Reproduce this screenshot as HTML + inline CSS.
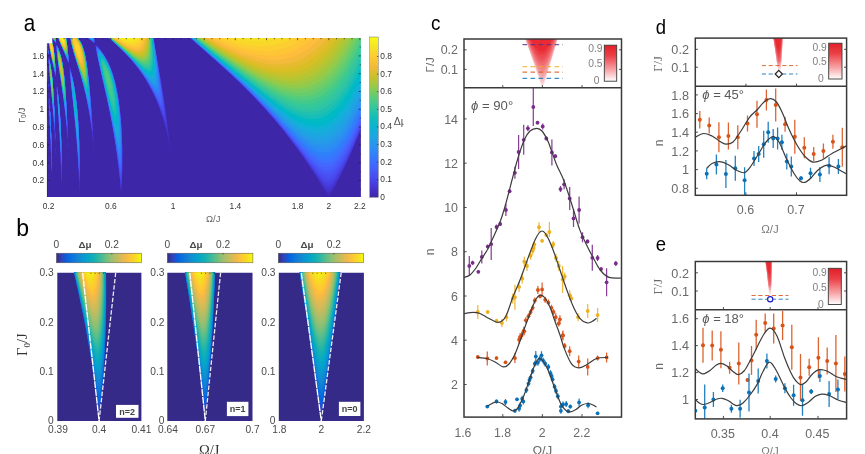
<!DOCTYPE html>
<html><head><meta charset="utf-8"><title>figure</title>
<style>html,body{margin:0;padding:0;background:#fff}svg{display:block;font-family:"Liberation Sans",sans-serif}</style>
</head><body>
<svg width="865" height="454" viewBox="0 0 865 454">
<rect width="865" height="454" fill="#fff"/>
<defs><clipPath id="ca"><path d="M52.3 38H360.9V197H47.1V43.3H52.3z"/></clipPath></defs>
<defs><filter id="ba" x="-2%" y="-2%" width="104%" height="104%"><feGaussianBlur stdDeviation="0.55"/></filter></defs>
<g clip-path="url(#ca)"><g filter="url(#ba)"><rect x="43" y="34" width="322" height="167" fill="#3e26a8"/>
<path fill="#412cb9" d="M45.1 36l1.5 0 0 0.5 0.5 0.5 0 2 0.5 0.5 0 3.5 0.5 0.5 0 6 0.5 0.5 0 4 -0.5 0.5 -0.5-0.5 0-1.5 -0.5-0.5 0-1 -0.5-0.5 0-1.5 -0.5-0.5 0-1 -0.5-0.5 0-1.5 -0.5-0.5zM48.1 36l1 0 1 1 0 0.5 0.5 0.5 0 0.5 0.5 0.5 0 0.5 0.5 0.5 0 1 0.5 0.5 0 1 0.5 0.5 0 1 0.5 0.5 0 1.5 0.5 0.5 0 2.1 0.4 0.4 0.1 0.5 0 3 0.5 0.5 0 4 0.5 0.5 0 5.5 0.5 0.5 0 6.5 0.4 0.5 0.1 5.5 -0.5 0.5 -0.5-0.5 0-2 -0.5-0.5 0-2 -0.4-0.5 -0.1-2.1 -0.4-0.4 -0.1-2 -0.5-0.5 0-2 -0.5-0.5 0-2 -0.5-0.5 0-1.5 -0.5-0.5 0-2 -0.5-0.5 0-2 -0.5-0.5 0-2 -0.5-0.5 0-2 -0.5-0.5 0-3 -0.5-0.5 0-3.5 -0.5-0.5 0-5zM51.6 36l4 0 0.4 0.5 0.1 5.5 0.4 0.5 0 1 -0.4 0.4 -0.4-0.4 -0.1-0.5 -0.5-0.5 0-0.5 -0.5-0.5 0-0.5 -1-1 0-0.5 -0.5-0.5 0-0.5 -0.5-0.5 0-0.5 -1-1zM57.6 36l8 0 0.5 0.5 0 1.5 0.5 0.5 0 2.5 0.5 0.5 0 3 0.5 0.5 0 4 0.5 0.5 0 4 0.4 0.5 0.1 4.5 0.4 0.5 0 0.5 -0.1 4 -0.3 0.3 -0.3-0.3 -0.2-1 -0.4-0.5 -0.1-1 -0.4-0.5 -0.1-1 -0.5-0.5 0-1 -0.5-0.5 0-0.6 -0.4-0.4 -0.1-1 -0.5-0.5 0-0.6 -0.4-0.4 -0.1-1 -0.5-0.5 0-0.5 -0.5-0.5 0-1 -0.5-0.5 0-0.5 -0.5-0.5 0-0.5 -0.5-0.5 0-0.6 -0.4-0.4 -0.1-1 -0.5-0.5 0-0.5 -0.5-0.5 0-1 -0.5-0.5 0-0.5 -0.5-0.5 0-1 -0.5-0.5 0-0.5 -0.5-0.5 0-1 -0.5-0.5 0-1.5zM69.7 36l6.9 0 1 1 0 0.5 1.5 1.5 0 0.5 1 1 0 0.5 0.5 0.5 0.5 1.1 0.4 0.4 0.1 1 0.5 0.5 0 0.5 0.5 0.5 0 0.6 0.4 0.4 0.1 1 0.5 0.5 0 1 0.5 0.5 0 1.5 0.5 0.5 0 1.5 0.5 0.5 0 1.5 0.5 0.5 0 2 0.5 0.5 0 2 0.4 0.5 0.1 2.5 0.4 0.5 0.1 3 0.5 0.5 0 3.2 0.3 0.3 0.2 0.5 0 3.5 0.5 0.5 0 3.8 0.5 0.7 0 4 0.4 0.5 0.1 4.5 0.4 0.5 0 0.5 0.1 4.5 0.4 0.5 0 0.5 0.1 5 0.4 0.5 0.1 5.5 0.4 0.5 0.1 6 0.4 0.5 0.1 6 0.4 1 0.1 6.5 0.3 0.5 0.1 0.5 0 7 0.4 0.5 0.1 0.5 0 7.5 0.4 1 0.1 1.5 -0.1 4 -0.2 1 -0.2 0 -0.2-0.5 0-5.5 -0.5-0.5 0-0.5 -0.1-4.5 -0.4-0.5 -0.1-4 -0.1-0.4 -0.4-0.6 0-3.5 -0.4-0.5 -0.1-0.5 -0.1-3 -0.4-1 -0.1-3 -0.4-0.5 -0.1-3 -0.4-0.5 -0.1-2.5 -0.3-0.5 -0.1-0.5 -0.1-2.5 -0.4-0.5 -0.1-2.2 -0.3-0.3 -0.1-0.5 -0.1-2 -0.4-0.5 -0.1-2 -0.4-0.5 -0.1-2 -0.4-0.5 -0.1-2.1 -0.4-0.4 -0.1-2 -0.4-0.5 -0.1-2 -0.5-0.5 0-1.5 -0.5-0.5 0-1.5 -0.4-0.5 -0.1-1.5 -0.4-0.5 -0.1-1.6 -0.4-0.4 -0.1-1.5 -0.5-0.5 0-1.5 -0.5-0.5 0-1.5 -0.5-0.5 0-1 -0.5-0.5 0-1.5 -0.5-0.5 0-1 -0.5-0.5 0-1.5 -0.5-0.5 0-1 -0.5-0.5 0-1.1 -0.4-0.4 -0.1-1.5 -0.5-0.5 0-1 -0.5-0.5 0-1 -0.5-0.5 0-1 -0.5-0.5 0-1.5 -0.5-0.5 0-1 -0.5-0.5 0-1 -0.5-0.5 0-1 -0.5-0.5 0-1.5 -0.5-0.5 0-1 -0.5-0.5 0-1.5 -0.5-0.5 0-1 -0.5-0.5 0-1.5 -0.5-0.5 0-1.5 -0.5-0.5 0-1.5 -0.5-0.5 0-2 -0.5-0.5 0-2 -0.5-0.5 0-2.1zM85.6 36l8.5 0 0 1.5 0.4 0.5 0.1 2.5 0.4 0.5 0 2 -0.2 0.5 -0.2 0.2 -4.5-4.2 -0.5-0.1 -2-1.9 -0.5 0zM107.1 36l46 0 0.4 0.5 0.1 2.5 0.4 0.5 0.1 2.2 0.3 0.3 0.1 0.5 0.1 2 0.4 0.5 0.1 0.5 0 2 0.4 0.5 0.1 2.5 0.4 0.5 0.1 2.5 0.4 0.5 0.1 2.3 0.4 0.7 0.1 2 0.4 0.5 0 0.5 0.1 2 0.4 0.5 0.1 2.5 0.4 0.5 0.1 2.5 0.4 0.5 0.1 2 0.3 0.5 0.1 0.5 0.1 2 0.4 0.5 0.1 2.5 0.4 0.5 0.1 2.5 0.4 0.5 0.1 2.5 0.4 0.5 0.1 2.5 0.4 0.5 0.1 2.5 0.4 0.5 0 2.5 0.5 0.5 0 2.5 0.5 0.5 0 2.5 0.4 0.5 0.1 2.5 0.5 1 0 2.5 0.4 0.5 0.1 2.5 0.5 1 0 2.5 0.4 0.5 0.1 0.5 0 2.5 0.4 0.5 0.1 3 0.4 0.5 0.1 3 0.3 0.5 0.1 0.5 0.1 2.5 0.4 1 0.1 3 0.4 1 0.1 3 0.3 1 0.1 3 0.4 1.5 0.1 3 0.4 1.5 0.1 3 0.3 1.5 0.1 3.5 0.4 1.5 -0.1 3 -0.1-2.5 -0.5-1 -0.2-2.5 -0.4-1 -0.1-2 -0.4-1 -0.1-2 -0.3-0.5 -0.2-2 -0.4-1 -0.1-1.5 -0.4-1 -0.1-1.5 -0.5-1 -0.1-1.5 -0.3-0.5 -0.2-1.5 -0.3-0.5 -0.2-1.5 -0.4-1 -0.1-1 -0.4-1 -0.1-1 -0.3-0.5 -0.2-1.5 -0.4-0.5 -0.2-1.4 -0.3-0.6 -0.1-1 -0.4-0.5 -0.1-1 -0.3-0.5 -0.3-1.5 -0.4-0.5 0-1 -0.5-0.5 0-1 -0.5-0.5 0-1 -0.5-0.5 0-1 -0.5-0.5 -0.1-0.8 -0.2-0.2 -0.3-1.2 -0.3-0.3 -0.1-1 -0.5-0.5 -0.1-0.8 -0.4-0.7 0-0.5 -0.5-0.5 -0.1-0.9 -0.4-0.6 0-0.5 -0.5-0.5 -0.1-0.7 -0.3-0.3 -0.1-1 -0.5-0.5 0-0.5 -0.5-0.5 0-0.5 -0.5-0.5 -0.1-0.7 -0.3-0.3 -0.2-1 -0.4-0.5 0-0.5 -0.5-0.5 0-0.5 -0.5-0.5 0-0.5 -0.5-0.5 -0.1-0.5 -0.4-0.5 -0.1-0.5 -0.4-0.5 -0.1-0.5 -0.4-0.5 -0.1-0.5 -0.8-1 -0.2-0.6 -0.4-0.4 -0.1-0.5 -0.4-0.5 -0.1-0.5 -0.4-0.5 -0.1-0.5 -0.9-1 -0.1-0.5 -0.4-0.5 -0.1-0.5 -0.9-1 -0.1-0.5 -0.4-0.5 -0.1-0.5 -0.9-1 -0.1-0.5 -0.9-1 -0.1-0.5 -0.9-1 -0.1-0.5 -0.9-1 -0.1-0.5 -1.4-1.5 -0.1-0.5 -1.4-1.5 -0.1-0.5 -1.4-1.5 -0.1-0.5 -1.9-2 -0.1-0.5 -2.4-2.5 -0.1-0.5 -4.4-4.5 -0.6-1 -6.5-6.5 -1-0.6 -5.5-5.4 -1-0.5zM188.2 36l174.4 0 0 88.8 -0.2 1.2 -0.4 0.5 0 0.5 -0.4 0.6 -0.2 0.9 -0.4 0.5 -0.1 1 -0.4 0.5 -0.1 0.5 -0.4 0.5 -0.1 1 -0.3 0.3 -0.1 0.7 -0.4 0.5 -0.2 1 -0.3 0.3 -0.1 0.7 -0.4 0.5 -0.2 1 -0.3 0.3 -0.1 0.7 -0.5 0.5 -0.1 1 -0.4 0.5 -0.1 0.5 -0.4 0.5 -0.2 1 -0.3 0.5 -0.1 0.5 -0.4 0.5 0 0.5 -0.4 0.6 -0.2 0.9 -0.4 0.5 -0.1 0.5 -0.4 0.5 0 0.5 -0.6 1.5 -0.4 0.5 -0.1 0.5 -0.4 0.5 -0.1 0.5 -0.3 0.6 -0.2 0.9 -0.4 0.5 -0.1 0.5 -0.4 0.5 -0.1 0.5 -0.4 0.5 -0.1 0.5 -0.5 1.5 -0.4 0.5 -0.1 0.5 -0.4 0.5 -0.1 0.5 -0.4 0.5 -0.1 0.5 -0.3 0.5 -0.8 2 -0.8 1.5 -0.1 0.5 -0.4 0.5 -0.1 0.5 -0.4 0.5 -0.1 0.5 -0.4 0.5 -0.1 0.5 -0.3 0.5 -2.8 6 -0.4 0.5 -0.1 0.5 -0.4 0.5 -0.1 0.5 -0.4 0.5 -0.1 0.5 -0.4 0.5 -1.7 3.5 -2.9 5.5 -0.4 0.5 -0.1 0.5 -0.4 0.5 -0.2 0.5 -3.1 5.5 -1 1.4 -0.5 0.5 -0.5 0 -0.5-0.3 -1-1.3 -2.1-3.3 -0.1-0.5 -1.4-2 -0.2-0.5 -1.9-3 -0.2-0.5 -0.7-1 -0.2-0.5 -0.4-0.5 -0.2-0.5 -2.3-3.5 -0.1-0.5 -1.5-2 -0.1-0.5 -0.8-1 -0.2-0.5 -0.8-1 -0.2-0.5 -1.4-2 -0.1-0.5 -0.9-1 -0.1-0.5 -0.9-1 -0.1-0.5 -0.9-1 -0.1-0.5 -0.9-1 -0.1-0.5 -0.9-1 -0.1-0.5 -0.9-1 -0.1-0.5 -0.9-1 -0.1-0.5 -0.9-1 -0.1-0.5 -0.9-1 -0.6-1 -0.8-1 -0.2-0.5 -0.9-1 -0.1-0.5 -0.9-1 -0.6-1 -0.9-1 -0.1-0.5 -1-1 -0.5-1 -0.9-1 -0.1-0.5 -1.4-1.5 -0.1-0.5 -1.4-1.5 -0.1-0.5 -1.4-1.5 -0.1-0.5 -1.4-1.5 -0.1-0.5 -1.5-1.5 -0.5-1 -1.4-1.5 -0.1-0.5 -1.5-1.5 -0.5-1 -1.5-1.5 -0.5-1 -1.9-2 -0.1-0.5 -2-2 -0.5-1 -2-2 -0.5-1 -2.4-2.5 -0.1-0.5 -2.9-3 -0.2-0.5 -3.4-3.5 -0.4-0.5 -0.1-0.5 -4.4-4.5 -0.6-1 -6.9-7 -0.7-1 -15-15 -1.5-1.1 -7.5-7.4 -1-0.6 -5-4.9 -1-0.6 -4.5-4.4 -0.5-0.1 -4-3.9 -0.5-0.1 -4-3.9 -0.5-0.1 -3.5-3.4 -0.5-0.1 -0.5-0.5 -3.5-3.4 -0.5-0.1 -4-3.9 -0.5-0.1 -0.5-0.5 -4.5-4.4 -1-0.6zM56.6 44.6l0.4 0.4 0.1 0.5 0.5 0.5 0 0.6 0.4 0.4 0.1 1 0.5 0.5 0 0.5 0.5 0.5 0 1 0.5 0.5 0 1 0.5 0.5 0 1 0.5 0.5 0 1.5 0.5 0.5 0 1 0.5 0.5 0 2 0.5 0.5 0 1.5 0.5 0.5 0 2.5 0.5 0.5 0 2.5 0.5 0.5 0 3 0.5 0.5 0 3.5 0.5 0.5 0 4.5 0.5 0.5 0 5 0.4 0.5 0.1 6 0.4 0.5 0.1 0.5 0 6.5 0.4 0.5 0.1 0.5 0 7.5 0.4 0.5 0 0.5 0.1 8.5 0.3 0.5 0.1 0.5 0.1 10 0.4 0.5 0.1 3 -0.1 7.5 -0.1 0.5 -0.3 0.3 -0.3-0.3 -0.1-0.5 -0.1-6.5 -0.4-0.5 -0.1-6 -0.4-0.5 -0.1-5 -0.4-0.5 -0.1-4.5 -0.4-0.5 -0.1-4.5 -0.5-0.5 0-3.7 -0.3-0.3 -0.2-0.5 0-3.5 -0.5-0.5 0-3.2 -0.3-0.3 -0.2-0.5 0-3 -0.5-0.5 0-3 -0.5-0.5 0-3 -0.5-0.5 0-3 -0.5-0.5 0-2.5 -0.5-0.5 0-3 -0.5-0.5 0-2.5 -0.5-0.5 0-3 -0.5-0.5 0-2.5 -0.4-0.5 -0.1-3 -0.5-0.5 0-3.5 -0.5-0.5 0-3.5 -0.5-0.5 0-3.6 -0.4-0.4 -0.1-0.5 0-4 -0.4-0.5 -0.1-0.5 0.1-2zM95.6 44.6l3.9 3.9 0.1 0.5 1.4 1.5 0.1 0.5 1.4 1.5 0.1 0.5 0.9 1 0.1 0.5 0.9 1 0.1 0.5 0.5 0.5 0 0.5 0.9 1 0.1 0.5 0.5 0.5 0 0.5 0.5 0.5 0 0.5 0.5 0.5 0 0.5 0.5 0.5 0 0.5 0.5 0.5 0 0.5 0.5 0.5 0 0.5 0.5 0.5 0 0.6 0.4 0.4 0.1 1 0.5 0.5 0 0.6 0.4 0.4 0.1 1 0.5 0.5 0 0.7 0.3 0.3 0.2 1.1 0.4 0.4 0.1 1.1 0.4 0.4 0.1 1.1 0.4 0.4 0.1 1.5 0.5 0.5 0 1 0.4 0.5 0.1 1.5 0.5 0.5 0 1.5 0.5 0.5 0 1.5 0.5 0.5 0 1.5 0.4 0.5 0.1 2 0.5 0.5 0 2 0.4 0.5 0.1 2 0.4 0.5 0.1 2.5 0.4 0.5 0.1 2.5 0.4 0.5 0.1 3 0.4 0.5 0.1 3.5 0.4 0.5 0.1 4 0.4 0.5 0.1 4.5 0.4 0.5 0.1 5.5 0.4 0.5 0 0.5 0.1 6.5 0.3 0.5 0.1 1 0.1 10 0.3 0.5 0.1 1 0 31.5 -0.1 2 -0.4 1 -0.1 10.5 -0.1 1 -0.3 1 -0.2 5 -0.2 0.7 -0.2-0.7 -0.2-5 -0.4-1.5 -0.1-5 -0.3-0.5 -0.1-0.5 -0.1-4.5 -0.5-1 0-4 -0.5-1 -0.1-4 -0.4-0.5 -0.1-4 -0.4-0.5 -0.1-3.5 -0.4-0.5 -0.1-3.5 -0.4-0.5 -0.1-3 -0.4-1 -0.1-3 -0.4-0.5 -0.1-2.7 -0.4-0.8 -0.1-2.5 -0.4-0.5 -0.1-2.8 -0.4-0.7 -0.1-2.5 -0.4-0.5 -0.1-2.5 -0.4-0.5 -0.1-2.3 -0.4-0.7 -0.1-2 -0.4-0.5 -0.1-2.5 -0.4-0.5 -0.1-2 -0.4-0.5 -0.1-2 -0.4-0.5 -0.1-0.5 0-2 -0.4-0.5 -0.1-2 -0.4-0.5 -0.1-2 -0.5-0.5 0-1.7 -0.3-0.3 -0.2-0.5 0-1.5 -0.4-0.5 -0.1-2 -0.4-0.5 -0.1-2 -0.5-0.5 0-1.5 -0.4-0.5 -0.1-2 -0.4-0.5 -0.1-1.6 -0.4-0.4 -0.1-2 -0.4-0.5 -0.1-1.5 -0.4-0.5 -0.1-2 -0.5-0.5 0-1.5 -0.4-0.5 -0.1-2 -0.5-0.5 0-1.5 -0.5-0.5 0-1.5 -0.4-0.5 -0.1-2 -0.5-0.5 0-1.5 -0.4-0.5 -0.1-1.6 -0.4-0.4 -0.1-2 -0.5-0.5 0-1.5 -0.4-0.5 -0.1-2 -0.5-0.5 0-1.6 -0.4-0.4 -0.1-2 -0.4-0.5 -0.1-2 -0.5-0.5 0-1.8 -0.5-0.7 0-1.5 -0.4-0.5 -0.1-2.2 -0.3-0.3 -0.1-0.5 -0.1-2 -0.4-0.5 -0.1-2 -0.4-0.5 0-1zM45.1 50.5l0.5 0.5 0 2 0.5 0.5 0 2.5 0.5 0.5 0 3.5 0.5 0.5 0 5 0.5 0.5 0 7.2 0.5 0.8 0 9 0.4 0.5 0.1 0.5 -0.1 3.5 -0.4 0.4 -0.4-0.4 0-4 -0.6-0.5 0-3.5 -0.5-0.5 0-3.5 -0.5-0.5 0-3 -0.5-0.5 0-3.5 -0.5-0.5zM48.6 56.1l0.4 0.4 0 0.5 -0.4 0.4 -0.4-0.4 0-0.5zM49.1 58.1l0.4 0.4 0.1 2 0.5 0.5 0 2 0.5 0.5 0 2 0.5 0.5 0 2.6 0.4 0.4 0.1 0.5 0 3 0.5 0.5 0 3.5 0.5 0.5 0 4.5 0.5 0.5 0 5.6 0.4 0.4 0.1 0.5 0 7 0.5 0.5 0 9 0.5 0.5 0 11 0.4 0.5 0.1 0.5 0 13 0.4 0.5 0 0.5 0 9 0 0.5 -0.4 0.4 -0.4-0.4 0-9 -0.4-0.5 -0.1-0.5 -0.1-7.5 -0.4-0.5 -0.1-6.5 -0.4-0.5 -0.1-6 -0.4-0.5 -0.1-5.5 -0.5-0.5 0-5 -0.5-0.5 0-5 -0.5-0.5 0-4.5 -0.4-0.5 -0.1-0.5 0-4.5 -0.5-0.5 0-5 -0.5-0.5 0-5 -0.4-0.5 -0.1-0.5 0-5.5 -0.5-0.5 0.1-6zM69.1 64.2l0.3 0.3 -0.1 0.5 -0.2 0.2 -0.2-0.2 -0.1-0.5zM69.6 66.6l0.4 0.4 0 1 0.5 0.5 0.1 1.5 0.4 0.5 0.1 1.5 0.5 0.5 0 1.5 0.5 0.5 0 1.5 0.5 0.5 0 1.5 0.4 0.5 0.1 2 0.5 0.5 0 2 0.5 0.5 0 2 0.4 0.5 0.1 2.5 0.5 0.5 0 2.5 0.4 0.5 0.1 3 0.4 0.5 0.1 3.5 0.5 0.5 0 3.5 0.4 0.5 0.1 4.4 0.5 0.6 0 4.5 0.4 0.5 0.1 0.5 0 5.5 0.4 0.5 0.1 7 0.4 0.5 0 0.5 0.1 9 0.4 0.5 0 0.5 0.1 13.5 0.4 0.5 0 1.5 0 35.5 -0.1 5 -0.3 1.8 -0.2-1.3 -0.1-2 -0.1-11.5 -0.4-0.5 -0.1-1 -0.1-9.5 -0.4-1 -0.1-8.5 -0.4-0.5 -0.1-7 -0.4-1 -0.1-6.5 -0.4-0.5 -0.1-5.8 -0.4-0.7 -0.1-5.4 -0.4-0.6 -0.1-5 -0.4-0.5 -0.1-5 -0.4-0.5 -0.1-4.5 -0.4-0.5 -0.1-4.5 -0.4-0.5 -0.1-4.5 -0.5-0.5 0-4 -0.4-0.5 -0.1-4.2 -0.5-0.8 0-4 -0.5-0.5 0-4 -0.4-0.5 -0.1-4.2 -0.3-0.3 -0.2-0.5 0-4 -0.4-0.5 -0.1-4.5 -0.4-0.5 -0.1-4 -0.4-1 0-0.5 0-1zM56.1 77.6l0.4 0.4 0 0.5 0 0.5 -0.4 0.4 -0.4-0.4 0-0.5 0-0.5zM45.1 79.6l0.4 0.4 0.1 0.5 0 5 0.5 0.5 0 7 0.5 0.5 0 9 0.4 0.5 0.1 0.5 0 12 0.4 0.5 0.1 4 -0.1 10 -0.4 0.4 -0.4-0.4 -0.1-9.5 -0.4-0.5 -0.1-8 -0.5-1 0-7 -0.4-0.5 -0.1-0.5zM56.6 82.6l0.4 0.4 0 1 0 1 -0.4 0.4 -0.4-0.4 0-1 0-1zM57.1 85.7l0.3 0.3 0.2 0.5 0 3 0.4 0.5 0.1 3.5 0.4 0.5 0.1 4 0.4 0.5 0.1 4.5 0.4 0.5 0.1 0.5 0 5 0.4 0.5 0.1 6.5 0.4 0.5 0.1 8 0.4 0.5 0.1 10.5 0.4 0.5 0.1 0.5 0 15 0.3 0.5 0.2 2 -0.1 27 -0.1 2 -0.3 0.3 -0.3-0.3 -0.1-1 -0.1-16 -0.3-0.5 -0.1-0.5 -0.1-12 -0.4-0.5 0-0.5 -0.1-9.5 -0.4-1 -0.1-8.5 -0.4-0.5 -0.1-0.5 0-7.5 -0.4-0.5 -0.1-0.5 0-7.5 -0.5-0.5 0-7 -0.4-0.5 -0.1-7 -0.4-0.5 -0.1-7 -0.4-1 -0.1-6 0.2-0.5zM48.6 92.6l0.4 0.4 -0.1 0.5 -0.3 0.3 -0.3-0.3 -0.1-0.5zM49.1 97.6l0.4 0.4 0.1 0.5 -0.1 5.5 0.6 0.5 0 6.5 0.4 0.5 0.1 0.5 0 8 0.5 0.5 0 11 0.4 0.5 0.1 16 0.3 0.5 0.1 0.5 0.1 5 -0.1 17 0 1 -0.4 0.4 -0.4-0.4 0-0.5 -0.1-18 -0.4-0.5 -0.1-0.5 0-13.5 -0.4-0.5 -0.1-11.5 -0.4-0.5 -0.1-0.5 0-10.5 -0.4-0.5 -0.1-0.5 0-10 -0.4-0.5 -0.1-0.5 0-5 0.1-0.5zM47.6 132.6l0.4 0.4 0.1 4.5 -0.1 4.5 0 0.5 -0.4 0.4 -0.4-0.4 0-0.5 -0.1-4.5 0.1-4.5zM45.1 138.6l0.4 0.4 0.1 0.5 0 7.5 -0.1 9.5 -0.1 0.5 -0.3 0.3zM68.1 140.8l0.4 0.7 0 3 0 3.5 -0.1 0.5 -0.3 0.3 -0.3-0.3 -0.1-0.5 0-3.5 0-3zM55.6 147.7l0.3 0.3 0.1 0.5 0 2.5 0 2.5 -0.4 0.7 -0.4-0.7 0-2.5 0-2.5 0.1-0.5zM94.1 153.4l0.2 0.6 0.1 1.5 -0.1 1.5 -0.2 1 -0.2-1 -0.1-1.5 0.1-1.5zM48.1 155.7l0.3 0.3 0.1 2 -0.1 1.5 -0.1 0.5 -0.2 0.2 -0.2-0.2 -0.1-0.5 -0.1-1.5 0.1-2zM68.6 155.9l0.3 0.6 0 1.5 0 1.5 -0.3 0.7 -0.3-0.7 0-1.5 0-1.5zM45.6 167.7l0.3 0.3 0.1 0.5 0.1 7 -0.1 11 -0.1 1 -0.3 0.7 -0.3-0.7 -0.1-1 -0.1-11 0.1-7 0.1-0.5z"/>
<path fill="#4332c9" d="M45.1 36l1.5 0 0 0.5 0.5 0.5 0 2 0.5 0.5 0 3.5 0.4 0.5 0.1 0.5 0 5.5 0.4 0.5 0 0.5 0 3.5 -0.4 0.4 -0.4-0.4 0-1.5 -0.5-0.5 -0.1-1 -0.4-0.5 -0.1-1.5 -0.5-0.5 0-1 -0.4-0.5 -0.1-1.5 -0.5-0.5zM48.2 36l0.9 0.1 0.4 0.4 0.5 0.5 0.1 0.6 0.4 0.4 0.1 0.5 0.4 0.5 0.1 0.6 0.4 0.4 0.1 1 0.5 0.5 0 1 0.5 0.5 0 1 0.4 0.5 0.1 1.5 0.4 0.5 0.1 2.4 0.5 0.6 0 3 0.4 0.5 0.1 4 0.4 0.5 0.1 5.5 0.4 0.5 0 0.5 0.1 6 0.3 0.5 0.1 0.5 0 5 -0.4 0.4 -0.4-0.4 0-2 -0.5-0.5 0-2 -0.4-0.5 -0.1-0.5 -0.1-1.7 -0.3-0.3 -0.2-2 -0.4-0.5 -0.1-2 -0.4-0.5 -0.1-2 -0.5-0.5 0-1.5 -0.4-0.5 -0.1-2 -0.5-0.5 0-2 -0.5-0.5 0-2 -0.5-0.5 0-2 -0.4-0.5 -0.1-3 -0.5-0.5 0-3.5 -0.4-0.5 0-5zM51.6 36l4 0 0.4 1 0 5 0.4 0.5 0 1 -0.3 0.3 -0.3-0.3 -0.1-0.5 -0.5-0.5 0-0.5 -0.5-0.5 -0.1-0.5 -0.9-1 -0.1-0.5 -0.4-0.5 -0.1-0.5 -0.5-0.5 0-0.5 -0.9-1zM57.6 36l8 0 0.4 0.5 0.1 1.5 0.4 0.5 0.1 2.5 0.4 0.5 0.1 3 0.4 0.5 0 0.5 0.1 3.5 0.4 0.5 0.1 4 0.4 1 0 4 0.1 0.4 0.3 0.6 0.1 1 -0.1 2.5 -0.3 0.5 -0.3-0.5 -0.1-0.5 -0.5-1 0-0.5 -0.4-0.5 -0.1-1 -0.5-0.5 0-1 -0.5-0.5 -0.1-0.7 -0.3-0.3 -0.2-1 -0.4-0.5 -0.1-0.7 -0.3-0.3 -0.2-1 -0.4-0.5 -0.1-0.6 -0.4-0.4 -0.1-1 -0.5-0.5 0-0.5 -0.4-0.5 -0.1-0.5 -0.4-0.5 -0.1-0.8 -0.5-0.7 0-0.5 -0.5-0.5 0-0.5 -0.4-0.5 -0.1-1 -0.5-0.5 0-0.5 -0.5-0.5 0-1 -0.5-0.5 0-0.6 -0.4-0.4 -0.1-1.1 -0.4-0.4 -0.1-1.5zM69.8 36l6.7 0 1 1 0.1 0.5 1.4 1.5 0.1 0.5 0.9 1 0.1 0.5 0.4 0.5 0.1 0.5 0.8 1 0.2 1 0.4 0.5 0.1 0.5 0.4 0.5 0.1 0.7 0.3 0.3 0.2 1 0.4 0.5 0.1 1.1 0.4 0.4 0.1 1.5 0.4 0.5 0.1 1.5 0.4 0.5 0.1 1.5 0.4 0.5 0.1 2 0.4 0.5 0.1 2 0.3 0.5 0.1 0.5 0.1 2 0.3 0.5 0.1 0.5 0.1 2.5 0.4 0.5 0.1 3.5 0.4 0.5 0.1 3.5 0.4 0.5 0.1 4 0.4 0.5 0 0.5 0 3.5 0.4 0.5 0.1 0.5 0 4 0.4 1 0.1 4.5 0.4 1 0.1 5 0.4 0.5 0 0.5 0.1 5 0.4 1 0.1 5.5 0.4 1 0.1 5.5 0.4 2 0.1 5.5 0.3 1 0.1 1 0 6 0.3 1 0.1 2 -0.1 6 -0.1 0.1 0-0.1 -0.2-1 0-3.5 -0.4-1 -0.2-3.5 -0.4-1.5 -0.1-3 -0.5-1.5 -0.1-2.5 -0.4-1.5 -0.1-2.5 -0.4-1 -0.1-2.5 -0.3-0.5 -0.1-0.5 -0.1-2 -0.4-1 -0.1-2.5 -0.4-0.5 -0.2-2.5 -0.3-0.5 -0.1-2 -0.4-0.5 -0.1-2 -0.5-1 -0.1-1.9 -0.4-0.6 0-1.5 -0.5-1 0-1.5 -0.4-0.5 -0.1-2 -0.5-0.5 0-1.5 -0.5-0.5 0-1.5 -0.4-0.5 -0.1-1.5 -0.4-0.5 -0.2-1.7 -0.3-0.3 -0.1-1.5 -0.5-0.5 -0.1-1.5 -0.4-0.5 -0.1-1.5 -0.4-0.5 -0.1-1 -0.4-0.5 -0.1-1.5 -0.4-0.5 -0.1-1 -0.4-0.5 -0.1-1.5 -0.4-0.5 -0.1-1 -0.4-0.5 -0.1-1 -0.3-0.5 -0.1-0.5 -0.1-1 -0.4-0.5 -0.1-1 -0.4-0.5 -0.1-1 -0.4-0.5 -0.1-1.1 -0.4-0.4 -0.1-1.5 -0.4-0.5 -0.1-1 -0.4-0.5 -0.1-1 -0.4-0.5 -0.1-1.1 -0.4-0.4 -0.1-1.5 -0.4-0.5 -0.1-1 -0.4-0.5 -0.1-1.5 -0.4-0.5 -0.1-1 -0.4-0.5 -0.1-1.5 -0.4-0.5 -0.1-1.5 -0.4-0.5 -0.1-1.5 -0.4-0.5 -0.1-2 -0.4-0.5 -0.1-2 -0.4-0.5 -0.1-2zM85.7 36l8.3 0 0 1.5 0.4 0.5 0.1 0.5 0 2 0.3 0.5 0.1 0.5 0 1.5 -0.3 0.4 -1-0.7 -3.5-3.3 -0.5-0.1 -2-1.8 -0.5-0.1zM107.1 36l45.9 0 0.4 0.5 0.1 2.5 0.4 0.5 0.2 2.5 0.3 0.5 0.1 2 0.5 1 0 2 0.5 1 0 2 0.4 0.5 0.1 0.5 0 2 0.4 0.5 0.2 2.5 0.3 0.5 0.1 2 0.4 1 0.1 2 0.4 1 0.1 2 0.3 0.5 0.2 2.5 0.4 0.5 0.1 2 0.4 1 0.1 2 0.4 1 0.1 2 0.4 1 0.1 2 0.4 1 0.1 2 0.4 1 0.1 2 0.4 1 0.1 2 0.3 1 0.1 2 0.4 1 0.1 2 0.4 1 0.1 2 0.4 1 0.1 2 0.4 1.5 0.1 2 0.3 1 0.2 2 0.4 1.5 0.1 2 0.3 1.5 0.2 2 0.3 1.5 0.2 2 0.3 1.5 0.1 2 0.3 1.5 0.6 6 0.4 2.1 0.5 4.9 0 4 -0.2-1 -0.3-0.6 -1.1-4.9 -2.6-10 -1.9-6 -0.2-1 -0.3-0.5 -0.2-1 -0.3-0.5 -0.7-2.5 -0.3-0.5 -0.2-1 -0.3-0.5 -1.2-3.5 -0.3-0.5 -1.3-3.5 -0.8-1.5 -0.6-1.5 0-0.5 -0.4-0.5 -0.1-0.5 -0.4-0.5 -1.1-2.5 -0.1-0.5 -0.4-0.5 0-0.5 -0.5-0.5 0-0.5 -0.5-0.5 0-0.5 -0.5-0.5 -0.1-0.5 -0.4-0.5 -0.1-0.5 -0.4-0.5 -0.1-0.5 -0.4-0.5 -0.1-0.5 -0.4-0.5 -1.1-2 -0.4-0.5 -0.1-0.5 -0.4-0.5 -0.1-0.5 -0.8-1 -0.2-0.5 -0.4-0.5 -0.1-0.5 -1.4-2 -0.1-0.5 -0.9-1 -0.1-0.5 -0.9-1 -0.1-0.5 -0.9-1 -0.1-0.5 -0.9-1 -0.1-0.5 -1.4-1.5 -0.1-0.5 -0.9-1 -0.6-1 -1.4-1.5 -0.1-0.5 -1.9-2 -0.1-0.5 -2.4-2.5 -0.1-0.5 -3.9-4 -1.1-1.5 -6.5-6.5 -1.6-1.1 -5.5-5.4 -0.5-0.1 -0.5-0.5zM188.3 36l174.3 0 0 88.5 -4.4 11.5 -5 12 -5.6 12.5 -5.5 11.5 -6 11.4 -4 6.6 -1.5 1.8 -1 0.8 -1 0.2 -0.5-0.1 -1-0.6 -1.5-1.6 -2-2.7 -15.1-23.3 -4.1-6 -8.6-12 -5.4-7 -0.6-1 -9.5-12 -6.8-8 -0.7-1 -5.9-6.5 -1.1-1.5 -3.4-3.5 -1.6-2 -5.4-5.5 -2.2-2.5 -15.1-15.1 -2.5-2.2 -6.5-6.3 -2-1.6 -4-3.9 -2-1.6 -3.5-3.4 -1-0.6 -3.5-3.4 -1-0.6 -3.5-3.4 -0.5-0.2 -3.5-3.3 -1-0.6 -3.5-3.4 -1-0.6 -3.5-3.4 -1.5-1.1 -4-3.9zM56.6 44.7l0.3 0.3 0.1 0.5 0.5 0.5 0.1 0.8 0.4 0.7 0.1 0.5 0.4 0.5 0.1 0.6 0.4 0.4 0.1 1 0.4 0.5 0.1 1 0.4 0.5 0.1 1 0.4 0.5 0.1 1.5 0.4 0.5 0.1 1.1 0.4 0.4 0.1 2 0.4 0.5 0.1 1.5 0.4 0.5 0.1 2.5 0.4 0.5 0.1 2.5 0.4 0.5 0.1 3 0.4 0.5 0.1 3.5 0.4 0.5 0 0.5 0.1 4 0.4 0.5 0 0.5 0.1 4.5 0.3 0.5 0.1 0.5 0.1 5.5 0.3 0.5 0.1 1 0.1 6 0.4 1 0 0.5 0 7 0.4 1 0.1 0.5 0 8 0.4 1 0.1 1.5 0 8.5 0.4 1 0 1.5 0 7 -0.1 1.5 -0.2 0.4 -0.2-0.4 -0.1-1 -0.1-5.5 -0.3-0.5 -0.1-1 -0.1-5 -0.4-0.5 0-0.5 -0.1-4.5 -0.4-0.5 -0.1-0.5 0-4 -0.5-1 0-4 -0.5-0.5 -0.1-4 -0.4-0.5 -0.1-3.5 -0.4-0.5 -0.1-3.5 -0.4-0.5 -0.1-3 -0.4-0.5 -0.1-3 -0.4-0.5 -0.1-3 -0.4-0.5 -0.1-3 -0.4-0.5 -0.1-2.5 -0.4-0.5 0-0.5 -0.1-2.5 -0.4-0.5 -0.1-2.5 -0.4-0.5 -0.1-3 -0.4-0.5 -0.1-2.5 -0.3-0.5 -0.1-0.5 -0.1-2.5 -0.4-0.5 0-0.5 -0.1-3 -0.4-0.5 -0.1-3.5 -0.4-0.5 -0.1-3.9 -0.4-0.6 -0.1-4 -0.4-1 0.1-2zM95.6 44.8l3.3 3.2 0.6 1 1.4 1.5 0.1 0.5 1.4 1.5 0.1 0.5 0.9 1 0.1 0.5 0.9 1 0.1 0.5 0.5 0.5 0 0.5 0.9 1 0.1 0.5 0.5 0.5 0 0.5 0.5 0.5 0 0.5 0.5 0.5 0 0.5 0.5 0.5 0 0.5 0.5 0.5 0 0.5 0.5 0.5 0 0.5 0.5 0.5 0.1 0.7 0.3 0.3 0.1 0.5 0 0.5 0.5 0.5 0.1 0.7 0.3 0.3 0.1 1 0.5 0.5 0.1 1 0.4 0.5 0.1 0.7 0.3 0.3 0.1 1 0.4 0.5 0.2 1.3 0.4 0.7 0 1 0.5 0.5 0 1 0.4 0.5 0.1 1.5 0.5 0.5 0 1.5 0.5 0.5 0 1.5 0.5 0.5 0 1.5 0.4 0.5 0.1 2 0.5 0.5 0 2 0.4 0.5 0.1 2 0.4 0.5 0.1 2.5 0.4 0.5 0.1 2.5 0.5 1 0 2.5 0.4 1 0.1 3 0.4 0.5 0 0.5 0.1 3.5 0.4 0.5 0 0.5 0.1 4 0.3 0.5 0.1 0.5 0.1 5 0.3 0.5 0.1 1 0.1 6 0.4 2 0.1 9.5 0.4 3 -0.1 27.5 -0.4 5.5 -0.2 9 -0.5 5 -0.1 0.8 -0.2-2.8 -0.4-2 -0.2-4 -0.4-2 -0.1-3.5 -0.4-1.5 -0.1-3.5 -0.4-1.5 -0.2-3.5 -0.4-1.5 -0.1-3 -0.4-1 -0.1-3 -0.4-1 -0.1-3 -0.4-1 -0.1-2.5 -0.1-0.6 -0.3-0.4 -0.1-3 -0.4-0.5 -0.2-3 -0.3-0.5 0-0.5 -0.1-2 -0.4-1 -0.2-2.5 -0.3-0.5 -0.1-2.5 -0.4-0.5 -0.1-2.5 -0.4-0.5 -0.2-2.5 -0.3-0.5 -0.1-2 -0.5-1 0-2 -0.4-0.5 -0.1-2 -0.4-0.5 -0.1-2 -0.5-1 0-2 -0.4-0.5 -0.1-2 -0.4-0.5 -0.1-2 -0.5-0.5 -0.1-2 -0.4-0.5 0-1.5 -0.5-1 0-1.5 -0.4-0.5 -0.1-2 -0.5-0.5 0-1.5 -0.5-1 0-1.5 -0.4-0.5 -0.2-1.8 -0.4-0.7 0-1.5 -0.4-0.5 -0.1-1.5 -0.5-1 0-1.5 -0.5-0.5 0-1.5 -0.4-0.5 -0.1-0.5 -0.1-1.5 -0.4-0.5 0-1.5 -0.5-0.5 0-1.5 -0.5-1 0-1.5 -0.5-0.5 0-1.5 -0.4-0.5 -0.2-1.8 -0.4-0.7 0-1.5 -0.5-0.5 0-1.5 -0.5-1 0-1.5 -0.5-0.5 0-1.5 -0.5-1 0-1.5 -0.4-0.5 -0.1-2 -0.5-0.5 -0.1-2 -0.4-0.5 0-1.5 -0.5-1 -0.1-2 -0.3-0.5 -0.1-2 -0.4-0.5 -0.1-2 -0.3-1 0-0.5zM45.1 50.5l0.5 0.5 0 2 0.5 0.5 0 2.5 0.4 0.5 0.1 3.5 0.4 0.5 0.1 5 0.4 0.5 0 0.5 0.1 7 0.4 0.5 0 0.5 0 8.5 0.4 0.5 0.1 1 0 2.5 -0.1 0.5 -0.3 0.3 -0.3-0.3 -0.1-0.5 0.1-3.5 -0.6-0.5 -0.1-3.5 -0.4-0.5 -0.1-3.5 -0.4-0.5 -0.1-3 -0.4-0.5 -0.1-3.5 -0.4-0.5zM48.6 56.3l0.2 0.2 0.1 0.5 -0.3 0.3 -0.3-0.3 0.1-0.5zM49.1 58.2l0.3 0.3 0.1 0.5 0.1 1.5 0.4 0.5 0.1 2 0.4 0.5 0.1 2 0.4 0.5 0.1 2.8 0.4 0.7 0.1 3 0.4 0.5 0.1 3.5 0.4 0.5 0.1 4.5 0.4 0.5 0 0.5 0.1 5.4 0.4 0.6 0.1 7 0.4 0.5 0 0.5 0.1 8.5 0.4 0.5 0 0.5 0.1 10.5 0.3 0.5 0.1 1 0 12.5 0.3 0.5 0.2 1.5 -0.1 7.5 -0.1 1 -0.2 0.2 -0.2-0.2 -0.2-1.5 0.1-7.5 -0.5-1 -0.1-0.5 0-7 -0.4-0.5 -0.2-6.5 -0.3-0.5 -0.1-0.5 -0.1-5.5 -0.3-0.5 -0.1-0.5 -0.1-5 -0.4-0.5 0-0.5 -0.1-4.5 -0.4-0.5 0-0.5 -0.1-4.5 -0.4-0.5 -0.1-4.8 -0.4-0.7 -0.1-4.5 -0.4-0.5 -0.1-5 -0.4-0.5 -0.1-5 -0.4-1 -0.1-5.5 -0.4-0.5 0-0.5 0-5 0.1-0.5zM69.6 66.9l0.3 0.6 0 0.5 0.5 1 0.1 1 0.4 0.5 0.1 1.5 0.5 0.5 0 1.5 0.5 0.5 0 1.5 0.5 0.5 0 1.5 0.4 0.5 0.1 0.5 0 1.5 0.5 0.5 0 2 0.5 0.5 0 2 0.4 0.5 0.1 2.5 0.5 0.5 0 2.5 0.4 0.5 0.1 0.5 0 2.5 0.4 0.5 0.1 0.5 0.1 3 0.4 0.5 0.1 3.5 0.3 0.5 0.1 0.5 0.1 4 0.4 0.5 0 0.5 0 4 0.5 1 0 5.5 0.4 0.5 0.1 1 0 6 0.5 1.5 0 8.5 0.3 0.5 0.2 2 0 12 0.3 1 0.1 2.5 0 26.5 -0.3 11.2 -0.3-11.7 -0.4-1.5 -0.1-1.5 -0.1-8 -0.4-2 -0.1-7.5 -0.3-0.5 -0.1-1 -0.1-6 -0.4-1.5 -0.2-6 -0.3-0.5 -0.1-0.5 0-5 -0.1-0.6 -0.3-0.4 -0.1-0.5 -0.1-5 -0.3-0.5 -0.1-5 -0.4-0.5 -0.1-0.5 0-4.5 -0.4-0.5 -0.2-4.5 -0.3-0.5 -0.1-0.5 -0.1-4 -0.3-0.5 -0.1-0.5 -0.1-4 -0.4-0.5 -0.1-4 -0.3-0.5 -0.1-0.5 -0.1-4 -0.4-0.5 0-0.5 -0.1-3.5 -0.4-0.5 -0.1-4 -0.3-0.5 -0.1-0.5 -0.1-4 -0.4-0.5 0-4 -0.4-0.5 -0.1-0.5 0-4 -0.4-0.5 -0.1-0.5 0-4 -0.3-0.5 -0.1-0.5 0-0.5zM56.1 77.9l0.2 0.6 0 0.5 -0.2 0.2 -0.2-0.2 0-0.5zM45.1 79.7l0.3 0.3 0.1 0.5 0.1 5 0.4 0.5 0.1 7 0.4 0.5 0 0.5 0.1 8.5 0.3 0.5 0.1 0.5 0.1 12 0.3 0.5 0.1 0.5 0 3.5 0 9 -0.1 1 -0.3 0.3 -0.3-0.3 -0.1-0.5 0-9 -0.4-0.5 -0.1-0.5 -0.1-7.5 0-0.5 -0.4-0.5 -0.1-7 -0.4-1zM56.6 82.8l0.2 0.2 0.1 1 -0.1 1 -0.2 0.2 -0.2-0.2 -0.1-1 0.1-1zM57.1 86l0.4 0.5 0 3 0.4 0.5 0.1 3.5 0.4 0.5 0.1 4 0.4 0.5 0.1 0.5 0.1 4 0.3 0.5 0.1 0.5 0.1 5 0.3 0.5 0.1 0.5 0.1 6 0.3 0.5 0.1 0.5 0.1 7.5 0.3 0.5 0.1 0.5 0.1 10 0.3 0.5 0.1 1.5 0 14 0.4 1 0.1 3 -0.1 22.5 -0.1 3.5 -0.2 1.4 -0.2-0.9 -0.1-2.5 -0.1-13.5 -0.4-1 0-1 -0.1-11 -0.3-0.5 -0.2-1 0-9 -0.5-1.5 -0.1-8 -0.4-1 -0.1-7.5 0-0.4 -0.4-0.6 0-0.5 -0.1-7 -0.4-0.5 -0.1-7 -0.3-0.5 -0.1-0.5 -0.1-6.5 -0.4-1 0-6.5 -0.1-0.5 -0.3-0.5 -0.1-0.5 0-5 0-0.5zM49.1 97.8l0.2 0.2 0.2 1 -0.1 5 0.6 0.5 0 6.5 0.4 0.5 0.1 0.5 0.1 8 0.4 0.5 0 1 0.1 10 0.3 0.5 0.1 1 0 15 0.4 1.5 0.1 5.5 0 15 -0.1 1.5 -0.3 0.7 -0.3-0.7 -0.1-2 0-16 -0.4-0.5 -0.1-1.5 0-12.5 -0.4-0.5 -0.1-0.5 -0.1-11 -0.4-1 0-0.5 0-10 -0.4-0.5 -0.1-1 0-9.5 -0.4-0.5 -0.1-1 0-4.5zM47.6 132.7l0.3 0.3 0 0.5 0.1 4 -0.1 4 0 0.5 -0.3 0.7 -0.3-0.7 0-0.5 -0.1-4 0.1-4 0-0.5zM45.1 138.9l0.4 0.6 0 0.5 0 7 0 8.5 -0.1 1 -0.3 0.4zM68.1 141.3l0.2 0.7 0.1 2.5 -0.1 3 -0.2 1 -0.2-1 -0.1-3 0.1-2.5zM93.6 144.5l0.1 2.5 -0.1 2.2 -0.1-2.2zM55.6 148.3l0.2 0.7 0 2 0 2 -0.2 0.6 -0.2-0.6 0-2 0-2zM48.1 156.2l0.2 1.8 -0.2 1.6 -0.2-1.6zM45.6 168.1l0.2 0.4 0.1 1 0.1 6 -0.1 9 -0.3 3 -0.3-3 -0.1-9 0.1-6 0.1-1z"/>
<path fill="#4538d8" d="M45.1 36l1.5 0 0 0.6 0.4 0.4 0.1 2 0.4 0.5 0.1 3.5 0.4 0.5 0 0.5 0.1 5.5 0.3 0.5 0.1 0.5 -0.1 3.5 -0.3 0.3 -0.3-0.3 -0.1-1.5 -0.5-0.5 0-1 -0.5-0.5 -0.1-1.5 -0.4-0.5 -0.1-1 -0.4-0.5 -0.1-1.5 -0.4-0.5zM48.3 36l0.8 0.1 0.4 0.4 0.4 0.5 0.2 0.6 0.4 0.4 0 0.5 0.5 0.5 0.1 0.6 0.4 0.4 0.1 1 0.4 0.5 0.1 1 0.4 0.5 0.1 1 0.4 0.5 0.1 1.5 0.4 0.5 0.1 2.5 0.4 0.5 0.1 3 0.4 0.5 0.1 4 0.4 0.5 0 0.5 0.1 5 0.3 0.5 0.1 0.5 0 6 0.3 0.5 0.2 1 -0.1 4.5 -0.3 0.3 -0.3-0.3 -0.1-2 -0.4-0.5 -0.1-2 -0.5-1 0-1.5 -0.5-1 0-1.5 -0.4-0.5 -0.1-2 -0.5-0.5 -0.1-2 -0.4-0.5 -0.1-1.5 -0.4-0.5 -0.1-2 -0.4-0.5 -0.1-2 -0.4-0.5 -0.1-2 -0.4-0.5 -0.1-2 -0.4-0.5 0-0.5 -0.1-2.5 -0.4-0.5 -0.1-3.5 -0.4-0.5 0-5zM51.6 36l4 0 0 0.4 0.4 0.6 0 5 0.3 0.5 0 1 -0.2 0.2 -0.3-0.7 -0.5-0.5 -0.1-0.5 -0.5-0.5 0-0.5 -1.5-2 -0.1-0.5 -0.4-0.5 -0.1-0.5 -0.9-1zM57.7 36l7.9 0 0.4 0.5 0.1 1.5 0.3 0.5 0.1 0.5 0.1 2 0.4 0.5 0.1 3 0.3 0.5 0.1 0.5 0 3.5 0.4 0.5 0.1 4 0.4 1 0.1 4 0.4 1.5 -0.1 3 -0.2 0.3 -0.2-0.3 -0.3-1 -0.3-0.5 -0.1-0.5 -0.5-1 0-0.5 -0.4-0.5 -0.1-1 -0.5-0.5 -0.1-0.8 -0.4-0.7 0-0.5 -0.5-0.5 -0.1-0.8 -0.4-0.7 0-0.5 -0.5-0.5 0-0.5 -0.5-0.5 0-1 -0.5-0.5 0-0.5 -0.5-0.5 0-0.5 -0.5-0.5 -0.1-0.9 -0.4-0.6 -0.1-0.5 -0.4-0.5 0-0.5 -0.5-0.5 -0.1-1 -0.4-0.5 -0.1-0.5 -0.4-0.5 -0.1-1 -0.4-0.5 -0.1-0.6 -0.4-0.4 -0.1-1.1 -0.4-0.4 -0.1-1.5zM70 36l6.5 0 1 1 0 0.5 1.5 1.5 0 0.5 1 1 0 0.5 0.5 0.5 0.1 0.5 0.4 0.5 0.5 1 0 0.5 0.5 0.5 0 0.5 0.5 0.5 0.1 0.8 0.4 0.7 0 0.5 0.4 0.5 0.2 1.2 0.3 0.3 0.1 1.5 0.5 0.5 0 1.5 0.5 0.5 0 1.5 0.4 0.5 0.1 2 0.4 0.5 0.1 2 0.5 1 0 2 0.5 1 0 2.5 0.4 0.5 0.1 0.5 0.1 3 0.3 0.5 0.1 3.5 0.4 0.5 0 0.5 0.1 3.5 0.4 0.5 0 0.5 0.1 3.5 0.4 1.5 0.1 3.5 0.4 1.5 0.1 4 0.4 1.5 0.1 4.5 0.4 1.5 0.1 4.5 0.3 1.5 0.1 5 0.4 1.5 0.1 5 0.4 2.5 0.1 5 0.4 3 0 5 0.3 3 0 4 -0.1-2.5 -0.1-1 -0.3-0.5 -0.2-3.5 -0.4-1.5 -0.1-2.5 -0.4-1.5 -0.3-3 -0.3-1 -0.1-2.5 -0.4-1 -0.1-2.5 -0.4-1 -0.1-2 -0.5-1.5 -0.1-2 -0.3-0.5 -0.1-0.5 -0.1-2 -0.3-0.5 -0.1-0.5 -0.1-1.5 -0.4-1 -0.1-1.5 -0.4-1 -0.2-2 -0.3-0.5 -0.1-1.5 -0.4-1 -0.1-1.5 -0.4-1 -0.1-1.5 -0.4-0.5 -0.1-1.5 -0.4-0.5 -0.1-1.5 -0.5-1 0-1 -0.5-1 0-1 -0.5-1 0-1 -0.4-0.5 -0.1-1.5 -0.4-0.5 -0.1-1.5 -0.5-0.5 0-1 -0.5-1 0-1 -0.5-0.5 0-1 -0.4-0.5 -0.1-1.5 -0.5-0.5 0-1 -0.4-0.5 -0.2-1.3 -0.4-0.7 0-1 -0.5-0.5 0-1 -0.5-0.5 0-1 -0.4-0.5 -0.1-1 -0.5-1 0-1 -0.5-0.5 0-1 -0.5-0.5 0-1 -0.5-0.5 0-1 -0.4-0.5 -0.1-1.5 -0.5-0.5 0-1 -0.5-0.5 0-1.5 -0.5-0.5 0-1 -0.4-0.5 -0.1-1.5 -0.5-0.5 0-1.5 -0.5-0.5 0-1.5 -0.4-0.5 -0.1-2 -0.5-0.5 0-2 -0.5-0.5 0-2zM85.7 36l8.3 0 0 1.5 0.3 0.5 0.1 2.5 0.4 1 -0.1 1.5 -0.1 0.2 -1.5-1.1 -3-2.7 -1-0.6 -1.5-1.4 -0.5-0.1zM107.2 36l45.8 0 0.3 0.5 0.2 2.5 0.3 0.5 0.2 2.5 0.3 0.5 0.2 2 0.4 1 0.1 2 0.4 1 0.1 2 0.4 1 0.1 2 0.4 1 0.1 2 0.3 0.5 0.1 2 0.5 1.5 0 1.5 0.4 1 0.1 2 0.4 1 0.2 2 0.3 1 0.1 1.5 0.4 1.5 0.1 1.5 0.3 1 0.2 2 0.3 1 0.2 2 0.3 1 0.2 2 0.3 1 0.2 2 0.3 1 0.2 2 0.3 1 0.1 2 0.3 1 0.2 2 0.8 4.5 3 21.8 0.5 5.1 0 3.6 0 0.1 -0.5-0.6 -0.5-1.4 -3.1-10.1 -2.5-7.5 -4.6-11.5 -0.4-0.5 -1.7-4 -0.3-0.5 -0.1-0.5 -0.4-0.5 -0.1-0.5 -1.4-2.5 -0.2-0.5 -0.4-0.5 -0.1-0.5 -0.4-0.5 -0.1-0.5 -0.4-0.5 -1.6-3 -0.4-0.5 -0.1-0.5 -1.4-2 -0.1-0.5 -1.4-2 -0.1-0.5 -0.9-1 -0.1-0.5 -0.9-1 -0.1-0.5 -0.9-1 -0.1-0.5 -0.9-1 -0.1-0.5 -1-1 -0.5-1 -2.5-3 -0.6-1 -1.4-1.5 -0.6-1 -1.9-2 -0.6-1 -3.4-3.5 -1.6-2 -6.5-6.5 -2.1-1.7 -5-4.8 -0.5-0.2 -0.5-0.5zM188.4 36l174.2 0 0 87.9 -4.5 11.5 -5.5 13.1 -5 11 -4.6 9.5 -3.4 6.5 -3 5.2 -2.5 3.9 -2 2.5 -1 0.9 -1 0.7 -1.5 0.4 -1.5-0.3 -1.5-1 -2-2.1 -2.5-3.2 -18.2-26.5 -6.9-9.5 -6-8 -11.6-14.5 -12.5-14.5 -12.6-13.5 -15.2-15.2 -9-8.5 -2.5-2.1 -4-3.8 -1.5-1.2 -3.5-3.4 -1.5-1.1 -3-2.9 -1.5-1.1 -3-2.9 -1-0.6 -3-2.9 -1.5-1.1 -3-2.8 -1.5-1.2 -3-2.8 -1.5-1.2 -4-3.8zM56.6 44.8l0.2 0.2 0.1 0.5 0.5 0.5 0.2 1 0.4 0.5 0 0.5 0.5 0.5 0.1 0.7 0.3 0.3 0.1 1 0.5 0.5 0 1 0.5 0.5 0 1 0.5 0.5 0 1.5 0.5 0.5 0 1 0.4 0.5 0.2 2 0.4 0.5 0 1.5 0.4 0.5 0.1 0.5 0.1 2 0.4 0.5 0.1 2.5 0.4 0.5 0 3 0.5 0.5 0 3.5 0.4 0.5 0.1 0.5 0 4 0.4 0.5 0.1 0.5 0 4.5 0.3 0.5 0.2 1 0 5 0.5 1.5 0 6 0.4 1 0.1 1 0 6.5 0.3 1 0.1 1 0.1 7.5 0.3 1.5 0.1 1.5 0 8 0.3 1 0.2 2 -0.1 5.5 -0.2 2.5 -0.2-2 -0.1-4.5 -0.4-1.5 -0.2-5 -0.3-1 -0.2-4.5 -0.4-1 -0.1-4 -0.4-1.5 -0.1-3.5 -0.4-0.5 0-0.5 -0.2-3.5 -0.3-0.5 -0.1-0.5 0-3 -0.4-0.5 -0.2-3.5 -0.3-0.5 -0.1-3 -0.4-0.5 -0.1-3 -0.4-0.5 -0.1-0.5 0-2.5 -0.4-0.5 -0.1-3 -0.5-0.5 0-2.5 -0.4-0.5 -0.1-0.5 0-2.5 -0.5-0.5 0-2.5 -0.4-0.5 -0.1-0.5 -0.1-2.5 -0.4-0.5 -0.1-2.5 -0.4-1 -0.1-2.5 -0.4-1 -0.1-3 -0.4-0.5 -0.1-3.5 -0.4-0.5 -0.1-4 -0.4-0.5 0-4 -0.1-0.5 -0.3-0.5 0-1.5 0.1-0.5zM96.1 45.4l2.7 2.6 0.6 1 1.4 1.5 0.2 0.5 0.9 1 0.6 1 0.8 1 0.2 0.5 1.4 2 0.1 0.5 0.8 1 0.2 0.5 0.4 0.5 0.1 0.5 0.4 0.5 0.1 0.5 0.4 0.5 0.1 0.5 0.4 0.5 0.1 0.5 0.4 0.5 0.1 0.5 0.4 0.5 0.1 0.5 0.4 0.5 0.2 0.9 0.3 0.6 0.1 0.5 0.4 0.5 0.1 0.5 0.3 0.5 0.2 1 0.4 0.5 0.1 1 0.4 0.5 0.2 0.9 0.8 2.1 0.2 1 0.3 0.5 0.1 1 0.4 0.5 0.1 1 0.4 1 0.1 1 0.4 0.5 0.1 1.5 0.4 0.5 0.1 1.5 0.4 0.5 0.1 1.5 0.4 1 0.1 1.5 0.4 0.5 0.1 2 0.3 0.5 0.2 2 0.4 1 0.1 2 0.4 1 0.1 2 0.4 1.5 0.1 2 0.3 1 0.2 3 0.3 1 0.2 3.5 0.3 1 0.2 4 0.3 1.5 0.2 4.5 0.3 1.5 0.2 6 0.4 3.5 0 8 0.3 3 0.1 4 0 18 -0.7 18 -0.5 4 -0.5-2.4 -0.7-8.1 -0.4-2 -0.2-3.5 -0.4-2 -0.1-2.5 -0.3-1.5 -0.2-3 -0.4-1.5 -0.1-2.5 -0.4-1.5 -0.1-2.5 -0.4-1.5 -0.1-2 -0.4-1.5 -0.1-2.5 -0.4-1 -0.2-2.5 -0.3-1 -0.1-2 -0.4-1 -0.2-2.5 -0.4-1 -0.1-2 -0.4-1 -0.1-2 -0.4-1 -0.1-2 -0.3-0.5 -0.2-2 -0.4-1 -0.1-2 -0.3-0.5 -0.2-2 -0.4-1 -0.2-2 -0.3-0.5 -0.1-2 -0.3-0.5 -0.2-2 -0.3-0.5 -0.2-2 -0.4-0.5 -0.1-2 -0.4-0.5 -0.1-1.5 -0.4-1 -0.1-1.5 -0.4-1 -0.1-1.5 -0.4-0.5 -0.1-1.5 -0.4-1 -0.1-1.5 -0.3-0.5 -0.3-2 -0.3-0.5 -0.1-1.5 -0.3-0.5 -0.2-1.5 -0.4-1 -0.1-1.5 -0.4-0.5 -0.1-1.5 -0.4-1 -0.1-1.5 -0.4-0.5 -0.1-1.5 -0.4-0.5 -0.1-1.5 -0.4-1 -0.1-1.5 -0.4-0.5 -0.1-1.5 -0.3-0.5 -0.3-2 -0.3-0.5 -0.1-1.5 -0.4-0.5 -0.1-1.5 -0.4-1 -0.1-1.5 -0.4-0.5 -0.2-2 -0.3-0.5 -0.1-1.5 -0.4-1 -0.1-1.5 -0.4-0.5 -0.1-2 -0.4-0.5 -0.2-2 -0.3-0.5 -0.1-2 -0.3-0.5 -0.1-2 -0.4-1 -0.1-1.5 -0.2-1zM45.1 50.6l0.4 0.4 0.1 2 0.4 0.5 0.1 2.5 0.4 0.5 0.1 3.5 0.4 0.5 0 0.5 0.1 4.5 0.3 0.5 0.1 0.5 0.1 7 0.4 0.5 0 1 -0.1 8 0.4 0.5 0.1 1 0 2.5 -0.3 0.6 -0.3-1.1 0.1-3 -0.6-0.5 -0.1-3.5 -0.4-0.5 -0.1-0.5 0-3 -0.5-0.5 -0.1-3 -0.3-0.5 -0.1-0.5 -0.1-3 -0.4-0.5zM49.1 58.3l0.4 0.7 0 1.5 0.5 0.5 0 2 0.5 0.5 0 2 0.4 0.5 0.1 0.5 0.1 2.5 0.4 0.5 0.1 3 0.4 0.5 0.1 3.5 0.3 0.5 0.1 0.5 0.1 4 0.3 0.5 0.1 0.5 0.1 5.5 0.4 0.5 0 7 0.4 0.5 0.1 1 0 8 0.4 0.5 0.1 1 0 10 0.4 1 0 1 0 12 0.4 1 0.1 3 0 5 -0.3 1.5 -0.2-1 -0.1-1.5 0.1-6.5 -0.1-0.5 -0.4-0.5 -0.1-0.5 -0.1-7 -0.3-0.5 -0.1-0.5 -0.1-6 -0.4-1 -0.1-0.5 0-5 -0.5-1 0-5 -0.4-0.5 -0.1-0.5 0-4.5 -0.5-1 -0.1-4.5 -0.3-0.5 -0.1-0.5 -0.1-4.4 -0.4-0.6 -0.1-4.5 -0.4-0.5 0-0.5 -0.1-4.5 -0.4-0.5 -0.1-5 -0.4-1 0-0.5 0-5 -0.5-1 0-5zM69.6 67.2l0.1 0.8 -0.1 0.5 -0.1-0.5zM70.1 68.6l0.2 0.4 0.1 1 0.4 0.5 0.2 1.5 0.4 0.5 0.1 1.5 0.4 0.5 0.1 1.5 0.4 0.5 0.1 1.5 0.4 1 0.1 1.5 0.4 0.5 0.1 2 0.4 0.5 0.1 2 0.4 1 0.1 2 0.4 0.5 0.1 2.5 0.4 1 0.1 2.5 0.4 1 0.1 3 0.4 0.5 0 0.5 0.1 3 0.3 0.5 0.2 1 0 3.5 0.4 0.5 0 0.5 0.1 4 0.4 1.5 0.1 5 0.4 1 0 1 0.1 5.5 0.4 2 0.1 8 0.3 1 0.1 2 0.1 11.5 0.3 4 0.1 20.5 -0.3 13.1 -0.2-8.1 -0.5-3 -0.1-8 -0.4-2.5 -0.2-7 -0.3-1 -0.1-1 -0.1-5.5 -0.4-2 -0.1-5.5 -0.4-1 -0.1-5 -0.4-1.5 -0.1-5 -0.3-0.5 -0.1-0.5 -0.1-4.5 -0.4-1 -0.1-4.5 -0.3-0.5 -0.1-0.5 -0.1-4 -0.4-1 -0.1-4 -0.4-1 -0.1-4 -0.4-0.5 0-0.5 -0.1-3.5 -0.4-1 -0.2-4 -0.3-0.5 0-0.5 -0.1-3.5 -0.4-0.5 0-0.5 -0.1-3.5 -0.4-1 -0.2-4 -0.3-0.5 0-0.5 -0.1-3.5 -0.4-1 -0.1-4 -0.3-0.5 -0.1-0.5 0-4zM45.1 79.8l0.4 0.7 0.1 5 0.3 0.5 0.1 0.5 0.1 6.5 0.4 0.5 0 1 0.1 8 0.2 0.5 0.2 1 0 11.5 0.4 1 0.1 4 -0.1 8.5 -0.1 1 -0.2 0.2 -0.2-0.2 -0.1-1 -0.1-8.5 -0.3-0.5 -0.2-1 -0.1-7.5 -0.4-0.5 0-0.5 0-6.5 -0.1-0.5 -0.4-0.5 0-0.5zM56.6 82.9l0.2 1.1 -0.2 1.1 -0.2-1.1zM57.1 86.1l0.3 0.4 0 0.5 0.1 2.5 0.3 0.5 0.1 0.5 0.1 3 0.3 0.5 0.1 0.5 0.1 3.5 0.4 1 0.1 4 0.4 1 0.1 5 0.3 0.5 0.2 1 0 5.5 0.3 0.5 0.2 1 0 7 0.3 0.5 0.1 1 0.1 9.5 0.4 1 0.1 2 0 13 0.3 2 0.1 3 0 19 -0.3 6.5 -0.3-4.5 0-11.5 -0.5-2.5 -0.1-10.5 -0.3-1 -0.1-1 -0.1-8.5 -0.1-0.7 -0.2-0.3 -0.1-1 -0.1-7.5 -0.4-1.5 -0.1-7 -0.4-1.5 -0.1-7 -0.4-0.5 0-0.5 -0.1-6.5 -0.5-1.5 0-6 -0.4-1.5 -0.1-6 -0.1-0.7 -0.2-0.3 -0.1-1 0-4.5 0-0.5zM49.1 98l0.3 0.5 0 1 -0.1 4.5 0.6 0.5 0.1 6.5 0.4 1 0.1 8 0.4 0.5 0.1 1.5 0 9.5 0.3 0.5 0.2 1.5 0 14.5 0.4 2 0.1 5.5 -0.1 13 -0.1 2.5 -0.2 0.9 -0.2-0.9 -0.1-3 -0.1-14.5 -0.4-1 0-1.5 -0.1-12 -0.3-0.5 -0.1-1 -0.1-10.5 -0.4-1 -0.1-1 0-9.5 -0.4-1 -0.1-1 0.1-9 -0.4-0.5 -0.1-1 0-4 0-0.5zM47.6 132.9l0.3 1.1 0 3.5 -0.1 4 -0.2 0.9 -0.2-0.9 -0.1-4 0-3.5zM45.1 139.1l0.3 0.4 0 1 0.1 6.5 -0.1 8 -0.1 1.5 -0.2 0.3zM68.1 142.3l0.1 2.2 -0.1 2.9 -0.1-2.9zM45.6 168.6l0.2 1.9 0.1 5 -0.1 7 -0.2 3.7 -0.2-3.7 -0.1-7 0.1-5z"/>
<path fill="#4740e3" d="M45.1 36l1.4 0 0.1 0.5 0.4 0.5 0.1 2 0.4 0.5 0.1 3.5 0.3 0.5 0.1 0.5 0 5.5 0.4 1 0 3.5 -0.3 0.3 -0.3-0.3 -0.1-1.5 -0.5-0.5 0-1 -0.4-0.5 -0.1-1.5 -0.5-0.5 0-1 -0.5-0.5 0-1.5 -0.5-0.5zM48.4 36l0.7 0.1 0.4 0.4 0.4 0.5 0.2 0.6 0.4 0.4 0 0.5 0.5 0.5 0.1 0.7 0.3 0.3 0.1 1 0.5 0.5 0 1 0.5 0.5 0 1 0.5 0.5 0 1.5 0.4 0.5 0.2 2.5 0.4 0.5 0 3 0.5 0.5 0 4 0.4 0.5 0.1 0.5 0 5 0.4 0.5 0.1 1 0 5.5 0.2 0.5 0.2 1 -0.1 4.5 -0.2 0.2 -0.2-0.2 -0.1-2 -0.5-1 -0.1-1.5 -0.4-1 -0.1-1.5 -0.5-1 0-1.5 -0.4-0.5 -0.1-0.5 0-1.5 -0.4-0.5 -0.1-2 -0.5-0.5 0-1.5 -0.4-0.5 -0.1-2 -0.5-0.5 0-2 -0.5-0.5 0-2 -0.5-0.5 0-2 -0.4-0.5 -0.1-0.5 0-2.5 -0.5-0.5 0-3.5 -0.5-0.5 0-5zM51.7 36l3.8 0 0.1 0.5 0.4 0.5 0 5 0.3 1 -0.2 0.5 -0.2-0.5 -0.6-0.5 -0.1-0.5 -0.5-0.5 0-0.5 -1.5-2 0-0.5 -0.5-0.5 0-0.5 -0.9-1zM57.7 36l7.8 0 0.5 0.5 0 1.5 0.5 1 0 2 0.4 0.5 0.1 3 0.5 1 0 3.5 0.4 0.5 0 0.5 0.1 3.5 0.4 1 0.1 4 0.3 2 -0.1 2.5 -0.1 0.2 -0.1-0.2 -0.3-1 -0.3-0.5 -0.6-2 -0.4-0.5 -0.2-1 -0.4-0.5 -0.2-0.9 -0.4-0.6 0-0.5 -0.4-0.5 -0.2-0.9 -0.4-0.6 0-0.5 -0.5-0.5 0-0.5 -0.4-0.5 -0.1-1 -0.5-0.5 0-0.5 -0.5-0.5 0-0.5 -0.4-0.5 -0.2-1 -0.4-0.5 0-0.5 -0.5-0.5 -0.1-0.6 -0.4-0.4 0-1 -0.5-0.5 0-0.5 -0.5-0.5 0-1 -0.5-0.5 -0.1-0.7 -0.3-0.3 -0.2-1.2 -0.3-0.3 -0.1-1.5zM70.1 36l6.4 0 0.9 1 0.1 0.5 1.5 1.5 0 0.5 1 1 0 0.5 0.5 0.5 0 0.5 0.5 0.5 0.5 1 0 0.5 0.5 0.5 0 0.5 0.4 0.5 0.2 0.9 0.4 0.6 0.1 0.7 0.3 0.3 0.2 1.3 0.4 0.7 0 1 0.4 0.5 0.1 1.5 0.4 0.5 0.1 1.5 0.4 0.5 0.1 0.5 0 1.5 0.4 0.5 0.1 2 0.4 1 0.1 2 0.4 1 0.1 2.5 0.4 1 0.1 3 0.3 0.5 0.1 0.5 0.1 3 0.4 1 0.1 3.5 0.4 1 0.1 3.5 0.4 1.5 0.1 3.5 0.3 1.5 0.2 4 0.3 2 0.1 4 0.4 1.5 0.1 4.5 0.4 2 0.1 4.5 0.4 2.5 0 4 0.4 3.5 0.1 4 0.3 3.5 0 5.5 -0.2-2.5 -0.3-0.8 -0.2-2.7 -0.4-1.5 -0.1-2.5 -0.4-1.5 -0.1-2 -0.4-1.5 -0.2-2 -0.3-1 -0.2-2.5 -0.4-1 -0.1-2 -0.4-1 -0.2-2 -0.3-1 -0.1-1.5 -0.4-1 -0.1-1.5 -0.4-1 -0.2-2 -0.3-0.5 -0.1-1.5 -0.4-1 -0.1-1.5 -0.5-1 -0.1-1.5 -0.3-0.5 -0.2-1.5 -0.3-0.5 -0.2-1.5 -0.4-1 -0.2-1.5 -0.3-0.5 -0.1-1 -0.4-1 -0.1-1 -0.4-1 -0.1-1 -0.3-0.5 -0.2-1.5 -0.4-0.5 -0.1-1 -0.4-1 -0.1-1 -0.4-0.5 -0.1-1 -0.4-1 -0.1-1 -0.4-0.5 -0.1-1 -0.4-0.5 -0.2-1.4 -0.4-0.6 0-1 -0.4-0.5 -0.1-1 -0.4-0.5 -0.1-1 -0.4-0.5 -0.2-1.3 -0.4-0.7 0-1 -0.5-0.5 0-1 -0.4-0.5 -0.1-1 -0.4-0.5 -0.1-1 -0.5-1 0-1 -0.5-0.5 0-1 -0.4-0.5 -0.1-1.5 -0.5-0.5 0-1 -0.4-0.5 -0.1-0.5 0-1 -0.4-0.5 -0.1-1.5 -0.4-0.5 -0.1-1.5 -0.5-1 0-1.5 -0.4-0.5 -0.1-2 -0.4-0.5zM85.7 36l8.2 0 0.1 1.5 0.3 1 0.1 2 0.3 1 0 1 -0.1 0.4 -0.5-0.2 -2-1.5 -2-1.9 -1-0.5 -1.5-1.4 -0.5-0.2zM107.2 36l45.8 0 0.4 1 0.1 2 0.3 1 0.2 2 0.3 1 0.1 1.5 0.4 1.5 0.1 1.5 0.4 1.5 0.1 1.5 0.4 1 0.1 2 0.4 1 0.1 2 0.4 1 0.6 4.5 0.4 1.5 0.1 1.5 0.3 1 0.2 2 0.3 1 0.1 1.5 0.9 4.5 0.1 1.5 0.4 1.5 0.1 1.5 0.4 1.5 0.1 1.5 0.4 1.5 0.1 1.5 0.3 1.5 0.2 1.5 1.3 8 1.5 10.7 1 8.7 0.2 4.1 -0.1 2 -0.1 0.3 -0.5-0.5 -0.5-1.1 -5.7-15.2 -2.9-7 -2.5-5.5 -3-5.5 -0.1-0.5 -2.4-4 -0.1-0.5 -2.9-4.5 -0.2-0.5 -3-4.5 -0.8-1 -0.2-0.5 -6.5-8.5 -1.9-2 -0.6-1 -2.9-3 -2.1-2.5 -6.7-6.6 -2.5-2.1 -4.5-4.4 -1.5-1.1zM188.6 36l174 0 0 87 -4.5 11.4 -4.5 10.6 -5 11 -4.9 10 -3.6 6.6 -3 4.9 -2.5 3.5 -2.5 2.8 -2 1.3 -1 0.3 -1 0.1 -1-0.2 -1-0.4 -2-1.4 -2.5-2.6 -3.5-4.3 -19.2-26.6 -13-17 -12.4-15 -12-13.5 -8-8.5 -7-7 -8.4-8.3 -9-8.5 -11.5-10.4 -6.5-5.6 -2.5-2.4 -1.5-1.2 -2.5-2.3 -2-1.6 -2.5-2.4 -1.5-1.2zM56.6 44.9l0.2 0.6 0.5 0.5 0.2 1 0.5 0.5 0 0.5 0.4 0.5 0.2 0.8 0.4 0.7 0 0.5 0.4 0.5 0.1 1 0.4 0.5 0.1 1 0.4 0.5 0.1 1.5 0.5 0.5 0 1 0.5 1 0 1.5 0.5 0.5 0 1.5 0.5 1 0 2 0.4 0.5 0.1 2.5 0.4 0.5 0.1 0.5 0 2.5 0.4 0.5 0.1 0.5 0 3 0.4 1 0.1 4 0.3 0.5 0.2 1 0 4 0.4 1.5 0.1 5 0.4 1.5 0.1 6 0.3 1 0.1 1.5 0.1 6 0.4 2.5 0.1 7 0.2 1.5 0.2 2 0 7.5 0.2 1.5 0.2 2 0 4.5 -0.2 2.3 -0.2-5.8 -0.5-2 -0.1-4.5 -0.4-1.5 -0.1-4 -0.4-1 -0.2-4 -0.4-1.5 -0.1-3.5 -0.4-1 -0.1-3.5 -0.3-0.5 -0.1-0.5 -0.1-3 -0.3-0.5 -0.1-0.5 -0.1-3 -0.4-0.5 -0.1-3 -0.3-0.5 -0.2-3 -0.4-1 -0.1-2.5 -0.4-0.5 -0.1-0.5 0-2.5 -0.4-0.5 -0.1-2.5 -0.5-1 0-2.5 -0.4-0.5 -0.1-2.5 -0.4-0.5 -0.1-0.5 0-2.5 -0.4-0.5 -0.1-2.5 -0.5-1 0-2.5 -0.5-1 0-3 -0.4-0.5 -0.1-3.5 -0.4-0.5 -0.2-4 -0.3-0.5 -0.1-4 -0.4-1.5 0.1-1zM96.1 45.5l2.5 2.5 2.1 2.5 0.2 0.5 0.9 1 0.6 1 0.8 1 0.2 0.5 1.4 2 0.1 0.5 1.4 2 0.1 0.5 0.4 0.5 0.1 0.5 0.5 0.5 0 0.5 0.5 0.5 0 0.5 0.4 0.5 0.1 0.5 0.9 1.5 0.6 1.5 0 0.5 0.4 0.5 0.6 2 0.4 0.5 0.2 1 0.4 0.5 0.2 1 0.8 2 0.2 1 0.3 0.5 0 1 0.4 0.5 0.1 1 0.5 1 0 1 0.4 0.5 0.1 1.5 0.4 0.5 0.1 1.5 0.4 0.5 0.1 1.5 0.4 1 0.1 1.5 0.5 1 0 1.5 0.4 1 0.1 1.5 0.4 1 0.1 2 0.4 1 0.1 2 0.4 1.5 0.1 2 0.4 1.5 0.1 2.5 0.4 1.5 0.1 3 0.4 1.5 0.1 3.5 0.4 2 0.1 4 0.4 2.5 0.1 5 0.4 4 0.1 7.5 0.3 7.5 0 14.5 -0.6 17.6 -0.4 2.9 -0.1 0.9 -0.5-1.4 -1-8.3 -0.2-2.7 -0.3-2 -0.2-2.5 -0.4-2 -0.1-2.5 -0.3-1.5 -0.2-2.5 -0.4-1.5 -0.1-2.5 -0.4-1.5 -0.2-2.5 -0.4-1.5 -0.1-2 -0.3-1 -0.2-2.5 -0.3-1 -0.2-2 -0.4-1.5 -0.1-2 -0.4-1 -0.1-2 -0.4-1 -0.1-2 -0.4-1 -0.1-2 -0.4-1 -0.1-1.5 -0.4-1 -0.1-2 -0.4-1 -0.1-1.5 -0.4-1 -0.2-2 -0.3-1 -0.1-1.5 -0.4-1 -0.1-1.5 -0.4-1 -0.1-1.5 -0.4-0.5 -0.2-2 -0.3-0.5 -0.1-1.5 -0.4-1 -0.1-1.5 -0.4-1 -0.1-1.5 -0.4-0.5 -0.1-1.5 -0.4-1 -0.1-1.5 -0.5-1 -0.1-1.5 -0.3-0.5 -0.2-1.5 -0.2-0.5 -0.4-2 -0.2-0.5 -0.2-1.5 -0.3-0.5 -0.2-1.5 -0.4-1 -0.1-1.5 -0.3-0.5 -0.2-1.5 -0.3-0.5 -0.2-1.5 -0.4-1 -0.1-1.5 -0.3-0.5 -0.2-1.5 -0.4-1 -0.1-1.5 -0.3-0.5 -0.2-1.5 -0.3-0.5 -0.2-1.5 -0.3-1 -0.2-1.5 -0.3-0.5 -0.2-2 -0.3-0.5 -0.2-1.5 -0.4-1 -0.1-1.5 -0.4-1 -0.1-1.5 -0.3-0.5 -0.2-2 -0.4-1 -0.1-1.5 -0.3-1 -0.1-1.5 -0.3-1 -0.1-2zM45.1 50.6l0.4 0.4 0 2 0.5 0.5 0 2.5 0.5 0.5 0 3.5 0.5 0.5 0 0.5 0 4.5 0.4 0.5 0.1 0.5 0.1 7 0.3 0.5 0.1 2.5 0 5.5 -0.2 1 -0.2 0.2 -0.2-0.2 -0.1-0.5 -0.1-3 -0.4-0.5 -0.1-0.5 0-3 -0.4-0.5 -0.1-3 -0.5-1 0-3 -0.5-0.5zM49.1 58.4l0.3 0.6 0.1 1.5 0.4 0.5 0.1 2 0.4 0.5 0.1 2 0.5 1 0.1 2.5 0.4 0.5 0 3 0.5 0.5 0 0.5 0 3 0.4 0.5 0.1 0.5 0 4 0.5 1 0.1 5.5 0.3 0.5 0.1 0.5 0 6.5 0.3 0.5 0.2 1.5 0 7.5 0.4 1 0 1 0.1 9.5 0.3 1 0.1 1.5 0 12 -0.3 0.1 -0.3-1.6 0-6 -0.3-0.5 -0.2-1 -0.1-5.5 -0.4-1.5 -0.1-5 -0.4-1.5 -0.1-4.5 -0.4-1 -0.1-4.5 -0.4-1 -0.1-0.5 0-4 -0.4-0.5 -0.1-0.5 0-4 -0.1-0.5 -0.3-0.5 -0.1-0.5 0-4 -0.4-0.5 -0.1-0.5 0-4.5 -0.4-0.5 -0.1-0.5 0-4.5 -0.1-0.5 -0.3-0.5 -0.1-0.5 0-5 -0.4-1 -0.1-1.5 0.1-3.5zM70.1 68.8l0.2 1.2 0.5 1 0.1 1 0.4 0.5 0.1 1.5 0.4 0.5 0.2 1.5 0.3 0.5 0.2 1.5 0.4 1 0.1 1.5 0.3 0.5 0.1 0.5 0.1 1.5 0.3 0.5 0.1 0.5 0.1 1.5 0.4 1 0.1 2 0.4 1 0.1 2 0.4 1.5 0.1 2 0.4 1 0.1 3 0.4 1 0.1 3 0.4 1.5 0.1 3.5 0.4 1 0.1 4 0.4 1.5 0.1 5 0.4 2 0.1 5.5 0.4 2.5 0.1 7.5 0.2 1.5 0.2 2 0 11 0.4 5 0 15.5 -0.2 13.3 -0.1-4.3 -0.5-4.5 -0.2-6.5 -0.4-3.5 -0.1-6 -0.4-2 -0.1-5.5 -0.4-2.5 -0.2-5 -0.3-1.5 -0.2-4.5 -0.4-2 -0.1-4.5 -0.4-1.5 -0.1-4 -0.4-1.5 -0.1-4 -0.4-1 -0.1-4 -0.3-1 -0.2-4 -0.4-1.5 -0.1-3.5 -0.4-1 -0.1-3.5 -0.3-1 -0.2-4 -0.4-1 -0.1-3.5 -0.4-1 -0.1-3.5 -0.3-1 -0.2-4 -0.3-0.5 -0.1-1 -0.1-3 -0.4-1.5 0-3.5 -0.4-1 0-1 0-2.5zM45.1 80l0.4 0.5 0 5 0.4 0.5 0.1 0.5 0 6.5 0.4 0.5 0.1 1 0 8 0.4 1 0.1 1 0 11 0.4 1 0.1 4 -0.1 8 -0.1 1 -0.2 0.6 -0.2-0.6 -0.1-1 -0.1-8 -0.2-0.5 -0.2-1 -0.1-7.5 -0.4-0.5 -0.1-0.5 0-6.5 -0.1-0.6 -0.3-0.4 -0.1-1zM48.1 83.4l0.2 0.6 0.1 1.5 -0.1 1.5 -0.2 0.4 -0.2-0.4 -0.1-1.5 0.1-1.5zM57.1 86.3l0.2 0.7 0.1 2.5 0.5 1 0.1 3 0.4 1 0.1 3.5 0.4 1.5 0.1 3.5 0.4 1.5 0.1 4.5 0.4 1 0 1 0.1 5 0.4 1.5 0.1 7 0.3 1 0.1 1 0.1 9 0.3 1 0.1 2.5 0.1 12.5 0.3 2.5 0.1 3.5 -0.1 15.5 -0.2 7.7 -0.2-4.7 -0.1-10 -0.4-3 -0.2-10 -0.4-2.5 -0.1-8 -0.4-2 -0.1-7.5 -0.4-2 -0.1-6.5 -0.4-2 -0.1-6.5 -0.3-0.5 -0.1-1 -0.1-6 -0.4-1.5 -0.1-6 -0.3-1 -0.1-1 -0.1-5.5 -0.4-2 0-4 0.1-1zM49.1 98.2l0.3 0.8 0 2 -0.1 2.5 -0.2 0.6 -0.2-0.6 -0.1-2.5 0-2zM49.6 104.3l0.2 0.2 0.1 1 0.1 5.5 0.4 1.5 0.1 7.5 0.3 0.5 0.1 1.5 0.1 9.5 0.3 1 0.1 1.5 0.1 14 0.3 2.5 0.1 5 0 12 -0.3 3.9 -0.3-4.4 0-13.5 -0.4-1 -0.1-2 -0.1-11.5 -0.2-0.5 -0.2-1 -0.1-10.5 -0.3-1 -0.1-2 -0.1-8.5 -0.3-1 -0.1-1.5 0-7.5 0.1-1zM55.1 131.3l0.2 1.2 0 3 0 3.5 -0.2 1.6 -0.2-1.6 0-3.5 0-3zM47.6 133.1l0.2 1.4 0.1 3 -0.1 3.5 -0.2 1.1 -0.2-1.1 -0.1-3.5 0.1-3zM45.1 139.2l0.3 1.3 0.1 6.5 -0.1 7.5 -0.1 1.5 -0.2 0.6zM45.6 169.4l0.2 6.1 -0.2 8.8 -0.2-8.8z"/>
<path fill="#4848ec" d="M45.1 36l1.4 0 0 0.5 0.5 0.5 0 2 0.5 0.5 0 3.5 0.4 0.5 0.1 0.5 0 5.5 0.4 1.5 -0.1 3 -0.2 0.2 -0.2-0.2 -0.1-1.5 -0.5-0.5 -0.1-1 -0.4-0.5 -0.1-0.5 0-1 -0.5-0.5 0-1 -0.4-0.5 -0.1-1.5 -0.5-0.5zM48.5 36l0.6 0.2 0.7 0.8 0.2 0.5 0.4 0.5 0.1 0.5 0.4 0.5 0.2 0.7 0.3 0.3 0.1 1 0.5 0.5 0 1 0.5 0.5 0 1 0.4 0.5 0.1 1.5 0.4 0.5 0.1 0.5 0.1 2 0.4 0.5 0 3 0.4 0.5 0.1 0.5 0 3.5 0.4 0.5 0 0.5 0.1 5 0.3 0.5 0.1 1 0.1 5.5 0.3 1 0.1 1.5 -0.2 3.5 -0.2 0 -0.1-0.5 -0.1-1.5 -0.5-1 0-1.5 -0.5-1 -0.1-1.5 -0.4-1 -0.1-1.5 -0.4-1 -0.1-1.5 -0.4-0.5 -0.1-2 -0.5-0.5 0-1.5 -0.4-0.5 -0.1-2 -0.5-0.5 0-2 -0.5-0.5 0-2 -0.5-0.5 0-2 -0.4-0.5 -0.1-0.5 0-2.5 -0.5-0.5 0-3.5 -0.4-0.5 -0.1-0.5 0.1-4.5zM51.7 36l3.8 0 0.1 0.6 0.3 0.4 0 5 0.3 1 -0.1 0.2 -0.1-0.2 -0.6-0.5 -0.1-0.5 -0.5-0.5 -0.1-0.5 -1.4-2 -0.1-0.5 -0.5-0.5 0-0.5 -0.8-1zM57.7 36l7.8 0 0.4 0.5 0.1 1.5 0.5 1 0 2 0.4 0.5 0.1 0.5 0 2.5 0.4 1 0.1 3.5 0.4 1 0.1 3.5 0.4 1.5 0 3.5 0.4 2 -0.2 2.5 -0.2-1 -0.4-0.5 -0.7-2 -0.3-0.5 -0.2-1 -0.4-0.5 -0.3-1 -0.3-0.5 -0.1-0.5 -0.4-0.5 -0.2-1 -0.3-0.5 -0.1-0.5 -0.4-0.5 -0.1-0.5 -0.3-0.5 -0.2-1 -0.5-0.5 0-0.5 -0.4-0.5 -0.1-0.5 -0.4-0.5 -0.2-1 -0.4-0.5 0-0.5 -0.5-0.5 -0.1-0.7 -0.3-0.3 -0.1-1 -0.5-0.5 0-0.5 -0.5-0.5 0-1 -0.5-0.5 -0.1-0.7 -0.3-0.3 -0.2-1.2 -0.3-0.3 -0.1-1.5zM70.1 36l6.3 0 0.9 1 0.2 0.5 1.4 1.5 0.1 0.5 0.9 1 0.1 0.5 0.4 0.5 0.1 0.5 0.5 0.5 0.1 0.5 0.4 0.5 0 0.5 0.4 0.5 0.1 0.5 0.4 0.5 0.2 1 0.3 0.5 0.7 2.4 0.3 0.6 0.1 1 0.4 0.5 0.1 1.5 0.4 0.5 0.1 1.5 0.4 1 0.1 1.5 0.3 0.5 0.1 0.5 0.1 1.5 0.4 1 0.1 2 0.4 1.5 0.1 2 0.3 1 0.2 3 0.4 1 0.1 3 0.3 1 0.2 3.5 0.4 1.5 0 3 0.4 1.5 0.1 3.5 0.3 1.5 0.2 4 0.4 2 0.1 4 0.3 2 0.2 4 0.3 2 0.1 4.5 0.4 2.5 0.1 4 0.4 4.5 0.1 5.5 -0.2 1.5 -0.2-2 -0.3-1.1 -0.1-1.9 -0.4-1.6 -0.1-1.9 -0.4-1.5 -0.2-2 -0.4-1.5 -0.2-2 -0.3-1 -0.1-2 -0.4-1 -0.2-2 -0.3-1 -0.2-1.5 -0.3-1 -0.8-4.5 -0.2-0.5 -0.2-1.5 -0.3-1 -0.2-1.5 -0.4-1 -0.1-1.5 -0.4-0.5 -0.1-1.5 -0.4-1 -0.1-1 -0.4-1 -0.1-1 -0.4-1 -0.1-1 -0.5-1 0-1 -0.5-1 -0.1-1 -0.4-1 -0.1-1 -0.3-0.5 -0.2-1 -0.4-1 -0.1-1 -0.3-0.5 -0.2-1 -0.4-1 -0.1-1 -0.4-0.5 -0.1-1 -0.3-0.5 -0.3-1.5 -0.3-0.5 -0.1-1 -0.4-0.5 -0.1-1 -0.4-0.5 -0.1-1 -0.3-0.5 -0.3-1.4 -0.3-0.6 -0.1-1 -0.4-0.5 -0.1-1 -0.4-0.5 -0.1-1 -0.4-0.5 -0.1-1 -0.4-1 -0.1-1 -0.4-0.5 -0.1-1 -0.4-0.5 -0.1-1.5 -0.4-0.5 -0.1-1 -0.5-1 0-1 -0.4-0.5 -0.1-1.5 -0.4-0.5 -0.1-1.5 -0.4-1 -0.1-1.5 -0.4-0.5 -0.1-2 -0.4-0.5zM85.8 36l8.1 0 0 1.5 0.3 1 0.1 2 0.3 1.5 -0.2 0.5 -0.3 0.1 -1-0.8 -3-2.5 -1-0.6 -1.5-1.3 -1-0.6zM107.2 36l45.7 0 0.4 1 0.1 2 0.4 1 0.1 2 0.4 1 0.6 4.5 0.4 1.5 0.1 1.5 0.4 1.5 0.1 1.5 0.3 1 0.2 2 0.3 1 0.6 4.5 0.4 1.5 0.1 1.5 1.3 7.1 3 18.9 2 15 0.5 6 0 4 -0.5 0.4 -1-1.6 -6.7-15.8 -2.3-5 -3.6-7 -5.6-9.5 -4-6 -6.6-8.5 -1.3-1.5 -1.2-1.5 -5-5.5 -6.7-6.7 -2.5-2.1 -4.5-4.3 -1.5-1.1zM188.7 36l173.9 0 0 85.7 -4.5 11.3 -4.5 10.5 -5 10.8 -4.4 8.7 -3.6 6.3 -3 4.7 -3 3.9 -2.5 2.4 -1.5 0.9 -1 0.4 -2 0.2 -2-0.6 -2.5-1.6 -3.5-3.3 -4-4.8 -20.7-27.5 -11.5-14.5 -11.4-13.5 -13.2-14.5 -5.2-5.5 -9.5-9.5 -6-5.9 -9-8.5 -11.5-10.4 -19.5-17.1zM56.6 45l0.6 1 0.3 1 0.4 0.5 0.1 0.5 0.4 0.5 0.2 0.9 0.4 0.6 0 0.5 0.4 0.5 0.1 1 0.4 0.5 0.1 1 0.4 0.5 0.1 1.5 0.4 0.5 0.1 1 0.5 1 0 1.5 0.4 0.5 0.1 1.5 0.4 1 0.1 2 0.4 0.5 0.1 2.5 0.4 0.5 0 0.5 0.1 2.5 0.3 0.5 0.1 0.5 0.1 3 0.4 1.5 0.1 3.5 0.3 0.5 0.1 1 0.1 4 0.4 1.5 0.1 5 0.4 2 0.1 5.5 0.3 2 0.1 6.5 0.4 3 0.1 6.5 0.4 3.5 0 7.5 0.4 3.5 -0.1 5.7 -0.1-4.7 -0.5-2 -0.1-4.5 -0.4-1.5 -0.2-4 -0.4-1.5 -0.1-3.5 -0.4-1.5 -0.1-3.5 -0.4-1 -0.2-3.5 -0.4-1 -0.1-3 -0.4-1 -0.1-3 -0.3-0.5 -0.2-3 -0.4-1 -0.1-2.5 -0.4-1 -0.1-2.5 -0.4-1 -0.1-2.5 -0.4-0.5 -0.1-2.5 -0.4-1 -0.1-2.5 -0.4-0.5 -0.1-2.5 -0.4-1 -0.1-2.5 -0.4-0.5 -0.1-2.5 -0.4-1 -0.1-2.5 -0.4-1 -0.1-3 -0.4-0.5 -0.1-3.5 -0.4-0.5 -0.1-4 -0.4-0.5 0-0.5 -0.1-3.5 -0.3-1.5 0-1zM96.1 45.9l0.5 0.2 1.5 1.4 3.7 4.5 3 4.5 0.1 0.5 1.3 2 2.5 5 1.1 2.5 0.1 0.5 0.4 0.5 0.6 2 0.3 0.5 0.2 1 0.4 0.5 1 3 0.2 1 0.3 0.5 0.1 1 0.3 0.5 0.2 1 0.4 1 0.1 1 0.4 1 0.1 1 0.3 0.5 0.2 1.5 0.3 0.5 0.2 1.5 0.4 1 0.1 1.5 0.4 1 0.1 1.5 0.4 1 0.1 1.5 0.3 1 0.2 2 0.3 1 0.2 2 0.4 1.5 0.1 2 0.4 2 0.1 2 0.3 1.5 0.2 3 0.3 1.5 0.2 3.5 0.3 2.5 0.2 3.5 0.3 2.5 0.1 5 0.4 4 0.4 15.5 0 12 -0.5 15.5 -0.4 3.5 -0.1 0.6 -0.5-0.6 -0.5-2.9 -1.6-14.1 -1.6-12 -0.4-1.5 -0.1-2 -0.4-1.5 -0.2-2 -0.8-4.5 -0.2-2 -0.3-1 -0.1-2 -0.4-1.5 -0.2-1.5 -0.3-1 -0.2-2 -0.3-1 -0.2-1.5 -0.4-1.5 -0.1-1.5 -0.3-1 -0.2-1.5 -0.9-4 -0.1-1.5 -0.4-1 -0.1-1.5 -0.4-1 -0.1-1.5 -0.4-1 -0.1-1.5 -0.3-0.5 -0.2-1.5 -0.3-1 -0.2-1.5 -0.4-1 -0.1-1.5 -0.4-1 -0.1-1 -0.4-1.5 -0.1-1 -0.4-1 -0.2-1.5 -0.2-0.5 -0.2-1.5 -0.4-1 -0.2-1.5 -0.3-0.5 -0.1-1.5 -0.3-0.5 -0.2-1.5 -0.4-1 -0.1-1.5 -0.3-0.5 -0.2-1.5 -0.4-1 -0.1-1 -0.4-1 -0.1-1.5 -0.3-0.5 -0.2-1.5 -0.4-1 -0.2-1.5 -0.3-0.5 -0.1-1.5 -0.4-1 -0.1-1 -0.4-1 -0.1-1.5 -0.4-1 -0.2-1.5 -0.3-0.5 -0.1-1.5 -0.4-1 -0.1-1.5 -0.4-1 -0.1-1.5 -0.4-1 -0.6-4 -0.3-1 -0.1-1.5 -0.4-1.5zM45.1 50.6l0.4 0.4 0 2 0.5 0.5 0 2.5 0.4 0.5 0.1 3.5 0.4 0.5 0.1 0.5 0 4.5 0.4 1 0.1 7 0.3 0.5 0.2 2.5 -0.1 5.5 -0.2 1 -0.1 0.1 -0.3-0.6 -0.1-3 -0.4-1 -0.1-3 -0.4-0.5 -0.1-0.5 0-2.5 -0.5-1 0-3 -0.4-0.5 -0.1-0.5zM49.1 58.5l0.3 0.5 0.1 1.5 0.4 0.5 0.1 2 0.4 0.5 0.1 2 0.4 1 0.2 2.5 0.3 0.5 0.1 3 0.4 0.5 0.1 0.5 0 3 0.4 1 0.1 4 0.4 1 0.1 5.5 0.4 0.5 0 0.5 0.1 6.5 0.4 1 0 1 0.1 7.5 0.3 1 0.1 1 0.1 9.5 0.3 1.5 0.1 1.5 0 8.5 -0.3 2.9 -0.2-1.9 -0.1-5.5 -0.4-1 -0.1-1 -0.1-5 -0.4-1.5 -0.1-5 -0.4-1.5 -0.1-4.5 -0.4-1 -0.1-4.5 -0.4-1.5 -0.1-4 -0.4-1 -0.1-4 -0.5-1.5 0-4 -0.4-1 -0.1-4.5 -0.4-0.5 0-0.5 -0.1-4.5 -0.4-1.5 -0.1-5 -0.4-1 -0.1-1.5 0.1-3 0-0.5zM70.1 69l0.2 1 0.5 1 0 1 0.4 0.5 0.2 1.5 0.3 0.5 0.2 1.5 0.3 0.5 0.2 1.5 0.4 1 0.1 1.5 0.4 1 0.1 1.5 0.4 1 0.1 1.5 0.4 1 0.1 2 0.4 1 0.1 2 0.5 1.5 0 2 0.5 1.5 0.1 2.5 0.3 1 0.2 3 0.3 1.5 0.2 3.5 0.3 1.5 0.1 3.5 0.4 2 0.1 4.5 0.4 2.5 0.1 5 0.4 2.5 0.1 7.5 0.3 2 0.1 2.5 0.1 10 0.3 4.5 0.1 5 -0.2 20.2 -0.2-2.7 -0.3-1.8 -0.2-6.7 -0.4-4 -0.2-5.5 -0.3-2.5 -0.2-5 -0.4-2.5 -0.1-5 -0.4-2 -0.2-4.5 -0.3-2 -0.1-4 -0.4-1.5 -0.1-4 -0.4-1.5 -0.1-4 -0.4-1.5 -0.2-3.5 -0.3-1.5 -0.2-3.5 -0.3-1.5 -0.2-3.5 -0.3-1 -0.2-3.5 -0.3-1.5 -0.2-3.5 -0.3-1 -0.2-3.5 -0.3-1 -0.2-3.5 -0.3-1.5 -0.2-3.5 -0.4-1.5 0-3 -0.4-1.5 -0.1-3.5 -0.3-1 -0.1-1 0-2zM45.1 80.1l0.3 0.4 0.1 0.5 0 4.5 0.4 1 0.1 6.5 0.3 0.5 0.2 1 0 8 0.4 1 0 1 0.1 11 0.3 1.5 0.1 3.5 0 7.5 -0.3 1.9 -0.3-1.9 0-7.5 -0.4-1 -0.1-1 -0.1-7 -0.3-0.5 -0.1-1 -0.1-6 -0.1-0.6 -0.3-0.4 -0.1-1zM48.1 83.5l0.2 2 -0.2 1.7 -0.2-1.7zM57.1 86.4l0.2 1.1 0.1 2 0.4 1 0.1 3 0.5 1.5 0 3 0.5 1.5 0.1 3.5 0.4 1.5 0.1 4.5 0.3 1 0.1 1 0.1 5 0.3 1 0.1 1 0.1 6.5 0.3 2 0.2 9 0.2 1.5 0.2 2.5 0 12 0.3 3 0.1 3.5 0 13 -0.2 8 -0.2-13 -0.5-3.5 -0.1-9.5 -0.4-3 -0.1-7.5 -0.4-2.5 -0.2-7 -0.3-2 -0.2-6.5 -0.4-2.5 -0.1-6 -0.4-1.5 -0.1-6 -0.4-2 -0.1-5.5 -0.4-2 -0.1-6 -0.3-1 0-1 0-3.5zM49.1 98.3l0.2 0.7 0.1 2 -0.1 2 -0.2 0.9 -0.2-0.9 -0.1-2 0.1-2zM49.6 104.4l0.3 1.1 0 5.5 0.4 1 0.1 1 0.1 7 0.3 1 0.1 1.5 0.1 9 0.3 1 0.1 2 0 13.5 0.4 2.5 0.1 5 -0.1 10.5 -0.2 4.7 -0.2-5.2 -0.1-12 -0.3-1 -0.1-1.5 -0.1-12 -0.4-1 -0.1-1 -0.1-10 -0.3-1.5 -0.1-1.5 0-8.5 -0.4-1 -0.1-1.5 0-7 0.1-1zM55.1 131.8l0.2 3.7 -0.2 4.5 -0.2-4.5zM47.6 133.4l0.2 4.1 -0.2 4.2 -0.2-4.2zM45.1 139.4l0.3 1.6 0 6 0 7 -0.3 2.4z"/>
<path fill="#4850f3" d="M45.1 36l1.4 0 0 0.5 0.4 0.5 0.1 2 0.4 0.5 0.1 3.5 0.3 0.5 0.2 1 0 5 0.4 1.5 0 2 -0.2 1 -0.1 0.1 -0.1-0.1 -0.2-1.5 -0.5-0.5 -0.1-1 -0.3-0.5 -0.2-0.5 0-1 -0.5-0.5 0-1 -0.4-0.5 -0.1-1.5 -0.5-0.5 -0.1-1.6zM49.1 36.2l1.3 1.8 0.1 0.5 0.4 0.5 0.2 0.8 0.2 0.2 0.2 1 0.5 0.5 0 1 0.5 0.5 0 1 0.4 0.5 0.1 1.5 0.4 0.5 0.1 0.5 0 2 0.4 0.5 0.1 3 0.4 0.5 0.1 0.5 0 3.5 0.4 1 0.1 5 0.4 1.5 0 5.5 0.3 1 0.1 1.5 0 2.5 -0.2 1 -0.2-2 -0.5-1 -0.1-1.5 -0.4-1 -0.2-1.5 -0.4-1 -0.1-1.5 -0.4-1 -0.1-1.5 -0.4-0.5 -0.1-2 -0.4-0.5 -0.1-1.5 -0.4-0.5 -0.1-0.5 0-1.5 -0.4-0.5 -0.1-2 -0.4-0.5 -0.1-2 -0.4-0.5 -0.1-2 -0.5-1 0-2.5 -0.4-0.5 -0.1-0.5 0-3 -0.4-0.5 0-0.5 -0.1-4 0.1-0.5zM51.7 36l3.8 0 0.4 1.5 0.1 5 -0.4 0.2 -0.2-0.2 -0.1-0.5 -0.5-0.5 0-0.5 -1.5-2 -0.1-0.5 -0.5-0.5 0-0.5 -0.5-0.5zM57.8 36l7.7 0 0.4 0.5 0.1 1.5 0.4 1 0.1 2 0.4 1 0.1 2.5 0.4 1.5 0.1 3 0.3 1 0.2 3.5 0.3 1.5 0.1 3.5 0.3 2 -0.1 2 -0.1-0.5 -0.5-0.5 -1.1-3 -0.1-0.5 -0.4-0.5 -0.6-2 -0.4-0.5 -0.3-1 -0.3-0.5 -0.1-0.5 -0.4-0.5 -0.1-0.5 -0.4-1 -0.1-0.5 -0.4-0.5 -0.1-0.5 -0.4-0.5 -0.1-0.5 -0.3-0.5 -0.2-1 -0.5-0.5 0-0.5 -0.4-0.5 -0.1-0.5 -0.4-0.5 -0.1-1 -0.5-0.5 0-0.5 -0.4-0.5 -0.1-1 -0.5-0.5 0-0.5 -0.3-0.5 -0.3-1.3 -0.4-0.7 0-1zM70.2 36l6.2 0 0.9 1 0.2 0.5 1.4 1.5 0.1 0.5 0.9 1 0.1 0.5 0.4 0.5 0.1 0.5 0.4 0.5 0.5 1 0.1 0.5 0.4 0.5 0.1 0.5 0.4 0.5 0.2 1 0.3 0.5 0.1 0.5 0.4 1 0.2 1 0.3 0.5 0.1 1 0.3 0.5 0.2 1.5 0.3 0.5 0.2 1.5 0.4 1 0.1 1.5 0.4 1 0 1.5 0.4 1 0.1 2 0.5 1.5 0 2 0.4 1.5 0.2 2.5 0.3 1 0.1 3 0.4 1.5 0.1 3 0.4 1.5 0.1 3 0.3 1.5 0.2 3.5 0.3 2 0.2 3.5 0.3 2 0.1 4 0.4 2 0.1 4 0.3 2.5 0.2 4 0.3 3.5 0.4 9.5 -0.4 0.5 -1.7-11 -0.4-1.5 -0.1-1.5 -0.3-1 -0.2-2 -0.4-1 -0.1-1.5 -0.9-4 -0.2-1.5 -0.3-1 -0.7-3.5 -0.3-1 -0.2-1.5 -0.3-0.5 -0.2-1.5 -0.4-1 -0.1-1 -0.4-1 -0.1-1 -0.4-1 -0.2-1.5 -0.3-0.5 -0.1-1 -0.4-1 -0.1-1 -0.5-1 0-1 -0.4-0.5 -0.1-1 -0.4-1 -0.1-1 -0.4-0.5 -0.1-1 -0.5-1 0-1 -0.4-0.5 -0.1-1 -0.3-0.5 -0.4-1.5 -0.3-0.5 -0.1-1 -0.4-0.5 -0.1-1 -0.3-0.5 -0.2-1 -0.2-0.5 -0.4-1.5 -0.3-0.5 -0.1-1 -0.4-0.5 -0.1-1 -0.4-0.5 -0.1-1 -0.3-0.5 -0.3-1.5 -0.3-0.5 -0.1-1 -0.4-0.5 -0.1-1 -0.4-1 -0.1-1 -0.4-0.5 -0.1-1 -0.4-1 -0.1-1 -0.3-0.5 -0.2-1.5 -0.3-0.5 -0.2-1.5 -0.4-1 -0.1-1.5 -0.3-0.5 -0.2-2 -0.3-0.5 -0.1-0.5zM85.8 36l8 0 0.1 1.5 0.3 1.5 0.1 3 -0.2 0.3 -0.5-0.2zM107.3 36l45.6 0 0.3 1 0.2 2 0.3 1 0.2 2 0.3 1 1.1 7.5 0.4 1.5 0.1 1.5 0.4 1.5 0.1 1.5 1.8 10.1 3.5 22.4 1 7.4 0.9 9.1 0.2 3.5 -0.2 2 -0.4 0.5 -0.5-0.3 -1-1.6 -7.6-16.1 -2.6-5 -3.4-6 -4-6.5 -3.1-4.5 -2.6-3.5 -6.4-8 -5.1-5.5 -6.7-6.7 -3-2.6 -4-3.8 -2-1.7zM188.7 36l173.9 0 0 84.1 -4.5 11.2 -4.5 10.4 -4.5 9.5 -4.5 8.6 -3.5 6 -3.5 5.2 -3 3.5 -2.5 2.1 -1.5 0.9 -1 0.4 -1 0.2 -1.5 0 -1-0.2 -1.5-0.5 -1.5-0.8 -1.5-1.1 -4-3.8 -4.5-5.2 -21.2-27 -11.5-14 -9.5-11 -11.9-13 -12.2-12.5 -13.2-12.7 -16-14.7 -19.5-17.1zM56.6 45.2l0.8 1.3 0.1 0.5 0.4 0.5 0 0.5 0.5 0.5 0.2 1 0.3 0.5 0.1 0.5 0.3 0.5 0.2 1 0.4 0.5 0.1 1 0.3 0.5 0.2 1.5 0.4 0.5 0.1 1 0.4 1 0.1 1.5 0.4 0.5 0.1 1.5 0.4 1 0.1 2 0.4 0.5 0 0.5 0.1 2 0.3 0.5 0.1 0.5 0.1 2.5 0.4 1 0.1 3 0.4 1.5 0.1 3.5 0.4 1.5 0.1 4 0.3 1.5 0.2 5 0.4 2.5 0 5 0.4 2.5 0.1 6 0.4 2.5 0.1 7 0.3 4 0.1 8.5 -0.2 0.9 -0.2-4.4 -0.4-2 -0.1-3.5 -0.5-2 -0.1-3 -0.4-2 -0.1-3 -0.4-1.5 -0.2-3 -0.3-1 -0.1-3 -0.4-1 -0.2-3 -0.4-1 -0.1-2.5 -0.3-1 -0.2-2.5 -0.4-1 -0.1-2.5 -0.4-1 -0.1-2.5 -0.3-0.5 -0.2-2.5 -0.4-1 -0.1-2.5 -0.3-0.5 -0.2-2.5 -0.4-1 -0.1-2.5 -0.4-0.5 -0.1-2.5 -0.4-1 -0.1-2.5 -0.4-1 -0.1-3 -0.3-0.5 -0.1-0.5 -0.1-3 -0.3-0.5 -0.1-0.5 -0.1-3.5 -0.3-0.5 -0.1-0.5 0-3.5 -0.3-1.5zM96.6 46.3l1 0.8 2.5 2.9 2.6 3.5 3.4 5.5 2.6 5 2.5 6 2 6 0.2 1 0.2 0.5 0.6 2 0.2 1 0.4 1 0.1 1 0.4 1 0.1 1 0.3 1 0.1 1 0.4 1 0.2 1.5 0.3 1 0.1 1.5 0.4 1 0.1 1.5 0.4 1.5 0.1 1.5 0.3 1 0.2 2 0.4 1.5 0.1 2 0.4 2 0.1 2 0.4 2 0.1 2.5 0.4 2 0.9 12 0.5 9 0.4 14.5 0 9.5 -0.4 13.9 -0.5 4.7 -0.5 0.2 -0.5-2.2 -3.6-27.1 -0.4-1.6 -1.2-8.4 -0.4-1.5 -0.1-1.5 -1.9-10 -0.1-1.5 -0.3-1 -0.2-1.5 -0.9-4 -0.1-1.5 -0.4-1 -0.1-1.5 -0.4-1 -0.1-1.5 -0.4-1 -0.2-1.5 -0.3-1 -0.6-3.5 -0.4-1 -0.2-1.5 -0.3-1 -0.7-3.5 -0.3-1 -0.2-1.5 -0.4-1 -0.1-1 -0.3-1 -0.7-3.5 -0.4-1 -0.1-1 -0.3-1 -0.2-1.5 -0.3-0.5 -0.2-1.5 -0.8-3 -0.2-1.5 -0.2-0.5 -0.3-1.5 -0.4-1 -0.6-3.5 -0.4-1 -0.6-3.5 -0.4-1 -0.6-3.5 -0.3-1 -0.2-1.5 -0.3-1 -0.2-1.5 -0.3-1 -0.2-1.5 -0.3-1 -0.9-5.5 0.1-1zM45.1 50.7l0.3 0.3 0.1 2 0.4 0.5 0.1 2.5 0.4 0.5 0.1 3.5 0.4 0.5 0 0.5 0.1 4.5 0.4 1.5 0.1 6.5 0.4 1 0 2.5 0 5 -0.3 1.1 -0.3-1.1 0-2.5 -0.5-1 -0.1-3 -0.3-0.5 -0.1-0.5 -0.1-2.5 -0.4-1 -0.1-3 -0.4-0.5 -0.1-0.5 -0.1-3zM49.1 58.6l0.2 0.4 0.1 1.5 0.4 0.5 0.2 2 0.4 0.5 0.1 2 0.4 1 0.1 2.5 0.4 0.5 0.1 3 0.4 0.5 0 0.5 0.1 3 0.4 1 0.1 4 0.4 1.5 0.1 5 0.4 1 0.1 6.5 0.3 1 0.1 1 0.1 7.5 0.3 1 0.1 1.5 0 9 0.3 1.5 0.1 2 0 7.5 -0.2 3.1 -0.2-2.1 -0.1-5 -0.3-1 -0.1-1 -0.1-5 -0.5-2 -0.1-4.5 -0.4-1.5 -0.1-4.5 -0.4-1.5 -0.1-4 -0.4-1.5 -0.1-4 -0.4-1 -0.1-4.5 -0.4-0.5 0-0.5 -0.1-4 -0.3-0.5 -0.1-1 -0.1-4 -0.4-1 -0.1-4.5 -0.4-1.5 -0.1-5 -0.3-1 -0.1-1.5 0-3zM70.1 69.4l0.1 0.6 0.5 1 0.1 1 0.5 1 0 1 0.4 0.5 0.2 1.5 0.4 1 0.1 1 0.4 1 0.1 1.5 0.4 1 0.1 1.5 0.4 1 0.1 1.5 0.4 1 0.1 2 0.4 1 0.1 2 0.4 1.5 0.1 2 0.4 1.5 0.1 2.5 0.4 1 0.1 3 0.4 1.5 0.1 3.5 0.4 1.5 0.1 3.5 0.4 2.5 0.1 4 0.4 2.5 0.1 5 0.4 3.5 0.1 6.5 0.3 4 0.1 10.5 0.4 9 -0.1 15.8 -0.1-0.8 -0.4-0.7 -0.2-5.3 -0.4-4 -0.1-5 -0.4-3 -0.1-4.5 -0.4-3 -0.2-4.5 -0.3-2 -0.2-4.5 -0.4-2 -0.1-4 -0.4-2 -0.1-3.5 -0.4-2 -0.1-3.5 -0.4-1.5 -0.1-3.5 -0.4-1.5 -0.1-3.5 -0.4-1.5 -0.1-3.5 -0.4-1.5 -0.1-3 -0.4-1.5 -0.2-3.5 -0.3-1 -0.1-3.5 -0.4-1.5 -0.1-3 -0.4-1.5 -0.1-3.5 -0.3-1 -0.2-3.5 -0.3-1.5 -0.1-3.5 -0.4-2zM45.1 80.1l0.3 0.4 0 0.5 0.1 4.5 0.4 1.5 0.1 6 0.3 0.5 0.1 1.5 0.1 7.5 0.3 1 0.1 1 0 11 0.4 1.5 0.1 3.5 0 7 -0.3 2.2 -0.3-2.2 0-7 -0.4-1 -0.1-1 -0.1-7 -0.4-1 -0.1-6.5 -0.1-0.7 -0.2-0.3 -0.1-1 -0.2-6.3zM48.1 83.7l0.2 1.8 -0.2 1.5 -0.2-1.5zM57.1 86.6l0.2 2.9 0.5 1.5 0.1 2.5 0.4 1.5 0.1 3 0.4 1.5 0.1 3.5 0.4 1.5 0.1 4.5 0.4 2 0.1 5 0.4 2 0.1 6.5 0.4 2.5 0.1 8.5 0.3 2 0.1 2.5 0.1 11.5 0.3 6.5 -0.1 18.8 -0.2-10.8 -0.4-4 -0.2-9 -0.4-3 -0.1-7.5 -0.4-3 -0.1-6.5 -0.4-2.5 -0.1-6 -0.4-2.5 -0.1-6 -0.4-1.5 -0.1-6 -0.4-2 -0.1-5.5 -0.4-2.5 -0.1-5.5 -0.4-2 0-3zM49.1 98.5l0.2 2.5 -0.2 2.7 -0.2-2.7zM49.6 104.5l0.2 1.5 0.1 5 0.3 1 0.1 1 0.1 7 0.3 1 0.2 2 0 8.5 0.4 1.5 0 1.5 0.1 13.5 0.3 3 0.1 4.5 0 9.5 -0.2 4.8 -0.2-5.8 0-10.5 -0.4-1.5 -0.1-1.5 -0.1-11.5 -0.3-1 -0.1-1.5 -0.1-9.5 -0.4-1.5 -0.1-2 0-8 -0.4-1.5 -0.1-1.5 0-6zM55.1 132.6l0.1 2.9 -0.1 3.6 -0.1-3.6zM47.6 133.9l0.1 3.6 -0.1 3.6 -0.1-3.6zM45.1 139.6l0.2 1.9 0.1 5.5 -0.1 6.5 -0.2 2.5z"/>
<path fill="#4758f8" d="M45.1 36l1.4 0 0 0.5 0.4 0.5 0.1 2 0.4 0.5 0.1 3.5 0.3 0.5 0.1 1 0.1 5 0.3 1.5 0 2 -0.2 1 -0.2-0.5 -0.1-1 -0.5-0.5 0-1 -0.5-1 -0.1-1 -0.4-0.5 -0.1-1 -0.4-0.5 -0.1-1.5 -0.4-0.5 -0.2-1.6zM49.1 36.2l1.3 1.8 0.1 0.5 0.4 0.5 0.1 0.5 0.3 0.5 0.2 1 0.4 0.5 0.1 1 0.4 0.5 0.1 1 0.4 0.5 0.1 1.5 0.4 1 0.1 2 0.4 0.5 0.1 3 0.4 0.5 0 0.5 0.1 3.5 0.2 0.5 0.2 1 0.1 4.5 0.4 1.5 0 5.5 0.4 2.5 -0.2 3.3 -0.2-1.8 -0.4-1 -0.2-1.5 -0.4-1 -0.1-1.5 -0.4-1 -0.1-1.5 -0.5-1 -0.1-1.5 -0.3-0.5 -0.2-2 -0.4-0.5 -0.1-1.5 -0.4-1 -0.1-1.5 -0.4-0.5 -0.1-2 -0.4-0.5 -0.1-2 -0.4-0.5 -0.1-2 -0.4-1 -0.1-2.5 -0.4-0.5 -0.1-0.5 0-3 -0.3-0.5 -0.1-1 0-3.5 0-0.5zM51.7 36l3.8 0 0.4 1.5 -0.1 5 -0.2 0.1 -0.1-0.1 -0.1-0.5 -0.5-0.5 -0.1-0.5 -1.5-2 -0.1-0.5 -0.4-0.5 -0.1-0.5 -0.5-0.5zM57.8 36l7.7 0 0.4 0.5 0.1 1.5 0.4 1 0.1 2 0.4 1 0.1 2.5 0.4 1.5 0.1 3 0.3 1 0.1 3.5 0.4 2 0.3 6.5 -0.5-0.5 -0.3-1 -0.9-2 -0.1-0.5 -0.3-0.5 -0.7-2 -0.4-0.5 -0.2-1 -0.4-0.5 0-0.5 -0.4-0.5 -0.6-1.5 -0.1-0.5 -0.4-0.5 -0.1-0.5 -0.4-0.5 -0.6-2 -0.4-0.5 -0.1-0.5 -0.4-0.5 -0.1-0.5 -0.4-0.5 -0.1-1 -0.4-0.5 -0.1-0.5 -0.4-0.5 -0.1-1 -0.4-0.5 -0.7-2.3 -0.4-0.7 0-1zM70.2 36l6.1 0 0.5 0.5 0.6 1 1.4 1.5 0.1 0.5 0.9 1 0.1 0.5 0.5 0.5 0.1 0.5 0.9 1.5 0 0.5 0.5 0.5 0 0.5 0.4 0.5 0.2 1 0.4 0.5 0 0.5 0.5 1 0.2 1 0.3 0.5 0 1 0.4 0.5 0.1 1.5 0.4 0.5 0.1 1.5 0.4 1 0.1 1.5 0.4 1 0.1 1.5 0.4 1 0.1 2 0.4 1.5 0.1 2 0.3 1 0.2 3 0.4 1.5 0.1 2.5 0.4 1.5 0.1 3 0.3 1.5 0.2 3 0.3 2 0.1 3 0.4 2.5 0.1 3 0.4 2.5 0.1 3.5 0.3 2.5 0.2 3.5 0.3 3.1 0.5 8.4 0 6 -0.2-1 -0.3-0.7 -2.2-12.8 -1.4-6.5 -0.1-1.5 -0.4-1 -0.6-3.5 -0.4-1 -0.1-1.5 -0.4-1 -0.1-1 -0.4-1 -0.1-1 -0.4-1 -0.8-3.5 -0.2-0.5 -0.2-1 -0.4-1 -0.1-1 -0.4-1 -0.1-1 -0.3-0.5 -0.2-1 -0.4-1 -0.1-1 -0.3-0.5 -0.2-1 -0.4-1 -0.1-1 -0.4-0.5 -0.1-1 -0.5-1 -0.1-1 -0.3-0.5 -0.1-1 -0.4-0.5 -0.1-1 -0.4-0.5 -0.1-1 -0.5-1 -0.2-1 -0.3-0.5 0-1 -0.4-0.5 -0.1-1 -0.4-0.5 -0.1-1 -0.4-0.5 -0.3-1.5 -0.3-0.5 -0.1-1 -0.3-0.5 -0.2-1 -0.4-1 -0.1-1 -0.4-0.5 -0.1-1 -0.4-1 -0.1-1 -0.4-1 -0.1-1 -0.4-1 -0.1-1 -0.4-1 -0.1-1.5 -0.3-0.5 -0.1-0.5 -0.1-1.5 -0.4-1zM85.8 36l8 0 0 1.5 0.4 1.5 0 2.5 -0.1 0.5 -0.5-0.1 -0.5-0.3zM107.3 36l45.5 0 0.3 1 0.2 2 0.3 1 0.2 2 0.3 1 3.5 21.1 3.5 23 1.5 13.4 0.1 3.5 -0.1 2.5 -0.5 0.8 -0.5-0.3 -1-1.3 -8.2-15.7 -4.5-8 -5.5-8.5 -5.9-8 -4.6-5.5 -5.3-5.8 -6.5-6.4 -7-6.5 -2-1.6zM188.8 36l173.8 0 0 82.3 -4.5 11 -4.5 10.2 -4.5 9.3 -4 7.5 -4 6.6 -3.5 4.8 -3 3.3 -1.5 1.3 -1.5 1 -2.5 1 -1.5 0.2 -1.5-0.1 -1.5-0.4 -1.5-0.7 -3-1.9 -3.5-3.1 -4.5-4.9 -5.5-6.5 -17.7-21.9 -8.4-10 -11-12.5 -13.6-14.5 -11.9-12 -12.4-11.8 -10.5-9.5 -23.5-20.7zM56.6 45.4l0.3 0.6 0.2 0.1 0.3 0.9 0.4 0.5 0.1 0.5 0.4 0.5 0.3 1 0.3 0.5 0 0.5 0.4 0.5 0.1 1 0.4 0.5 0.2 1 0.4 1 0.1 1 0.4 0.5 0.1 1 0.4 1 0.1 1.5 0.4 0.5 0.1 1.5 0.4 1 0.1 2 0.3 0.5 0.1 0.5 0.1 2 0.4 1 0.1 2.5 0.3 1 0.2 3 0.4 1.5 0.1 3.5 0.3 1.5 0.1 4 0.4 2 0.1 4.5 0.4 2.5 0.1 5 0.4 2.5 0.1 6 0.3 3 0.1 6.5 0.4 4.5 -0.1 7.9 -0.1-3.4 -0.4-2 -0.2-3.5 -0.4-2 -0.1-3 -0.4-2 -0.2-3 -0.4-1.5 -0.1-3 -0.4-1.5 -0.1-2.5 -0.4-1 -0.2-3 -0.3-1 -0.1-2.5 -0.4-1 -0.1-2.5 -0.4-1 -0.2-2.5 -0.3-1 -0.2-2.5 -0.3-0.5 -0.2-2.5 -0.3-1 -0.2-2.5 -0.3-0.5 -0.2-2.5 -0.4-1 -0.1-2.5 -0.3-0.5 -0.2-2.5 -0.4-1 -0.1-2.5 -0.4-1.5 -0.1-2.5 -0.3-0.5 -0.1-0.5 -0.1-3 -0.4-1 -0.1-3.5 -0.3-1 -0.1-3.5 -0.3-1.5zM96.6 46.7l0.5 0.2 1 0.9 3.5 4.2 3 4.5 3.5 6.5 2.6 6 2 5.5 2 7 0.1 1 0.4 1 0.1 1 0.8 3 0.2 1.5 0.3 1 0.2 1.5 0.3 1 0.7 4.5 0.4 1.5 0.9 7 1 9 1 12.5 0.5 10 0.3 17 -0.3 13.6 -0.5 5.9 -0.5 0.9 -0.5-1.4 -0.5-2.7 -3.1-21.8 -1.5-10 -2.6-14.5 -1.3-6.5 -0.2-1.5 -0.3-1 -0.2-1.5 -0.3-1 -0.2-1.5 -0.3-1 -0.2-1.5 -1.4-6 -0.1-1 -0.4-1 -0.6-3.5 -0.4-1 -0.6-3.5 -0.9-3.5 -0.1-1 -0.9-3 -0.2-1.5 -0.8-3 -0.6-3.5 -0.9-3 -0.6-3.5 -0.4-1 -0.6-3.5 -0.4-1 -0.6-3.5 -0.4-1 -0.1-1.5 -0.4-1 -0.1-1.5 -0.4-1 -0.9-5.5 -0.3-2.5zM45.1 50.7l0.3 0.3 0.1 2 0.4 0.5 0.1 2.5 0.4 0.5 0 0.5 0.1 3 0.3 0.5 0.1 0.5 0.1 4.5 0.4 1.5 0.1 6.5 0.3 1 0.1 2.5 0 4.5 -0.3 1.5 -0.2-1 -0.1-2.5 -0.4-1 -0.2-3 -0.3-0.5 -0.1-0.5 -0.1-2.5 -0.4-1 -0.1-3 -0.4-0.5 0-0.5 -0.2-3zM49.1 58.7l0.2 0.3 0.1 1.5 0.4 0.5 0.1 0.5 0 1.5 0.4 0.5 0.2 2 0.4 1 0.1 2.5 0.4 0.5 0.1 3 0.3 0.5 0.1 0.5 0.1 3 0.4 1 0.1 4 0.4 1.5 0.1 5 0.2 0.5 0.2 1.5 0.1 5.5 0.4 2 0 7.5 0.4 1.5 0 1.5 0.1 8.5 0.3 2 0.1 3 0 6 -0.2 2.7 -0.2-6.7 -0.5-2 -0.1-5 -0.4-2 -0.1-4.5 -0.4-1.5 -0.2-4.5 -0.4-1.5 -0.1-4 -0.3-1 -0.1-1 -0.1-3.5 -0.3-1 -0.2-4.5 -0.3-0.5 -0.1-0.5 -0.1-4 -0.4-1.5 -0.1-4 -0.3-0.5 -0.1-1 -0.1-4 -0.4-1.5 -0.1-5 -0.3-1 -0.1-1.5 0.1-3zM70.1 69.9l0.1 0.6 0.4 0.5 0.1 1 0.5 1 0.1 1 0.4 1 0.1 1 0.4 1 0.1 1 0.4 1 0.2 1.5 0.3 1 0.2 1.5 0.3 1 0.2 1.5 0.4 1.5 0.1 1.5 0.3 1 0.2 2 0.4 1.5 0.1 2 0.4 1.5 0.1 2.5 0.3 1 0.2 3 0.4 2 0.1 3 0.3 1.5 0.2 3.5 0.4 2.5 0.1 4 0.3 2.5 0.2 5 0.3 4 0.1 6 0.4 5 0.4 24 -0.1 4.5 -0.4 2 -0.5-7.1 -0.2-4.9 -0.4-3.5 -0.1-4 -0.4-3 -0.1-4.5 -0.4-2.5 -0.2-4 -0.3-2 -0.2-4 -0.3-2 -0.2-3.5 -0.3-2 -0.2-3.5 -0.3-1.5 -0.2-3.5 -0.4-2 -0.1-3 -0.4-2 -0.1-3 -0.4-1.5 -0.1-3 -0.4-2 -0.1-3 -0.4-1.5 -0.1-3 -0.4-1.5 -0.1-3 -0.4-2 -0.1-3 -0.3-1.5 -0.2-3 -0.3-2 -0.1-3 -0.3-2zM45.1 80.2l0.2 0.3 0.1 0.5 0.1 4.5 0.4 1.5 0.1 6 0.3 1 0.1 1 0.1 7.5 0.2 1 0.2 1.5 0 10.5 0.4 2 0.1 3 -0.1 6.5 -0.2 2.5 -0.2-2.5 -0.1-6.5 -0.3-1 -0.1-1 -0.2-7 -0.3-1 -0.2-6.5 0-0.5 -0.3-0.5 -0.1-1.5 -0.1-5.5 -0.1-0.3zM57.1 86.9l0.2 2.6 0.4 1 0.1 3 0.5 1.5 0.1 3 0.4 2 0.1 3 0.4 2 0.1 4 0.4 2.5 0.1 4.5 0.4 2.5 0.1 6 0.4 2.5 0.1 8.5 0.4 4.5 0 11.5 0.4 6.5 -0.1 16.2 -0.1-8.2 -0.5-4.5 -0.1-8.5 -0.4-3.5 -0.2-7 -0.4-3 -0.1-6.5 -0.4-2.5 -0.1-6 -0.4-2.5 -0.1-6 -0.4-2 -0.1-5.5 -0.4-2.5 -0.1-5 -0.4-2.5 -0.1-5.5 -0.3-2.5zM49.1 98.8l0.1 2.2 -0.1 2.4 -0.1-2.4zM49.6 104.6l0.2 1.9 0.1 4.5 0.3 1 0.1 1.5 0.1 6.5 0.3 1 0.1 1.5 0.1 9 0.3 1.5 0.1 2 0 13 0.4 3.5 0.1 4 -0.2 13.2 -0.2-6.2 0.1-9 -0.5-3 -0.2-11.5 -0.4-2.5 -0.1-9.5 -0.4-2 0-1.5 -0.1-8 -0.3-1.5 -0.1-1.5 0-5.5zM45.1 139.9l0.2 2.1 0 5 0 6 -0.2 2.6z"/>
<path fill="#4660fc" d="M45.1 36l1.4 0 0 0.5 0.4 0.5 0.1 0.5 0 1.5 0.4 0.5 0.1 3.5 0.4 1.5 0.1 5 0.3 2 -0.1 2 -0.1 0.4 -0.2-1.4 -0.5-0.5 -0.1-1 -0.5-1 -0.1-1 -0.4-0.5 -0.1-1 -0.3-0.5 -0.2-1.5 -0.4-0.5 -0.2-1.7zM49.1 36.3l1.2 1.7 1 2 0.2 1 0.4 0.5 0.1 1 0.4 0.5 0.1 1 0.3 0.5 0.2 1.5 0.4 1 0.1 2 0.4 0.5 0.1 3 0.3 0.5 0.1 0.5 0.1 3.5 0.4 1.5 0.1 4.5 0.3 1.5 0.1 5.5 0.3 2.5 -0.1 3 -0.1-1.5 -0.5-1 -0.1-1.5 -0.4-1 -0.2-1.5 -0.4-1 -0.1-1.5 -0.4-1 -0.1-1.5 -0.5-1 -0.1-1.5 -0.4-0.5 -0.1-1.5 -0.4-1 -0.1-1.5 -0.4-0.5 -0.1-2 -0.4-0.5 -0.1-2 -0.4-0.5 -0.1-2 -0.4-1 -0.1-2.5 -0.4-0.5 0-0.5 -0.1-3 -0.3-0.5 -0.1-1 0-3.5 0.1-0.5zM51.7 36l3.8 0 0.4 2 0 3 -0.2 1.5 -0.1 0 -0.2-0.5 -0.5-0.5 -0.1-0.5 -1.4-2 -0.2-0.5 -0.4-0.5 -0.1-0.5 -0.4-0.5zM57.8 36l7.7 0 0.3 0.5 0.2 1.5 0.4 1 0.1 2 0.4 1 0.1 2.5 0.4 1.5 0 3 0.4 1 0.1 3.5 0.3 2 0.2 5.5 -0.3 0.2 -0.2-0.7 -0.4-0.5 -0.5-1.5 -0.1-0.5 -0.4-0.5 -0.7-2 -0.9-2 -0.1-0.5 -0.4-0.5 -0.6-1.5 0-0.5 -0.5-0.5 0-0.5 -0.4-0.5 -0.1-0.5 -0.4-0.5 -0.2-1 -0.4-0.5 -0.1-0.5 -0.4-0.5 0-0.5 -0.4-0.5 -0.2-1 -0.4-0.5 -0.1-0.5 -0.4-0.5 -0.1-1 -0.4-0.5 -0.1-0.5 -0.4-1 -0.2-0.9 -0.3-0.6 -0.1-1zM70.2 36l6.1 0 0.5 0.5 0.6 1 1.4 1.5 0.1 0.5 0.9 1 0.1 0.5 0.4 0.5 0.1 0.5 1 1.5 0 0.5 0.4 0.5 0.1 0.5 0.4 0.5 0.2 1 0.3 0.5 0.5 1.5 0.2 1 0.3 0.5 0.1 1 0.4 1 0.1 1 0.3 0.5 0.2 1.5 0.4 1 0.1 1.5 0.4 1 0.1 1.5 0.3 1 0.2 2 0.4 1.5 0.1 2 0.4 1.5 0.1 2.5 0.4 1.5 0.1 2.5 0.3 1.5 0.2 3 0.3 2 0.1 2.5 0.4 2 0.1 3 0.8 8.5 0.2 3 0.3 3 0.5 7.6 0.2 7.4 -0.2 2 -1-4.6 -2.2-11.9 -1.9-8.5 -0.1-1 -0.4-1 -0.1-1 -0.4-1 -1.6-7 -0.4-1 -0.2-1 -0.4-1 -0.1-1 -0.3-0.5 -0.2-1 -0.4-1 -0.1-1 -0.9-2.5 -0.1-1 -0.3-0.5 -0.2-1 -0.4-1 -0.2-1 -0.3-0.5 -0.1-1 -0.4-0.5 -0.1-1 -0.3-0.5 -0.8-3 -0.3-0.5 -0.1-1 -0.4-0.5 -0.1-1 -0.4-0.5 -0.1-1 -0.9-2.5 -0.1-1 -0.4-0.5 -0.1-1 -0.5-1 0-1 -0.4-0.5 -0.1-1 -0.5-1 0-1 -0.5-1 0-1 -0.5-1 0-1 -0.4-1 -0.1-1.5 -0.5-1 0-1.5 -0.4-1zM85.9 36l7.8 0 0.1 1.5 0.3 2 0 2 -0.5 0.2 -0.5-0.2zM107.3 36l45.5 0 0.4 1.5 0.1 1.5 0.4 1.5 3.9 24.4 3 20.5 1.2 11.6 0.1 3.5 -0.3 2.3 -0.5 0.7 -0.5-0.2 -1.5-1.8 -7.8-14 -4.5-7.5 -5.4-8 -6.5-8.5 -2.9-3.5 -4.6-5 -3-3 -4.3-4.3 -7-6.4 -2-1.7zM188.9 36l173.7 0 0 80.1 -4 9.8 -4.5 10.1 -4.5 9.2 -4.3 7.8 -3.7 6 -3.5 4.7 -3.5 3.6 -3 2.2 -1.5 0.7 -1.5 0.4 -1.5 0.2 -1.5-0.1 -1.5-0.3 -2-0.8 -3.5-2.2 -4-3.5 -5-5.2 -6-6.9 -18.3-21.8 -9.5-11 -11.4-12.5 -11.1-11.5 -10.6-10.5 -13.1-12.3 -14-12.5 -19-16.7zM56.6 45.8l0.1 0.2 0.4 0.2 0.3 0.8 0.4 0.5 0.1 0.5 0.4 0.5 0.6 2 0.3 0.5 0.2 1 0.4 0.5 0.1 1 0.5 1 0 1 0.4 0.5 0.1 1 0.5 1 0.1 1.5 0.3 0.5 0.1 1.5 0.4 1 0.2 2 0.3 0.5 0.1 0.5 0.1 2 0.3 1 0.1 2.5 0.4 1 0.1 3 0.4 1.5 0.1 3.5 0.4 1.5 0.1 4 0.4 2 0.1 4.5 0.4 3 0.1 4.5 0.4 3 0 5.5 0.4 3 0.1 6.5 0.3 4.5 0 6.6 -0.1-3.1 -0.4-1.4 -0.1-3.1 -0.4-2 -0.2-3 -0.4-2 -0.1-3 -0.4-1.5 -0.2-3 -0.4-1.5 -0.1-2.5 -0.4-1.5 -0.1-2.5 -0.4-1 -0.1-2.5 -0.4-1 -0.1-2.5 -0.4-1 -0.1-2.5 -0.4-1 -0.1-2.5 -0.4-1 -0.1-2 -0.5-1.5 0-2 -0.5-1 0-2 -0.5-1.5 -0.1-2 -0.3-0.5 -0.2-2.5 -0.3-1 -0.2-2.5 -0.4-1.5 -0.1-2.5 -0.4-1 -0.1-3 -0.3-1 -0.2-3.5 -0.3-1 -0.1-3.5zM97.1 47.2l1 0.8 1.5 1.6 4 5.4 3.5 6.1 2.5 5.4 2.5 6.5 2 6.5 1.5 6 1.5 7.2 1.5 9.3 1 8 1 10.7 0.5 7.6 0.5 12.1 0.1 15.1 -0.3 10 -0.3 3.4 -0.4 1.6 -0.1 0.3 -0.5-0.8 -0.5-2.1 -5.1-32.4 -4-22 -2.5-11 -0.1-1 -2.9-12.5 -0.1-1 -0.3-1 -0.7-3.5 -0.4-1 -0.1-1 -0.9-3.5 -0.1-1 -0.4-1 -1.1-5.5 -0.3-1 -3-14 -1-5.8 -0.1-1.2 0.1-1.2zM45.1 50.7l0.3 0.3 0.1 2 0.4 0.5 0.1 2.5 0.3 0.5 0.1 0.5 0.1 3 0.3 0.5 0.1 1 0.1 4 0.4 1.5 0.1 6.5 0.3 1 0.1 2 -0.1 5 -0.2 1.4 -0.2-0.9 -0.1-2.5 -0.5-1.5 0-2.5 -0.5-1 -0.1-2.5 -0.4-1 -0.1-3 -0.3-0.5 -0.1-0.5 -0.2-3.1zM49.1 58.8l0.3 1.7 0.3 0.5 0.1 0.5 0.1 1.5 0.4 0.5 0.1 0.5 0 1.5 0.4 1 0.2 2.5 0.3 0.5 0.2 3 0.3 0.5 0.1 0.5 0.1 3 0.4 1.5 0.1 3.5 0.4 1.5 0.1 5 0.3 1 0.1 1 0 5.5 0.3 1 0.2 1.5 0 7 0.4 3 0.1 8.5 0.3 2.5 0.1 2.5 -0.2 8.2 -0.2-6.2 -0.4-2 -0.2-5 -0.4-2 -0.1-4.5 -0.4-2 -0.1-4 -0.4-1.5 -0.1-4 -0.5-2 -0.1-3.5 -0.4-1.5 -0.1-4 -0.3-0.5 -0.1-1 -0.1-3.5 -0.4-1.5 -0.1-4 -0.4-1.5 -0.1-4 -0.3-1.5 -0.1-5 -0.3-1 -0.2-1.5 0.1-2.5zM70.6 71.3l2 7.7 0.2 1.5 0.4 1 0.1 1.5 0.4 1 0.1 1.5 0.4 1.5 0.1 1.5 0.4 1.5 0.1 1.5 0.4 1.5 0.1 2 0.4 1.5 0.2 2.5 0.3 1.5 0.2 2.5 0.3 2 0.2 3 0.3 1.5 0.1 3.5 0.4 2.5 0.1 4 0.4 2.5 0.1 5 0.4 3.5 0.1 6.5 0.4 6 0.3 19.5 -0.1 4.5 -0.3 3 -0.2-3.5 -0.3-2.5 -0.1-3.5 -0.4-3.7 -0.2-4.3 -0.3-3 -0.2-4 -0.3-2.5 -0.2-4 -0.4-2.5 -0.1-3.5 -0.4-2 -0.1-3.5 -0.4-2 -0.1-3.5 -0.4-2 -0.2-3 -0.3-2 -0.2-3 -0.3-2 -0.2-3 -0.3-1.5 -0.2-3 -0.3-2 -0.2-3 -0.3-1.5 -0.2-3 -0.3-1.5 -0.2-3 -0.3-2 -0.2-3 -0.3-1.5 -0.1-3 -0.4-2 -0.3-5 0.1-0.5zM45.1 80.2l0.3 0.8 0.1 4.5 0.4 1.5 0.1 6 0.3 1 0.1 1 0.1 7.5 0.4 2.5 0 10.5 0.3 2 0.1 3 0 6 -0.2 2.7 -0.2-2.7 0-6 -0.5-2 -0.1-7 -0.4-1.5 -0.1-6 -0.4-1.5 -0.1-1 -0.1-5.5 -0.1-0.4zM57.1 87.3l0.1 2.2 0.5 1.5 0.1 2.5 0.5 2 0 2.5 0.4 1.5 0.2 3.5 0.4 2.5 0.1 3.5 0.4 2 0.1 5 0.4 2.5 0.1 6 0.4 3.5 0.1 7.5 0.3 5 0.1 11 0.3 8.5 0 10.7 -0.1-6.2 -0.2-2 -0.2-1 -0.2-8.5 -0.4-4 -0.1-6.5 -0.4-3.5 -0.2-6 -0.4-3 -0.1-5.5 -0.4-3 -0.1-5.5 -0.4-2.5 -0.1-5 -0.4-2.5 -0.1-5 -0.3-2.5 -0.1-5.5 -0.4-2.5zM49.6 104.9l0.2 1.6 0 4.5 0.4 1.5 0.1 1 0.1 6.5 0.4 2.5 0.1 9 0.4 3.5 0 13 0.1 3 0.2 0.5 0.1 4 -0.1 11.8 -0.1-13.8 -0.1-1.5 -0.1-0.5 -0.2-0.1 -0.1-1.4 -0.1-11 -0.5-3 -0.1-9 -0.3-2 -0.1-2 0-7.5 -0.4-1.5 -0.1-2 0-5zM45.1 140.3l0.2 6.7 -0.2 8.1z"/>
<path fill="#4368fe" d="M45.1 36l1.4 0 0 0.5 0.3 0.5 0.1 0.5 0.1 1.5 0.3 0.5 0.1 0.5 0.1 3 0.4 1.5 0 5 0.4 2 -0.1 2 -0.1 0.3 -0.2-1.3 -0.5-0.5 -0.1-1 -0.5-1 0-1 -0.5-0.5 -0.1-1 -0.4-1 -0.1-1 -0.4-0.5 -0.2-1.7zM49.1 36.3l1.2 1.7 1.1 2.5 0.1 0.5 0.4 0.5 0.1 1 0.4 0.5 0.1 1 0.3 0.5 0.1 0.5 0.1 1 0.4 1 0.1 2 0.3 0.5 0.2 3 0.3 0.5 0.1 0.5 0.1 3.5 0.3 1.5 0.1 4.5 0.4 2 0.1 5 0.3 2.5 -0.1 2.6 -0.2-1.6 -0.3-0.5 -0.2-1.5 -0.4-1 -0.3-2 -0.3-0.5 -0.1-1.5 -0.4-1 -0.1-1.5 -0.5-1 0-1.5 -0.4-0.5 -0.1-1.5 -0.5-1 -0.1-1.5 -0.3-0.5 -0.2-2 -0.4-0.5 -0.1-2 -0.4-0.5 -0.1-2 -0.4-1 -0.1-2.5 -0.3-0.5 -0.1-0.5 -0.1-3 -0.2-0.5 -0.2-1 0-3.5 0.1-0.5zM51.8 36l3.7 0 0.4 2 -0.1 4 -0.2 0.5 -0.2-0.5 -0.5-0.5 -0.1-0.5 -0.4-0.5 -0.2-0.5 -0.8-1 -0.1-0.5 -0.5-0.5 -0.1-0.5 -0.4-0.5zM57.8 36l7.6 0 0.4 0.5 0.1 1.5 0.4 1 0.1 2 0.4 1 0.1 2.5 0.4 1.5 0.1 3 0.4 1.5 0.1 3 0.4 3 0.1 3.5 -0.3 1 -2.2-5 0-0.5 -0.4-0.5 -0.3-1 -0.3-0.5 -0.1-0.5 -0.4-0.5 -0.6-1.5 0-0.5 -0.4-0.5 -0.1-0.5 -0.4-0.5 -0.7-2 -0.4-0.5 0-0.5 -0.5-0.5 0-0.5 -0.4-0.5 -0.2-1 -0.4-0.5 0-0.5 -0.4-0.5 -0.2-1 -0.4-0.5 -0.7-2.4 -0.3-0.6 -0.1-1zM70.2 36l6.1 0 0.4 0.5 0.7 1 1.3 1.5 0.2 0.5 0.8 1 0.2 0.5 0.4 0.5 0.1 0.5 0.9 1.5 0.1 0.5 0.4 0.5 0.1 0.5 0.3 0.5 0.3 1 0.3 0.5 0.7 2.5 0.3 0.5 0.1 1 0.4 1 0.1 1 0.3 0.5 0.2 1.5 0.3 1 0.2 1.5 0.3 1 0.2 1.5 0.4 1.5 0.1 1.5 0.3 1.5 0.2 2 0.3 1.5 0.2 2.5 0.3 1.5 0.1 2.5 0.4 2 0.1 2.5 0.4 2 0.1 2.5 0.4 2.5 0.9 11.2 0.5 7 0.5 9.7 0 2.5 -0.5 0.1 -4.7-22.5 -0.3-1 -0.2-1 -2.4-9 -0.1-1 -0.4-1 -0.1-1 -0.3-0.5 -0.6-2 -0.1-1 -0.9-2.5 -0.2-1 -0.3-0.5 -0.8-3 -0.3-0.5 -0.1-1 -0.3-0.5 -0.2-1 -0.9-2.5 -0.2-1 -0.3-0.5 -0.1-1 -0.4-0.5 -0.1-1 -0.3-0.5 -0.2-1 -0.9-2.5 -0.1-1 -0.4-0.5 -0.1-1 -0.4-1 -0.1-1 -0.4-0.5 -0.1-1 -0.4-1 -0.1-1 -0.4-1 -0.1-1 -0.4-1 -0.1-1 -0.4-1 -0.1-1.5 -0.4-1 -0.1-1.5 -0.4-1zM85.9 36l7.8 0 0.4 4 -0.1 1 -0.4 0.4 -1-0.4zM107.3 36l45.5 0 0.3 1.5 0.1 1.5 3.9 23.5 3 21.3 0.5 4.7 0.4 6.5 0 3 -0.4 1.7 -0.5 0.4 -0.5-0.2 -1.5-1.6 -2-3.1 -6.3-10.7 -4.4-7 -4.9-7 -5.5-7 -6.2-7 -4.8-5 -4.4-4.3 -9-8.1zM189 36l173.6 0 0 77.8 -4 9.6 -4.5 10 -4.5 8.9 -4 7.2 -4 6.1 -3.5 4.5 -3.5 3.5 -2 1.5 -1.5 0.9 -1.5 0.6 -1.5 0.4 -1.5 0.1 -2-0.1 -1.5-0.4 -2-0.8 -2-1.1 -2-1.3 -4.5-3.8 -6-6.1 -32.1-36.5 -11.6-12.5 -11.8-12 -10.5-10.2 -12.5-11.6 -32-28.2zM57.1 46.3l1.7 3.7 1.6 4.5 0 1 0.4 0.5 0.1 1 0.4 1 0.1 1.5 0.4 0.5 0.1 1.5 0.4 1 0.1 2 0.4 1 0.1 2 0.4 1 0.1 2.5 0.4 1 0.1 3 0.4 2 0.1 3 0.4 1.5 0.1 4 0.4 2 0.1 4.5 0.4 3 0.1 4.5 0.3 3 0.1 5.5 0.4 4 0.2 10 0 1 -0.3 0.3 -0.1-2.3 -0.4-2.2 -0.2-3.3 -0.3-1.5 -0.2-3 -0.4-1.5 -0.2-3 -0.3-1.5 -0.2-2.5 -0.3-1.5 -0.2-2.5 -0.3-1 -0.2-2.5 -0.4-1.5 -0.1-2 -0.4-1.5 -0.1-2 -0.4-1 -0.1-2.5 -0.4-1 -0.1-2 -0.4-1 -0.1-2.5 -0.4-1 -0.1-2 -0.4-1 -0.1-2.5 -0.4-1 -0.1-2 -0.5-1.5 0-2 -0.5-1.5 0-2.5 -0.4-1 -0.1-3 -0.4-1 -0.2-3.5 -0.3-1.5 -0.2-4.5zM97.1 47.6l1 0.6 1 1 3.5 4.4 3 4.8 3 5.9 2 4.7 2.5 7.3 2 7.3 1.5 6.8 1.5 8.6 1.5 11.7 1 11.3 0.5 8.4 0.4 12.6 0 9 -0.3 10.5 -0.5 4 -0.1 0.4 -0.5 0 -0.5-1.6 -0.5-2.3 -4.7-28.5 -3.4-18.5 -3-14.5 -4-17 -0.1-1 -1.4-5.5 -0.1-1 -1.3-5.5 -3-13.8 -1-5.4 -0.4-2.8 0.1-1.5zM45.1 50.7l0.3 0.3 0.1 2 0.4 0.5 0.1 2.5 0.3 0.5 0.1 0.5 0.1 3 0.2 0.5 0.2 1 0.1 4 0.4 1.5 0.1 6.5 0.2 1 0.2 2 -0.1 4.5 -0.2 1.7 -0.2-1.2 -0.1-2 -0.4-1.5 -0.1-2.5 -0.4-1 -0.1-2.5 -0.4-1 -0.2-3 -0.3-0.5 -0.1-0.5 -0.2-3.1zM49.1 58.9l0.2 1.6 0.5 1 0.1 1.5 0.4 1 0.1 1.5 0.5 1.5 0.1 2 0.3 0.5 0.1 0.5 0 2.5 0.4 1 0.1 3 0.5 1.5 0 3.5 0.4 1.5 0.2 5 0.3 1 0 1 0.1 5.5 0.4 2.5 0.1 7 0.4 3 0 8.5 0.4 5 -0.1 7.5 -0.1-5.5 -0.5-2.5 -0.1-4.5 -0.4-2 -0.2-4.5 -0.4-2 -0.1-4 -0.4-1.5 -0.1-4 -0.4-1.5 -0.1-4 -0.4-1.5 -0.2-4 -0.2-0.5 -0.2-1 0-3.5 -0.5-1.5 -0.1-4 -0.4-1.5 0-4 -0.5-2 0-4.5 -0.4-2.5 0-2.5zM70.6 71.8l1.5 5.2 2.1 10 0.1 1.5 0.4 1.5 0.6 5 0.4 1.5 0.1 2.5 0.4 1.5 0.1 2.5 0.4 2 0.1 3 0.4 2 0.1 3 0.4 3 0.1 3.5 0.4 3 0.9 20 0.2 16.5 -0.2 8 -0.5-4.7 -1.7-23.3 -0.3-2.5 -0.2-3.5 -0.4-2.5 -0.1-3 -0.4-2.5 -0.1-3 -0.4-2 -0.6-8 -0.4-2 -0.1-3 -0.4-2 -0.1-2.5 -0.4-2 -0.2-3 -0.3-1.5 -0.1-3 -0.4-2 -0.1-2.5 -0.4-2 -0.1-3 -0.3-1.5 -0.2-3 -0.3-2 -0.2-4.5zM45.1 80.3l0.2 0.2 0.1 1 0.1 4 0.3 1.5 0.1 6 0.4 1 0.1 1.5 0 7 0.3 1.5 0.1 1.5 0.1 10 0.3 2 0.1 3 0 5.5 -0.2 2.8 -0.2-2.8 0-5.5 -0.5-2 -0.1-7 -0.4-1.5 -0.1-6 -0.5-2.5 0-5.5 -0.2-0.4zM57.1 87.9l0.1 2.6 -0.1 0.4zM57.6 90.8l0.2 2.7 0.4 2 0.1 2.5 0.4 2 0.1 3 0.4 2 0.1 4 0.4 2.5 0.2 4.5 0.3 2.5 0.1 6 0.4 3 0.1 8 0.3 3.5 0.1 4 0.2 15.5 -0.1 1.5 -0.2 0.5 -0.2-7.5 -0.4-4 -0.1-6.5 -0.4-3.5 -0.1-6 -0.4-3 -0.2-6 -0.3-2.5 -0.2-5.5 -0.3-2.5 -0.2-5 -0.3-2.5 -0.1-5 -0.4-3 -0.1-5 -0.2-2zM49.6 105.1l0.2 5.9 0.4 1.5 0.1 1.5 0 6 0.3 1.5 0.2 1.5 0 8.5 0.4 4 0.1 14 -0.2 1.3 -0.2-11.8 -0.4-3 -0.1-9 -0.5-4 0-7.5 -0.4-2 -0.1-1.5 0-4.5zM45.1 140.7l0.2 6.3 -0.2 7.4z"/>
<path fill="#3c71ff" d="M45.1 36l1.4 0 0 0.5 0.3 0.5 0.1 0.5 0.1 1.5 0.4 1 0.1 3 0.4 1.5 0 5 0.3 2 -0.1 2 -0.1-1 -0.5-0.5 -0.2-1 -0.5-1 0-1 -0.4-0.5 -0.1-1 -0.5-1 -0.1-1 -0.4-0.5 -0.1-1.5 -0.1-0.2zM49.1 36.3l1.1 1.7 1.2 2.5 0 0.5 0.5 0.5 0 1 0.5 0.5 0 1 0.5 1 0 1 0.5 1 0.1 2 0.3 0.5 0.2 3 0.3 1 0.1 3.5 0.4 1.5 0.1 4.5 0.4 2.5 0 4.5 0.3 2 0 2.6 -0.1-1.1 -0.4-0.5 -0.3-2 -0.3-0.5 -0.2-2 -0.3-0.5 -0.2-1.5 -0.4-1 -0.1-1.5 -0.4-1 -0.1-1.5 -0.4-0.5 -0.1-1.5 -0.5-1 0-1.5 -0.4-0.5 -0.2-2 -0.3-0.5 -0.2-2 -0.3-0.5 -0.2-2 -0.4-1 -0.1-2.5 -0.3-0.5 -0.1-0.5 -0.1-3 -0.2-0.5 -0.2-1 0-3.5zM51.8 36l3.6 0 0.4 2 -0.1 4 -0.1 0.4 -0.1-0.4 -0.5-0.5 -0.1-0.5 -1.4-2 -0.2-0.5 -0.5-0.5 0-0.5 -0.5-0.5zM57.9 36l7.5 0 0.3 0.5 0.2 1.5 0.4 1 0.1 2 0.4 1.5 0.1 2 0.4 1.5 0.1 3 0.3 1.5 0.1 3 0.4 2.5 0 4.5 -0.1 0.2 -0.5-0.9 -2.3-5.8 -0.4-0.5 -0.1-0.5 -0.3-0.5 -0.6-1.5 -0.1-0.5 -0.4-0.5 -0.1-0.5 -0.4-0.5 -0.7-2 -0.4-0.5 0-0.5 -0.4-0.5 -0.1-0.5 -0.3-0.5 -0.2-1 -0.5-0.5 0-0.5 -0.4-0.5 -0.1-1 -0.5-0.5 -0.7-2.5 -0.3-0.5 -0.1-1zM70.3 36l5.9 0 0.5 0.5 2 2.5 0.2 0.5 0.8 1 1.6 3 0.1 0.5 0.4 0.5 0.1 0.5 0.9 2 0.9 3 0.2 1 0.4 1 0.1 1 0.4 1 0.1 1 0.3 1 0.2 1.5 0.3 1 0.1 1.5 0.4 1.5 0.6 5 0.4 1.5 0.1 2.5 0.4 1.5 0.1 2.5 0.4 2 1.9 21.7 0.5 7.8 0.2 5.5 -0.1 2.5 -0.1 0.4 -0.5-1.2 -4.1-19.2 -3.1-12 -0.4-1 -0.1-1 -1.9-6 -0.1-1 -0.3-0.5 -0.8-3 -0.3-0.5 -0.2-1 -0.3-0.5 -0.2-1 -1.4-4 -0.1-1 -0.3-0.5 -0.2-1 -0.3-0.5 -0.2-1 -0.9-2.5 -0.1-1 -0.3-0.5 -0.2-1 -0.4-1 -0.1-1 -0.3-0.5 -0.2-1 -0.4-1 -0.1-1 -0.4-1 -0.1-1 -0.4-1 -0.1-1 -0.4-1 -0.1-1.5 -0.4-1 -0.1-1.5 -0.4-1zM85.9 36l7.7 0 0.3 3.5 0 1 -0.2 0.5 -0.6 0.1 -1-0.5zM107.4 36l45.3 0 3.9 24.1 2.5 17.8 1.1 12.1 0 4 -0.3 2 -0.3 0.7 -0.5 0.3 -1-0.5 -1-1.1 -2-2.9 -6.2-10 -5-7.5 -5.6-7.5 -5.3-6.5 -5.5-6 -6.5-6.5zM189.1 36l173.5 0 0 75.1 -4 9.6 -4.5 9.8 -4.5 8.7 -3.9 6.8 -4.1 6.1 -4 4.9 -3.5 3.2 -2 1.4 -1.5 0.8 -1.6 0.6 -1.9 0.4 -1.5 0.1 -2-0.2 -1.5-0.4 -2-0.8 -2-1 -2-1.3 -5-4 -6.5-6.3 -6.5-7 -16.1-18 -11-12 -11-11.5 -11.6-11.5 -11.3-10.8 -11-10 -27-23.7zM57.1 46.4l1.7 3.6 1.5 4.5 0.1 1 0.4 0.5 0.2 1.5 0.3 0.5 0.1 1.5 0.3 0.5 0.2 1.5 0.4 1 0.1 2 0.4 1 0.1 2 0.4 1.5 0.1 2 0.4 1.5 0.1 2.5 0.4 2 0.1 3 0.4 2 0.1 3.5 0.4 2.5 0.1 4 0.3 2.5 0.1 5 0.4 3.5 0.1 5 0.4 5.5 0.1 7 -0.2 1.8 -0.7-6.8 -0.3-2 -0.2-2.5 -0.4-2 -0.1-2.5 -0.4-1.5 -0.1-2.5 -0.4-1.5 -0.2-2.5 -0.3-1 -0.2-2.5 -0.4-1.5 -0.1-2 -0.4-1.5 -0.1-2 -0.4-1.5 -0.1-2 -0.4-1 -0.1-2 -0.4-1.5 -0.1-2 -0.4-1 -0.1-2 -0.4-1 -0.1-2.5 -0.4-1 -0.1-2 -0.4-1.5 -0.1-2 -0.4-1.5 -0.1-2.5 -0.4-1 -0.1-3 -0.4-1 -0.1-3.5 -0.4-1.5 -0.1-4 0.1-0.5zM97.6 48.2l1 0.7 1.5 1.6 3 4 3 4.9 3 6.1 2 5 2 6 2 7.4 1.5 6.9 1.5 8.8 1 7.5 1 9.9 0.5 6.7 0.5 9.8 0.2 15 -0.2 9.4 -0.5 4.6 -0.2 0.5 -0.3 0.4 -0.5-0.9 -0.5-1.9 -5.2-29.6 -3.4-17.5 -3-14.5 -6.4-27.6 -3-14 -1-5.7 -0.2-2.2 0.2-1.3zM45.1 50.8l0.2 0.2 0.2 2 0.3 0.5 0.2 2.5 0.4 1 0.1 3 0.4 1.5 0.1 4 0.3 1.5 0.1 6.5 0.3 1 0.1 2 0 4.5 -0.2 1.6 -0.2-3.1 -0.5-1.5 -0.1-2.5 -0.4-1 -0.1-2.5 -0.5-1.5 0-2.5 -0.5-1 -0.2-3.1zM49.1 59l0.2 1.5 0.5 1 0.1 1.5 0.4 1 0.1 1.5 0.4 1.5 0.2 2 0.3 1 0.1 2.5 0.4 1 0.1 3 0.4 1.5 0.1 3.5 0.4 2 0.1 4.5 0.4 2 0.1 5.5 0.4 2.5 0.1 7 0.4 3.5 0 8 0.4 5 -0.1 6.7 -0.1-4.7 -0.5-2.5 -0.1-4.5 -0.4-2.5 -0.2-4 -0.3-2 -0.2-4 -0.4-2 -0.1-3.5 -0.4-1.5 -0.1-4 -0.4-1.5 -0.2-4 -0.3-1.5 -0.1-3.5 -0.4-1.5 -0.1-4 -0.4-1.5 -0.1-4 -0.4-2 -0.1-4.5 -0.4-2.5 0-2.5zM70.6 72.3l0.2 0.7 0.3 0.5 1 3.7 2 9.8 1.6 10 0.1 2 0.3 1.5 0.2 2.5 0.4 2.5 0.1 2.5 0.3 2 1 13 1 21.5 0.1 12 -0.1 6.7 -0.2-1.7 -0.3-1.1 -1.6-21.4 -0.4-2.7 -0.2-3.3 -0.3-2.5 -0.2-3 -0.3-2.5 -0.2-3 -0.3-2 -0.7-8 -0.4-2.5 -0.1-2.5 -0.4-2 -0.6-7.5 -0.4-2 -0.1-2.5 -0.4-2 -0.6-7.5 -0.3-2 -0.1-2.5 -0.4-3zM45.1 80.3l0.3 1.2 0 4 0.3 1 0.2 1 0 5.5 0.3 1 0.2 1.5 0 7 0.4 3 0 10 0.3 2 0.2 3 -0.2 7.9 -0.2-7.9 -0.5-2.5 -0.1-6.5 -0.4-2 -0.1-5.5 -0.4-2 -0.1-6 -0.2-0.5zM57.6 91.2l0.1 2.3 0.5 2 0.1 2.5 0.4 2 0.1 3 0.4 2.5 0.1 3.5 0.4 3 0.1 4 0.4 3 0.1 5.5 0.4 3.5 0.1 7.5 0.3 3.7 0.1 3.8 0.1 13 -0.2 3.1 -0.1-6.1 -0.4-4 -0.2-6.5 -0.4-4 -0.1-5.5 -0.4-3.5 -0.1-5.5 -0.4-3 -0.1-5 -0.4-2.5 -0.1-5 -0.4-3 -0.1-4.5 -0.4-3 -0.1-6zM49.6 105.4l0.1 5.6 0.4 1.5 0.1 1.5 0.1 6 0.4 3 0.1 8.5 0.4 4 0.1 8.5 -0.2 6.1 -0.2-11.1 -0.4-3 -0.1-9 -0.5-4.5 0-7 -0.4-3.5zM45.1 141.3l0.1 5.7 -0.1 6.7z"/>
<path fill="#347afd" d="M45.1 36l1.3 0 0.1 0.5 0.4 1 0.1 1.5 0.4 1 0.1 3 0.4 1.5 0 5 0.3 1.5 0 2 -0.1 0.5 -0.1-1 -0.5-0.5 -0.2-1 -0.4-1 -0.1-1 -0.4-0.5 -0.1-1 -0.5-1 0-1 -0.5-0.5 -0.1-1.5 -0.1-0.2zM49.1 36.4l1.6 2.6 0.7 1.5 0 0.5 0.4 0.5 0.1 1 0.4 0.5 0.1 1 0.5 1 0 1 0.4 1 0.2 2 0.3 0.5 0.1 3 0.4 1 0.1 3.5 0.4 1.5 0.1 4.5 0.3 2 0.1 5 0.2 2.5 -0.4 0.2 -0.2-1.7 -0.3-0.5 -0.3-2 -0.4-1 -0.1-1 -0.3-1 -0.2-1.5 -0.4-1 -0.1-1.5 -0.4-0.5 -0.1-1.5 -0.4-1 -0.1-1.5 -0.4-0.5 -0.1-2 -0.4-0.5 -0.1-2 -0.4-0.5 -0.1-0.5 0-1.5 -0.4-1 -0.1-2.5 -0.5-1 0-3 -0.4-1.5 -0.1-3zM51.8 36l3.6 0 0.4 2 -0.1 4 -0.1 0.3 -0.6-0.8 -0.1-0.5 -0.5-0.5 -1.1-2 -0.4-0.5 -0.1-0.5 -0.5-0.5zM57.9 36l7.5 0 0.3 0.5 0.2 1.5 0.4 1 0.1 2 0.4 1.5 0.1 2 0.4 1.5 0.1 3 0.3 1.5 0.1 3 0.3 2.5 0.1 4 -0.1 0.2 -0.5-0.6 -0.5-1.1 -1.8-4.5 -1.4-3 -0.1-0.5 -0.4-0.5 -1.1-3 -0.9-1.5 -0.6-1.5 0-0.5 -0.4-0.5 -0.1-0.5 -0.4-0.5 -0.1-1 -0.4-0.5 -0.8-2.5 -0.3-0.5 0-1zM70.3 36l5.9 0 0.4 0.5 2.1 2.5 0.1 0.5 1.4 2 0.2 0.5 0.9 1.5 0 0.5 0.4 0.5 1 2.5 1.5 5 0.1 1 0.4 1 0.6 3.5 0.4 1 0.9 6 2 16.6 1.5 18.4 0.4 9.5 0 1.5 -0.3 1 -0.1 0.1 -0.5-1.6 -3.6-16 -2.1-8.5 -1.3-4.5 -0.2-1 -1.8-6 -0.2-1 -1.4-4 -0.1-1 -0.3-0.5 -0.2-1 -1.4-4 -0.2-1 -0.3-0.5 -0.1-1 -0.3-0.5 -0.9-3 -0.2-0.5 -0.2-1 -0.3-0.5 -0.2-1 -0.4-1 -0.1-1 -0.3-0.5 -0.2-1 -0.4-1 -0.1-1 -0.4-1 -0.1-1 -0.4-1 -0.1-1 -0.3-1 -0.2-1.5 -0.4-1 -0.1-1.5 -0.3-1zM86 36l7.6 0 0.2 3 -0.1 1.5 -0.6 0.4 -1-0.4zM107.4 36l45.3 0 3.9 25.1 2 15.1 0.6 6.3 0.3 5.5 -0.1 3.5 -0.4 2 -0.4 0.5 -0.5 0.1 -0.5-0.1 -1-0.9 -1-1.1 -2.5-3.5 -7.3-11 -3.9-5.5 -5.4-7 -5.7-6.5 -3.7-4 -7-6.9zM189.2 36l173.4 0 0 72.3 -4 9.4 -4.5 9.6 -4 7.7 -4.4 7.5 -4.1 6 -4 4.7 -2 1.9 -2 1.6 -2 1.3 -1.5 0.8 -1.5 0.5 -2 0.4 -2 0.1 -2-0.2 -2-0.6 -2-0.8 -4-2.2 -2.5-1.9 -3-2.4 -7-6.6 -6.5-6.8 -27.8-29.8 -10.3-10.5 -10.7-10.5 -8.7-8.2 -10.5-9.5 -29.5-25.8zM57.1 46.4l0.1 0.6 0.5 0.5 0.1 0.5 0.3 0.5 1.2 3 0.1 0.5 0.9 2.5 0.1 1 0.3 0.5 0.3 1.5 0.3 0.5 0.1 1.5 0.3 0.5 0.2 1.5 0.3 1 0.2 2 0.4 1 0.1 2 0.4 1.5 0.1 2 0.4 1.5 0.1 2.5 0.4 2 0.1 3 0.3 2 0.2 3.5 0.3 2 0.1 4.5 0.4 3 0.1 4.5 0.3 3.5 0.1 5 0.4 4.8 0 8.2 -0.1-2 -0.4-1.5 -0.1-2 -0.4-2.1 -0.1-2.4 -0.4-2 -0.2-2.5 -0.3-1.5 -0.2-2.5 -0.4-1.5 -0.1-2.5 -0.4-1.5 -0.1-2 -0.4-1.5 -0.1-2 -0.4-1.5 -0.2-2 -0.4-1.5 -0.1-2 -0.3-1 -0.2-2 -0.4-1.5 -0.1-2 -0.4-1 -0.1-2 -0.4-1.5 -0.1-2 -0.4-1 -0.1-2 -0.4-1.5 -0.1-2 -0.4-1.5 -0.1-2.5 -0.4-1 -0.1-3 -0.3-1 -0.2-3.5 -0.3-1.5 -0.1-4zM97.6 48.6l1 0.6 1 0.9 3 3.8 3 4.8 2.5 4.8 2.5 5.9 2 5.7 2 7.1 1.5 6.6 1.5 8.2 1.5 11 1 10.5 0.5 7.5 0.5 13 0 9.5 -0.4 8 -0.1 1.2 -0.5 1.8 0 0.2 -0.5-0.3 -1-3.4 -5.2-28.5 -3-15 -3.4-16 -5.4-23.1 -3-13.9 -1-5.3 -0.5-3.7 0-1 0.1-0.5zM45.1 50.8l0.2 0.2 0.1 0.5 0 1.5 0.4 0.5 0.1 0.5 0 2 0.5 1 0 3 0.5 1.5 0 4 0.4 1.5 0.1 6.5 0.3 1.5 0.1 1.5 0 4 -0.2 1.9 -0.2-2.9 -0.5-1.5 -0.1-2.5 -0.4-1 -0.1-2.5 -0.4-1.5 -0.1-2.5 -0.3-0.5 -0.2-1 0-2 -0.2-0.7zM49.1 59.1l0.2 1.4 0.4 1 0.2 1.5 0.4 1 0.1 1.5 0.4 1.5 0.1 2 0.4 1 0.1 2.5 0.4 1 0.1 3 0.4 1.5 0.1 3.5 0.4 2 0.1 4.5 0.3 1 0.1 1.5 0.1 5 0.4 3 0.1 6.5 0.3 3.5 0.1 8 0.3 5 0 5.5 -0.1-4.5 -0.1-1 -0.3-0.5 -0.2-4.5 -0.4-2.5 -0.1-4 -0.4-2 -0.2-4 -0.4-2 -0.1-3.5 -0.4-2 -0.1-3.5 -0.4-1.5 -0.1-4 -0.4-1.5 -0.1-3.5 -0.4-1.5 -0.1-4 -0.4-1.5 -0.1-4 -0.4-2 -0.1-4.5 -0.4-2.5zM70.6 73.4l0.5 0.5 1 3.6 2 9.6 1.5 9.9 1.5 13.2 1 13 0.5 9.3 0.5 16 0 9.1 -0.2 0.4 -0.3 0.2 -1.6-19.2 -0.4-3.4 -0.1-2.6 -0.9-8.2 -0.1-2.8 -0.4-2.3 -0.7-7.7 -0.3-2.5 -0.2-2.5 -0.3-2 -0.7-7.5 -0.3-2 -0.2-2.5 -0.3-2 -0.2-2.5 -0.3-2.5 -0.2-2.5 -0.3-2.2 -0.5-6zM45.1 80.4l0.2 1.1 0.1 4 0.4 2 0.1 5.5 0.3 1 0.1 1.5 0.1 7 0.4 3 0 10 0.3 2.5 0.1 2.5 -0.1 7.4 -0.1-7.4 -0.5-2.5 -0.2-6.5 -0.4-2 -0.1-5.5 -0.4-2 -0.1-6 -0.2-0.6zM57.6 91.6l0.1 1.9 0.4 2 0.1 2.5 0.4 2 0.2 3 0.4 2.5 0.1 3.5 0.4 3 0.1 4 0.4 3 0.1 5.5 0.3 3.5 0.2 7.5 0.3 6 0 15.8 -0.1-4.8 -0.4-4.3 -0.2-6.2 -0.3-3.5 -0.2-5.5 -0.4-3.5 -0.1-5.5 -0.4-3 -0.1-5 -0.4-3 -0.1-4.5 -0.4-3 -0.1-5 -0.4-3zM49.6 105.9l0.1 5.1 0.5 3 0.1 6 0.4 3 0.1 8.5 0.4 4 0 7 -0.1 6.7 -0.1-10.2 -0.5-3.5 -0.1-8.5 -0.4-4.5 0-7 -0.5-3.5z"/>
<path fill="#2f82f9" d="M45.1 36l1.3 0 0 0.5 0.5 1 0 1.5 0.5 1 0 3 0.4 1.5 0.1 5 0.2 1.5 0 2 -0.1-0.5 -0.5-0.5 -0.1-1 -0.5-1 -0.1-1 -0.4-0.5 -0.1-1 -0.5-1 0-1 -0.4-0.5 -0.1-1.5 -0.2-0.2zM49.1 36.4l1.6 2.6 0.7 1.5 0 0.5 0.4 0.5 0.1 1 0.4 0.5 0.1 1 0.5 1 0 1 0.4 1 0.1 2 0.4 1 0.1 2.5 0.3 0.5 0.1 1 0.1 3 0.4 1.5 0.1 4.5 0.3 2.5 0.2 6 0 0.5 -0.3 0.5 -0.2-1.5 -0.3-0.6 -0.3-1.9 -0.3-1 -0.1-1 -0.4-1 -0.2-1.5 -0.4-1 -0.1-1.5 -0.3-0.5 -0.2-1.5 -0.4-1 -0.1-1.5 -0.4-1 -0.1-1.5 -0.4-0.5 -0.1-2 -0.4-0.5 -0.1-0.5 0-1.5 -0.4-1 -0.1-2.5 -0.4-1 -0.1-3 -0.4-1.5 0-3zM51.8 36l3.6 0 0.4 2.5 -0.1 3.5 -0.1 0.2 -0.5-0.7 -0.2-0.5 -0.4-0.5zM57.9 36l7.5 0 0.3 0.5 0.2 1.5 0.3 1 0.2 2 0.4 1.5 0.1 2 0.3 1.5 0.1 3 0.4 1.5 0.1 3 0.3 2.5 0 3.5 0 0.2 -0.5-0.3 -0.5-1 -1.8-4.4 -1.4-3 0-0.5 -0.4-0.5 -1.2-3 -0.9-1.5 -0.6-1.5 0-0.5 -0.4-0.5 -0.1-0.5 -0.3-0.5 -0.2-1 -0.4-0.5 -0.8-2.5 -0.2-0.5 -0.1-1zM70.3 36l5.8 0 0.5 0.5 2 2.5 1.6 2.5 0.1 0.5 0.9 1.5 0.1 0.5 0.4 0.5 1 2.5 1.5 5 0.1 1 0.4 1 0.1 1 0.3 1 1 5.5 1 7 1 8.2 1 10.5 1 14.3 0.1 5 -0.1 2.5 0 0.2 -0.5-0.5 -0.5-1.6 -3.6-15.6 -3-11.5 -1.9-6 -0.2-1 -1.3-4 -0.2-1 -0.3-0.6 -1.3-4.4 -0.3-0.5 -0.1-1 -0.3-0.5 -0.2-1 -1.4-4 -0.1-1 -0.3-0.5 -0.2-1 -0.4-1 -0.2-1 -0.3-0.5 -0.1-1 -0.4-1 -0.2-1 -0.4-1 -0.1-1 -0.3-1 -0.2-1 -0.3-1 -0.2-1.5 -0.3-1 -0.2-1.5 -0.3-1zM86 36l7.5 0 0.2 2.5 -0.1 1.5 -0.5 0.6 -1-0.3zM107.4 36l45.2 0 3.5 22.8 2 15.7 0.5 5.5 0.2 5 -0.1 3.5 -0.4 2 -0.2 0.5 -0.5 0.5 -0.5 0 -1-0.6 -1-0.9 -2.5-3.2 -7.2-10.3 -4-5.5 -4-5 -5.1-6 -5.7-6 -6.5-6.4zM189.3 36l173.3 0 0 69.2 -4 9.3 -4.5 9.5 -4.5 8.5 -4 6.5 -4 5.7 -4 4.6 -2 1.9 -2 1.6 -2 1.3 -2 1 -2 0.6 -2 0.4 -2 0 -2-0.2 -2-0.5 -2-0.8 -2-1 -2.5-1.5 -3-2.1 -3-2.4 -7.5-6.9 -7-7 -28.1-29.2 -10.5-10.5 -10.5-10 -17.9-16.3 -28.5-24.7zM57.1 46.6l0.1 0.4 0.4 0.5 0.1 0.5 0.4 0.5 1.2 3 1 3 0.1 1 0.3 0.5 0.3 1.5 0.2 0.5 0.2 1.5 0.3 0.5 0.2 1.5 0.4 1.5 0.1 1.5 0.3 1 0.2 2 0.4 1.5 0.1 2 0.3 1.5 0.2 2.5 0.3 2 0.2 3 0.3 2 0.1 3.5 0.4 2.5 0.1 4 0.4 3 0.9 20 0 3.6 -0.2-1.6 -0.3-0.3 -0.6-5.7 -0.4-2.2 -0.2-2.3 -0.4-2 -0.1-2 -0.3-1.5 -0.2-2.5 -0.4-1.5 -0.1-2 -0.4-1.5 -0.1-2 -0.4-1.5 -0.1-2 -0.4-1.5 -0.2-2 -0.3-1 -0.2-2 -0.4-1.5 -0.1-2 -0.3-1 -0.2-2 -0.4-1.5 -0.1-2 -0.3-1 -0.2-2 -0.4-1.5 -0.1-2 -0.4-1.5 -0.1-2.5 -0.3-1 -0.2-3 -0.3-1 -0.2-3.5 -0.3-1.5 -0.1-4zM98.1 49.2l1 0.7 1.5 1.6 3 4.1 2.5 4.2 2.5 5 2 4.8 2 5.8 2 7.2 1.5 6.6 1.5 8.4 1.5 11.4 1 11.4 0.4 7.6 0.3 11 0 9 -0.2 3.7 -0.3 2.3 -0.2 1.4 -0.5 0.6 -0.5-0.8 -1-3.6 -4.8-25.1 -2.9-14.5 -11.3-50.4 -1-5.1 -0.7-5 0.1-2 0.1-0.2zM45.1 50.8l0.3 0.7 0 1.5 0.4 0.5 0.1 0.5 0 2 0.4 1 0.1 3 0.4 1.5 0.1 4 0.4 2.5 0.1 5.5 0.4 2.5 0 4 -0.2 2.2 -0.2-2.7 -0.4-1.5 -0.2-2.5 -0.4-1 -0.1-2.5 -0.4-1.5 -0.1-2.5 -0.4-1 -0.1-2.5 -0.2-0.7zM49.1 59.3l0.1 1.2 0.5 1 0.1 1.5 0.4 1 0.2 1.5 0.4 1.5 0.1 2 0.4 1 0.1 2.5 0.4 1 0.1 3 0.4 1.5 0.1 3.5 0.4 2 0.1 4.5 0.4 2.5 0.1 5 0.3 3 0.1 6.5 0.4 4 0.1 10.5 -0.2 1.1 -0.1-4.1 -0.4-2.5 -0.2-4 -0.4-2.5 -0.1-3.5 -0.4-2 -0.2-3.5 -0.4-2 -0.1-3.5 -0.3-1.5 -0.2-4 -0.4-1.5 -0.1-3.5 -0.4-2 -0.1-3.5 -0.4-1.5 -0.1-4 -0.4-2 -0.1-4.5 -0.3-2.5zM71.1 74.5l1.5 5.4 2 10.4 1.5 10.8 1 9.6 1 13.5 0.5 9.9 0.3 15.4 -0.1 4 -0.2 2 -0.5-4.1 -2.6-29.4 -4.4-41.3 -0.3-5.2zM45.1 80.4l0.2 1.1 0.1 4 0.4 2 0.1 5.5 0.3 1.5 0.1 1.5 0.1 6.5 0.3 3 0.1 10 0.4 5 -0.1 6.8 -0.1-6.8 -0.1-1 -0.3-0.7 -0.1-0.8 -0.1-6.5 -0.4-2 -0.2-5.5 -0.3-2 -0.2-6 -0.2-0.7zM57.6 92.2l0.1 1.8 0.4 1.7 0.1 2.3 0.4 2 0.1 3 0.4 2.5 0.2 3.5 0.4 3 0.1 4 0.4 3.5 0.1 5 0.3 4 0.1 7 0.4 6.4 0 13.1 -0.1-5 -0.4-2.9 -0.1-5.1 -0.4-3.8 -0.1-5.2 -0.4-3.5 -0.2-5.5 -0.3-3 -0.2-5 -0.3-2.5 -0.2-5 -0.3-3 -0.2-5 -0.3-3zM50.1 113.3l0.1 6.7 0.5 4 0 7.5 0.5 5 -0.1 11.7 -0.1-9.2 -0.2-2.5 -0.2-1 -0.1-8.5 -0.5-5 -0.1-8z"/>
<path fill="#2d8af4" d="M45.1 36l1.3 0 0 0.5 0.5 1 0 1.5 0.4 1 0.1 3 0.4 1.5 0.1 5 0.2 3 0 0.4 0-0.4 -0.5-0.5 -0.2-1 -0.5-1 -0.1-1 -0.4-0.5 -0.1-1 -0.5-1 0-1 -0.4-0.5 -0.1-1.5 -0.2-0.3zM49.1 36.4l1.6 2.6 0.6 1.5 0.1 0.5 0.4 0.5 0.1 1 0.4 0.5 0.1 1 0.4 1 0.1 1 0.4 1 0.1 2 0.4 1 0.1 2.5 0.4 1.5 0.1 3 0.3 1.5 0.2 4.5 0.3 2.5 0.1 6 -0.2 0.8 -0.1-1.3 -0.4-0.8 -0.2-1.7 -0.3-0.5 -0.2-1.5 -0.4-1 -0.1-1.5 -0.5-1 -0.1-1.5 -0.3-0.5 -0.2-1.5 -0.4-1 -0.1-1.5 -0.4-1 -0.1-1.5 -0.4-0.5 -0.1-2 -0.3-0.5 -0.2-2 -0.4-1 -0.1-2.5 -0.4-1 -0.1-3 -0.4-1.5 0-3zM51.8 36l3.6 0 0.4 2.5 -0.2 3.5 -1.1-1.5zM57.9 36l7.5 0 0.2 0.5 0.7 3 0.1 1.5 0.3 1 0.2 2.5 0.3 1.5 0.1 3 0.4 2 0.4 5.9 0 1.8 -0.2 0.3 -0.3 0.1 -1-2 -1.2-3.1 -1.4-3 -0.1-0.5 -0.4-0.5 -1.2-3 -0.8-1.5 -0.6-1.5 -0.1-0.5 -0.4-0.5 -0.1-0.5 -0.3-0.5 -0.2-1 -0.4-0.5 -0.7-2.5 -0.3-0.5 -0.1-1zM70.3 36l5.8 0 0.5 0.6 2 2.4 1.6 2.5 0.1 0.5 0.9 1.5 0.1 0.5 0.4 0.5 1 2.5 1.5 5 0.1 1 0.4 1 0.4 2.1 1 5.4 1 7 1 8.6 1.5 17.8 0.4 9.1 -0.1 2 -0.3 1 -0.5-1.1 -0.5-1.7 -3.2-13.2 -2.9-11 -2.1-7 -1.3-4 -0.2-1 -0.3-0.7 -1.5-4.8 -0.2-1 -0.3-0.5 -0.2-1 -1.4-4 -0.1-1 -0.9-2.5 -0.1-1 -0.3-0.5 -0.6-2 -0.1-1 -0.4-1 -0.1-1 -0.9-3 -0.1-1.5 -0.4-1 -0.1-1.5 -0.4-1.5zM86 36l7.4 0 0.2 2 -0.1 1.5 -0.4 0.7 -0.5 0.1 -0.5-0.2 -2-1.2zM107.5 36l45.1 0 3.5 24.1 1.5 12.7 0.5 6.2 0.1 4 -0.1 3 -0.5 2 -0.5 0.8 -0.5 0.2 -0.5 0 -1-0.6 -1-0.9 -2.5-3 -11.2-15 -4.1-5 -3.9-4.5 -4.7-5 -4.5-4.5zM189.5 36l173.1 0 0 65.9 -4 9.3 -4.5 9.3 -4 7.5 -4.3 7 -4.2 5.9 -2.5 2.9 -2 2.1 -2 1.8 -2 1.5 -2 1.2 -2 1 -2 0.6 -2 0.4 -2 0.1 -2.5-0.3 -2-0.5 -2.5-0.9 -4.5-2.4 -3-2.1 -3.5-2.7 -4-3.4 -4.5-4.2 -7.5-7.4 -27.4-27.6 -10.3-10 -9.6-9 -14.7-13.2 -27.5-23.8zM57.1 46.7l1 1.9 1.1 2.9 2 6.5 0.2 1.5 0.2 0.5 0.2 1.5 0.5 1.5 0.1 1.5 0.3 1 0.2 2 0.3 1.5 0.1 2 0.4 1.5 0.1 2.5 0.4 2 0.1 3 0.4 2 0.1 3.5 0.3 2.5 0.2 4 0.3 3.5 0.1 4 0.4 4.5 0.2 8 0 2.5 -0.2 1.2 -1-7.3 -0.1-1.9 -0.4-1.9 -0.1-2.1 -0.4-2 -0.2-2 -0.3-1.5 -0.2-2 -0.3-1.5 -0.2-2 -0.4-1.5 -0.1-2 -0.4-1.5 -0.1-2 -0.4-1 -0.1-2 -0.4-1.5 -0.1-2 -0.4-1 -0.1-2 -0.4-1.5 -0.2-2 -0.3-1 -0.2-2.5 -0.3-1 -0.2-2 -0.4-2 -0.1-2 -0.4-1.5 -0.1-2.5 -0.3-1.5 -0.2-3 -0.3-2zM98.1 49.8l1 0.4 1 1 3 3.8 2.5 4.1 2.5 4.8 2 4.7 2 5.6 2 6.8 1.5 6.3 1.5 7.9 1.5 10.6 1 10 0.5 7.2 0.4 11 0.1 8 -0.4 7.5 -0.1 1 -0.5 1.7 -0.5-0.1 -0.5-1.1 -1-3.8 -7.7-38.2 -10.3-45.4 -1.5-7.7 -0.5-3.4 0-2 0.2-0.5zM45.1 50.9l0.2 0.6 0.1 1.5 0.3 0.5 0.1 0.5 0.1 2 0.4 1 0.1 3 0.4 1.5 0.1 4 0.4 2.5 0.1 5.5 0.3 2.5 -0.1 6 -0.2-2.5 -0.4-1.5 -0.1-2.5 -0.4-1 -0.2-2.5 -0.4-1.5 -0.1-2.5 -0.4-1 -0.1-2.5 -0.2-0.8zM49.1 59.5l0.1 1 0.5 1 0.1 1.5 0.4 1 0.1 1.5 0.5 1.5 0.1 2 0.3 1 0.2 2.5 0.3 1 0.2 3 0.3 1.5 0.2 3.5 0.4 2 0.1 4.5 0.4 2.5 0 5 0.4 3 0.1 6.5 0.4 4 0 9.5 -0.1 1.5 -0.1-3.5 -0.4-2.5 -0.2-4 -0.4-2.5 -0.1-3.5 -0.4-2 -0.1-3.5 -0.4-2 -0.2-3.5 -0.4-2 -0.1-3.5 -0.4-1.5 -0.1-3.5 -0.3-1.5 -0.2-4 -0.4-2 -0.1-3.5 -0.4-2.5 0-4 -0.4-2.5zM71.1 75.3l0.5 1.1 1 3.8 1.5 7.5 1.5 9.8 1 8.6 1 11.5 1 18.8 0.1 10.1 -0.1 5.6 -0.5-2.6 -2.6-27.5 -3.9-36.7 -0.5-5.4 -0.1-3.4zM45.1 80.5l0.2 1.5 0.1 3.5 0.4 2 0.1 5.5 0.3 1.5 0.1 1.5 0.1 6.5 0.3 3.5 0.2 11.5 0 0.5 -0.3 0.5 -0.2-7 -0.4-2 -0.1-5.5 -0.4-2 -0.2-6 -0.2-0.8zM57.6 93.1l0.2 2.4 0.3 0.6 0.1 2.4 0.4 2 0.2 3 0.3 2.1 0.1 3.4 0.4 3 0.1 4 0.4 3.5 0.1 5 0.4 4.5 0.1 6.5 0.4 9.2 0 6.8 -0.1-4.5 -0.2-1 -0.2-0.2 -0.1-3.8 -0.4-4.6 -0.1-4.9 -0.4-3.5 -0.1-5 -0.4-3.5 -0.1-4.5 -0.4-2.9 -0.1-4.6 -0.4-3.5 -0.1-4.5 -0.4-3.7zM50.1 113.8l0.1 6.2 0.2 2.5 0.2 0.5 0.1 2 0.1 9 -0.2 1.1 -0.1-8.6 -0.2-2.5 -0.2-0.5 -0.1-2z"/>
<path fill="#2b92ee" d="M45.1 36l1.3 0 0 0.5 0.5 1 0 1.5 0.4 1 0.1 3 0.4 1.5 0 5 0.3 2.5 0 0.2 -0.1-0.2 -0.4 0 -0.2-1 -0.5-1 -0.1-1 -0.3-0.5 -0.2-1 -0.4-1 -0.1-1 -0.4-0.5 -0.1-1.5 -0.2-0.3zM49.1 36.5l1.5 2.5 0.7 1.5 0.1 0.5 0.4 0.5 0.1 1 0.4 0.5 0.1 1 0.4 1 0.1 1 0.4 1 0.1 2 0.4 1 0.1 2.5 0.3 1 0.2 3.5 0.3 2 0.1 4 0.4 2.5 0 5.5 -0.1 1 -0.1-1 -0.4-0.9 -0.2-1.6 -0.3-0.6 -0.2-1.4 -0.3-1 -0.2-1.5 -0.4-1 -0.2-1.5 -0.3-0.5 -0.2-1.5 -0.4-1 -0.1-1.5 -0.4-1 -0.1-1.5 -0.3-0.5 -0.2-2 -0.3-0.5 -0.2-2 -0.4-1 -0.1-2.5 -0.4-1 -0.1-3 -0.4-1.5 0-3zM51.8 36l3.6 0 0.3 2.5 0 3 -0.1 0.4 -0.5-0.5zM58 36l7.4 0 0.2 0.5 0.7 3 0.1 1.5 0.3 1.5 0.1 2 0.4 2 0.8 10 -0.2 2 -0.2 0.3 -0.5-0.8 -3.1-7 -0.1-0.5 -0.4-0.5 -1.2-3 -0.8-1.5 -0.6-1.5 -0.1-0.5 -0.4-0.5 -0.1-0.5 -0.3-0.5 -0.2-1 -0.4-0.5 -0.7-2.5 -0.3-0.5 -0.1-1zM70.4 36l5.7 0.1 2.1 2.4 1.9 3 1.5 3 2 5.6 1 3.9 1 5 1 6 1 7.9 1.5 16.2 0.5 8.1 0.1 4.8 -0.1 2.4 -0.5 0.1 -0.5-1.3 -6.1-23.2 -3.6-12 -1.3-4 -0.7-2.5 -0.3-0.6 -0.2-0.9 -1.3-4 -0.2-1 -0.9-2.5 -0.1-1 -0.3-0.5 -0.6-2 -1.4-6 -0.2-1.5 -0.4-1 -0.1-1.5 -0.3-1zM86.1 36l7.3 0 0.1 2.5 -0.4 1.3 -0.5 0.2 -1.5-0.5zM107.5 36l45 0 3.1 21.8 1.5 13.3 0.4 5.9 0.1 4 -0.3 3 -0.2 1 -0.4 1 -0.6 0.6 -0.5 0.1 -0.5-0.1 -1-0.6 -1-0.8 -3-3.5 -10.7-13.7 -4.6-5.5 -4.1-4.5 -8.1-8.2zM189.6 36l173 0 0 62.4 -4 9.2 -4.5 9.3 -4.5 8.2 -4 6.3 -4.5 6.1 -2.5 2.9 -2 2 -2.5 2.1 -2 1.4 -2 1.1 -2 0.8 -2 0.6 -2 0.3 -2 0.1 -2.5-0.3 -2-0.4 -2.5-0.9 -2.5-1.2 -2.5-1.4 -3-1.9 -3.5-2.6 -7.5-6.4 -9-8.5 -27.8-27.2 -15.9-15 -17.8-15.9 -27.5-23.6zM57.1 46.9l0.5 0.7 1.1 2.4 1.5 4.5 0.1 1 0.3 0.5 1.6 7 0.1 1.5 0.4 1 0.1 2 0.4 1.5 0.1 2 0.4 1.5 0.1 2.5 0.4 2 0.1 3 0.3 2 0.2 3.5 0.3 2.5 0.2 4 0.3 3.5 0.5 9.5 0.1 7 -0.1 2.4 -1-6.5 -0.6-5.4 -0.4-1.9 -0.2-2.1 -0.3-1.5 -0.2-2 -0.8-5 -0.2-2 -0.4-1.5 -0.1-2 -0.3-1 -0.2-2 -0.4-1.5 -0.1-2 -0.4-1 -0.1-2 -0.4-1.5 -0.1-2 -0.4-1 -0.2-2.5 -0.3-1 -0.1-2 -0.4-1.5 -0.1-2.5 -0.4-1.5 -0.1-2.5 -0.4-1.5 -0.1-3 -0.3-1.5zM98.6 50.4l1 0.6 1 1 3 4 2.5 4.2 2.5 5.1 2 4.9 2 5.9 1.5 5.3 1.5 6.5 1.5 8.1 1 6.9 1 9.1 0.5 6.1 0.5 9.4 0.1 11.5 -0.3 6.5 -0.3 2.3 -0.4 0.7 -0.1 0.1 -0.5-0.5 -0.5-1.3 -1-3.8 -7.2-34.5 -9.8-43 -1.5-7.5 -0.7-4.5 0-2.5 0.2-0.5zM45.1 50.9l0.2 0.6 0.1 1.5 0.4 1 0.1 2 0.4 1.5 0.1 2.5 0.4 1.5 0.1 4 0.4 2.5 0.1 5.5 0.3 2.5 -0.1 5.7 -0.1-2.2 -0.5-1.5 -0.1-2.5 -0.4-1 -0.2-2.5 -0.4-1.5 -0.1-2.5 -0.4-1 -0.1-2.5 -0.2-0.8zM49.1 59.7l0.2 1.3 0.3 0.5 0.2 1.5 0.4 1 0.1 1.5 0.4 1.5 0.2 2 0.3 1 0.2 2.5 0.3 1 0.2 3 0.3 1.5 0.2 3.5 0.3 2 0.2 4.5 0.3 2.5 0.1 5 0.4 3 0.1 6.5 0.3 4 0 10.2 -0.1-3.2 -0.4-2.3 -0.1-3.7 -0.5-2.5 -0.1-3.5 -0.4-2 -0.1-3.5 -0.4-2 -0.1-3.5 -0.4-2 -0.2-3.5 -0.3-1.5 -0.2-3.5 -0.4-2 -0.1-3.5 -0.4-2 -0.1-3.5 -0.3-2.5 -0.1-4 -0.4-2.5zM71.1 76.8l0.5 0.2 0.5 1.6 2 9.4 1.5 9.9 1 8.8 1 11.8 0.5 8.3 0.5 14.5 0 4.6 -0.3 1.1 -0.2 0.1 -0.5-4 -2.6-27.1 -2.9-26.3 -0.5-5.1zM45.1 80.6l0.2 1.4 0.1 3.5 0.4 2 0.1 5.5 0.4 3 0 6.5 0.4 3.5 0.1 11 -0.2 1.1 -0.2-6.6 -0.4-2 -0.2-6 -0.3-2 -0.2-5.5 -0.2-0.9zM58.1 96.7l0.1 2.3 0.4 2 0.1 2.5 0.4 2.6 0.1 2.9 0.4 3.3 0.1 3.7 0.4 4 0.1 4.5 0.4 6.5 0.2 10.5 -0.2 2.7 -0.2-4.7 -0.3-3.1 -0.1-3.9 -0.4-4.2 -0.1-4.3 -0.4-3.7 -0.1-4.3 -0.4-3.5 -0.1-4 -0.4-3.9 -0.2-6.6zM50.1 114.4l0.1 7.1 -0.1 1.2zM50.6 123.7l0 10.5 -0.1-9.2z"/>
<path fill="#2699e9" d="M45.1 36l1.3 0 0 0.5 0.4 1 0.1 1.5 0.4 1 0.1 3 0.4 1.5 0.2 7 -0.4 0.4 -0.2-0.9 -0.4-1 -0.1-1 -0.4-0.5 -0.2-1 -0.4-1 -0.1-1 -0.4-0.5 -0.1-1.5 -0.2-0.3zM51.9 36l3.5 0 0.3 2.5 -0.1 3 0 0.2 -0.5-0.4 -0.6-0.8zM58 36l7.3 0 0.4 1 0.1 1 0.4 1.5 0.1 1.5 0.4 1.5 0.1 2 0.4 2 0.1 2.5 0.3 2.5 0.3 5 -0.1 1.5 -0.2 0.4 -1-1.6 -2.6-5.8 -0.1-0.5 -0.4-0.5 -1.1-2.5 -0.1-0.5 -0.8-1.5 -0.6-1.5 0-0.5 -0.5-0.5 0-0.5 -0.3-0.5 -0.3-1 -0.4-0.5 -0.7-2.5 -0.3-0.5 -0.1-1zM70.4 36l5.6 0 0.1 0.1 2.1 2.4 2.4 4 1.5 3.2 1.5 4.5 1 3.9 1 4.9 1 6.3 1 8.1 1.5 17.2 0.3 8.4 0 2 -0.2 1.5 -0.1 0.2 -0.5-0.7 -0.5-1.4 -6.1-22.6 -3-10 -5-15.5 -0.1-1 -0.8-2.5 -1.6-6.5 -0.1-1 -0.3-1 -0.2-1.5 -0.4-1.5zM86.1 36l7.2 0 0 2 -0.2 1.3 -0.5 0.4 -1-0.1 -2-1.2zM107.5 36l44.9 0 2.7 19.5 1.5 13.9 0.3 5.1 0 4 -0.3 3.5 -0.5 1.6 -0.5 0.6 -0.5 0.3 -0.5 0 -1.5-0.7 -1.5-1.3 -3-3.4 -10.2-12.6 -8-9 -8.3-8.2zM189.8 36l172.8 0 0 58.8 -4 9 -4.5 9.2 -4.5 8.1 -4 6.4 -4.5 5.9 -2.5 2.9 -2 2 -2.5 2.1 -2 1.4 -2 1.2 -2.5 1.1 -2 0.6 -2.5 0.4 -2 0 -2.5-0.2 -2.5-0.6 -2.5-0.9 -2.5-1.1 -2.5-1.3 -3.5-2.3 -3.5-2.5 -4-3.2 -4.5-3.8 -9.5-8.8 -27.2-25.9 -13.6-12.5 -16.2-14.3 -26-22.2zM49.1 36.5l1.5 2.5 0.7 1.5 0.1 0.5 0.3 0.5 0.2 1 0.3 0.5 0.2 1 0.4 1 0.1 1 0.3 1 0.2 2 0.4 1 0.1 2.5 0.3 1 0.2 3.5 0.3 2 0.1 4 0.3 2.5 0 6.1 -0.2-1.1 -0.3-0.6 -0.2-1.4 -0.4-1 -0.2-1.5 -0.2-0.5 -0.2-1.5 -0.4-1 -0.1-1.5 -0.3-0.5 -0.2-1.5 -0.4-1 -0.2-1.5 -0.4-1 -0.1-1.5 -0.3-0.5 -0.2-2 -0.3-0.5 -0.2-2 -0.3-1 -0.2-2.5 -0.4-1.5 -0.1-2.5 -0.4-1.5 0-2.5zM57.1 47.2l0.5 0.6 1 2.2 1.6 4.5 0.1 1 0.3 0.5 1.6 7 0.1 1.5 0.4 1 0.1 2 0.4 1.5 0.1 2 0.3 1.5 0.2 2.5 0.3 2 0.2 3 0.3 2 0.2 3.5 0.3 3 1 18.1 0 5.9 -0.1-1 -0.4-0.8 -1.5-10.4 -0.1-1.8 -0.4-1.8 -0.1-1.7 -0.9-5 -0.2-2 -0.3-1.5 -0.2-2 -0.4-1.5 -0.1-1.5 -0.4-2 -0.1-1.5 -0.3-1 -0.2-2 -0.4-1.5 -0.1-2 -0.3-1 -0.8-6 -0.3-1 -0.1-2.5 -0.4-1.5 -0.1-2.5 -0.4-1.5 -0.1-3 -0.3-1.5zM45.1 50.9l0.2 0.6 0.1 1.5 0.4 1 0.1 2 0.4 1.5 0.1 2.5 0.4 1.5 0.1 4 0.4 2.5 0 5.5 0.4 2.5 -0.1 5.4 -0.1-1.9 -0.4-1.5 -0.2-2.5 -0.4-1.5 -0.1-2 -0.5-1.5 -0.1-2.5 -0.3-1 -0.2-2.5 -0.2-0.9zM98.6 51l0.5 0.1 1 0.7 1.5 1.7 1.5 2 2.5 4 2.5 5 2 4.7 2 5.7 1.5 5.1 1.5 6.2 1.5 7.7 1 6.4 1 8.4 0.7 8.8 0.5 9 0.1 8.5 -0.3 7 -0.5 2.5 -0.5 0.3 -0.5-0.8 -1.5-5.1 -7.2-33.4 -8.8-38.1 -1.5-7.3 -0.9-5.6 -0.1-2.5 0.1-0.5zM49.1 60.1l0.1 0.9 0.4 0.5 0.2 1.5 0.4 1 0.2 2 0.3 1 0.2 2 0.3 1 0.1 2.5 0.4 1 0.1 3 0.4 2 0.1 3 0.4 2 0.1 4.5 0.4 2.5 0.1 5 0.4 3 0.1 6.5 0.3 4.1 0 9.2 -0.1-3.3 -0.4-1.8 -0.1-3.2 -0.4-2.5 -0.2-3.5 -0.4-2.5 -0.1-3 -0.4-2 -0.1-3.5 -0.4-2 -0.2-3.5 -0.3-1.5 -0.1-3.5 -0.4-2 -0.1-3.5 -0.4-2 -0.1-3.5 -0.4-2.5 -0.1-4 -0.3-2.5zM71.6 77.8l1 3.3 1.5 7.4 1.5 10 1 8.9 1 12.3 0.5 9.2 0.2 10.6 -0.2 4.7 -1-7.4 -5-47.8 -0.7-8.5 0-2zM45.1 80.7l0.2 1.3 0 3.5 0.5 2.5 0 5 0.4 3 0.1 6.5 0.4 3.5 0 10.5 -0.1 1.2 -0.2-6.2 -0.3-2 -0.2-6 -0.4-2 -0.1-5.5 -0.3-1zM58.1 97.5l0.2 2.5 0.3 1.6 0.2 2.9 0.3 2.2 1 14.2 0.5 10.9 0 10.4 -0.2-4.7 -0.3-2.3 -0.6-11.2 -0.4-4.4 -0.1-3.6 -0.4-4.2 -0.1-3.8 -0.4-4.3z"/>
<path fill="#23a0e5" d="M45.1 36l1.3 0 0 0.5 0.4 1 0.1 1.5 0.4 1 0.1 3 0.4 2 0.1 6.5 -0.3 0.3 -0.1-0.8 -0.5-1 -0.1-1 -0.4-0.5 -0.1-1 -0.5-1 -0.1-1 -0.3-0.5 -0.2-1.5 -0.2-0.3zM51.9 36l3.4 0 0.4 2.5 -0.1 3 -0.5-0.3 -0.5-0.7zM58 36l7.3 0 0.4 1 0.2 1.5 0.3 1 0.1 1.5 0.4 1.5 0.1 2 0.4 2 0.1 2.5 0.3 3 0.1 5.5 -0.1 0.5 -0.5-0.5 -1.5-3 -1.6-3.5 -0.1-0.5 -0.3-0.5 -1.1-2.5 -0.1-0.5 -0.8-1.5 -0.7-1.5 0-0.5 -0.4-0.5 -0.6-2 -0.4-0.5 -0.8-2.5 -0.3-0.5 -0.1-1zM70.4 36l5.5 0 0.2 0.2 2 2.3 2.5 4 1.5 3.3 1.5 4.5 1 3.9 1 5 1 6.5 1 8.3 1 10.9 0.5 8 0 7.2 -0.5 0.5 -1-2.5 -6.2-22.1 -7.3-23.5 -0.2-1 -0.8-2.5 -1.6-6.5 -0.1-1 -0.3-1 -0.2-1.5 -0.4-1.5zM86.2 36l7 0 -0.1 2.7 -0.5 0.7 -0.5 0.1 -0.5-0.1 -2.5-1.4zM107.5 36l44.8 0 2.3 17.1 1.5 14.6 0.2 8.3 -0.2 3.1 -0.5 2 -0.5 0.8 -0.5 0.4 -1 0.1 -1.5-0.8 -1.5-1.2 -3.5-3.9 -10.1-12 -6.9-7.5 -8.5-8.3zM190 36l172.6 0 0 54.9 -4 9 -4.5 9.1 -4.5 8.1 -4.1 6.4 -2.4 3.3 -2.5 3.1 -2.5 2.7 -2 2 -2.3 1.9 -2.2 1.5 -2 1.2 -2.5 1.1 -2 0.6 -2.5 0.4 -2.5 0.1 -2.5-0.2 -2.5-0.5 -2.5-0.8 -2.5-1.1 -3-1.5 -4-2.4 -4-2.9 -4.5-3.5 -5-4.2 -9.5-8.5 -26.7-24.8 -13.9-12.5 -12.4-10.8 -28-23.7zM49.1 36.6l1 1.5 1.2 2.4 0 0.5 0.4 0.5 0.2 1 0.3 0.5 0.2 1 0.4 1 0.1 1 0.3 1 0.2 2 0.3 1 0.2 2.5 0.3 1.5 0.1 3 0.4 2 0.1 4 0.4 3.5 -0.1 4.7 -0.1-0.7 -0.4-0.8 -0.1-1.2 -0.4-1 -0.7-3.5 -0.4-1 -0.1-1.5 -0.3-0.5 -0.2-1.5 -0.4-1 -0.1-1.5 -0.5-1 -0.1-1.5 -0.3-0.5 -0.2-2 -0.3-0.5 -0.2-2 -0.3-1 -0.2-2.5 -0.4-1.5 -0.1-2.5 -0.3-1.5 -0.1-2.5zM57.1 47.4l0.5 0.5 1 2.1 1.6 4.5 0.1 1 0.3 0.6 0.5 1.9 0.2 1.5 0.4 1 0.2 1.5 0.3 1 0.1 1.5 0.3 1 0.2 2 0.4 1.5 1.4 13.5 1 14.3 0.4 10.7 -0.1 1.5 -0.3 0.7 -1.5-9.8 -0.1-1.4 -0.4-2 -0.1-1.5 -0.4-1.9 -0.1-1.6 -0.4-1.7 -0.1-1.8 -0.4-1.5 -0.2-2 -0.4-1.5 -0.6-5 -0.4-1.5 -0.1-1.5 -0.4-1.5 -0.1-2 -0.3-1 -0.8-6 -0.2-1 -0.2-2.5 -0.4-1.5 -0.1-2.5 -0.3-1.5 -0.2-3 -0.3-1.8zM45.1 50.9l0.2 0.6 0.1 1.5 0.4 1 0.1 2 0.4 1.5 0.1 2.5 0.4 1.5 0.1 4 0.3 2.5 0.1 5.5 0.3 2.5 0 5 -0.1-2 -0.4-1 -0.2-2.5 -0.4-1.5 -0.1-2 -0.4-1.5 -0.2-2.5 -0.3-1 -0.2-2.5 -0.2-0.9zM99.1 51.7l0.5 0.2 1 0.8 2.5 3.1 2.5 4 2.5 5 2 4.7 2 5.8 1.5 5.2 1.5 6.3 1.5 8 1 6.8 1 9.1 0.5 6.5 0.4 8.8 0 7 -0.3 6 -0.6 2 -0.5-0.1 -0.5-0.9 -1.5-5 -7.3-32.5 -7.7-33.3 -1.5-7.2 -1-5.8 -0.2-2.2 0.1-1.5 0.1-0.5zM49.1 60.6l0.2 0.9 0.3 0.2 0.1 1.3 0.4 1 0.3 2 0.3 1 0.1 2 0.4 1 0.1 2.5 0.4 1.5 0.1 2.5 0.4 2 0.1 3 0.4 2 0.1 4.5 0.4 3 0.1 4.5 0.3 3.5 0.1 6 0.4 5.3 0 6.8 -0.1-3.1 -0.4-1.3 -0.1-2.7 -0.4-2.6 -0.1-3.4 -0.5-2.5 -0.1-3 -0.4-2.5 -0.1-3 -0.4-2 -0.1-3.5 -0.4-1.5 -0.1-3.5 -0.4-2 -0.1-3.5 -0.4-2 -0.2-4 -0.3-2 -0.1-4 -0.3-2.7zM71.6 79.1l0.5 0.8 0.5 1.7 1 4.6 1.5 9.1 1 8 1 10.7 0.5 7.3 0.5 11.5 0 6.5 -0.5-0.4 -1-8.2 -4.5-42.5 -0.5-5.9zM45.1 80.8l0.2 4.7 0.4 2.5 0.1 5 0.4 3 0.1 6.5 0.4 3.5 0 6 -0.1 5.2 -0.1-5.7 -0.5-2.5 -0.1-5.5 -0.4-2 -0.1-5.5 -0.3-1.2zM58.1 98.9l0.1 3.1 -0.1 0.3zM58.6 102.3l1 11.5 0.5 8.2 0.2 10 0 1 -0.2 0.7 -0.2-4.7 -0.3-2.6 -0.2-4.4 -0.8-11.1 -0.3-8.4z"/>
<path fill="#1fa6e1" d="M45.1 36l1.2 0 0.1 0.5 0.4 1 0.1 1.5 0.4 1 0.1 3 0.4 2.5 0.1 5.5 -0.1 0.5 -0.2 0.2 -0.3-1.2 -0.3-0.5 -0.1-1 -0.4-0.5 -0.1-1 -0.5-1 -0.1-1 -0.3-0.5 -0.2-1.5 -0.2-0.3zM51.9 36l3.4 0 0.4 2.5 -0.1 2.5 0 0.3 -0.5-0.2 -0.5-0.6zM58.1 36l7.2 0 0.4 1 0.2 1.5 0.3 1 0.9 7 0.1 2.5 0.4 3 0.1 5 -0.1 0.4 -0.5-0.1 -1.5-2.9 -1.6-3.9 -1.5-3 -0.1-0.5 -0.8-1.5 -0.6-1.5 -0.1-0.5 -0.4-0.5 -0.6-2 -0.4-0.5 -0.3-1 -0.2-0.5 -0.2-1 -0.3-0.5 -0.1-1zM70.5 36l5.4 0 0.7 0.8 2.5 3.2 1.5 2.5 1.5 3.4 1.5 4.5 1 4 1 5.1 1 6.5 1 8.6 1 11.8 0.2 4.6 0.1 5 -0.2 2.5 -0.1 0.2 -0.5-0.4 -1-2.7 -5.6-19.6 -7.4-23.5 -2.6-10 -0.9-5zM86.3 36l6.8 0 0 1.8 -0.2 0.7 -0.3 0.5 -0.5 0.2 -1-0.2 -2-1.1zM107.6 36l44.6 0 2.4 19 1 11 0.2 5 -0.1 3.5 -0.2 2.5 -0.6 2 -0.3 0.7 -0.5 0.5 -1 0.3 -1.5-0.6 -2-1.6 -3.5-3.6 -10.7-12.2 -6.6-7 -8.2-7.8zM190.2 36l172.4 0 0 50.9 -4 8.9 -4.5 9.1 -4.5 8 -4.5 6.9 -2.5 3.4 -2.5 3 -4.5 4.6 -2.1 1.7 -2.4 1.7 -2.5 1.4 -2.5 1 -2 0.6 -2.5 0.4 -2.5 0.2 -2.5-0.2 -2.5-0.5 -3-0.9 -2.5-1 -3-1.5 -4-2.3 -4.5-3.1 -5-3.8 -5.5-4.5 -9-7.8 -25.6-23.2 -13.4-11.8 -14-12 -24-20.2zM49.1 36.7l1 1.5 1.2 2.3 0 0.5 0.4 0.5 0.1 1 0.4 0.5 0.1 1 0.5 1 0 1 0.4 1 0.2 2 0.3 1 0.1 2.5 0.4 1.5 0.1 3 0.4 2 0.1 4 0.3 3.5 0 4.2 -0.1-0.7 -0.4-0.5 -0.1-1 -0.4-1 -0.7-3.5 -0.3-1 -0.2-1.5 -0.3-0.6 -0.2-1.4 -0.4-1 -0.1-1.5 -0.4-1 -0.1-1.5 -0.5-1 -0.1-1.5 -0.4-1 -0.1-1.5 -0.4-1.5 -0.1-2 -0.3-1 -0.2-3 -0.3-1.5 -0.1-2.5zM57.1 47.8l0.5 0.2 0.5 1 2 5.5 0.2 1 0.3 0.7 0.5 1.9 0.2 1.4 0.4 1 1.4 8.5 0.2 2 0.3 1.6 0.2 2.4 0.3 2.5 1 11.8 0.5 8.5 0.2 5.7 0 3.5 -0.2 1.5 -1-5.6 -2.1-14.9 -0.4-1.7 -0.1-1.8 -0.4-1.5 -0.7-5 -0.4-1.5 -0.1-1.5 -0.4-2 -0.1-1.5 -0.4-1.5 -0.6-5.5 -0.3-1 -0.2-2.5 -0.4-1.5 -0.1-2.5 -0.4-2 -0.1-2.5 -0.3-2.2zM45.1 51l0.3 2 0.4 1 0.1 2 0.4 1.5 0.1 2.5 0.3 1.5 0.1 4 0.4 2.5 0.1 5.5 0.3 2.5 0 4.5 -0.1-1.5 -0.4-1.1 -0.2-2.4 -0.4-1.5 -0.1-2 -0.5-2 0-2 -0.4-1 -0.1-2.5 -0.3-0.9zM99.6 52.5l1.5 1.2 2.5 3.2 2.5 4.2 2 4 2 4.8 1.5 4.3 1.5 5 1.5 6.1 1.5 7.6 1 6.4 1 8.5 0.5 5.8 0.5 9.4 0 6.5 -0.2 5 -0.3 1.7 -0.4 0.8 -0.1 0.2 -0.5-0.3 -0.5-0.9 -1-3.1 -1-3.8 -13.5-58.2 -2-9.7 -0.8-5.2 -0.1-2.5 0.4-0.9zM49.6 61.8l0.1 1.2 0.4 1 0.2 2 0.4 1 0.1 2 0.3 1 0.2 2.5 0.4 1.5 0.1 2.5 0.4 2 0.1 3 0.4 2.5 0.1 4 0.3 2.5 0.2 5 0.4 4.5 0.3 11.5 -0.1 0.5 -0.3 0.1 -0.1-2.6 -0.4-2.5 -0.1-3 -0.4-2.5 -0.2-3.5 -0.4-2 -0.1-3 -0.4-2 -0.1-3.5 -0.4-2 -0.1-3 -0.4-2 -0.1-3.5 -0.4-2 -0.1-4 -0.4-2 -0.3-6.5 0.1-0.5zM45.1 81l0.2 4.5 0.4 2.5 0.1 5 0.4 2.5 0.1 7 0.3 4 0 10.2 -0.1-5.2 -0.4-2.5 -0.2-5.5 -0.4-2 -0.1-5.5 -0.3-1.4zM72.1 80.9l1 3.5 1 5.1 1 6.5 1 8.1 1 11.3 0.5 8.2 0.2 8.4 -0.2 3.9 -1-6.7 -4-36.9 -0.7-8.8 0-2zM58.6 103.4l0.2 3.6 0.3 1.4 0.2 4.6 0.3 1.9 0.3 6.6 0.2 2.2 0 8 -0.2-5.2 -0.3-1.5 -0.7-13 -0.3-2.4z"/>
<path fill="#19acdc" d="M45.1 36l1.2 0 0.1 0.5 0.4 1 0.1 1.5 0.3 1 0.2 3 0.4 2.5 0 5 -0.1 1 -0.3-1 -0.4-0.5 -0.1-1 -0.3-0.5 -0.2-1 -0.5-1 0-1 -0.4-0.5 -0.2-1.5 -0.2-0.4zM51.9 36l3.4 0 0.3 2.5 0 2.5 -0.5 0.1 -0.5-0.7zM58.1 36l7.2 0 0.4 1 0.5 2.5 0.9 7 0.5 6 0 4 0 0.2 -0.5 0.2 -1-1.6 -1-2.1 -2.6-5.7 -0.1-0.5 -0.8-1.5 -0.7-2 -0.4-0.5 -0.6-2 -0.4-0.5 -0.2-1 -0.3-0.5 -0.2-1 -0.3-0.5 -0.1-1zM70.5 36l5.3 0 0.3 0.3 2 2.3 2 3.1 1.5 3.1 1.5 4.1 1 3.6 1 4.5 1 5.9 1 7.7 1 10.4 0.5 7.5 0.1 4.5 -0.1 3 -0.5 0.9 -0.5-0.9 -0.5-1.2 -6.2-20.8 -6.3-19.9 -2.5-9.3 -1-4.6zM86.4 36l6.6 0 0 1.5 -0.4 1 -0.5 0.4 -1-0.1 -1.5-0.7zM107.6 36l44.5 0 2 16.6 1 11.9 0.2 5 -0.2 3.5 -0.4 3 -0.6 1.5 -0.5 0.6 -0.5 0.4 -1 0.1 -1.5-0.6 -2-1.6 -3.5-3.5 -11.3-12.4 -5.9-6 -8.3-7.8zM190.4 36l172.2 0 0 46.6 -4.5 10.1 -4.5 8.9 -4.5 7.8 -4.4 6.6 -4.6 5.9 -2.5 2.7 -2.5 2.3 -2.5 2 -2.5 1.7 -2.5 1.4 -2.5 1 -2.5 0.6 -2.5 0.4 -2.5 0.1 -2.5-0.3 -2.5-0.4 -3-0.9 -3-1.2 -3-1.4 -4.5-2.6 -5-3.4 -5.5-4.1 -6-4.9 -9.5-8.1 -35.2-30.8 -35.8-30zM49.1 36.8l1 1.4 1.1 2.3 0.1 0.5 0.4 0.5 0.1 1 0.4 0.5 0.1 1 0.4 1 0.1 1 0.4 1 0.1 2 0.4 1 0.1 2.5 0.4 1.5 0.1 3 0.3 2 0.2 4 0.3 3.5 0 3.4 -0.1-0.4 -0.4-0.3 -0.2-1.2 -0.3-0.7 -0.6-3.3 -0.4-1 -0.2-1.5 -0.3-0.6 -0.2-1.4 -0.4-1 -0.1-1.5 -0.4-1 -0.1-1.5 -0.4-1 -0.1-1.5 -0.4-1 -0.1-1.5 -0.5-1.5 0-2 -0.4-1 -0.1-3 -0.4-1.5 0-2zM57.6 48.2l1.5 3.3 1 3 0.1 1 0.4 0.8 1.5 6.7 0.2 1.5 0.3 1.2 0.2 1.8 0.3 1.5 1 8.5 1 12.4 0.5 9.4 0.1 5.2 -0.1 2 -0.5-1.3 -0.5-2.9 -2.1-14.3 -0.4-1.9 -0.1-1.6 -0.4-1.5 -0.6-5 -0.4-1.5 -0.7-5 -0.3-1.5 -0.2-2 -0.3-1 -0.2-2.5 -0.4-1.5 -0.1-2 -0.3-1.5 -0.2-2.5 -0.3-2 -0.1-2.5 -0.4-3 0-1zM45.1 51l0.2 2 0.4 1 0.1 2 0.5 1.5 0 2.5 0.4 1.5 0.1 4 0.4 3 0.1 5 0.3 3.1 0 3.2 -0.1-1.3 -0.1-0.5 -0.3-0.3 -0.1-2.2 -0.5-1.5 -0.1-2 -0.4-2 -0.1-2 -0.4-1 -0.1-2.5 -0.3-1zM99.6 53.3l0.5 0.1 1 0.7 2 2.4 2.5 4 2 3.9 2 4.7 1.5 4.1 1.5 4.9 1.5 5.8 1.5 7.3 1 6.1 1 8 0.5 5.4 0.5 8.4 0.1 6.4 -0.2 5 -0.4 2.1 -0.2 0.4 -0.3 0.3 -0.5-0.4 -0.5-0.9 -1-3 -1-3.7 -12-50.6 -2.5-11.7 -0.9-5.5 -0.2-3 0.1-0.5zM49.6 62l0.1 1 0.4 1.2 0.2 1.8 0.3 1 0.2 2 0.4 1.5 0.1 2 0.4 1.5 0.1 2.5 0.4 2 0.1 3 0.4 2.5 0.1 4 0.3 2.5 0.1 5 0.4 4.5 0.2 9.5 -0.2 1.9 -0.2-2.9 -0.3-1.9 -0.1-2.6 -0.4-2.6 -0.2-3.4 -0.3-2 -0.2-3 -0.3-2 -0.2-3.5 -0.4-2 -0.1-3 -0.4-2 -0.1-3.5 -0.4-2 -0.1-4 -0.4-3 -0.2-5 0.1-0.5zM45.1 81.1l0.2 4.4 0.4 2.5 0.1 5 0.4 3.5 0.1 6 0.4 5.5 -0.1 8.1 -0.1-4.6 -0.4-2.5 -0.2-5.5 -0.4-2.5 -0.1-5 -0.3-1.6zM72.1 82.7l0.1 0.3 0.4 0.3 0.5 1.9 1 5 1 6.5 1 8.5 1 12.1 0.3 7.2 0.1 5 -0.2 1 -0.2 0.2 -1-7.3 -3-27.2 -1-11zM59.1 109.8l0.1 5.2 -0.1 0.9zM59.6 116.6l0 6.5 -0.1-5.6z"/>
<path fill="#10b2d5" d="M45.1 36l1.2 0 0 0.5 0.5 1 0.1 1.5 0.3 1 0.1 3 0.4 2.5 0.1 5.5 -0.2 0.4 -0.2-0.9 -0.3-0.5 -0.2-1 -0.3-0.5 -0.2-1 -0.4-1 -0.1-1 -0.4-0.5 -0.1-1.5 -0.3-0.4zM51.9 36l3.4 0 0.3 2.5 0 2 -0.5 0.5 -2-3 -0.2-0.5zM58.1 36l7.2 0 0.3 1 0.6 2.5 0.9 7.3 0.5 6.7 -0.1 2.5 -0.4 0.6 -0.5-0.6 -2-4 -2.2-5 -0.8-1.6 -0.7-1.9 -0.4-0.5 -0.6-2 -0.4-0.5 -0.2-1 -0.3-0.5 -0.2-1 -0.3-0.5 -0.1-1zM70.5 36l5.3 0 0.3 0.3 2 2.4 2 3.1 1.5 3.1 1.5 4.1 1 3.7 1 4.6 1 6 1 7.9 1 11.3 0.2 4 0.1 5 -0.2 3 -0.1 0.5 -0.5-0.2 -1-2.3 -6.2-20.5 -5.8-18.1 -1.5-5.2 -1.5-6.2 -1-5.3zM86.5 36l6.4 0 -0.3 2 -0.5 0.6 -0.5 0.1 -1-0.3zM107.7 36l44.2 0 1.7 14.1 1 12.4 0.1 4.5 -0.1 3.6 -0.4 2.9 -0.6 1.8 -0.5 0.8 -0.5 0.4 -1 0.3 -1.5-0.5 -2.5-1.7 -3-2.9 -10.6-11.2 -7.5-7.5 -7.4-6.9zM190.7 36l171.9 0 0 42.2 -4.5 10 -4.5 8.9 -4.5 7.9 -4.5 6.7 -2.5 3.3 -2.5 3 -2.5 2.7 -2.5 2.3 -2.5 2 -2.5 1.7 -2.5 1.3 -2.5 1.1 -2.5 0.7 -2.5 0.4 -2.5 0.2 -3-0.2 -2.5-0.4 -3-0.8 -3-1.1 -3-1.3 -5-2.8 -5.5-3.5 -6-4.4 -7-5.5 -9.5-7.9 -32.5-27.7 -36.5-30.3zM49.1 36.9l1 1.3 1.5 3.3 0.2 1 0.3 0.5 0.2 1 0.4 1 0.1 1 0.4 1.5 0.1 1.5 0.4 1 0.1 2.5 0.4 1.5 0.1 3 0.3 2 0.5 8 0 1.5 -0.5 0.5 -0.7-3 -0.3-0.9 -0.1-1.1 -0.4-1 -0.2-1.5 -0.3-0.7 -0.2-1.3 -0.3-1 -0.2-1.5 -0.4-1 -0.1-1.5 -0.4-1 -0.1-1.5 -0.4-1 -0.1-1.5 -0.4-1.5 -0.1-2 -0.4-1 -0.1-3 -0.4-2zM57.6 48.4l1.5 3.2 1.5 4.8 1.5 6.6 0.1 1.5 0.4 1.4 0.1 1.6 0.4 1.7 1 8.6 1 12.8 0.5 11.9 -0.2 1.5 -0.3 0.3 -1-5.7 -2-12.7 -0.1-1.4 -0.9-4.9 -0.1-1.6 -0.9-4.6 -0.1-1.9 -0.4-1.5 -0.7-5.5 -0.3-1.5 -0.2-2 -0.3-1.5 -0.1-2.5 -0.4-2 -0.4-5 0-1zM45.1 51.1l0.2 1.9 0.4 1 0.1 2 0.4 1 0.1 3 0.4 2 0.1 3.5 0.4 2.5 0.1 5.5 0.2 3 0 0.5 -0.4 0.5 -0.1-2 -0.4-1.5 -0.2-2.5 -0.4-1.5 -0.1-2 -0.4-1 -0.2-3 -0.2-0.6zM100.1 54.2l1 0.5 2 2.3 2.5 3.9 2 4 2 4.7 1.5 4.2 1.5 4.9 1.5 6.1 2 10.7 1 7.6 0.5 5.1 0.5 7.8 0.1 6 -0.2 4.5 -0.3 2 -0.2 0.5 -0.4 0.4 -0.5-0.4 -0.5-1 -1-2.8 -1-3.5 -11-45.5 -2.5-11.5 -1-5.8 -0.2-3.4 0.2-0.9zM49.6 62.2l0.2 1.3 0.3 0.8 0.2 1.7 0.3 1 0.2 2 0.4 1.5 0.1 2 0.3 1.5 0.2 2.5 0.3 2 0.2 3 0.3 2.5 0.2 4 0.3 2.6 0.1 4.9 0.4 4.5 0.1 8 -0.1 2.6 -0.1-2.6 -0.4-1.9 -0.1-2.6 -0.4-2.4 -0.2-3.1 -0.3-2 -0.1-3 -0.4-2.5 -0.2-3 -0.4-2 -0.1-3 -0.3-2 -0.2-3.5 -0.3-2 -0.2-4 -0.4-3 -0.1-5zM45.1 81.3l0.2 4.2 0.4 3 0.1 4.5 0.4 3.5 0 6 0.4 5 0 7.8 -0.1-3.8 -0.1-2 -0.3-0.9 -0.1-5.1 -0.5-3 -0.1-4.5 -0.3-1.8zM72.6 84.7l0.5 1.5 1 4.9 1.5 10.6 1 10.6 0.5 8.4 0 5.9 -0.2-1.1 -0.3-0.4 -0.5-3.4 -2.5-21.8 -1-10.3 -0.1-3.6z"/>
<path fill="#03b7cc" d="M45.1 36l1.2 0 0 0.5 0.4 1 0.1 1.5 0.4 1 0.1 3 0.4 2.5 0 5.5 -0.1 0.3 -0.2-0.8 -0.3-0.5 -0.1-1 -0.4-0.6 -0.2-0.9 -0.4-1 -0.1-1 -0.3-0.5 -0.2-1.5 -0.3-0.4zM52 36l3.3 0 0.3 4 -0.1 0.5 -0.4 0.3 -1-1.3zM58.1 36l7.2 0 0.3 1 0.5 2.5 1 7.6 0.4 6.9 0 1 -0.3 1 -0.1 0.2 -0.5-0.5 -0.5-0.8 -3.5-7.4 -0.1-0.5 -0.4-0.5 -1.1-2.5 -0.1-0.5 -0.3-0.5 -0.7-2 -0.3-0.5 -0.8-2.5 -0.3-0.5 -0.1-1zM70.5 36l5.2 0 0.4 0.4 2.5 3 1.5 2.5 1.5 3.1 1.5 4.2 1 3.7 1 4.7 1.5 9.9 1 9.9 0.5 7.5 0.1 5.1 -0.2 2.5 -0.4 0.8 -0.5-0.6 -1-2.5 -11-34.7 -3-10.9 -1-4.7zM86.5 36l6.3 0 -0.2 1.5 -0.5 0.7 -0.5 0.2 -0.5 0 -2-0.9zM107.8 36l44 0 1.8 16.5 0.5 9 0.1 4 -0.2 3.5 -0.4 2.7 -0.6 1.8 -0.9 1.1 -0.5 0.3 -1 0.1 -1.5-0.5 -2.5-1.7 -3.5-3.3 -10.2-10.5 -6.2-6 -5.6-5.2zM191 36l171.6 0 0 37.7 -4.5 10 -4.5 8.9 -4.5 7.8 -5 7.5 -5 6.2 -2.5 2.6 -2.5 2.3 -2.5 2 -2.5 1.7 -2.5 1.4 -3 1.2 -2.5 0.8 -3 0.5 -2.5 0.1 -3-0.2 -3-0.5 -3-0.8 -3-1.1 -3-1.3 -5-2.6 -6-3.8 -6.5-4.6 -7.5-5.8 -10.5-8.5 -32-26.7 -31.5-25.8zM49.1 37l0.5 0.5 0.5 0.8 1.5 3.2 0.2 1 0.3 0.5 0.2 1 0.4 1 0.1 1 0.4 1.5 0.1 1.5 0.4 1.5 0.1 2 0.3 1.5 0.2 3 0.3 2.5 0.4 7.5 -0.1 1 -0.3 0.6 -1.5-5.8 -0.1-1.3 -0.4-1 -0.2-1 -0.4-1.5 -0.1-1 -0.4-1 -0.1-1.5 -0.4-1 -0.1-1.5 -0.4-1 -0.1-1.5 -0.4-1.5 -0.1-2 -0.4-1 -0.1-3 -0.3-1.5zM57.6 48.6l0.5 0.8 1 2.4 1.5 4.7 1.5 6.7 1 6.2 1 8.8 1 13.4 0.3 8.9 -0.3 2.6 -0.5-2.2 -1-5.9 -5-32 -0.1-2 -0.4-1.7 -0.1-2.3 -0.4-2.5 -0.3-4.5 0.1-1zM45.1 51.1l0.2 1.9 0.4 1 0.1 2 0.3 1 0.2 3 0.4 2 0.1 3.5 0.4 3 0.2 7 0 1 -0.3 0.8 -0.1-1.8 -0.4-1.5 -0.2-2.5 -0.4-1.5 -0.1-2 -0.3-1 -0.3-3 -0.2-0.7zM100.6 55.2l0.5 0.2 1 0.9 1.5 1.9 2 3.2 2 4 2 4.7 1.5 4.3 2.5 9.1 2 10.4 1 7.3 0.5 5 0.5 7.8 0.1 5 -0.3 4 -0.3 1.8 -0.2 0.2 -0.3 0.3 -0.5-0.3 -0.5-0.9 -1-2.7 -1-3.4 -3.5-13.6 -6.5-26.8 -2-8.9 -1.5-8.1 -0.3-4.1 0.3-1.1zM49.6 62.5l0.1 1 0.4 1 0.1 1.5 0.4 1.1 0.1 1.9 0.4 1.5 0.1 2 0.4 1.5 0.1 2.5 0.5 2.5 0 2.5 0.4 2.5 1 16.8 0 8.7 -0.2-2.5 -0.3-1.4 -0.1-2.6 -0.4-2.3 -0.1-2.7 -0.4-2.3 -0.1-2.7 -0.4-2.2 -0.2-3.3 -0.3-2 -0.2-3 -0.4-2.5 -0.1-3 -0.3-2 -0.2-4 -0.4-3 0-4.5zM45.1 81.5l0.2 4 0.4 3 0.1 4.5 0.3 3.5 0.1 6 0.4 5.2 0 6.6 -0.1-4.8 -0.2-1 -0.2-0.3 -0.1-4.7 -0.4-3 -0.1-4.5 -0.4-2zM73.1 87.7l1 4.5 1.5 11 1 12.2 0 6 -0.2-1.4 -0.3-0.7 -0.5-3.5 -2-17.4 -0.6-7.9 -0.1-2z"/>
<path fill="#02bbc3" d="M45.1 36l1.2 0 0 0.5 0.4 1 0.1 1.5 0.4 1 0.1 3 0.4 2.5 -0.1 5.5 -0.5-1.1 -0.1-0.9 -0.4-0.6 -0.2-0.9 -0.4-1 -0.1-1 -0.5-1 0-1 -0.3-0.4zM52 36l3.3 0 0.2 3 -0.2 1.5 -0.2 0.2 -1-1.2zM58.2 36l7 0 0.4 1 0.5 2.5 1 8 0.3 6 -0.2 2 -0.1 0.2 -0.5-0.2 -0.5-0.8 -3.5-7.2 -1.6-3.5 0-0.5 -0.4-0.5 -0.7-2 -0.3-0.5zM70.6 36l5.1 0 0.9 1 2 2.5 1.5 2.4 1.5 3.2 1.5 4.3 1 3.7 1 4.8 1.5 10.3 1 10.7 0.2 4.1 0.1 5 -0.2 3 -0.1 0.3 -0.5 0.1 -0.5-0.8 -1-2.6 -10-31.1 -2-6.7 -1.5-5.8 -1-4.7zM86.7 36l6 0 -0.4 1.5 -0.7 0.6 -1-0.1 -1.5-0.6zM107.9 36l43.7 0 1.5 14.3 0.6 9.7 0 4 -0.2 3 -0.4 2.6 -0.6 1.9 -0.9 1.3 -0.5 0.3 -1 0.2 -1-0.1 -1-0.5 -2.5-1.7 -4-3.6 -10-9.9 -6.3-6zM191.3 36l171.3 0 0 32.9 -4.5 10 -4.5 8.9 -5 8.7 -4.7 7 -2.8 3.6 -2.5 2.9 -2.5 2.6 -2.5 2.3 -2.5 2 -2.5 1.7 -2.5 1.5 -3 1.3 -2.5 0.8 -3 0.5 -2.5 0.3 -3-0.1 -3-0.4 -3-0.7 -3-0.9 -3.5-1.4 -5.5-2.7 -6-3.6 -7-4.8 -8-5.9 -12-9.5 -53-43zM49.1 37.2l0.5 0.3 0.5 0.8 1.5 3.3 0.2 0.9 0.3 0.5 0.2 1 0.4 1 0.1 1 0.4 1.5 0.1 1.5 0.4 1.5 0.1 2 0.3 1.5 0.2 3 0.3 2.5 0.3 7 -0.1 1 -0.2 0.8 -1.5-5.6 -0.1-1.2 -0.4-1 -0.1-1 -0.5-1.5 -0.1-1 -0.3-1 -0.2-1.5 -0.4-1 -0.1-1.5 -0.4-1 -0.1-1.5 -0.4-1.5 -0.1-2 -0.4-1.5 -0.1-2.5 -0.4-2zM57.6 48.9l0.5 0.7 1 2.3 1.5 4.7 1.5 6.7 1 6.4 1 8.9 0.5 6.1 0.5 8.3 0.1 5.5 -0.1 3 -0.5-1.4 -0.5-2.6 -4-24.5 -0.6-5 -0.4-1.6 -1.5-11.8 -0.2-4.6zM45.1 51.2l0.2 1.8 0.4 1 0.1 2 0.4 1.5 0.1 2.5 0.4 2 0.1 3.5 0.4 4 0.1 6 -0.2 1.5 -0.1-1.5 -0.4-1.6 -0.2-2.4 -0.4-1.5 -0.1-2 -0.4-1.5 -0.1-2.5 -0.3-0.8zM101.1 56.3l0.5 0.3 1 0.9 1.5 2 1.5 2.4 2 4 1.5 3.6 1.5 4.1 2.5 8.9 2 10 1 7.2 0.5 5 0.4 6.3 0.1 5 -0.4 4 -0.1 0.5 -0.5 0.7 -0.5-0.3 -1-2 -2-6.3 -4-15.4 -5-20.5 -2-9 -1.1-6.2 -0.2-2.5 0-1.5 0.3-1zM49.6 62.8l0.2 1.2 0.3 0.7 0.1 1.3 0.4 1.3 0.1 1.7 0.4 1.5 0.1 2 0.4 1.7 0.1 2.3 0.4 2.1 0.1 2.9 0.4 2.7 1 17.9 0 6 -0.1-2.1 -0.4-1.1 -0.1-2.4 -0.4-2.2 -0.6-7.3 -0.4-2.5 -0.1-3 -0.4-2 -0.1-3 -0.4-2.5 -0.1-3 -0.4-2.1 -0.2-3.9 -0.3-3zM45.1 81.7l0.1 3.8 0.4 3 0.1 4.5 0.4 3.5 0.2 10 -0.2 1.2 -0.1-4.2 -0.4-3 -0.1-4.5 -0.4-2.3zM73.6 91.7l0.2 1.3 0.3 0.9 1 6.8 0.5 4.7 0.5 7 0 2.3 -0.2-1.2 -0.3-0.3 -1.5-12 -0.5-5.2 -0.1-3z"/>
<path fill="#12beb9" d="M45.1 36l1.2 0 0 0.5 0.4 1 0.1 1.5 0.4 1.5 0.1 2.5 0.3 2 0.1 5.5 -0.1 0.4 -0.1-0.4 -0.4-0.7 -0.1-0.8 -0.4-0.7 -0.3-1.3 -0.3-0.5 -0.1-1 -0.4-1 -0.1-1 -0.3-0.5zM52 36l3.3 0 0.2 3 -0.1 1 -0.2 0.5 -0.6-0.4 -0.5-0.7zM58.2 36l7 0 0.4 1.1 0.5 2.5 1 8.4 0.2 5 -0.2 2 0 0.1 -0.5 0 -0.5-0.6 -3-6 -2-4.5 -0.1-0.5 -0.4-0.6 -0.6-1.9 -0.4-0.5zM70.6 36l5 0 2 2.2 2 3 1.5 2.9 1.5 3.8 1.5 5.5 1 4.9 1.5 10.7 1 12.4 0.1 5.1 -0.2 2.5 -0.4 0.8 -0.5-0.4 -1-2.1 -9.5-29 -3.5-12 -1.5-6.8zM86.8 36l5.7 0 -0.4 1.3 -0.5 0.5 -1 0 -1-0.3zM107.9 36l43.5 0 1.2 12 0.6 11 -0.1 4 -0.2 3 -0.4 2 -0.7 2 -0.7 0.9 -0.5 0.4 -0.5 0.3 -1 0.1 -1-0.2 -1-0.5 -2.5-1.6 -4-3.5 -16.2-15.4zM191.6 36l171 0 0 28 -4.5 10 -5 9.9 -5 8.5 -4.8 7.1 -2.7 3.5 -2.5 2.9 -2.5 2.6 -3 2.7 -2.5 2 -2.5 1.6 -2.5 1.4 -3 1.3 -2.5 0.8 -3 0.7 -3 0.2 -3 0 -3-0.4 -3-0.6 -3-0.9 -3.5-1.3 -6-2.8 -6.5-3.8 -7.5-5 -9-6.5 -14-10.9 -44-35 -10.5-8.5zM49.1 37.4l0.5 0.2 1.6 2.9 0 0.5 0.4 0.6 0.2 0.9 0.3 0.6 1.1 4.4 0.1 1.5 0.4 1.5 0.1 2 0.3 1.5 0.1 3 0.4 2.8 0.2 6.2 -0.2 1.8 -0.5-1.3 -1-3.9 -0.1-1.1 -0.4-1 -0.2-1.5 -0.3-0.7 -0.1-1.3 -0.4-1 -0.2-1.5 -0.4-1 -0.1-1.5 -0.4-1 -0.1-1.5 -0.4-1.5 -0.1-2 -0.4-1.5 -0.1-2.5 -0.3-2zM57.6 49.2l0.5 0.6 0.5 1 1.5 4.2 1.5 6 1 5.5 1 7.5 1 11.4 0.5 10.1 0 3.2 -0.2 0.3 -0.3 0.1 -1-5.1 -4.5-27.8 -1.5-12 -0.1-3.7zM45.1 51.3l0.2 1.7 0.4 1 0.1 2 0.4 1.5 0.1 2.5 0.4 2 0.1 3.5 0.4 4 0.1 6 -0.2 1.2 -0.1-1.7 -0.4-1.3 -0.2-2.2 -0.4-1.5 -0.1-2 -0.4-1.5 -0.1-2.5 -0.3-0.9zM101.6 57.6l1 0.7 1.5 1.8 2 3.4 1.5 3.1 2.5 6.4 2.5 8.6 2 9.8 1 7.2 0.5 5.2 0.3 5.2 0 4 -0.3 2.7 -0.5 1.1 -0.5-0.1 -1-1.7 -2-6 -3.5-13 -4.5-18.1 -2-9 -1.1-6.4 -0.2-3.5 0.3-1.3zM49.6 63.2l0.1 0.8 0.4 0.9 0.1 1.1 0.4 1.5 0.1 1.5 0.4 1.6 0.1 1.9 0.4 1.9 0.1 2.1 0.4 2.4 0.1 2.6 0.4 3.1 0.1 3.4 0.4 4.1 0.3 9.9 0 1.5 -0.1 0.5 -0.2 0.2 -0.2-2.7 -0.3-1.7 -0.1-2.3 -0.4-2.4 -0.1-2.6 -0.4-2.3 -0.1-2.7 -0.4-2.3 -0.1-2.7 -0.4-2.4 -0.1-3.1 -0.4-2.5 -0.1-3.5 -0.4-3zM45.1 81.9l0.1 3.6 0.4 3 0.1 4.5 0.4 4 0.1 8.5 -0.1 1.7 -0.1-3.7 -0.4-3 -0.1-4.5 -0.4-2.6z"/>
<path fill="#23c1af" d="M45.1 36l1.1 0 0.1 0.5 0.4 1 0.1 1.5 0.3 1 0.2 3 0.4 2.5 -0.1 5 0 0.2 -0.2-0.7 -0.3-0.3 -0.1-0.7 -0.4-0.8 -0.3-1.2 -0.3-0.5 -0.1-1 -0.4-1 -0.1-1 -0.3-0.5zM52 36l3.2 0 0.2 2.5 -0.1 1.5 -0.2 0.4 -0.5-0.4zM58.2 36l7 0 0.4 1.2 0.5 2.6 0.5 3.6 0.5 5.2 0.1 3.9 -0.1 1.9 -0.5 0.4 -0.5-0.6 -2-3.7 -4-8.9 -0.1-0.6 -0.9-2zM70.6 36l5 0 2.5 3 1.5 2.3 1.5 2.9 1.5 3.9 1 3.5 1 4.4 1.5 9.5 1 10.2 0.2 4.3 0.1 5 -0.3 2.8 -0.5 0.3 -0.5-0.7 -1.5-3.6 -9-27.2 -2-6.7 -1.5-5.8 -1-4.9zM87 36l5.3 0 -0.4 1 -0.3 0.4 -0.5 0.2 -1-0.1zM108 36l43.2 0 1.2 13 0.3 9 -0.1 3.5 -0.3 3 -0.6 2.5 -0.6 1.4 -0.5 0.8 -1 0.7 -1.5 0.2 -2-0.8 -2.5-1.6 -4.5-3.8 -16.1-14.9zM192 36l170.6 0 0 22.8 -5 11.2 -5 9.8 -5 8.5 -5 7.2 -2.7 3.5 -2.8 3.2 -2.8 2.8 -2.7 2.4 -2.7 2.1 -2.8 1.8 -2.5 1.3 -3 1.3 -2.5 0.7 -3 0.6 -3 0.3 -3 0 -3-0.4 -3.5-0.7 -3-0.8 -3.5-1.3 -6-2.7 -7-3.9 -8-5.2 -8.5-6 -16.5-12.5 -32-25 -14.5-11.5zM49.1 37.6l0.5 0.1 1.5 2.8 0.6 2 0.4 0.7 1.1 4.3 0.1 1.5 0.3 1.5 0.1 2 0.4 1.7 0.1 2.8 0.4 3.2 0.1 5.3 -0.1 1.8 -0.5-1.1 -1-3.7 -0.1-1 -0.9-3.3 -0.1-1.2 -0.4-1 -0.2-1.5 -0.3-1 -0.2-1.5 -0.3-1 -0.2-1.5 -0.4-1.5 -0.1-2 -0.4-1.5 -0.1-2.5 -0.3-2zM57.6 49.7l0.5 0.3 0.5 1 1.5 4.2 1.5 6 1 5.5 1 7.7 1 12 0.3 8.6 -0.1 2 -0.2 0.9 -0.5-1.9 -1-5.4 -4-24.6 -1.5-12.3zM45.1 51.4l0.2 1.6 0.3 1 0.2 2 0.4 1.5 0.1 2.5 0.3 2 0.2 3.5 0.3 3.5 0.1 6 -0.1 1.3 -0.2-1.8 -0.3-1 -0.1-2 -0.4-1.2 -0.1-2.3 -0.4-1.5 -0.2-2.5 -0.3-0.9zM102.1 59.1l1 0.7 1 1.2 1.5 2.3 1.5 3 2.5 6.2 2.5 8.4 1 4.4 1 5.3 1 7.5 0.4 5.4 0.1 3.5 -0.1 3 -0.4 2.1 -0.5 0.3 -0.5-0.5 -1-2.1 -1-2.8 -3-10.4 -3.5-13.6 -2.5-10.7 -1.5-7.9 -0.3-3.9 0.3-1.2zM49.6 63.7l0.1 0.8 0.4 0.7 0.2 1.3 0.3 1.2 0.1 1.3 0.4 1.8 0.1 1.7 0.4 2.1 0.1 1.9 0.4 2.7 1 13.6 0.2 8.2 -0.2 2.4 -0.2-2.4 -0.3-1.7 -0.1-2.3 -0.4-2.3 -0.2-2.7 -0.3-2.1 -0.1-2.4 -0.4-2.5 -0.1-2.5 -0.4-2.7 -0.1-2.8 -0.4-2.7 -0.1-3.3 -0.4-3.4zM45.1 82.2l0.1 3.3 0.4 3 0.1 4.5 0.4 4.1 0 9.4 -0.1-4 -0.4-2.4 -0.1-4.1 -0.4-2.9z"/>
<path fill="#2ec4a4" d="M45.1 36l1.1 0 0.1 0.5 0.4 1 0.1 1.5 0.4 1.5 0.1 2.5 0.3 2 0 5 0 0.5 -0.1-0.5 -0.4-0.4 -0.1-0.6 -0.9-2.5 -0.2-1 -0.4-1 -0.1-1 -0.3-0.5zM52 36l3.2 0 0.2 2.5 -0.2 1.5 -0.1 0.2 -0.5-0.3zM58.3 36l6.9 0 0.9 4 0.5 3.7 0.5 5.9 0 3.9 -0.5 0.8 -0.5-0.4 -1.5-2.5 -4.5-9.8 -0.1-0.6 -0.9-2zM70.7 36l4.8 0 0.6 0.6 2 2.5 1.5 2.3 1.5 3 1.5 4 1 3.5 1 4.5 1.5 10 1 12 0.1 4.6 -0.3 2.5 -0.3 0.9 -0.5-0.2 -0.5-0.8 -1-2.3 -8-23.6 -2.5-8 -1.5-5.5 -1.5-7.1zM87.2 36l4.9 0 -0.2 0.5 -0.3 0.5 -1 0.3 -1.5-0.3zM108.1 36l42.9 0 1 12 0.2 8.5 -0.1 3.5 -0.4 3 -0.5 2 -0.6 1.6 -0.6 0.9 -0.9 0.7 -1.5 0.3 -2-0.5 -3-1.9 -4.5-3.7 -13.8-12.4zM192.4 36l170.2 0 0 17.5 -5 11.3 -5 9.8 -5 8.6 -5.3 7.8 -2.7 3.4 -3 3.4 -2.5 2.6 -2.9 2.6 -2.6 2.1 -3 2 -2.6 1.4 -2.9 1.3 -3 0.9 -3 0.7 -3 0.3 -3 0.1 -3-0.3 -3.5-0.6 -3-0.7 -3.5-1.2 -6.5-2.7 -7.5-4 -8.5-5.3 -9.5-6.6 -15.5-11.4 -25.5-19.5 -18-14zM49.6 37.8l1 1.6 1 2.3 1 3.3 0.5 2.5 0.1 1.5 0.4 1.5 0.1 2 0.4 1.9 0.5 6.4 0.1 4.7 -0.2 1 -0.4-0.6 -1.5-5.7 -0.6-3.2 -0.4-1.1 -0.1-1.4 -0.4-1 -0.1-1.5 -0.4-1 -0.1-1.5 -0.4-1.5 -0.2-2 -0.3-1.5 -0.1-2.5 -0.4-2.5 0-1.6zM58.1 50.3l1 2.1 1.5 4.7 1 4.3 1 5.6 1 7.9 0.5 5.4 0.6 10.2 0 4 -0.2 1.5 -0.4-0.9 -1-5 -4-24.3 -1-7.6 -0.5-5.2 0-2.7zM45.1 51.4l0.1 1.6 0.4 1 0.2 2 0.3 1.5 0.2 2.5 0.3 2 0.1 3.5 0.4 3.5 0 6.9 -0.1-1.4 -0.4-1.2 -0.1-1.8 -0.4-1.4 -0.1-2.1 -0.4-1.5 -0.2-2.5 -0.3-1.1zM102.6 60.8l0.5 0.2 0.5 0.4 1 1.3 1 1.6 1.5 2.9 2.5 6.4 2 6.8 1 4.4 1 5.5 0.9 7.7 0.3 6.5 -0.2 1.9 -0.5 1.2 -0.5-0.2 -0.5-0.7 -1-2.2 -1-2.9 -2.5-8.5 -3-11.5 -2.5-10.9 -1-5.7 -0.1-3 0.1-0.7zM49.6 64.4l0.1 0.6 0.4 0.5 0.2 1.5 0.3 1 1 6.9 0.1 2.1 0.4 2.5 1 14.2 0.1 6.3 -0.1 2.3 -0.2-2.3 -0.3-1.3 -0.2-2.7 -0.3-1.8 -0.6-6.7 -0.4-2.9 -0.1-2.6 -0.4-2.5 -0.1-2.5 -0.4-3.1 -0.1-2.9 -0.4-4.2zM45.1 82.5l0.1 3 0.4 3.3 0.1 4.2 0.4 4.8 0 7.9 -0.1-4.2 -0.4-1.9 -0.1-3.6 -0.4-3.3z"/>
<path fill="#36c899" d="M45.1 36l1.1 0 0.5 1.5 0.1 1.5 0.4 1.5 0.1 2.5 0.3 2.2 0 4.8 0 0.2 -0.5-0.7 -0.7-2.5 -0.3-0.5 -0.1-1 -0.4-0.7 -0.2-1.3 -0.3-0.5zM52 36l3.2 0 0.1 2.5 -0.2 1.5 -0.5-0.2 -0.5-0.6zM58.3 36l6.9 0 0.4 1.5 0.5 2.7 0.5 3.8 0.5 7 -0.1 1.5 -0.2 1 -0.2 0.4 -0.5-0.3 -0.5-0.6 -2-3.8 -3.5-7.7 -1-2.6zM70.8 36l4.6 0 0.7 0.7 1.5 1.8 2 3 1.5 3 1.5 4.1 1 3.6 1 4.6 1.5 10.6 0.5 5.5 0.3 5.6 0 3.5 -0.3 2.3 -0.5 0.5 -0.5-0.5 -1.5-3.2 -7.5-21.8 -2-6.3 -2-7.2 -1-4.5zM87.4 36l4.5 0 -0.3 0.5 -0.5 0.4 -1 0.1 -1-0.2zM108.2 36l42.6 0 0.8 10.9 0.1 8.1 -0.1 3 -0.4 3 -0.6 2.5 -0.6 1.5 -0.7 1 -0.7 0.6 -1.5 0.4 -1-0.1 -1.5-0.5 -3-1.8 -4.5-3.6 -13.7-12zM192.9 36l169.7 0 0 12 -5 11.3 -5 10 -5.5 9.4 -5.5 8 -2.6 3.3 -2.9 3.4 -2.6 2.6 -2.9 2.7 -2.9 2.3 -2.6 1.7 -3 1.7 -3 1.4 -3 1 -3 0.7 -3 0.4 -3 0.1 -3-0.1 -3.5-0.5 -3.5-0.8 -3.5-1.1 -7-2.8 -7.5-3.8 -8.5-5.1 -9.5-6.3 -14-10 -21.5-16 -19-14.5zM49.6 37.9l0.5 0.6 1 2 1 2.8 1 4.1 0.1 1.6 0.4 1.4 0.1 2.1 0.4 2.2 0.5 6.8 0 4.4 -0.5-0.3 -2-7.6 -0.1-1 -0.4-1.2 -0.1-1.3 -0.4-1 -0.1-1.5 -0.4-1 -0.2-2 -0.3-1 -0.1-2 -0.4-1.5 -0.1-2.5 -0.4-2.9 0.2-1.1zM58.1 50.6l1 1.9 1.5 4.8 1 4.3 1 5.7 1 8.1 0.5 5.8 0.5 9.8 0 2.2 -0.4 0.8 -0.1 0.1 -0.5-2 -1-5.3 -3.5-21.3 -1-7.7 -0.4-5.3 0-1.5zM45.1 51.5l0.1 1.5 0.4 1 0.1 2 0.4 1.5 0.1 2.5 0.4 2 0.1 3.5 0.4 3.5 0 6.4 -0.1-1.4 -0.4-0.9 -0.1-1.6 -0.4-1.6 -0.1-1.9 -0.4-1.5 -0.2-2.5 -0.3-1.2zM103.6 63.1l1 0.9 1 1.5 2 4 2 5.4 1.5 5.3 1.5 7.2 1 7.6 0.1 5.5 -0.1 1 -0.5 0.9 -0.5-0.3 -0.5-0.7 -1-2.3 -1-2.9 -2.5-8.5 -2.5-9.8 -1.5-6.8 -0.7-4.6 -0.1-2.5 0.3-0.9zM50.1 65.8l1 5.6 1 8.5 1 15.1 0 5.8 -0.2-1.8 -0.3-1 -0.2-2.5 -0.3-1.7 -2-20.3 -0.3-7 0.1-0.5zM45.1 82.9l0.1 3.1 0.4 3.3 0.3 8.2 0.2 1.2 0 5.9 -0.2-4.6 0-0.5 -0.3-0.4 -0.1-3.1 -0.4-3.7z"/>
<path fill="#42ca8c" d="M45.1 36l1.1 0 0.4 1.5 0.2 1.5 0.4 1.5 0 2.5 0.4 2.5 0 4 0 0.3 -0.5-0.5 -0.2-0.8 -0.3-0.5 -0.2-1 -0.3-0.5 -0.1-1 -0.4-0.8 -0.2-1.2 -0.3-0.6zM52.1 36l3.1 0 0 3.5 -0.1 0.3 -0.5-0.1 -0.5-0.6zM58.3 36l6.8 0 1 4.4 0.5 4.1 0.3 6 -0.2 2.5 -0.1 0.3 -0.5 0 -0.5-0.6 -2-3.6 -3.5-7.6 -1-2.7zM70.9 36l4.4 0 0.3 0.3 2 2.3 1.5 2.2 1.5 2.8 1.5 3.7 1 3.3 1 4.2 1.5 9.3 0.5 4.6 0.5 7.4 0 4.4 -0.3 2 -0.2 0.5 -0.5 0 -0.5-0.6 -1-2 -2.5-6.7 -5-14.6 -2.5-8 -1.5-5.5 -1-4.5zM87.6 36l4 0 -0.5 0.5 -0.5 0.2 -1 0zM108.4 36l42.2 0 0.6 10 0 8 -0.2 3 -0.4 2.9 -0.5 1.9 -0.7 1.7 -0.8 1 -0.5 0.5 -1 0.4 -1 0.1 -1-0.1 -1.5-0.6 -3-1.7 -6-4.7zM193.4 36l169.2 0 0 6.3 -5 11.4 -4 8.1 -4 7.3 -4 6.6 -4.5 6.4 -2.6 3.4 -2.9 3.3 -3 3.1 -2.9 2.6 -2.6 2.1 -3 2.1 -3 1.7 -3 1.4 -3 1 -3 0.8 -3 0.4 -3.5 0.2 -3-0.1 -3.5-0.4 -3.5-0.7 -3.5-1 -7-2.6 -8-3.9 -9-5.1 -10-6.5 -15-10.4 -18.5-13.5 -18-13.6zM49.6 38l1 1.5 1 2.4 1 3.3 0.2 1.3 0.3 1 1 7.5 0.5 8 0 1.5 -0.2 0.5 -0.3 0.2 -1-3.3 -1.5-6.2 -0.1-1.2 -0.4-1.1 -0.1-1.4 -0.4-1.2 -0.2-1.8 -0.3-1 -0.1-2 -0.4-1.5 -0.4-5 0-1zM58.1 50.9l1 1.9 1.5 4.7 1 4.4 1 5.8 1 8.4 0.5 6.2 0.3 7.7 -0.3 2.7 -0.5-1.5 -1-4.9 -3.5-21.1 -1-7.8 -0.3-4.9 0.1-1zM45.1 51.6l0.1 1.4 0.4 1.2 0.1 1.8 0.4 1.5 0.1 2.5 0.4 2.1 0.1 3.4 0.4 4.1 0 5.1 -0.2-1.2 -0.3-0.7 -0.2-1.8 -0.3-1.3 -0.1-1.7 -0.4-1.6 -0.2-2.4 -0.3-1.3zM104.1 66l0.5 0 0.5 0.5 1 1.5 1 1.9 1.5 3.8 1.5 4.9 1 4.2 1 6.2 0.4 5 -0.1 1.5 -0.3 0.9 -0.5-0.1 -0.5-0.7 -1-2.2 -1.5-4.5 -2-7.1 -1.5-6.1 -1-5.1 -0.3-3.1 0.1-1zM50.1 66.2l1 5.5 1 8.7 0.5 6.3 0.3 8.3 0 1.5 -0.3 0.7 -1.5-13.3 -1-10.9 -0.2-5.5zM45.1 83.3l0.2 4.2 0.3 2.3 0.2 7.2 -0.2 1.4 -0.2-4.4 -0.3-2.3z"/>
<path fill="#53cc7e" d="M45.1 36l1.1 0 0.4 1.5 0.1 1.5 0.4 1.5 0.1 2.5 0.4 2.9 0 3.1 0 0.4 -0.5-0.2 -0.2-0.7 -0.3-0.6 -0.2-0.9 -0.3-0.6 -0.1-0.9 -0.4-0.8 -0.1-1.2 -0.4-0.7zM52.1 36l3.1 0 0 2 -0.1 1.5 -0.5 0 -0.5-0.5zM58.3 36l6.8 0 1 4.7 0.5 4.3 0.2 5 -0.2 2.5 -0.5 0.4 -0.5-0.5 -2-3.4 -3.5-7.6 -1-2.7zM71 36l4.2 0 0.9 0.9 2 2.5 1.5 2.4 1.5 3.1 1 2.7 1 3.3 1 4.4 1 5.9 0.5 4 0.7 9.3 0 3.5 -0.2 2.6 -0.5 0.9 -0.5-0.3 -1-1.7 -2.5-6.3 -4-11.4 -2.5-7.6 -2-6.9 -1.5-6.6zM88 36l3.2 0 -0.6 0.4 -0.5 0.1 -1-0.1zM108.5 36l41.8 0 0.5 9.5 -0.1 7.5 -0.6 5.1 -0.5 1.9 -0.9 2 -0.6 0.9 -0.7 0.6 -0.8 0.4 -1 0.1 -1 0 -1.5-0.5 -3-1.6 -3-2.1 -3.5-2.7zM193.9 36l168.7 0 0 0.3 -1 2.4 -3.5 8.1 -3 6.3 -3 5.9 -5.5 9.5 -3 4.7 -3.1 4.3 -2.9 3.7 -2.9 3.3 -2.6 2.7 -3 2.8 -3 2.4 -3 2.1 -3 1.7 -3 1.5 -3 1.1 -3 0.8 -3 0.5 -3.5 0.3 -3.5 0 -3.5-0.4 -3.5-0.6 -3.5-0.9 -7-2.4 -8-3.7 -9-4.9 -10.5-6.5 -13.5-9.1 -17.5-12.4 -17-12.5zM49.6 38.1l1 1.5 1 2.3 1 3.4 0.5 2.4 1 7.6 0.4 7.7 -0.1 1 -0.3 0.8 -0.5-1.3 -1.5-5.8 -2-9.9 -0.1-1.8 -0.4-1.7 -0.3-4.8 0-1zM58.1 51.4l0.5 0.6 0.5 1 1.5 4.8 1 4.4 1 5.9 1 8.8 0.5 7 0 6.9 -0.5-0.6 -1-4.5 -3-17.5 -1.5-11.4 -0.2-3.8zM45.1 51.7l0.1 1.3 0.4 1.3 0.1 1.7 0.4 1.6 0.1 2.4 0.4 2.4 0.1 3.1 0.4 5 0 3.2 -0.1-0.7 -0.4-0.5 -0.1-1.5 -0.4-1.5 -0.1-1.5 -0.4-1.8 -0.1-2.2 -0.4-1.5zM50.1 66.8l1 5.2 1 8.9 0.5 6.7 0.2 6.4 -0.2 2.1 -1-7.9 -1-9.9 -0.5-5.9 -0.1-4.4zM105.6 70.6l0.5 0.2 1 1.7 1 2.4 1 3.2 1 4.4 0.4 2.5 0.2 2.5 -0.2 1 -0.4 0.2 -1-1.8 -2-6.3 -1.5-6.7 -0.2-2.4zM45.1 83.9l0.2 5.1 0.3 1.5 0 7.1 -0.2-5.1 -0.1-1 -0.2-0.4z"/>
<path fill="#65cd6e" d="M45.1 36l1.1 0 0.4 1.5 0.1 1.5 0.4 1.5 0.1 2.5 0.4 3.5 0 2.2 -0.5 0.3 -1.5-4.4 -0.1-1.1 -0.4-0.8zM52.1 36l3.1 0 -0.1 3 0 0.2 -0.5 0.2 -0.5-0.5zM58.4 36l6.7 0 1 5 0.5 4.7 0.1 3.8 -0.1 2.3 -0.5 0.6 -0.5-0.3 -2-3.3 -3.5-7.5 -1-2.7zM71.1 36l3.9 0 1.1 1.1 2 2.4 1.5 2.5 1.5 3.1 1 2.8 1 3.4 1 4.5 1 6.4 0.5 4.3 0.5 8.5 -0.1 2.5 -0.4 2 -0.5 0.3 -0.5-0.5 -1.5-2.8 -2.5-6.5 -4-11.4 -2.5-8 -1.5-5.6 -1-4.7zM88.5 36l2.1 0 -1 0.2zM108.6 36l41.4 0 0.4 9 -0.2 7 -0.8 5 -0.6 2 -0.7 1.5 -0.8 1 -0.7 0.6 -1 0.4 -1 0.1 -1-0.1 -1.5-0.5 -3-1.5 -3-2.1 -4.5-3.4zM194.5 36l165.7 0 -5.1 11.1 -5.5 10.6 -5.5 9 -5.5 7.8 -2.9 3.5 -2.7 3 -2.9 2.9 -3 2.7 -3 2.3 -3 2 -3 1.6 -3 1.4 -3 1.1 -3 0.8 -3 0.5 -3.5 0.3 -3.5 0 -3.5-0.4 -3.5-0.5 -3.5-0.9 -3.5-1 -4-1.4 -8-3.6 -9-4.7 -10-6 -14-9.1 -16-11.1 -16.5-11.9zM49.6 38.3l1 1.4 1 2.3 1 3.4 0.5 2.4 1 7.9 0.3 6.3 -0.1 1.5 -0.2 0.8 -1-2.8 -1-3.9 -2-9.9 -0.1-1.7 -0.4-1.9 -0.3-4.1 0-1zM45.1 51.9l0.1 1.1 0.4 1.4 0.1 1.6 0.4 1.8 0.1 2.2 0.4 2.7 0.4 8.3 -0.1 1 -0.3 0.1 -0.2-1.6 -0.3-1.2 -0.1-1.8 -0.4-1.5 -0.1-2 -0.4-1.7zM58.1 52.1l0.5 0.2 0.5 1 1.5 4.7 1 4.5 1 6.1 1 9.3 0.3 5.6 0.1 4 -0.4 1.4 -0.5-1.6 -1-4.9 -2.5-14.6 -1.5-11.7zM50.1 67.5l0.3 1.5 0.2 0.4 0.5 3.1 1 9 0.5 7.4 0 5.7 -1-7.1 -1-9.7 -0.5-6.2zM45.1 84.6l0.1 4.4 -0.1 1.3z"/>
<path fill="#79cc5e" d="M45.1 36l1.1 0 0.4 1.6 0.1 1.4 0.4 2 0.5 6 -0.1 1.5 -0.4 0.3 -0.5-1.1 -0.6-2.2 -0.4-1 -0.1-1 -0.4-0.8zM52.1 36l3 0 0 2.8 -0.5 0.4 -0.5-0.4zM58.4 36l6.7 0 1 5.4 0.5 5.5 -0.1 4.1 -0.4 0.9 -0.5-0.2 -1-1.3 -1-1.8 -3.5-7.4 -1-2.7zM71.2 36l3.6 0 0.8 0.7 2 2.3 1.5 2.3 1.5 2.9 1 2.5 1 3.2 1 4 1 5.7 0.5 3.8 0.5 5.6 0.1 3.5 0 3.5 -0.3 1.5 -0.3 0.5 -0.5 0 -0.5-0.5 -1-1.8 -2.5-6.2 -3.5-9.8 -2.5-7.7 -2-7.3 -1-4.8zM108.8 36l40.9 0 0.2 8.5 -0.3 6.5 -0.7 4.5 -0.7 2 -0.6 1.3 -0.5 0.8 -1 0.9 -1 0.5 -1 0.1 -1 0 -1.5-0.4 -1.5-0.6 -2-1.1 -4-2.7 -5-3.8zM195.2 36l162.2 0 -5.3 10.9 -5 9.1 -5.4 8.5 -5.3 7 -2.8 3.3 -3 3.2 -2.6 2.5 -2.9 2.5 -3 2.2 -3 1.9 -3 1.6 -3 1.4 -3 1 -3 0.8 -3 0.5 -3.5 0.3 -3.5 0 -3.5-0.3 -3.5-0.5 -3.5-0.7 -3.5-1 -4-1.4 -8-3.3 -9-4.5 -10.5-6 -12.5-7.9 -15-10.1 -15.5-11zM49.6 38.4l0.5 0.5 0.5 0.9 1 2.3 1 3.4 0.5 2.5 1 8.3 0.2 5.2 -0.2 2.2 -0.5-0.9 -1-3.4 -2-9 -1-6.5 -0.2-4.4zM45.1 52l1 6 0.1 2 0.4 3 0.3 7 -0.1 1 -0.2 0.7 -0.2-1.7 -0.3-0.9 -0.2-2.1 -0.3-1.2 -0.1-1.8 -0.4-1.8zM58.6 52.8l1 2.2 1 3.4 1 4.5 1 6.3 1 10.2 0.2 5.6 -0.2 2 -0.5-0.8 -1-4.4 -1.5-8.3 -1.5-9.5 -1-9.3 0-1.3 0.1-0.4zM50.6 70l1 7 0.5 5.4 0.3 7.1 -0.1 1 -0.2 0.2 -1.5-13.6 -0.4-6.6 0.2-0.5z"/>
<path fill="#8fcb4e" d="M45.1 36l1 0 0.5 1.7 0.1 1.3 0.4 1.7 0.3 5.3 0.1 1.5 -0.3 1 -0.1 0.1 -0.5-1 -1-3.1 -0.1-1 -0.4-0.9zM52.2 36l2.9 0 -0.1 2.5 -0.4 0.5 -0.5-0.3zM58.4 36l6.6 0 0.6 2.5 0.5 3.3 0.3 3.2 0.1 4 -0.3 2 -0.1 0.3 -0.5 0 -0.5-0.5 -2-3.3 -3-6.4 -1-2.7zM71.4 36l3.3 0 1.4 1.4 1.5 1.8 1.5 2.3 1.5 3 1 2.5 1.5 5.3 1.5 8.4 0.5 4.5 0.3 4.8 0 3.5 -0.3 2.2 -0.5 0.7 -0.5-0.2 -0.5-0.6 -1-1.9 -2.5-6 -3-8.3 -2.5-7.7 -2-7.4 -1-5zM109 36l40.4 0 0 7.5 -0.3 5.9 -0.8 4.6 -0.7 2 -0.5 1.1 -0.6 0.9 -0.9 0.9 -1 0.6 -1 0.2 -1 0 -1.5-0.3 -1.5-0.5 -2-1 -3.5-2.2 -5-3.6 -13.5-10.6zM196 36l158.4 0 -4.8 9.3 -5 8.6 -5 7.6 -5.5 7 -2.6 3 -3 3 -2.9 2.7 -3 2.4 -3 2.1 -3 1.8 -3 1.6 -3 1.2 -3 1 -3 0.7 -3 0.5 -3.5 0.3 -3.5 0 -3.5-0.2 -3.5-0.5 -3.5-0.8 -7.5-2.2 -8-3.1 -9-4.4 -10-5.5 -12.5-7.6 -14.5-9.5 -14.5-10.1zM49.6 38.7l0.5 0.4 0.5 0.8 1 2.3 1 3.5 0.5 2.5 0.5 3.4 0.5 5.3 0 6 -0.5-0.5 -0.5-1.4 -1.5-5.9 -1-4.8 -1-6.7 -0.2-3.6zM45.1 52.2l1 6.1 0.1 2.2 0.4 2.9 0.2 6.1 -0.2 1.7 -1.5-9.2zM58.6 53.3l0.5 0.8 0.5 1.2 1 3.4 1.5 7.6 1 8.2 0.4 6 0 3.5 -0.1 0.5 -0.3 0.4 -0.5-1.6 -1-4.8 -2.5-15.1 -0.5-3.9 -0.3-4 0.1-1.5zM50.6 70.8l1 7 0.5 5.8 0 5.7 -0.2-2.3 -0.3-1.1 -1-9.7 -0.1-4.2z"/>
<path fill="#a3c83f" d="M45.1 36l1 0 0.2 1 0.3 0.8 0.1 1.2 0.4 2 0.3 5.5 -0.1 1.5 -0.2 0.4 -0.5-1 -1-3 -0.1-0.9 -0.4-1zM52.3 36l2.8 0 -0.1 2 -0.4 0.8 -0.5-0.2zM58.5 36l6.5 0 0.6 2.8 0.5 3.6 0.3 5.1 -0.3 3 -0.5 0.4 -0.5-0.4 -2-3.2 -3-6.3 -1-2.7zM71.6 36l2.8 0 1.7 1.5 1.5 1.9 1.5 2.3 1.5 3.1 1 2.6 1 3.4 1 4.6 1 6.8 0.5 7.8 -0.1 2.5 -0.4 1.8 -0.5 0.4 -0.5-0.4 -1.5-2.5 -2.5-6 -3-8.3 -2.5-7.8 -1.5-5.8 -1-5.4zM109.2 36l39.8 0 0 6.5 -0.4 5.5 -0.9 4.5 -1.1 3 -1 1.3 -0.8 0.7 -1.2 0.6 -1 0.2 -1 0 -1.5-0.3 -1.5-0.5 -2-1 -4-2.4 -5-3.6 -11-8.5zM196.8 36l154.2 0 -4.4 8.2 -5 8.1 -5 7.1 -5 6.1 -5.5 5.6 -3 2.7 -2.9 2.2 -2.6 1.8 -3 1.8 -3 1.5 -3 1.2 -3 1 -3 0.7 -3 0.5 -3.5 0.4 -3.5 0 -3.5-0.2 -3.5-0.4 -3.5-0.7 -7.5-2 -8-3 -9-4.1 -9.5-5 -12-7 -13.5-8.6 -14-9.4zM49.6 38.9l0.5 0.3 0.5 0.8 1 2.4 1 3.5 0.5 2.5 0.5 3.5 0.5 6.1 0 3.7 -0.5 0.3 -0.5-1.4 -1.5-5.7 -1-4.8 -1-6.8 -0.1-3.3zM45.1 52.3l1 6.2 0.5 5.4 0.1 5.1 -0.1 1.7 -0.1-1.2 -0.4-1.1 -0.2-1.9 -0.3-1.2 -0.1-1.8 -0.4-1.8zM58.6 54.2l0.5 0.4 1 2.7 1 4 1 5.6 1 9.1 0.2 4.5 -0.2 2.6 -0.5-1 -1-4.3 -2-11.5 -1-7.8 -0.1-3zM50.6 72.2l0.1 1.8 0.2 0.5 0.2 0.1 0.2 2.9 0.3 1.4 0.2 4.6 -0.2 1.1 -0.2-3.1 -0.3-1.1 -0.3-4.9 -0.2-0.8z"/>
<path fill="#b6c532" d="M45.1 36l1 0 0.2 1 0.3 0.9 0.5 3.6 0.2 5 -0.1 1.5 -0.1 0.1 -0.5-0.9 -1.5-4.8zM52.3 36l2.8 0 -0.1 1.5 -0.3 1 -0.6-0.1 -0.5-0.5zM58.5 36l6.4 0 0.7 3.2 0.5 4 0.2 3.8 -0.2 2.6 -0.5 0.7 -0.5-0.2 -1.5-2.1 -3-6 -1.5-3.8zM71.9 36l2.3 0 1.9 1.8 1.5 1.8 1.5 2.4 2 4.4 1.5 5 1 4.9 0.5 3.4 0.6 7.3 -0.1 3.5 -0.2 1.5 -0.3 0.7 -0.5 0.2 -0.5-0.4 -1-1.6 -2.5-5.7 -3-8.1 -2.5-7.8 -1.5-5.8 -0.8-5 -0.1-1.5zM109.4 36l39.2 0 -0.2 6 -0.4 5 -0.9 4.1 -1.2 2.9 -0.8 1.2 -0.9 0.8 -1.1 0.6 -1 0.2 -1 0.1 -1.5-0.2 -1.5-0.5 -2-0.8 -4-2.3 -6-4.2 -10.5-7.9zM197.8 36l149.6 0 -4.3 7.4 -4.5 6.9 -4.6 6.2 -4.9 5.7 -5.5 5.4 -5.5 4.4 -3 2 -3 1.7 -3 1.5 -3 1.2 -3 0.9 -3 0.7 -3 0.6 -3.5 0.3 -3.5 0.1 -3.5-0.2 -3.5-0.4 -3.5-0.6 -7.5-1.9 -8-2.9 -8.5-3.7 -9.5-4.7 -11.5-6.5 -12.5-7.6 -13-8.6zM49.6 39.2l0.5 0.2 0.5 0.8 1 2.3 1 3.5 0.5 2.7 0.5 3.7 0.4 6.1 0 2 -0.4 0.9 -0.5-1.1 -1-3.6 -1.5-6.8 -1-6.9zM45.1 52.5l1 6.3 0.5 5.8 0 5.3 -0.2-1.4 -0.3-0.5 -1-6.6zM59.1 55.3l0.5 1 1 3.4 1 4.8 0.5 3.3 0.5 4.2 0.4 5.5 0 2 -0.4 1.1 -0.5-1.5 -1-4.7 -2-12.4 -0.5-5.5 0.2-1z"/>
<path fill="#c8c129" d="M45.1 36l1 0 0.5 2 0.5 3.3 0.2 4.7 -0.1 1.5 -0.1 0.3 -0.5-0.7 -1.5-4.8zM52.4 36l2.6 0 -0.3 2 -0.1 0.3 -0.5-0.1 -1-1.1zM58.5 36l6.3 0 0.8 3.6 0.5 4.4 0 3.5 -0.2 1.5 -0.3 0.7 -0.5-0.1 -1-1.1 -1-1.6 -1.5-2.9 -1.5-3.3 -1-2.7zM72.2 36l1.5 0 0.4 0.2 1.5 1.3 1.5 1.7 1.5 2.2 1 1.9 1 2.2 1 2.9 1.5 6.2 1 7.4 0.2 6 -0.2 1.9 -0.5 1.1 -0.5 0 -0.5-0.5 -1-1.5 -1-2.1 -2.5-6.1 -2.5-7.1 -2-6.7 -1-4.1 -0.5-2.8 -0.2-2.1 0.1-1.5zM109.6 36l38.5 0 -0.2 5.5 -0.6 4.5 -0.8 3.5 -1.2 3 -0.7 1 -1.1 1 -0.9 0.5 -1.5 0.4 -1 0.1 -1.5-0.2 -1.5-0.5 -2-0.8 -4-2.2 -5-3.3 -9.5-7zM198.9 36l144.5 0 -4.3 6.9 -4 5.7 -4.5 5.7 -4.5 4.9 -5.5 5.1 -5.5 4.2 -3 1.9 -3 1.6 -3 1.4 -3 1.1 -3 0.9 -3 0.7 -3 0.5 -3.5 0.3 -6.5-0.1 -7-0.9 -7.5-1.8 -8-2.6 -8.5-3.6 -9-4.3 -10.5-5.6 -12-7.1 -12.4-7.9zM50.1 39.6l0.5 0.7 1 2.4 1 3.6 0.5 2.7 0.5 3.9 0.3 4.6 -0.1 2.5 -0.2 0.8 -0.1-0.3 -0.4-0.7 -1-3.3 -1-4.3 -1-5.5 -0.5-4.3 0-1.9 0-0.8zM45.1 52.8l1 6.4 0.5 6.5 0 3 -0.1-0.7 -0.4-0.4 -1-6.5zM59.1 56.3l0.5 0.7 0.5 1.5 1 4.1 0.5 2.8 0.5 3.5 0.5 5.3 0 3.8 -0.5-0.4 -0.5-1.8 -1.5-7.8 -1-7.2 -0.2-3.3z"/>
<path fill="#d9be28" d="M45.1 36l0.9 0 0.6 2.1 0.5 3.5 0.1 5.4 -0.1 0.4 -0.5-0.6 -1.5-4.6zM52.4 36l2.5 0 -0.3 2 -0.5 0 -0.5-0.4zM58.6 36l6.2 0 0.8 4.2 0.3 3.8 0.1 3 -0.4 1.9 -0.5 0.2 -0.5-0.3 -1-1.3 -1-1.7 -2.5-5.3zM73.1 36.2l1 0.3 1.5 1.3 1.5 1.7 1 1.4 2 3.9 1.5 4.3 1 4.1 0.5 2.7 0.6 5.1 0.1 5.5 -0.2 1.8 -0.5 0.8 -0.5-0.1 -0.5-0.4 -1-1.6 -1-2.1 -3-7.4 -2.5-7.5 -1.5-5.5 -0.9-5.5 0-2 0.4-0.7zM109.9 36l37.7 0 -0.4 5.5 -0.6 3.8 -0.9 3.2 -1.1 2.5 -1 1.3 -0.8 0.7 -1.2 0.7 -1 0.3 -1 0 -1.5-0.1 -1.5-0.3 -2-0.8 -4.5-2.3 -5.5-3.6 -7.5-5.4zM200.2 36l138.8 0 -3.9 5.8 -4 5.3 -4.2 4.9 -4.3 4.4 -5.5 4.8 -5.5 3.9 -5.5 3 -3 1.3 -3 1.1 -6 1.5 -6 0.7 -6.5 0.1 -7-0.8 -7-1.5 -8-2.5 -8-3 -9-4.1 -10.5-5.4 -10.5-5.9 -11.5-7.1zM50.1 39.8l0.5 0.7 1 2.3 1 3.7 0.5 2.8 0.5 4.3 0.1 3.4 -0.1 2.9 -0.3-0.4 -0.2-0.1 -0.5-1.5 -1-3.8 -1.5-7.8 -0.5-5.3 0.2-1zM45.1 53.1l1 6.6 0.3 5.8 0 1 -0.3 0.5 -1-6.3zM59.6 58.1l1 3.1 1 5.4 0.5 4.4 0.1 3 -0.1 1.4 -0.5-1.1 -0.5-2 -1.5-8.8 -0.3-4.5 0-0.5z"/>
<path fill="#e7bb2e" d="M45.1 36l0.9 0 0.6 2.3 0.5 3.7 0 4.5 0 0.4 -0.5-0.3 -1.5-4.5zM52.5 36l2.3 0 -0.2 1.5 -0.5 0.3 -0.5-0.3zM58.6 36l6.1 0 0.4 1.6 0.6 4.4 0.1 3.5 -0.2 2.5 -0.5 0.5 -0.5-0.2 -1-1.2 -1-1.6 -2.5-5.2zM110.2 36l36.8 0 -0.4 4.2 -0.7 3.8 -0.8 3 -1.2 2.5 -0.8 1.1 -1 0.9 -1 0.6 -1.5 0.4 -2.5 0 -1.5-0.4 -2-0.7 -4-1.9 -5.5-3.4 -8-5.6zM201.7 36l132.4 0 -3.7 5 -3.8 4.6 -3.6 3.9 -3.9 3.7 -5.2 4.3 -5.3 3.6 -5.5 2.9 -3 1.3 -3 1 -6 1.5 -6 0.8 -6.5 0 -6.5-0.6 -7-1.4 -7.5-2.1 -8-2.8 -8.5-3.6 -9.5-4.6 -10-5.4 -10.4-6.1zM73.1 36.7l1 0.2 1 0.7 1 1 1.5 1.9 2 3.7 1.5 3.9 1.5 6.4 0.7 5.5 0.1 3 -0.1 2 -0.2 1.5 -0.5 0.6 -0.5-0.1 -0.5-0.5 -1-1.5 -1-2 -2.5-6.2 -2-5.7 -1.5-5.3 -1-4.7 -0.2-3.1 0.2-0.9zM50.1 40.1l0.5 0.6 1 2.3 1 3.8 0.5 3 0.5 4.9 0 3.9 -0.5 0.2 -0.5-1.3 -1-3.7 -1-4.7 -0.5-3.1 -0.3-4 0-1zM45.1 53.5l0.5 2.7 0.5 4.1 0.2 4.2 -0.2 1.8 -1-6zM60.1 60.8l1 4.3 0.5 3.9 0 2.6 -0.1-0.6 -0.4-0.5 -1-5.2 -0.3-3.8 0-0.5z"/>
<path fill="#f4ba3a" d="M45.1 36l0.8 0 0.7 2.5 0.5 4.1 0 3.4 0 0.3 -0.5 0 -0.5-1.1 -1-3.3zM52.5 36l2.2 0 -0.1 1.1 -0.5 0.5 -0.5-0.3zM58.7 36l5.9 0 0.5 2.1 0.5 4 0.1 3.4 -0.2 1.5 -0.4 0.8 -0.5 0 -0.5-0.4 -1-1.4 -2.5-4.7 -1-2.4zM110.6 36l35.7 0 -0.5 4 -0.7 3.3 -0.9 2.7 -1.1 2 -1 1.3 -0.8 0.7 -1.2 0.7 -1 0.3 -2.5 0.1 -1.5-0.3 -2-0.6 -4-1.8 -5-2.9 -6-4zM203.5 36l125.1 0 -3.5 4.2 -3.4 3.8 -3.6 3.5 -3.4 3 -5.1 3.9 -5.5 3.4 -5.5 2.6 -5.5 1.9 -5.5 1.3 -6 0.7 -6 0.1 -6.5-0.5 -7-1.3 -7-1.8 -7.5-2.5 -8-3.1 -9-4.1 -9-4.6 -9-5zM73.6 37.3l1 0.4 1 0.8 2 2.5 1.5 2.6 1.5 3.8 1 3.6 0.5 2.4 0.6 4.6 0.2 3 -0.1 2 -0.2 1.3 -0.5 0.7 -0.5-0.1 -0.5-0.5 -1-1.5 -1-2 -2-4.8 -2-5.7 -1.5-5.4 -0.8-4.5 -0.1-1.5 0.1-1 0.3-0.6zM50.1 40.5l0.5 0.5 1 2.3 1 3.9 0.5 3.2 0.4 4.6 -0.1 2 -0.3 1 -0.5-1 -0.5-1.6 -1.5-6.7 -0.5-3.2 -0.2-2.5 0-1.5zM45.1 54l0.5 2.7 0.5 4.5 0 4 -0.1-1.2 -0.4-0.9 -0.2-2.1 -0.3-1.3z"/>
<path fill="#febd3c" d="M45.1 36l0.7 0 0.3 0.5 0.5 2.3 0.5 4.7 -0.1 2 -0.4 0.5 -0.5-1 -1-3.3zM52.6 36l2 0 0 0.5 -0.5 0.7 -0.5-0.1zM58.8 36l5.7 0 0.6 2.8 0.4 3.7 0 2.5 -0.4 1.8 -0.5 0.3 -0.5-0.2 -1.5-2 -2-3.9 -1-2.4zM111 36l34.6 0 -0.6 3.5 -0.8 3 -0.8 2 -1.1 2 -0.8 1 -1.1 1 -1.3 0.7 -1 0.3 -1.5 0.1 -1.5-0.1 -3-0.7 -4-1.7 -4.5-2.5 -7-4.6zM205.6 36l116.7 0 -3.2 3.4 -3 3 -6 5.1 -5 3.5 -5 2.8 -5 2.3 -5.5 1.9 -5.5 1.2 -6 0.8 -6 0.1 -6-0.4 -6.5-1.1 -6.5-1.5 -7-2 -7.1-2.6 -7.4-3.1 -8.5-3.9 -8.6-4.5zM74.1 38l1.5 1 2 2.5 1.5 2.8 1.5 4.1 1 4.2 0.5 3.4 0.2 2.5 -0.2 3.2 -0.5 1 -0.5-0.1 -0.5-0.4 -1-1.5 -1.5-3.1 -2-5.1 -1.5-4.6 -1-3.9 -0.5-3.5 0-1.5 0.2-0.5 0.3-0.4zM50.1 41.1l0.5 0.2 1 2.3 1 4.1 0.5 3.5 0.1 2.3 0.1 2 -0.2 1.5 -0.5-0.6 -0.5-1.5 -1.5-6.6 -0.5-3.5 -0.1-2.3zM45.1 54.6l0.2 1.9 0.3 0.9 0.2 4.1 -0.2 0.8 -0.2-2.3 -0.3-1.1z"/>
<path fill="#fec636" d="M45.1 36l0.7 0 0.3 0.8 0.5 2.2 0.4 4.5 -0.1 1 -0.2 1 -0.1 0.1 -0.5-0.9 -1-3.2zM52.8 36l1.7 0 -0.2 0.5 -0.2 0.4 -0.5-0.1zM58.9 36l5.5 0 0.8 4.5 0.1 3 -0.2 2 -0.5 0.8 -0.5 0 -0.5-0.5 -1-1.3 -2-3.8 -1-2.4zM111.5 36l33.2 0 -0.6 2.8 -0.7 2.2 -0.8 2.1 -1 1.7 -1 1.2 -1 0.9 -2 0.9 -2.5 0.3 -1.5-0.1 -2-0.5 -4-1.5 -4.5-2.4 -5.8-3.6zM208.3 36l106.7 0 -5.4 4.9 -5.5 4.1 -4.9 3 -4.6 2.4 -5 2 -5 1.5 -5 1 -5.5 0.6 -5.5 0.1 -5.5-0.3 -6-0.8 -6-1.2 -6.5-1.7 -6.5-2.1 -7-2.6 -7.8-3.4 -7.4-3.5zM74.1 39l0.5 0 1 0.7 1.5 1.7 1.5 2.7 1.5 3.9 1 4.3 0.5 4.2 -0.2 2.5 -0.3 1 -0.5 0.1 -1-0.9 -1.5-2.8 -1.5-3.5 -1.5-4.4 -1-3.7 -0.5-2.8 0-2.3zM50.6 41.8l1 2.2 1 4.3 0.5 5.7 0 1.2 -0.5 0.4 -1-3.1 -1-4.8 -0.5-4.7 0-0.9z"/>
<path fill="#fcce31" d="M45.1 36l0.6 0 0.4 1 0.5 2.4 0.2 4.1 -0.2 1.5 -0.5-0.6 -1-3.1zM53 36l1.3 0 -0.2 0.5 -0.5 0zM59 36l5.2 0 0.4 1.5 0.5 4.5 -0.1 2 -0.4 1.3 -0.5 0.2 -0.5-0.3 -1.5-1.9 -2-4zM112.1 36l31.6 0 -1.3 4 -0.8 1.8 -1 1.5 -1 1.2 -1 0.8 -2 0.9 -1.5 0.3 -1.5 0 -3-0.5 -4-1.4 -4-2 -4.5-2.6zM211.8 36l94.7 0 -4.4 3.3 -4.5 2.9 -4.2 2.3 -4.4 2 -4.4 1.6 -5 1.4 -4.5 0.8 -5 0.6 -5 0.1 -5-0.1 -5.5-0.6 -5.5-0.9 -6-1.4 -5.5-1.6 -6-2 -6.5-2.4 -6.9-3zM74.6 40.3l0.5 0 0.5 0.3 1 1.1 1.5 2.4 1 2.4 1 3.5 0.5 3.2 0 2.8 -0.4 1 -0.1 0.1 -0.5-0.1 -0.5-0.5 -1-1.6 -1.5-3.4 -1-2.8 -1-3.6 -0.4-2.6 0-1.5zM50.6 42.4l0.5 0.8 0.5 1.3 1 4.8 0.2 3.7 -0.2 1.4 -0.5-0.9 -0.5-1.7 -1-4.9 -0.3-3.4z"/>
<path fill="#f9d82c" d="M45.1 36l0.6 0 0.4 1.3 0.5 2.7 0.1 4 -0.1 0.4 -0.5-0.4 -1-3zM59.1 36l5 0 0.5 2.7 0.1 1.8 0 2 -0.2 1.5 -0.4 0.5 -0.5 0 -0.5-0.4 -1-1.3 -1.5-2.8zM112.8 36l29.6 0 -1.3 3.4 -1.5 2.3 -1.9 1.8 -2.1 1 -2.5 0.4 -3-0.3 -3.5-1.1 -4.5-2 -4.5-2.5zM216.6 36l79.3 0 -6.3 3.5 -4 1.9 -4 1.5 -4 1.2 -4 0.9 -4 0.7 -4.5 0.4 -4 0.2 -4.5-0.1 -4.5-0.4 -5-0.6 -4.5-0.9 -5-1.1 -5-1.4 -5.5-1.8zM75.6 42.4l0.5 0.3 1 1.2 1 2 0.5 1.4 0.5 1.9 0.2 1.8 0 1.5 -0.2 0.6 -0.5 0 -1-1.4 -1.5-3.6 -0.5-1.7 -0.4-2.4 0-1zM50.6 43.7l0.5 0.2 0.5 1.4 0.5 2.1 0.4 4.1 -0.1 0.5 -0.3 0.3 -1-3.5 -0.5-3.2z"/>
<path fill="#f6e128" d="M45.1 36l0.5 0 0.5 1.7 0.5 3.4 0 1.9 0 0.2 -0.5 0.3 -1-2.9zM59.2 36l4.7 0 0.3 2 0.3 2.5 -0.1 1.5 -0.3 1.2 -0.5 0.3 -0.5-0.2 -1-1.1 -1.5-2.7zM113.8 36l27.1 0 -1.3 2.5 -1.5 2 -1.9 1.5 -2.1 0.8 -2.5 0.3 -2.5-0.2 -3.5-0.9 -3.5-1.4 -4-2.1zM224.2 36l57.6 0 -3.7 1.4 -6 1.8 -6 1.2 -6.5 0.7 -6.5 0.1 -7-0.4 -7-1.1 -7.5-1.6zM51.1 45.6l0.3 0.9 0.2 0.2 0.2 1.8 -0.2 0.8 -0.5-2.4z"/>
<path fill="#f5ea24" d="M45.1 36l0.3 0 0.2 0.4 0.5 1.9 0.3 2.7 -0.2 1.5 -0.1 0.2 -0.5-1 -0.5-1.7zM59.5 36l4.1 0 0.5 3.5 -0.1 1.5 -0.3 1 -0.6 0.3 -0.5-0.3 -1-1.3 -1-1.8zM115 36l23.9 0 -1 1.5 -1.3 1.4 -2 1.4 -1.9 0.7 -2.1 0.3 -2.5-0.2 -3-0.6 -3-1.1 -3.3-1.4z"/>
<path fill="#f6f21d" d="M45.1 36l0.5 1 0.5 2.5 0 1.5 0 0.2 -0.5-0.3 -0.5-1.7zM59.8 36l3.4 0 0.3 2.5 0 1 -0.3 1 -0.6 0.2 -1-0.9 -1-1.7zM116.9 36l19.3 0 -1.6 1.4 -1.5 0.9 -2 0.7 -2 0.3 -2-0.1 -2.5-0.4 -2.5-0.7z"/>
<path fill="#f9fb15" d="M60.3 36l2.3 0 0.1 1.5 -0.1 0.7 -0.5 0.4 -0.5-0.3 -0.5-0.7zM120.4 36l11.3 0 -0.6 0.3 -2.5 0.6 -2.5 0.2 -2.5-0.3z"/>
</g></g>
<g stroke="#222" stroke-width="0.7" fill="none">
<path d="M47.4 43.3V197"/>
<path d="M56.3 38v1.2M64.1 38v1.2M71.9 38v1.2M79.6 38v2.2M87.4 38v1.2M95.2 38v1.2M103.0 38v1.2M110.8 38v2.2M118.6 38v1.2M126.3 38v1.2M134.1 38v1.2M141.9 38v2.2M149.7 38v1.2M157.5 38v1.2M165.3 38v1.2M173.1 38v2.2M180.8 38v1.2M188.6 38v1.2M196.4 38v1.2M204.2 38v2.2M212.0 38v1.2M219.8 38v1.2M227.6 38v1.2M235.3 38v2.2M243.1 38v1.2M250.9 38v1.2M258.7 38v1.2M266.5 38v2.2M274.3 38v1.2M282.0 38v1.2M289.8 38v1.2M297.6 38v2.2M305.4 38v1.2M313.2 38v1.2M321.0 38v1.2M328.8 38v2.2M336.5 38v1.2M344.3 38v1.2M352.1 38v1.2M359.9 38v2.2M360.9 189.4h-1.2M47.4 189.4h1.2M360.9 180.5h-2.2M47.4 180.5h2.2M360.9 171.6h-1.2M47.4 171.6h1.2M360.9 162.7h-2.2M47.4 162.7h2.2M360.9 153.8h-1.2M47.4 153.8h1.2M360.9 144.9h-2.2M47.4 144.9h2.2M360.9 136.0h-1.2M47.4 136.0h1.2M360.9 127.1h-2.2M47.4 127.1h2.2M360.9 118.2h-1.2M47.4 118.2h1.2M360.9 109.3h-2.2M47.4 109.3h2.2M360.9 100.4h-1.2M47.4 100.4h1.2M360.9 91.5h-2.2M47.4 91.5h2.2M360.9 82.6h-1.2M47.4 82.6h1.2M360.9 73.7h-2.2M47.4 73.7h2.2M360.9 64.8h-1.2M47.4 64.8h1.2M360.9 55.9h-2.2M47.4 55.9h2.2M360.9 47.0h-1.2M47.4 47.0h1.2"/>
</g>
<text x="44.2" y="58.8" font-size="8.4" fill="#333" text-anchor="end">1.6</text>
<text x="44.2" y="76.6" font-size="8.4" fill="#333" text-anchor="end">1.4</text>
<text x="44.2" y="94.4" font-size="8.4" fill="#333" text-anchor="end">1.2</text>
<text x="44.2" y="112.2" font-size="8.4" fill="#333" text-anchor="end">1</text>
<text x="44.2" y="130.0" font-size="8.4" fill="#333" text-anchor="end">0.8</text>
<text x="44.2" y="147.8" font-size="8.4" fill="#333" text-anchor="end">0.6</text>
<text x="44.2" y="165.6" font-size="8.4" fill="#333" text-anchor="end">0.4</text>
<text x="44.2" y="183.4" font-size="8.4" fill="#333" text-anchor="end">0.2</text>
<text x="48.5" y="208.5" font-size="8.4" fill="#333" text-anchor="middle">0.2</text>
<text x="110.8" y="208.5" font-size="8.4" fill="#333" text-anchor="middle">0.6</text>
<text x="173.1" y="208.5" font-size="8.4" fill="#333" text-anchor="middle">1</text>
<text x="235.3" y="208.5" font-size="8.4" fill="#333" text-anchor="middle">1.4</text>
<text x="297.6" y="208.5" font-size="8.4" fill="#333" text-anchor="middle">1.8</text>
<text x="328.8" y="208.5" font-size="8.4" fill="#333" text-anchor="middle">2</text>
<text x="359.9" y="208.5" font-size="8.4" fill="#333" text-anchor="middle">2.2</text>
<text x="213.2" y="221.5" font-size="9.5" fill="#666" text-anchor="middle">Ω/J</text>
<text transform="translate(25.0 115.2) rotate(-90)" font-size="8.6" fill="#4a4a4a" text-anchor="middle">Γ<tspan font-size="6.5" dy="1">0</tspan><tspan dy="-1">/J</tspan></text>
<defs><linearGradient id="ga" x1="0" y1="1" x2="0" y2="0"><stop offset="0.0000" stop-color="#3e26a8"/><stop offset="0.0625" stop-color="#4536d5"/><stop offset="0.1250" stop-color="#484cef"/><stop offset="0.1875" stop-color="#4562fc"/><stop offset="0.2500" stop-color="#347afd"/><stop offset="0.3125" stop-color="#2c90f0"/><stop offset="0.3750" stop-color="#21a3e3"/><stop offset="0.4375" stop-color="#0cb3d3"/><stop offset="0.5000" stop-color="#12beb9"/><stop offset="0.5625" stop-color="#34c79c"/><stop offset="0.6250" stop-color="#5ccc76"/><stop offset="0.6875" stop-color="#94ca4a"/><stop offset="0.7500" stop-color="#c8c129"/><stop offset="0.8125" stop-color="#f1ba37"/><stop offset="0.8750" stop-color="#feca33"/><stop offset="0.9375" stop-color="#f5e327"/><stop offset="1.0000" stop-color="#f9fb15"/></linearGradient></defs>
<rect x="369.8" y="37" width="8.4" height="160.2" fill="url(#ga)" stroke="#555" stroke-width="0.4"/>
<text x="380.3" y="199.7" font-size="8.4" fill="#333" text-anchor="start">0</text>
<text x="380.3" y="182.1" font-size="8.4" fill="#333" text-anchor="start">0.1</text>
<path d="M378.4 179.7h-1.5" stroke="#222" stroke-width="0.6"/>
<text x="380.3" y="164.5" font-size="8.4" fill="#333" text-anchor="start">0.2</text>
<path d="M378.4 162.1h-1.5" stroke="#222" stroke-width="0.6"/>
<text x="380.3" y="146.9" font-size="8.4" fill="#333" text-anchor="start">0.3</text>
<path d="M378.4 144.5h-1.5" stroke="#222" stroke-width="0.6"/>
<text x="380.3" y="129.3" font-size="8.4" fill="#333" text-anchor="start">0.4</text>
<path d="M378.4 126.9h-1.5" stroke="#222" stroke-width="0.6"/>
<text x="380.3" y="111.7" font-size="8.4" fill="#333" text-anchor="start">0.5</text>
<path d="M378.4 109.3h-1.5" stroke="#222" stroke-width="0.6"/>
<text x="380.3" y="94.1" font-size="8.4" fill="#333" text-anchor="start">0.6</text>
<path d="M378.4 91.7h-1.5" stroke="#222" stroke-width="0.6"/>
<text x="380.3" y="76.5" font-size="8.4" fill="#333" text-anchor="start">0.7</text>
<path d="M378.4 74.1h-1.5" stroke="#222" stroke-width="0.6"/>
<text x="380.3" y="58.9" font-size="8.4" fill="#333" text-anchor="start">0.8</text>
<path d="M378.4 56.5h-1.5" stroke="#222" stroke-width="0.6"/>
<defs><clipPath id="cdm"><rect x="390" y="110" width="13.6" height="20"/></clipPath></defs>
<text x="393.8" y="125.2" font-size="10.5" fill="#555" text-anchor="start" clip-path="url(#cdm)">Δμ</text>
<defs><linearGradient id="gb" x1="0" y1="0" x2="1" y2="0"><stop offset="0.0000" stop-color="#352a87"/><stop offset="0.0625" stop-color="#3243b9"/><stop offset="0.1250" stop-color="#0462e0"/><stop offset="0.1875" stop-color="#0c74dd"/><stop offset="0.2500" stop-color="#1484d4"/><stop offset="0.3125" stop-color="#0a97d1"/><stop offset="0.3750" stop-color="#06a6c7"/><stop offset="0.4375" stop-color="#13b0b6"/><stop offset="0.5000" stop-color="#33b8a1"/><stop offset="0.5625" stop-color="#5ebe89"/><stop offset="0.6250" stop-color="#8bbf75"/><stop offset="0.6875" stop-color="#b1bd66"/><stop offset="0.7500" stop-color="#d3bb58"/><stop offset="0.8125" stop-color="#f2b949"/><stop offset="0.8750" stop-color="#fec932"/><stop offset="0.9375" stop-color="#f5de21"/><stop offset="1.0000" stop-color="#f9fb0e"/></linearGradient></defs>
<defs><clipPath id="cb0"><rect x="57.3" y="272.7" width="84.1" height="148.3"/></clipPath></defs>
<g clip-path="url(#cb0)"><rect x="56.3" y="271.7" width="86.1" height="150.3" fill="#352a87"/>
<path fill="#36349b" d="M73.6 271.7l32.4 0 0 0.9 0.2 0.6 0.1 2.5 0 37 -0.1 2.5 -0.2 1 0 9 -0.2 1.5 -0.1 6.5 -0.2 1.5 0 5.5 -0.2 1 -0.1 4.5 -0.2 1.5 0 4 -0.2 1 -0.1 4 -0.2 1 0 3.5 -0.2 1 -0.1 3 -0.2 1 0 3 -0.2 1 -0.1 3 -0.2 1 0 2.5 -0.2 1 -0.1 2.5 -0.2 1 0 2.5 -0.2 0.5 -0.1 2.5 -0.2 1 0 2 -0.2 1 -0.1 2 -0.2 1 0 2 -0.2 1 -0.1 2 -0.2 0.5 0 2 -0.3 1 0 2 -0.2 0.5 -0.1 2 -0.2 1.5 -0.9 8.5 -0.2 2.1 -0.3 0.8 -0.8-5.9 -0.1-1.5 -0.2-0.5 -0.1-1.5 -0.2-1 0-1 -0.2-1 -0.9-7.4 -0.2-0.6 0-1 -0.2-1 -0.1-1 -0.1-0.5 -0.1-1.5 -0.2-0.5 -0.1-1.5 -0.2-0.5 0-1.5 -0.2-0.5 -0.1-1 -0.2-1 0-1 -0.2-0.5 -0.3-3 -0.2-0.5 -0.1-1.5 -0.2-0.5 0-1 -0.2-0.5 -0.3-3 -0.2-0.5 -0.3-3 -0.2-0.5 -0.1-1 -0.2-0.5 0-1 -0.2-0.5 -0.1-1.5 -0.2-0.5 0-1 -0.2-0.5 -0.1-1 -0.2-0.5 0-1 -0.2-0.5 -0.1-1 -0.2-0.5 -0.3-2.9 -0.2-0.6 0-1 -0.3-0.5 0-1 -0.2-0.5 0-1 -0.3-0.5 0-1 -0.2-0.5 0-1 -0.3-0.5 0-1 -0.2-0.5 -0.1-1 -0.2-0.5 -0.3-2.2 -0.1-0.3 -0.1-1.1 -0.2-0.4 0-1 -0.2-0.5 -0.1-1 -0.2-0.5 0-1 -0.3-0.5 0-0.8 -0.2-0.7 -0.1-0.6 -0.1-0.4 -0.1-1 -0.2-0.5 0-1 -0.3-0.5 -0.2-2 -0.2-0.5 -0.1-1 -0.2-0.5 0-1 -0.5-1.5 0-1 -0.3-0.5 -0.2-2 -0.2-0.5 -0.1-1 -0.4-1.5 -0.1-1 -0.2-0.5 -0.3-2 -0.2-0.5 -0.3-2 -0.2-0.5 0-0.7 -0.2-0.3 -0.1-1 -0.2-0.5 -0.1-0.7 -0.1-0.3 -0.1-1 -0.4-1.5 -0.1-1 -0.5-1.5 0-1 -0.5-1.5 0-0.6 -0.2-0.4 0-1 -0.5-1.5 -0.3-2 -0.2-0.5 0-0.5 -0.5-1.5 0-1 -0.3-0.5 0-0.5 -0.4-1.5 -0.3-2 -0.3-0.5 0-0.5 -0.4-1.5 -0.3-2 -0.3-0.5 0-0.5 -0.2-0.5 0-0.5 -0.5-1.5 0-1 -0.3-0.5 0-0.5 -0.2-0.5 0-0.5 -0.3-0.5 0-0.5 -0.2-0.5 0-0.6 -0.5-1.4 -0.3-2z"/>
<path fill="#353eaf" d="M73.6 271.7l32.4 0 0.2 7.5 0 31 -0.2 6 -0.1 8 -0.2 2.5 0 5.5 -0.2 2.5 -0.1 4.5 -0.2 2 0 4 -0.2 2 -0.1 3.5 -0.2 1.5 -0.1 3.5 -0.1 1.5 -0.1 3 -0.2 1.5 -0.6 10.5 -1.2 16.5 -1.5 16 -1.1 9.1 -0.2 1.2 -0.3 0.3 -0.3-0.6 -0.7-4.5 -2.4-18.5 -2.2-16 -0.5-2.5 -0.1-1 -0.1-0.5 -0.9-6 -1.4-8.5 -0.1-1 -0.2-0.5 0-1 -0.2-0.5 -0.1-1 -0.2-0.5 0-1 -0.2-0.5 -0.1-1 -0.2-0.5 0-1 -0.2-0.5 -0.1-1 -0.2-0.5 -1-6.5 -0.2-0.5 -0.1-1 -0.2-0.5 -0.8-5 -0.2-0.5 -0.5-3.5 -0.2-0.5 -0.1-1 -0.2-0.5 -0.3-2 -0.6-3 -0.1-1 -0.2-0.5 -0.3-2 -0.2-0.5 -1.8-9.5 -0.2-0.5 -0.3-2 -0.5-1.5 -0.1-1 -0.4-1.5 -0.3-2 -0.4-1.5 -0.3-2 -0.5-1.5 -0.3-2 -0.4-1.5 -0.4-2 -0.6-2.5 -0.4-2 -0.9-3.5 -0.3-2 -0.2-0.5 0-0.5 -0.3-0.5 0-0.5 -0.2-0.5 -1-4.5 0-0.5z"/>
<path fill="#2d49c3" d="M73.7 271.7l32.3 0 0.2 9.5 -0.1 27 -0.2 15 -0.5 15.5 -0.8 16.5 -1 16.5 -1.3 16.4 -1.2 13.1 -0.8 6.4 -0.5 2.9 -0.2 0.8 -0.3 0.2 -0.3-0.3 -0.4-1.9 -1-6.3 -4.4-30.8 -2.5-16 -3-17.5 -3.3-17.5 -3.5-17.5 -5.3-24 -0.2-0.5 -1.5-7z"/>
<path fill="#1b55d7" d="M73.7 271.7l32.2 0 0.2 11 0 24 -0.3 15.5 -0.5 15.5 -0.7 16.5 -1 16.2 -1.3 16 -1.1 11.3 -0.9 6.8 -0.5 2.3 -0.2 0.7 -0.3 0.2 -0.3-0.1 -0.2-0.6 -0.5-1.9 -1-5.7 -3.6-24.2 -3-19 -5-28.5 -5.5-27.5 -4.5-20.5z"/>
<path fill="#0462e0" d="M73.8 271.7l32.1 0 0.2 12 0 21.5 -0.3 15 -0.5 16 -0.7 16.2 -1 16.2 -1 12.9 -1.3 12.5 -1 7 -0.5 2.1 -0.2 0.6 -0.3 0.2 -0.3 0 -0.2-0.4 -0.8-2.5 -1.2-6.8 -6.1-38.5 -4.9-28 -5.6-27.5 -3.2-15z"/>
<path fill="#036ae1" d="M73.9 271.7l31.9 0 0.2 14.7 0 13.8 -0.2 16.6 -0.5 16.9 -0.7 16.6 -1 16.1 -1 12.6 -1.2 11.2 -0.8 5.9 -0.5 2.4 -0.6 1.3 -0.2 0.3 -0.2 0 -0.3-0.2 -0.5-1.2 -0.5-1.8 -1.5-7.8 -6.6-39.9 -4-22 -2.7-14 -3.3-15.5 -2.7-12.5z"/>
<path fill="#0871de" d="M73.9 271.7l31.9 0 0.2 15.5 -0.1 13.5 -0.1 11.7 -0.5 18.3 -0.7 17 -1 16.1 -1 12.4 -1.2 11 -1.1 6.5 -0.5 1.7 -0.5 0.9 -0.3 0 -0.2-0.1 -0.5-0.9 -1-3.5 -1.7-9.1 -6.2-36 -4.5-24 -5.2-25.5z"/>
<path fill="#0f77db" d="M74 271.7l31.7 0 0.2 17 -0.1 17 -0.2 13.1 -0.6 15.1 -0.7 15.4 -0.7 11.6 -1 12.2 -1.2 10.1 -0.6 4.2 -0.5 2.5 -0.5 1.7 -0.5 0.8 -0.3 0.1 -0.2 0 -0.5-0.6 -0.5-1.3 -0.8-2.7 -1.7-8.6 -6.4-36.1 -4.4-23.5 -5-24z"/>
<path fill="#137dd8" d="M74.1 271.7l31.5 0 0.2 14.5 0 14 -0.2 13.4 -0.6 16.5 -0.7 15.8 -0.7 11.8 -1 12 -1.2 10 -1.1 6.3 -0.5 1.6 -0.5 0.9 -0.5 0.2 -0.2-0.1 -0.6-0.7 -0.5-1.3 -0.7-2.6 -2-9.5 -6.3-34.8 -4.3-22 -4.7-22.5z"/>
<path fill="#1484d4" d="M74.2 271.7l31.4 0 0.1 16 -0.1 15.5 -0.3 14.7 -0.5 14.1 -0.8 14.6 -0.7 10.9 -1 11.1 -0.9 7.6 -1.1 5.9 -0.5 1.6 -0.2 0.6 -0.6 0.6 -0.4 0 -0.8-1 -0.5-1.2 -0.7-2.5 -2.3-10.3 -6.6-35.2 -4.3-21.5 -4.7-22z"/>
<path fill="#128bd3" d="M74.3 271.7l31.1 0 0.2 13.5 -0.1 14 -0.2 12.5 -0.5 15.8 -0.8 15.2 -0.7 11 -1 11.1 -0.9 7.4 -1.1 5.9 -0.5 1.6 -0.7 1.3 -0.5 0.2 -0.3-0.2 -0.5-0.6 -0.8-1.7 -0.7-2.4 -1-4 -1.5-7 -6.6-34.1 -4.3-21 -4.2-19.5z"/>
<path fill="#0d93d2" d="M74.4 271.7l30.9 0 0.1 15 -0.1 14.5 -0.3 13.5 -0.4 13.5 -0.8 14.3 -0.8 10.3 -0.7 8 -1 8 -0.5 2.9 -0.8 3.2 -0.4 1.4 -0.3 0.5 -0.5 0.5 -0.2 0.1 -0.6-0.2 -0.7-1.1 -0.7-1.9 -0.8-2.6 -2.5-10.8 -6.9-34.6 -4-19 -3.7-17z"/>
<path fill="#089ad0" d="M74.5 271.7l30.7 0 0.1 13 -0.1 13 -0.2 12 -0.4 13.5 -0.8 14.8 -0.8 10.6 -1 10.3 -0.8 6.3 -0.6 3.6 -0.8 2.8 -0.5 1.2 -0.3 0.4 -0.4 0.4 -0.3 0 -0.5-0.3 -0.8-1.1 -0.7-1.9 -0.7-2.4 -1.3-4.8 -1.7-7.9 -6.9-33.5 -4.1-19 -3.4-15.5z"/>
<path fill="#06a0cd" d="M74.6 271.7l30.4 0 0.1 13 -0.1 13 -0.2 12 -0.5 13.7 -0.7 13.8 -0.8 9.9 -0.8 7.5 -0.9 7.1 -0.5 2.9 -0.8 2.9 -0.5 1.3 -0.7 0.9 -0.3 0.1 -0.5-0.1 -0.8-0.9 -0.7-1.6 -1-3 -1.3-4.6 -1.4-6.5 -10.4-48.9 -3.8-16.5z"/>
<path fill="#06a6c7" d="M74.8 271.7l30.1 0 0 13 -0.1 13 -0.2 12.5 -0.5 11.5 -0.5 10.5 -0.8 10.2 -0.8 7.8 -1 7.5 -0.5 3 -0.7 2.7 -0.8 1.8 -0.7 0.8 -0.3 0 -0.4-0.1 -0.8-1 -0.8-1.5 -1-2.9 -1.2-4.4 -1.8-7.3 -10.1-46.6z"/>
<path fill="#07aac1" d="M75 271.7l29.7 0 0.1 12.5 -0.2 12.5 -0.3 13 -0.4 10.5 -0.6 10.6 -0.7 9.7 -0.8 7.2 -1 7 -0.5 2.5 -0.7 2.8 -0.8 1.6 -0.8 0.6 -0.2 0.1 -0.5-0.3 -0.7-0.9 -1-2.1 -1-2.9 -1.6-5.4 -1.7-7.2 -9.8-44.3z"/>
<path fill="#0eaeba" d="M75.1 271.7l29.4 0 -0.1 23 -0.6 21.5 -0.5 9 -0.7 10.3 -0.8 7.5 -1 7.2 -0.8 3.7 -0.7 2.5 -0.7 1.5 -0.8 0.6 -0.8-0.3 -0.7-0.9 -1-2 -1-2.8 -1.5-5.2 -2-8 -9.6-42.1z"/>
<path fill="#18b1b2" d="M75.3 271.7l29 0 -0.1 22 -0.7 21 -0.5 8.7 -0.7 9.7 -0.7 7.2 -1 6.4 -0.6 2.8 -0.7 2.7 -0.8 1.7 -0.7 0.7 -0.2 0.1 -0.6-0.1 -0.4-0.4 -0.5-0.6 -1.1-2 -1-2.7 -1.7-5.8 -2.3-8.9 -9.4-40.5z"/>
<path fill="#24b5aa" d="M75.5 271.7l28.6 0 -0.1 21 -0.7 20 -0.5 8.5 -0.8 9.4 -0.7 6.8 -0.9 5.8 -0.6 2.9 -0.8 2.6 -0.7 1.5 -0.7 0.7 -0.8-0.1 -0.5-0.4 -0.5-0.6 -1-1.9 -1-2.5 -2-6.6 -2.3-8.6 -9.3-39.5z"/>
<path fill="#33b8a1" d="M75.8 271.7l28.1 0 -0.2 20 -0.7 19 -0.5 8.5 -0.7 8.6 -0.8 6.5 -0.7 4.9 -0.7 3.4 -0.8 2.4 -0.8 1.5 -0.7 0.6 -0.8-0.1 -0.5-0.3 -0.4-0.6 -1-1.8 -1-2.5 -2-6.3 -2.6-9.3z"/>
<path fill="#43bb97" d="M76 271.7l27.7 0 -0.3 19.5 -0.7 18 -0.5 8 -0.6 7.6 -0.8 6.3 -0.8 4.7 -0.7 3.3 -0.7 2.3 -0.8 1.3 -0.8 0.6 -0.7 0 -0.5-0.4 -0.5-0.6 -1-1.7 -1-2.3 -2-6 -2.7-10z"/>
<path fill="#55bd8e" d="M76.2 271.7l27.2 0 -0.3 19 -0.7 17 -1.1 14 -0.7 6.1 -0.8 4.4 -0.8 3.3 -0.7 2.2 -0.7 1.3 -0.8 0.6 -0.8-0.1 -1-0.9 -1-1.6 -1.2-2.9 -2-5.9 -2.8-9.8z"/>
<path fill="#67be85" d="M76.5 271.7l26.6 0 -0.3 18.5 -0.7 16 -1.1 12.5 -0.7 5.6 -0.7 4.4 -0.8 3.1 -0.8 2.1 -0.7 1.3 -0.7 0.6 -0.8 0 -1-0.9 -1-1.5 -1.3-2.8 -2.2-6.5 -2.7-9.6z"/>
<path fill="#7abf7c" d="M76.8 271.7l26 0 -0.3 16 -0.7 15.3 -1 11.9 -0.8 5.9 -0.6 3.9 -0.6 2.5 -0.8 2.5 -0.8 1.5 -0.4 0.5 -0.5 0.3 -0.7 0 -1-0.8 -1.1-1.4 -1.2-2.7 -2.3-6.2 -2.7-9.3z"/>
<path fill="#8bbf75" d="M77.1 271.7l25.4 0 -0.3 15.5 -0.8 14 -1.1 12 -0.5 4 -0.8 4.1 -0.7 3 -0.7 2.1 -0.8 1.2 -0.8 0.6 -0.7 0.1 -1-0.7 -1-1.4 -1.2-2.5 -2.3-6 -2.8-9 -3.2-11.7z"/>
<path fill="#9bbf6f" d="M77.4 271.7l24.8 0 -0.4 14.2 -0.8 13.5 -1 10.4 -0.5 3.9 -0.7 3.9 -0.8 2.9 -0.7 2.1 -0.7 1.2 -0.8 0.6 -0.8 0.1 -1-0.6 -1-1.3 -1.2-2.4 -2.2-5.7 -2.8-8.7 -3.2-11.5z"/>
<path fill="#aabe69" d="M77.8 271.7l24 0 -0.4 13.5 -0.7 11.5 -0.9 9.2 -0.6 4.3 -0.6 3.5 -0.8 3 -0.7 2 -0.8 1.3 -0.7 0.7 -0.8 0.1 -1-0.6 -1-1.2 -1.2-2.2 -2.3-5.6 -2.7-8.4 -3.3-11.1z"/>
<path fill="#b8bd63" d="M78.1 271.7l23.3 0 -0.4 12 -0.7 10.8 -1 9.4 -1.1 6.3 -0.6 2.6 -0.8 2.1 -0.8 1.3 -0.7 0.7 -0.7 0.1 -0.6-0.1 -0.4-0.4 -1-1.1 -1.3-2.1 -2.3-5.3 -2.7-8.1 -3.3-10.8z"/>
<path fill="#c6bc5e" d="M78.6 271.7l22.4 0 -0.4 11.2 -0.8 10.3 -0.9 8 -1.1 5.8 -0.8 2.7 -0.7 1.8 -0.7 1.1 -0.8 0.6 -0.8 0 -1-0.5 -0.9-1.2 -1.1-1.6 -1-2.1 -1.2-3 -2.5-7.1 -3.3-10.4z"/>
<path fill="#d3bb58" d="M79 271.7l21.6 0 -0.5 10 -0.7 8.5 -0.8 7.4 -1 5.4 -0.6 2.2 -0.7 1.9 -0.7 1.4 -0.8 0.8 -0.8 0.2 -0.4-0.1 -0.6-0.2 -1-0.9 -1-1.5 -1-1.8 -1.2-2.8 -2.5-6.7 -3-9.3z"/>
<path fill="#e0ba53" d="M79.5 271.7l20.6 0 -0.5 9 -0.7 7.5 -0.9 6.8 -0.9 4.7 -0.5 2.1 -0.8 1.9 -0.8 1.2 -0.7 0.7 -0.7 0.2 -1-0.4 -0.8-0.7 -1-1.3 -2-3.9 -2.5-6.3 -3-8.9z"/>
<path fill="#ecb94c" d="M80 271.7l19.6 0 -0.6 7.9 -0.5 6.1 -0.8 5.5 -0.9 4.7 -0.5 1.8 -0.7 2 -0.8 1.3 -0.8 0.8 -0.7 0.2 -1-0.3 -0.7-0.6 -1-1.2 -1-1.7 -1-2 -2.5-6.1 -2.8-7.9z"/>
<path fill="#f8ba44" d="M80.5 271.7l18.5 0 -0.5 6.5 -0.6 6 -0.8 5 -0.8 3.6 -0.6 1.9 -0.7 1.6 -0.7 1.2 -0.8 0.6 -0.7 0.2 -0.7-0.2 -0.8-0.6 -1-1.1 -1-1.6 -1-1.9 -2.2-5.2 -2.5-6.8z"/>
<path fill="#fec13a" d="M81.1 271.7l17.3 0 -0.5 5.5 -0.6 4.8 -0.7 4.2 -0.7 3 -0.6 1.9 -0.7 1.6 -0.5 0.9 -0.8 0.7 -0.8 0.2 -0.7-0.1 -0.8-0.5 -0.7-0.7 -1.7-2.6 -2.3-4.7 -2.3-5.8z"/>
<path fill="#fec932" d="M81.8 271.7l15.9 0 -1.1 8.5 -0.6 3.1 -0.7 2.9 -1 2.6 -0.6 0.9 -0.7 0.7 -0.7 0.4 -0.7-0.1 -0.8-0.4 -0.8-0.6 -0.7-0.9 -1-1.5 -1.7-3.4 -2.3-5.4z"/>
<path fill="#fad12b" d="M82.6 271.7l14.3 0 -0.9 6 -1.2 5 -1 2.5 -0.5 0.8 -0.7 0.7 -0.6 0.3 -0.7 0 -0.7-0.3 -0.8-0.5 -1.5-1.9 -1.7-3.1 -2-4.4z"/>
<path fill="#f7da24" d="M83.4 271.7l12.6 0 -0.8 4.5 -1 3.5 -0.9 1.9 -1 1.3 -0.5 0.3 -0.8 0.1 -0.4-0.1 -0.8-0.4 -1.2-1.2 -1.6-2.3 -1.7-3.3z"/>
<path fill="#f5e31e" d="M84.5 271.7l10.4 0 -0.6 2.6 -0.8 2.2 -0.7 1.5 -1 1.2 -1 0.4 -1-0.2 -1.2-1 -1.3-1.6 -1.3-2z"/>
<path fill="#f5ee16" d="M85.9 271.7l7.6 0 -0.9 2.3 -0.8 1.1 -0.8 0.5 -0.7 0.3 -0.7-0.2 -0.8-0.4 -1-0.9z"/>
<path fill="#f9fb0e" d="M88.5 271.7l2.4 0 -0.6 0.3 -0.5 0.1 -0.8-0.1z"/>
<path d="M82.6 272.7L99.1 421.0" stroke="#fff" stroke-width="1.35" stroke-dasharray="7 0.8" fill="none"/>
<path d="M115.7 272.7L99.1 421.0" stroke="#fff" stroke-width="1.3" stroke-dasharray="4.5 1.8" fill="none" opacity="0.9"/>
</g>
<path d="M90.9 272.7v1.2M95.1 272.7v1.2M99.3 272.7v1.2M103.6 272.7v1.2" stroke="#222" stroke-width="0.6"/>
<rect x="116.0" y="404.9" width="22.5" height="12.9" fill="#fff"/>
<text x="127.2" y="414.6" font-size="9" fill="#444" text-anchor="middle" font-weight="bold">n=2</text>
<rect x="56.4" y="253.2" width="85.1" height="9.6" fill="url(#gb)" stroke="#555" stroke-width="0.5"/>
<path d="M111.8 253.2v1.3" stroke="#222" stroke-width="0.6"/>
<text x="56.4" y="248.4" font-size="10.2" fill="#4a4a4a" text-anchor="middle">0</text>
<text x="111.8" y="248.4" font-size="10.2" fill="#4a4a4a" text-anchor="middle">0.2</text>
<text x="85.1" y="248.4" font-size="9.8" fill="#4a4a4a" text-anchor="middle" font-weight="bold">Δμ</text>
<text x="53.6" y="276.1" font-size="10.2" fill="#4a4a4a" text-anchor="end">0.3</text>
<text x="53.6" y="325.5" font-size="10.2" fill="#4a4a4a" text-anchor="end">0.2</text>
<text x="53.6" y="375.0" font-size="10.2" fill="#4a4a4a" text-anchor="end">0.1</text>
<text x="53.6" y="424.4" font-size="10.2" fill="#4a4a4a" text-anchor="end">0</text>
<text x="57.9" y="433.2" font-size="10.2" fill="#4a4a4a" text-anchor="middle">0.39</text>
<text x="99.1" y="433.2" font-size="10.2" fill="#4a4a4a" text-anchor="middle">0.4</text>
<text x="141.4" y="433.2" font-size="10.2" fill="#4a4a4a" text-anchor="middle">0.41</text>
<defs><clipPath id="cb1"><rect x="167.3" y="272.7" width="85.2" height="148.3"/></clipPath></defs>
<g clip-path="url(#cb1)"><rect x="166.3" y="271.7" width="87.2" height="150.3" fill="#352a87"/>
<path fill="#36349b" d="M184.8 271.7l30.5 0 -0.1 3 -0.2 0.5 0 6.5 -0.2 1 -0.1 5.5 -0.2 1 0 5 -0.2 1 -0.1 4.5 -0.2 1 0 4 -0.2 1.5 -0.1 4 -0.2 1 0 4 -0.2 0.5 -0.1 4 -0.2 1 0 3.5 -0.2 1 -0.1 3.5 -0.2 0.5 0 3.5 -0.2 1 -0.1 3 -0.2 1 0 3 -0.2 0.5 -0.1 3.5 -0.2 0.5 0 3 -0.2 0.6 -0.1 2.9 -0.2 1 0 2.5 -0.2 1 -0.1 2.5 -0.2 1 0 2.5 -0.2 0.6 -0.1 2.9 -0.2 0.5 0 2.5 -0.2 1 -0.1 2.5 -0.2 0.5 0 2.5 -0.2 0.5 -0.1 2.5 -0.2 0.5 0 2.5 -0.2 0.5 -0.1 2.5 -0.2 0.5 0 2.5 -0.2 0.5 -0.1 2 -0.2 1 0 2 -0.2 1 -0.1 2 -0.2 0.5 0 2 -0.2 1 -0.1 2 -0.2 0.5 0 0.5 -0.1 1.5 -0.1 0.5 -0.1 2 -0.2 1 -0.1 1.5 -0.2 1 0 1.5 -0.2 1 -0.4 4 -0.2 1 -0.1 1.5 -0.3 0.1 -0.6-4.6 -0.3-4 -0.2-0.5 0-1.5 -0.2-1 -0.1-1.5 -0.2-0.5 0-1.5 -0.3-1 0-1.5 -0.2-0.5 0-1.5 -0.3-1 0-1.5 -0.2-0.5 -0.3-4 -0.2-0.5 -0.1-1.5 -0.2-0.5 0-1.5 -0.2-0.5 -0.1-1.9 -0.2-0.6 0-1.5 -0.2-0.5 -0.1-1.5 -0.2-0.5 0-1.5 -0.2-0.5 -0.1-1.5 -0.2-0.5 0-1.5 -0.2-0.5 -0.1-1.5 -0.1-0.5 -0.1-1.5 -0.2-0.5 -0.1-1.5 -0.2-1 0-1 -0.2-0.5 -0.1-1.5 -0.2-0.5 0-1.5 -0.2-0.5 -0.1-1.5 -0.2-0.5 0-1.5 -0.2-0.5 -0.1-1.5 -0.2-0.5 0-1.3 -0.3-0.7 0-1.2 -0.2-0.3 0-1.5 -0.2-0.5 -0.1-1.5 -0.2-0.5 -0.3-3 -0.2-0.5 0-1.5 -0.2-0.5 -0.3-3 -0.2-0.5 -0.1-1.5 -0.2-0.5 0-1 -0.2-0.5 -0.1-1.5 -0.2-0.5 0-1 -0.2-0.5 -0.1-1.5 -0.2-0.5 0-1 -0.2-0.5 -0.1-1.5 -0.2-0.5 0-1 -0.2-0.5 -0.1-1.5 -0.2-0.5 0-1 -0.2-0.5 -0.3-3 -0.3-0.5 0-1 -0.2-0.5 -0.1-1.2 -0.2-0.8 0-1 -0.2-0.5 0-1 -0.2-0.5 -0.1-1 -0.2-1 0-1 -0.3-0.5 0-1 -0.2-0.5 0-1 -0.2-0.5 -0.1-1.2 -0.2-0.3 0-1.5 -0.3-0.5 0-1 -0.2-0.5 0-1 -0.3-0.5 0-1 -0.2-0.5 0-1 -0.2-0.5 -0.1-1.1 -0.2-0.4 0-1.2 -0.3-0.8 0-1 -0.2-0.5 0-1 -0.3-0.5 0-1 -0.2-0.5 0-1 -0.3-0.5 0-1 -0.2-0.5 0-1 -0.3-0.5 0-1 -0.2-0.5 0-1 -0.3-0.5 0-1 -0.2-0.5 0-1 -0.3-0.5 0-1 -0.2-0.5 0-1 -0.3-0.5 0-1 -0.2-0.5 0-1 -0.3-0.5z"/>
<path fill="#353eaf" d="M184.9 271.7l30.3 0 0 2.5 -0.2 1 -0.1 5.5 -0.2 2 0 4.5 -0.2 2 -0.1 4 -0.2 2 0 4 -0.2 1.5 -0.1 4 -0.2 1.5 -0.3 8.5 -0.2 1 0 3.5 -0.2 1.5 -0.1 3 -0.2 1.5 0 3 -0.2 1 -0.3 7 -0.2 1.5 -0.6 10 -0.2 1 0 2.5 -0.2 1.5 -0.1 2 -0.2 1.5 -0.6 9 -0.1 1 -0.1 2 -1.5 18.5 -1.2 12.5 -0.9 8.9 -0.7 6 -0.3 1 -0.3 0.1 -0.2-0.9 -0.8-5.4 -3.6-31.2 -2.2-17 -0.1-1 -0.2-1 0-1 -0.2-0.5 -0.8-7 -0.2-0.5 -0.6-5 -0.1-0.5 -0.4-3 -0.2-1 0-1 -0.2-0.5 -0.3-3 -0.2-0.5 -0.3-3 -0.2-0.5 -0.3-3 -0.2-0.5 -0.3-2 0-1 -0.2-0.5 -0.1-1 -0.4-2.5 -0.1-1 -0.2-0.5 -0.3-3 -0.2-0.5 0-1 -0.2-0.5 -0.1-1 -0.4-2.5 -0.1-1 -0.2-0.5 0-1 -0.2-0.5 -0.1-1 -0.5-2.5 0-1 -0.2-0.5 0-1 -0.2-0.5 -0.1-1 -0.2-0.5 0-1 -0.2-0.5 -0.6-4.5 -0.2-0.5 0-1 -0.3-0.5 0-1 -0.2-0.5 0-1 -0.2-0.5 -0.1-1 -0.2-0.5 0-1 -0.2-0.5 -0.1-1 -0.2-0.5 0-1 -0.2-0.5 -0.1-1 -0.2-0.5 0-1 -0.2-0.5 -0.1-1 -0.2-0.5 0-1 -0.2-0.5 -0.1-1 -0.2-0.5 0-1 -0.3-0.5 0-1 -0.2-0.5z"/>
<path fill="#2d49c3" d="M184.9 271.7l30.3 0 -1.3 32.5 -1.8 31.5 -2.3 32 -2.4 28 -0.8 8.1 -0.8 5.7 -0.5 1.9 -0.3 0.1 -0.4-1.6 -1-6.8 -5.7-45.4 -2.5-18.5 -2.7-19 -1.5-9 0-1 -1-5.5 -0.1-1 -0.1-0.5 -0.1-1 -1.4-8.5 -0.1-1 -0.2-0.5 -0.1-1 -0.1-0.5 -0.1-1 -0.2-0.5 -1.6-10 -0.6-3.5 -0.1-1 -0.2-0.5 -0.1-1 -0.1-0.5z"/>
<path fill="#1b55d7" d="M184.9 271.7l30.2 0 -1.3 32 -1.7 31.5 -2.3 31.9 -2.2 25.3 -1 8.9 -0.8 4.8 -0.5 1.5 -0.3 0.1 -0.2-0.4 -0.5-1.8 -1.3-8.1 -6-47.2 -3.5-25 -5.1-32.5z"/>
<path fill="#0462e0" d="M185 271.7l30.1 0 -1.3 31.4 -1.8 31.4 -2.2 31.2 -2.1 23 -1.1 9.7 -0.8 4.1 -0.5 1.3 -0.3 0.1 -0.2-0.2 -0.2-0.6 -0.6-1.9 -1.4-9.5 -5.1-38.5 -4-28 -5-32.5z"/>
<path fill="#036ae1" d="M185 271.7l30 0 -1.2 30 -1.8 31.4 -2 27.8 -1.2 14.5 -1 10 -1.2 9.8 -0.6 2.7 -0.4 1.7 -0.3 0.4 -0.3 0.1 -0.2-0.1 -0.2-0.4 -0.6-1.6 -0.4-2.4 -1.6-9.4 -5.3-39 -3.7-26 -4.5-28.5z"/>
<path fill="#0871de" d="M185 271.7l29.9 0 -1.1 28.5 -1.8 31.3 -2 27.5 -1.2 14.1 -0.9 9.1 -1.3 9.6 -0.6 2.4 -0.4 1.6 -0.3 0.4 -0.3 0.1 -0.2 0 -0.2-0.4 -0.6-1.3 -0.7-3.2 -1.7-10.7 -5.4-38 -3.8-25.5 -3.7-23.5z"/>
<path fill="#0f77db" d="M185.1 271.7l29.8 0 -1.1 26.6 -1.8 31.3 -2 27.2 -1 11.2 -1 10.2 -1.2 8.7 -0.8 3.6 -0.4 1.5 -0.6 0.5 -0.2 0 -0.2-0.2 -0.6-1.1 -0.7-2.8 -1-5.2 -1.3-7.8 -5.5-38.7 -4.1-26.5 -3.2-20z"/>
<path fill="#137dd8" d="M185.2 271.7l29.6 0 -1.2 29.7 -1.6 26.1 -2 26.9 -1 10.9 -1 9.4 -1.2 8.7 -0.8 3.4 -0.4 1.3 -0.6 0.6 -0.2 0 -0.5-0.5 -0.5-1.2 -0.8-2.7 -1-5.1 -1.4-9.1 -5.9-39.4 -3.5-22.5z"/>
<path fill="#1484d4" d="M185.2 271.7l29.5 0 -1.1 27.4 -1.8 29.9 -1.8 22.8 -1 10.7 -1 8.9 -1.2 8.4 -0.8 3.2 -0.4 1.3 -0.6 0.6 -0.2 0.1 -0.5-0.4 -0.7-1.7 -0.8-2.8 -1-4.9 -1.2-7.2 -8.9-57.8z"/>
<path fill="#128bd3" d="M185.3 271.7l29.3 0 -1.3 29.7 -1.5 25 -1.8 22.6 -1 10.4 -0.9 8.3 -0.8 5.6 -0.7 3.9 -0.8 2.7 -0.5 1 -0.5 0.3 -0.2-0.1 -0.6-0.5 -0.7-1.8 -0.7-2.8 -1.3-6 -1.5-8.7 -8.3-53.1z"/>
<path fill="#0d93d2" d="M185.4 271.7l29.1 0 -1.2 27 -1.5 25 -1.8 22.3 -1 10.2 -1 8.4 -0.7 5 -0.7 3.9 -0.8 2.5 -0.5 1 -0.3 0.3 -0.4 0.1 -0.3-0.2 -0.5-0.7 -0.8-1.9 -0.7-2.7 -1.3-5.8 -1.7-9.9 -8.3-52z"/>
<path fill="#089ad0" d="M185.6 271.7l28.8 0 -1.4 28.7 -1.4 23.9 -1.8 21.2 -1.7 15.2 -1.3 7.8 -0.8 2.9 -0.7 1.7 -0.3 0.3 -0.4 0.2 -0.3-0.1 -0.5-0.6 -0.8-1.6 -1-3.4 -1.4-7 -1.8-9.7 -8.1-49.5z"/>
<path fill="#06a0cd" d="M185.7 271.7l28.5 0 -1.2 25.5 -1.4 23.9 -1.8 21 -1.8 15.2 -0.7 4.8 -0.7 3.6 -0.8 2.5 -0.8 1.4 -0.2 0.2 -0.5 0 -0.7-0.8 -0.8-1.7 -1-3.4 -1.5-6.8 -2-10.9 -8.1-48.5z"/>
<path fill="#06a6c7" d="M185.8 271.7l28.3 0 -1.1 22.1 -1.4 24 -1.8 20.9 -0.8 7.1 -1 7.8 -0.7 4.7 -0.7 3.5 -0.8 2.5 -0.8 1.4 -0.2 0.2 -0.5 0.1 -0.7-0.6 -0.8-1.5 -1-3.1 -1.8-7.5 -2-10.5z"/>
<path fill="#07aac1" d="M186 271.7l27.9 0 -1.1 23.1 -1.5 22.9 -1.7 19.8 -1.6 12.7 -0.7 4.2 -0.7 3.5 -0.8 2.5 -0.8 1.4 -0.2 0.3 -0.5 0.2 -0.5-0.3 -0.5-0.6 -0.7-1.5 -1-3.1 -1.8-7.3 -2.2-11.6z"/>
<path fill="#0eaeba" d="M186.1 271.7l27.6 0 -1.1 23.7 -1.3 18.7 -1.7 19.7 -1.7 12.9 -0.9 5 -0.7 3.2 -0.7 2.1 -0.8 1.2 -0.2 0.2 -0.6 0.1 -0.4-0.4 -0.6-0.6 -0.7-1.6 -1-3 -1.7-7.2 -2.3-11.2z"/>
<path fill="#18b1b2" d="M186.3 271.7l27.3 0 -1.3 24 -1.3 17.8 -1.4 16.4 -0.8 6.6 -0.9 6.7 -0.9 4.5 -0.7 3.2 -0.7 2.2 -0.6 0.9 -0.4 0.6 -0.3 0.1 -0.5-0.1 -0.5-0.3 -0.5-0.8 -0.8-1.6 -1-2.9 -2-8.1 -2.2-11.2z"/>
<path fill="#24b5aa" d="M186.5 271.7l26.9 0 -1.1 19.9 -1.5 21.1 -1.5 15.6 -1.5 11.3 -0.8 4.1 -0.7 3.2 -0.7 2.2 -0.6 1 -0.5 0.6 -0.2 0.2 -0.5 0 -0.5-0.3 -0.5-0.6 -0.8-1.4 -1-2.7 -2-7.6 -2.4-12z"/>
<path fill="#33b8a1" d="M186.7 271.7l26.4 0 -1.1 19.8 -1.2 17.2 -1.5 15.6 -1.5 11.4 -0.8 3.9 -0.7 3.2 -0.7 2.3 -0.6 1.1 -0.4 0.6 -0.8 0.4 -0.5-0.2 -0.5-0.5 -1-1.8 -1-2.7 -2-7.4 -2.5-11.7z"/>
<path fill="#43bb97" d="M186.9 271.7l26 0 -1.1 19.3 -1.2 16.5 -1.6 14.8 -1.4 10.4 -0.8 4 -0.7 2.9 -0.8 2.1 -0.5 0.9 -0.5 0.6 -0.7 0.2 -0.5-0.3 -0.5-0.5 -1-1.8 -1-2.7 -2-7.2 -2.6-11.4 -3-15.3z"/>
<path fill="#55bd8e" d="M187.2 271.7l25.5 0 -1.1 18.5 -1.3 15.8 -1.3 12.1 -1.4 10.6 -0.8 3.9 -0.8 3 -0.7 2.1 -0.5 1 -0.5 0.6 -0.7 0.3 -0.6-0.1 -0.4-0.5 -1-1.6 -1-2.4 -2-6.8 -2.6-10.9 -3.2-16.1z"/>
<path fill="#67be85" d="M187.4 271.7l25 0 -1.1 17.6 -1.3 15.1 -1.2 11.5 -1.5 9.8 -0.7 3.8 -0.8 2.8 -0.8 1.9 -0.4 0.9 -0.6 0.5 -0.7 0.2 -0.5-0.2 -0.5-0.4 -1-1.6 -1-2.4 -2-6.7 -2.5-10.6 -3-14.6z"/>
<path fill="#7abf7c" d="M187.7 271.7l24.4 0 -1.1 16.3 -1 12.2 -1.2 11.4 -1.5 10.1 -0.7 3.7 -0.8 2.8 -0.7 2 -0.5 0.9 -0.6 0.6 -0.7 0.4 -0.5-0.1 -0.5-0.4 -1-1.4 -1-2.2 -1-2.9 -1.3-4.3 -2.4-10.4 -3-14.2z"/>
<path fill="#8bbf75" d="M188 271.7l23.8 0 -1 14.9 -1.2 13.9 -1.3 10.5 -1.2 7.7 -0.8 3.5 -0.7 2.6 -0.8 1.9 -0.5 0.8 -0.5 0.5 -0.8 0.3 -0.4-0.1 -0.6-0.4 -1-1.4 -1-2.2 -2-6.1 -2.4-10 -3-13.8z"/>
<path fill="#9bbf6f" d="M188.3 271.7l23.2 0 -0.9 13.2 -1.3 13.4 -1.3 10.1 -1.1 6.8 -0.9 3.8 -0.7 2.4 -0.7 1.7 -0.8 1 -0.8 0.4 -0.4 0 -0.6-0.3 -1-1.2 -1-2 -1-2.6 -1-3.2 -2.4-9.5 -3-13.3z"/>
<path fill="#aabe69" d="M188.6 271.7l22.6 0 -1.1 13.5 -1.1 10.8 -1.1 9.2 -1.2 6.5 -0.7 3 -0.7 2.6 -0.7 1.8 -0.6 0.8 -0.4 0.6 -0.8 0.3 -0.5-0.1 -0.5-0.3 -1-1.2 -1-2 -1-2.6 -1-3 -2.5-9.3 -2.7-11.9z"/>
<path fill="#b8bd63" d="M188.9 271.7l21.9 0 -1 12.2 -1 9.6 -1 7.6 -1.2 7.2 -0.8 3.1 -0.8 2.4 -0.7 1.7 -0.5 0.8 -0.5 0.5 -0.7 0.2 -0.6-0.1 -0.4-0.3 -0.8-0.9 -1-1.7 -1-2.4 -1-2.9 -2.5-8.8 -2.7-11.6z"/>
<path fill="#c6bc5e" d="M189.3 271.7l21.1 0 -0.8 9.9 -1 9.3 -1 7.3 -1.3 6.9 -0.7 2.9 -0.8 2.3 -0.8 1.6 -0.7 1 -0.7 0.4 -0.6-0.1 -0.4-0.2 -0.8-0.7 -1-1.6 -1-2.2 -1-2.7 -2.2-7.5 -2.8-11z"/>
<path fill="#d3bb58" d="M189.7 271.7l20.3 0 -1 10 -1 8.5 -1 6.6 -0.9 4.9 -0.8 2.9 -0.7 2.2 -0.8 1.5 -0.8 0.9 -0.7 0.3 -0.5 0 -0.5-0.3 -0.7-0.7 -1-1.5 -1-2.2 -1-2.6 -2.3-7.4 -2.5-9.7z"/>
<path fill="#e0ba53" d="M190.1 271.7l19.4 0 -0.8 8 -0.9 7.6 -1 6.3 -1 4.9 -0.8 2.7 -0.7 2 -0.7 1.4 -0.8 0.9 -0.8 0.3 -0.7-0.2 -0.7-0.6 -1-1.3 -1-2 -1-2.5 -2-6.1 -2.6-9.3z"/>
<path fill="#ecb94c" d="M190.6 271.7l18.4 0 -0.7 7 -1 7.3 -0.8 4.7 -0.9 4.4 -1.3 4 -0.7 1.5 -0.8 1 -0.8 0.4 -0.7 0 -0.7-0.5 -1-1.2 -0.8-1.3 -1-2.2 -2-5.6 -2.2-7.8z"/>
<path fill="#f8ba44" d="M191.1 271.7l17.4 0 -1.5 11.2 -0.8 4.8 -0.9 4 -1.3 3.8 -0.7 1.5 -0.7 0.9 -0.8 0.4 -0.8-0.1 -0.7-0.4 -1-1.2 -0.7-1.3 -1-2.1 -1.8-4.7 -2.2-7.5z"/>
<path fill="#fec13a" d="M191.7 271.7l16.2 0 -1.3 9.5 -0.8 3.9 -0.8 3.1 -1.2 3.7 -0.5 1 -0.7 1 -0.8 0.6 -0.8 0.1 -0.7-0.4 -0.7-0.7 -0.8-1 -1-1.9 -1.8-4.2 -2-6.2z"/>
<path fill="#fec932" d="M192.3 271.7l15 0 -1.3 7.5 -0.7 3.6 -0.8 2.7 -1.2 3.3 -0.6 0.9 -0.7 0.8 -0.4 0.2 -0.8 0.1 -0.8-0.3 -0.7-0.7 -1.5-2.3 -1.8-4 -1.7-5.1z"/>
<path fill="#fad12b" d="M193 271.7l13.5 0 -1.1 6 -1.2 4.5 -1.2 2.9 -0.4 0.8 -0.8 0.8 -0.5 0.3 -0.7 0.1 -0.6-0.2 -0.7-0.5 -0.7-0.9 -0.8-1.2 -1.5-3.1 -1.5-4z"/>
<path fill="#f7da24" d="M193.9 271.7l11.8 0 -0.9 4.1 -1 3.4 -1 2.2 -0.5 0.8 -0.7 0.8 -0.6 0.3 -0.4 0.1 -0.6-0.1 -0.7-0.4 -1.3-1.5 -1.2-2.2 -1.5-3.5z"/>
<path fill="#f5e31e" d="M194.8 271.7l9.9 0 -0.7 2.3 -0.7 2.2 -0.7 1.6 -1 1.3 -0.6 0.4 -0.4 0.1 -0.6 0 -0.4-0.1 -1-0.8 -1.3-1.7 -1.3-2.4z"/>
<path fill="#f5ee16" d="M196.1 271.7l7.3 0 -0.9 2 -0.7 1.1 -0.8 0.8 -0.7 0.3 -0.7 0 -0.8-0.4 -1-1.1z"/>
<path fill="#f9fb0e" d="M198.5 271.7l2.5 0 -0.2 0.2 -0.5 0.2 -0.7 0.1z"/>
<path d="M189.8 272.7L205.3 421.0" stroke="#fff" stroke-width="1.35" stroke-dasharray="7 0.8" fill="none"/>
<path d="M220.6 272.7L205.3 421.0" stroke="#fff" stroke-width="1.3" stroke-dasharray="4.5 1.8" fill="none" opacity="0.9"/>
</g>
<path d="M201.4 272.7v1.2M205.6 272.7v1.2M209.9 272.7v1.2M214.2 272.7v1.2" stroke="#222" stroke-width="0.6"/>
<rect x="226.9" y="401.8" width="21.5" height="14.3" fill="#fff"/>
<text x="237.7" y="412.2" font-size="9" fill="#444" text-anchor="middle" font-weight="bold">n=1</text>
<rect x="167.3" y="253.2" width="85.6" height="9.6" fill="url(#gb)" stroke="#555" stroke-width="0.5"/>
<path d="M223.1 253.2v1.3" stroke="#222" stroke-width="0.6"/>
<text x="167.3" y="248.4" font-size="10.2" fill="#4a4a4a" text-anchor="middle">0</text>
<text x="223.1" y="248.4" font-size="10.2" fill="#4a4a4a" text-anchor="middle">0.2</text>
<text x="196.0" y="248.4" font-size="9.8" fill="#4a4a4a" text-anchor="middle" font-weight="bold">Δμ</text>
<text x="164.4" y="276.1" font-size="10.2" fill="#4a4a4a" text-anchor="end">0.3</text>
<text x="164.4" y="325.5" font-size="10.2" fill="#4a4a4a" text-anchor="end">0.2</text>
<text x="164.4" y="375.0" font-size="10.2" fill="#4a4a4a" text-anchor="end">0.1</text>
<text x="164.4" y="424.4" font-size="10.2" fill="#4a4a4a" text-anchor="end">0</text>
<text x="167.9" y="433.2" font-size="10.2" fill="#4a4a4a" text-anchor="middle">0.64</text>
<text x="205.3" y="433.2" font-size="10.2" fill="#4a4a4a" text-anchor="middle">0.67</text>
<text x="252.5" y="433.2" font-size="10.2" fill="#4a4a4a" text-anchor="middle">0.7</text>
<defs><clipPath id="cb2"><rect x="278.8" y="272.7" width="85.1" height="148.3"/></clipPath></defs>
<g clip-path="url(#cb2)"><rect x="277.8" y="271.7" width="87.1" height="150.3" fill="#352a87"/>
<path fill="#36349b" d="M299.3 271.7l41.2 0 0 0.5 -0.2 0.7 -0.1 1.8 -0.2 0.5 0 1.5 -0.2 0.5 -0.1 1.5 -0.2 0.5 0 1.5 -0.2 0.5 0 1.5 -0.3 0.5 0 1.5 -0.2 0.7 -0.1 1.8 -0.2 0.5 0 1.5 -0.2 0.5 -0.1 1.5 -0.2 0.5 0 1.5 -0.2 0.5 -0.1 1.5 -0.2 0.5 0 1.5 -0.2 0.5 0 1.5 -0.3 0.5 0 1.5 -0.2 0.7 0 1.3 -0.2 0.8 -0.2 1.7 -0.1 0.5 -0.1 1.5 -0.2 0.5 0 1.5 -0.2 0.5 -0.1 1.5 -0.2 0.5 0 1.5 -0.2 0.5 -0.1 1.5 -0.2 0.5 0 1.5 -0.2 0.5 -0.1 1.5 -0.2 0.5 0 1.5 -0.2 0.5 -0.1 1.5 -0.2 0.5 0 1.5 -0.2 0.5 -0.1 1.5 -0.2 0.5 0 1.5 -0.2 0.5 -0.1 1.5 -0.2 0.5 -0.3 3.5 -0.2 0.5 0 1.5 -0.2 0.5 -0.1 1.5 -0.2 0.5 0 1 -0.2 1 -0.3 3 -0.2 0.6 -0.1 1.4 -0.2 0.5 0 1.5 -0.2 0.5 -0.1 1.5 -0.2 0.5 0 1.5 -0.2 0.5 -0.1 1.5 -0.2 0.5 0 1.5 -0.2 0.5 -0.1 1.5 -0.2 0.5 -0.3 3 -0.2 0.6 0 1.4 -0.2 0.5 -0.1 1.5 -0.2 0.5 0 1.5 -0.2 0.5 -0.1 1.5 -0.2 0.5 0 1 -0.2 1 -0.1 1 -0.1 0.5 -0.1 1.5 -0.2 0.5 -0.1 1.5 -0.2 0.5 -0.1 1.5 -0.1 0.5 -0.3 3 -0.2 0.5 -0.1 1.5 -0.2 0.5 -0.3 3 -0.4 2.5 -0.1 1.5 -0.2 0.5 -0.1 1.5 -0.2 0.5 -0.2 3 -0.2 0.5 -0.1 1.5 -0.2 0.5 -0.1 1.5 -0.2 0.5 -0.3 3 -0.2 0.5 -0.1 1.5 -0.1 0.5 -0.1 1 -0.4 2.5 -0.4 3 -0.5 3.4 -0.3 0.5 -0.3-1 -1.2-8.4 -0.1-0.5 -0.3-3 -0.2-0.5 -0.3-3 -0.2-0.5 -0.3-3 -0.2-0.5 -0.1-1.5 -0.2-0.5 -0.3-3 -0.2-0.5 -0.3-3 -0.2-0.5 -0.3-3 -0.2-0.5 -0.3-3 -0.2-0.5 -0.3-3 -0.2-0.5 -0.3-3 -0.2-0.5 -0.3-3 -0.2-0.5 -0.3-3 -0.2-0.5 -0.3-3 -0.2-0.5 -0.3-3 -0.2-0.5 -0.1-1 -0.1-0.5 -0.1-1.5 -0.2-0.5 -0.1-1 -0.2-0.5 0-1.5 -0.2-0.5 -0.1-1 -0.2-0.5 0-1.3 -0.2-0.7 -0.1-1 -0.2-0.5 0-1 -0.2-0.5 -0.1-1.5 -0.2-0.5 0-1 -0.2-0.5 -0.1-1.3 -0.2-0.7 0-1 -0.2-0.5 -0.1-1 -0.2-0.5 0-1.5 -0.3-0.5 0-1 -0.2-0.5 -0.3-3 -0.2-0.5 0-1 -0.2-0.5 -0.1-1.2 -0.2-0.8 0-1 -0.2-0.5 -0.1-1 -0.2-0.5 0-1.2 -0.3-0.8 0-1 -0.2-0.5 0-1 -0.2-0.5 -0.3-3 -0.3-0.5 0-1 -0.2-0.5 0-1 -0.2-0.5 -0.1-1.5 -0.2-0.5 0-1 -0.2-0.5 -0.1-1 -0.2-0.5 -0.1-1.3 -0.2-0.7 0-1 -0.2-0.5 0-1 -0.2-0.5 -0.1-1 -0.2-0.5 0-1.5 -0.3-0.5 0-1 -0.2-0.5 0-1 -0.2-0.5 -0.1-1 -0.2-0.5 0-1.5 -0.3-0.5 0-1 -0.2-0.5 0-1 -0.2-0.5 -0.1-1 -0.2-0.5 -0.1-1.3 -0.2-0.7 0-1 -0.2-0.5 0-1 -0.3-0.5 0-1 -0.2-0.5 -0.3-2.9 -0.2-0.6 0-1 -0.3-0.5 0-1 -0.2-0.5 0-1 -0.2-0.5 -0.1-1 -0.2-0.5z"/>
<path fill="#353eaf" d="M299.4 271.7l41.1 0 -8.1 65.5 -4.3 33 -2.2 16 -1.8 14 -1.8 11.8 -0.7 3.1 -0.3 0.2 -0.3-0.4 -0.2-0.8 -1.5-9 -6.2-42.9 -0.4-2.5 -0.1-1 -0.4-2.5 -0.1-1 -0.1-0.5 -0.6-4.5 -0.5-2.5 0-1 -0.2-0.5 -0.6-4.5 -0.4-2.5 -0.1-1 -0.2-0.5 -0.5-4.5 -0.2-0.5 -0.1-1 -0.4-2.5 -0.1-1 -0.1-0.5 -0.1-1 -0.5-2.5 0-1 -0.2-0.5 -0.1-1 -0.4-2.5 -0.1-1 -0.2-0.5 0-1 -0.5-2.5 0-1 -0.2-0.5 -0.1-1 -0.1-0.5 -0.4-3 -0.2-0.5 0-1 -0.2-0.5 -0.1-1 -0.4-2.5 -0.1-1 -0.2-0.5 0-1 -0.2-0.5 -0.1-1 -0.4-2.5 -0.1-1 -0.2-0.5 0-1 -0.2-0.5 -0.1-1 -0.7-4 0-1 -0.2-0.5 -0.1-1 -0.2-0.5 -0.6-4.5 -0.1-0.5 -0.1-1 -0.2-0.5 0-1 -0.2-0.5 -0.1-1z"/>
<path fill="#2d49c3" d="M299.4 271.7l41 0 -7.1 57.5 -7 53.7 -2.5 17.7 -1.5 8.6 -0.5 1.7 -0.2 0.5 -0.3 0.1 -0.3-0.2 -0.4-1.4 -0.8-3.6 -1.2-7.6 -10.4-70.5 -4-26.5 -1-5.5 0-1 -0.2-0.5z"/>
<path fill="#1b55d7" d="M299.5 271.7l40.8 0 -7.5 61.1 -6.3 47.2 -2.4 17 -1.5 8 -0.8 2.3 -0.2 0.3 -0.3 0.1 -0.3-0.1 -0.2-0.4 -0.8-2.4 -1-5 -1.7-10.7 -11.3-75.9z"/>
<path fill="#0462e0" d="M299.5 271.7l40.8 0 -7.3 58.4 -6.2 46.7 -2.5 16.4 -1 5.4 -0.7 3.1 -0.8 1.9 -0.5 0.3 -0.3-0.1 -0.4-0.8 -0.8-2.3 -1.5-7.4 -2-12.2 -10.3-67.9z"/>
<path fill="#036ae1" d="M299.6 271.7l40.6 0 -7.2 57.5 -3.2 24.6 -2.8 19.6 -2.7 17.2 -1 4.9 -0.7 2.7 -0.8 1.6 -0.5 0.3 -0.3 0 -0.2-0.3 -0.5-0.9 -0.7-2.3 -1.8-8.4 -2.2-13.4 -11.1-72.1z"/>
<path fill="#0871de" d="M299.6 271.7l40.5 0 -7.1 56.4 -3.2 24.3 -2.6 17.8 -2.6 16.3 -1 4.7 -1 3.5 -0.8 1.4 -0.5 0.2 -0.3 0 -0.7-1 -1-2.8 -1.7-8 -2.6-14.4z"/>
<path fill="#0f77db" d="M299.7 271.7l40.3 0 -7.2 57.1 -3 22 -2.4 16.4 -2.6 15.2 -1 4.6 -1 3.4 -0.5 1.2 -0.5 0.7 -0.5 0.3 -0.2-0.1 -0.5-0.4 -0.6-0.9 -1-2.8 -1-4.1 -1-4.9 -2.7-15.6z"/>
<path fill="#137dd8" d="M299.8 271.7l40.1 0 -6.8 53.8 -3.1 21.7 -2.4 16.7 -1.6 9 -1.2 6.5 -1 4.2 -1 3.2 -0.5 1 -0.5 0.7 -0.5 0.3 -0.5-0.2 -0.5-0.5 -0.5-1 -1-2.8 -1-4 -1-4.6 -3-16.7z"/>
<path fill="#1484d4" d="M299.9 271.7l39.9 0 -6.8 52.2 -3 21.4 -2.3 15.4 -1.4 8.1 -1.3 6.3 -1.2 5.1 -1 2.9 -0.5 1 -0.5 0.6 -0.5 0.3 -0.5-0.1 -0.5-0.5 -0.5-0.9 -1-2.5 -1-3.6 -1.2-5.6 -3-16.1 -3.8-22.6z"/>
<path fill="#128bd3" d="M300 271.7l39.6 0 -3.3 26.2 -3.3 24.4 -2.7 19.3 -2.4 15.6 -1.6 8.7 -1.3 6.1 -1.2 4.8 -1 2.6 -0.5 0.9 -0.5 0.6 -0.5 0.3 -0.5-0.1 -0.5-0.4 -0.5-0.8 -1.2-3 -1.3-4.5 -1.3-5.6 -3-15.9 -4-23.7z"/>
<path fill="#0d93d2" d="M300.2 271.7l39.2 0 -3.4 26.6 -3 22.1 -2.7 19 -2.4 14.8 -1.6 8.8 -1.3 5.7 -1.2 4.5 -1 2.5 -0.8 1.2 -0.4 0.4 -0.6 0.1 -0.4-0.2 -0.6-0.5 -0.4-0.8 -1.3-3.1 -1.3-4.4 -1.2-5.4 -3.2-16.9 -4-23.4z"/>
<path fill="#089ad0" d="M300.3 271.7l39 0 -3.3 24.9 -3 21.9 -2.7 18.6 -2.3 13.6 -1.4 8 -1.3 5.6 -1.3 4.6 -1.2 3.1 -0.8 1.1 -0.5 0.4 -0.4 0.1 -0.5-0.2 -0.6-0.4 -0.5-0.7 -1.2-2.8 -1.3-4.1 -1.2-5.1 -1.5-7.1 -1.7-9.2 -4.3-24.3z"/>
<path fill="#06a0cd" d="M300.5 271.7l38.6 0 -3 23.1 -3.1 21.6 -2.7 18.2 -2.2 13.1 -1.5 7.9 -1.3 5.4 -1.3 4.3 -1.2 3 -0.8 1 -0.4 0.4 -0.6 0.1 -0.4-0.1 -0.5-0.4 -0.8-1 -1.3-2.9 -1.2-4.1 -1.5-6 -3.3-16.1 -4.2-24z"/>
<path fill="#06a6c7" d="M300.7 271.7l38.2 0 -3.1 23.1 -2.8 19.4 -2.4 16.3 -2.4 13.7 -1.4 7 -1.5 6.4 -1.3 4.1 -1.2 2.8 -0.7 1 -0.5 0.4 -0.6 0.1 -0.4-0.1 -0.6-0.3 -0.7-1 -1.3-2.6 -1.2-3.8 -1.5-5.7 -1.5-6.7 -1.8-8.8 -4.2-23.4z"/>
<path fill="#07aac1" d="M300.9 271.7l37.7 0 -3 22.8 -2.8 19.1 -2.5 15.8 -2.1 11.8 -1.4 6.8 -1.5 6.1 -1.3 3.9 -1.2 2.8 -0.8 0.9 -0.4 0.4 -0.6 0.2 -0.7-0.2 -0.5-0.5 -0.8-1 -1.2-2.6 -1.2-3.8 -1.6-5.6 -1.4-6.6 -1.8-8.5 -4.2-23z"/>
<path fill="#0eaeba" d="M301.1 271.7l37.3 0 -2.8 20.7 -2.8 18.8 -2.5 15.5 -2 11 -1.5 7 -1.5 5.9 -1.3 3.8 -1.2 2.6 -0.8 0.9 -0.4 0.4 -0.5 0.2 -0.8-0.2 -0.5-0.3 -0.8-1 -1.2-2.5 -1.2-3.5 -1.6-5.3 -1.7-7.4 -1.7-8.4 -4.3-22.6z"/>
<path fill="#18b1b2" d="M301.3 271.7l36.8 0 -2.8 20.2 -2.5 16.7 -2.5 15.2 -2 10.9 -1.5 6.7 -1.5 5.6 -1.3 3.7 -1.2 2.5 -0.8 0.9 -0.4 0.4 -0.6 0.2 -0.7-0.1 -0.5-0.4 -0.8-0.8 -1.2-2.3 -1.2-3.3 -1.6-5.1 -1.7-7.1 -1.7-8 -4.3-22.1z"/>
<path fill="#24b5aa" d="M301.5 271.7l36.3 0 -2.8 19.6 -2.4 16.3 -2.3 13.3 -2 10.4 -1.5 6.7 -1.2 4.6 -1.5 4.4 -1.3 2.4 -0.8 0.9 -0.4 0.4 -0.6 0.2 -0.7-0.1 -0.5-0.3 -0.8-0.7 -0.7-1.2 -0.7-1.5 -1.3-3.3 -1.5-5 -1.8-7 -1.7-7.9 -4-20.3z"/>
<path fill="#33b8a1" d="M301.8 271.7l35.7 0 -2.5 17.1 -2.4 16.1 -2.3 13 -2 10.3 -1.5 6.3 -1.5 5.4 -1.3 3.4 -1.2 2.3 -0.8 0.9 -0.4 0.4 -0.6 0.2 -0.7 0 -0.5-0.3 -0.8-0.7 -0.7-1 -0.7-1.5 -1.6-3.8 -1.4-4.9 -1.6-5.8 -1.7-7.6 -4-19.8z"/>
<path fill="#43bb97" d="M302.1 271.7l35.1 0 -2.6 17.9 -2.3 14 -2.3 12.6 -1.8 9 -1.4 5.9 -1.5 5.1 -1.3 3.3 -1.2 2.4 -0.7 0.9 -0.5 0.3 -0.6 0.2 -0.7 0 -0.5-0.2 -0.8-0.6 -0.7-1 -0.7-1.4 -1.5-3.6 -1.5-4.6 -1.6-5.6 -1.7-7.4 -4-19.3z"/>
<path fill="#55bd8e" d="M302.4 271.7l34.4 0 -2.2 15.2 -2.3 13.8 -2 11.1 -2.1 9.9 -1.4 5.9 -1.2 4.2 -1.6 4 -1.2 2.3 -0.8 0.9 -0.4 0.3 -0.6 0.3 -0.7 0 -0.5-0.2 -0.8-0.6 -0.7-0.9 -0.7-1.3 -1.6-3.4 -1.4-4.4 -1.6-5.4 -1.7-7.1 -4-18.8z"/>
<path fill="#67be85" d="M302.7 271.7l33.8 0 -2.2 14.1 -2.3 13.4 -2 10.6 -1.9 9.3 -1.5 5.8 -1.3 4 -1.5 3.7 -1.2 2 -0.8 0.8 -0.5 0.3 -0.5 0.1 -0.8 0 -0.4-0.3 -0.8-0.6 -0.8-1 -0.7-1.2 -1.3-2.8 -1.4-4.2 -1.6-5.2 -1.7-6.8 -3.7-17.1z"/>
<path fill="#7abf7c" d="M303 271.7l33.1 0 -2.3 14.3 -2 11.5 -2 10.3 -1.7 7.8 -1.5 5.7 -1.3 3.9 -1.5 3.6 -1.2 2 -0.8 0.8 -0.5 0.3 -0.5 0.2 -0.8-0.1 -0.4-0.2 -0.8-0.6 -0.8-0.8 -0.7-1.2 -1.3-2.6 -1.4-4.1 -1.6-4.9 -1.7-6.6 -3.7-16.7z"/>
<path fill="#8bbf75" d="M303.4 271.7l32.2 0 -2 12.8 -2 11.2 -1.8 8.8 -1.9 8.2 -1.3 5 -1.5 4.5 -1.3 2.8 -1.2 2 -0.7 0.7 -0.6 0.4 -0.5 0.2 -0.8 0 -0.4-0.2 -0.8-0.5 -0.8-0.8 -0.7-1.2 -1.3-2.4 -1.4-3.9 -1.6-4.7 -1.7-6.4 -3.5-15z"/>
<path fill="#9bbf6f" d="M303.8 271.7l31.4 0 -1.9 11.3 -2 10.8 -1.7 8.5 -1.8 7.3 -1.5 5.3 -1.3 3.6 -1.2 2.7 -1.2 2 -1.3 1.1 -0.5 0.2 -0.8 0 -0.4-0.1 -0.8-0.5 -0.8-0.7 -0.7-1.1 -1.3-2.3 -1.4-3.7 -1.5-4.5 -1.5-5.3 -3.6-14.4z"/>
<path fill="#aabe69" d="M304.2 271.7l30.5 0 -1.9 11 -1.8 9.1 -1.7 8.2 -1.7 6.7 -1.3 4.5 -1.5 4.1 -1.2 2.6 -1.3 1.8 -1.2 0.9 -0.5 0.2 -0.8-0.1 -0.5-0.1 -0.7-0.6 -1.3-1.4 -1.3-2.2 -1.4-3.5 -1.6-4.4 -1.4-5.1 -3.3-12.9z"/>
<path fill="#b8bd63" d="M304.7 271.7l29.5 0 -3.4 18 -1.8 7.8 -1.4 5.9 -1.6 4.9 -1.2 3.3 -1.2 2.5 -1.3 1.8 -1.3 1 -0.4 0.1 -0.8 0 -0.5-0.1 -0.7-0.5 -1.3-1.4 -1.3-2.1 -1.4-3.3 -1.3-3.4 -1.5-4.8 -3.2-12.4z"/>
<path fill="#c6bc5e" d="M305.1 271.7l28.5 0 -1.6 8.5 -1.7 8.4 -1.5 6.4 -1.5 5.6 -1.2 4 -1.3 3.2 -1.2 2.5 -1.3 1.8 -1.3 1 -0.4 0.1 -0.8 0.1 -0.5-0.2 -0.7-0.4 -1.3-1.3 -1.3-1.9 -1.4-3.2 -1.3-3.3 -1.5-4.6 -3-11z"/>
<path fill="#d3bb58" d="M305.7 271.7l27.3 0 -3 14.6 -1.4 6.2 -1.5 5.2 -1.3 3.8 -1.2 3.1 -1.3 2.3 -1.3 1.6 -1 0.8 -0.5 0.2 -0.7 0 -0.5-0.1 -0.7-0.3 -1.3-1.2 -1.3-1.9 -1.2-2.5 -1.2-3 -1.6-4.3 -3-10.5z"/>
<path fill="#e0ba53" d="M306.2 271.7l26.2 0 -2.8 13.2 -1.3 4.9 -1.4 4.9 -1.1 3.1 -1.2 3 -1.3 2.3 -1.3 1.6 -1 0.8 -0.4 0.2 -0.8 0.1 -0.5-0.1 -0.7-0.3 -1.3-1.1 -1.3-1.8 -1.2-2.3 -1.2-2.9 -1.3-3.4 -1.5-4.7 -1.5-5.3z"/>
<path fill="#ecb94c" d="M306.8 271.7l24.9 0 -2.7 11.6 -2.4 8.4 -1 3 -1.3 2.8 -1.3 2.2 -1 1.2 -1 0.8 -0.4 0.2 -0.8 0.2 -1-0.3 -1.2-0.8 -1.3-1.6 -1.3-2.1 -1.2-2.7 -1.2-3.2 -2.8-8.5z"/>
<path fill="#f8ba44" d="M307.5 271.7l23.5 0 -2.4 9.9 -2.3 7.3 -1.3 3.2 -1 2.1 -1.2 2 -1 1.2 -1 0.7 -1 0.2 -1-0.1 -1.2-0.9 -1-1 -1.3-2 -1.3-2.4 -1.2-3 -2.5-7.3z"/>
<path fill="#fec13a" d="M308.2 271.7l22 0 -2.2 8 -2 6.1 -1.2 3.1 -1 2 -1 1.5 -1 1.2 -1 0.7 -1 0.3 -1-0.1 -1.2-0.8 -1-1 -1.3-1.8 -1-1.8 -1.3-2.8 -2.2-6.1z"/>
<path fill="#fec932" d="M309.1 271.7l20.1 0 -1.9 6.8 -1.7 4.9 -1 2.2 -1 1.9 -1.1 1.5 -0.7 0.8 -1 0.7 -1 0.3 -1 0 -1-0.5 -1-0.9 -1-1.2 -1-1.6 -1.2-2.4 -2.3-5.6z"/>
<path fill="#fad12b" d="M310 271.7l18.2 0 -1.6 5.2 -1.5 3.8 -1.8 3.4 -1 1.4 -0.7 0.7 -0.8 0.5 -1 0.4 -1 0 -1-0.5 -0.8-0.5 -1-1.1 -1-1.4 -1-1.8 -2-4.4z"/>
<path fill="#f7da24" d="M311.1 271.7l16 0 -1.3 3.5 -1.2 2.8 -1.8 3 -1.5 1.6 -0.7 0.5 -0.8 0.3 -0.8 0 -1-0.3 -0.7-0.4 -1-0.9 -1.7-2.5 -1.8-3.4z"/>
<path fill="#f5e31e" d="M312.4 271.7l13.3 0 -1.9 3.9 -1.5 2.2 -1.3 1.2 -1.2 0.6 -0.8 0.1 -0.7-0.1 -0.7-0.4 -0.8-0.5 -1.5-1.7 -1.5-2.4z"/>
<path fill="#f5ee16" d="M314.1 271.7l9.8 0 -1.1 1.7 -1 1.2 -1 0.8 -1 0.5 -1.2 0 -1-0.3 -1.3-1 -1-1.1z"/>
<path fill="#f9fb0e" d="M317.1 271.7l3.6 0 -0.1 0.1 -0.8 0.3 -1 0.2 -0.8-0.2z"/>
<path d="M301.3 272.7L321.3 421.0" stroke="#fff" stroke-width="1.35" stroke-dasharray="7 0.8" fill="none"/>
<path d="M341.2 272.7L321.3 421.0" stroke="#fff" stroke-width="1.3" stroke-dasharray="4.5 1.8" fill="none" opacity="0.9"/>
</g>
<path d="M312.8 272.7v1.2M317.1 272.7v1.2M321.4 272.7v1.2M325.6 272.7v1.2" stroke="#222" stroke-width="0.6"/>
<rect x="338.9" y="401.8" width="21.5" height="14.2" fill="#fff"/>
<text x="349.6" y="412.1" font-size="9" fill="#444" text-anchor="middle" font-weight="bold">n=0</text>
<rect x="278.3" y="253.2" width="85.4" height="9.6" fill="url(#gb)" stroke="#555" stroke-width="0.5"/>
<path d="M333.9 253.2v1.3" stroke="#222" stroke-width="0.6"/>
<text x="278.3" y="248.4" font-size="10.2" fill="#4a4a4a" text-anchor="middle">0</text>
<text x="333.9" y="248.4" font-size="10.2" fill="#4a4a4a" text-anchor="middle">0.2</text>
<text x="307.0" y="248.4" font-size="9.8" fill="#4a4a4a" text-anchor="middle" font-weight="bold">Δμ</text>
<text x="275.4" y="276.1" font-size="10.2" fill="#4a4a4a" text-anchor="end">0.3</text>
<text x="275.4" y="325.5" font-size="10.2" fill="#4a4a4a" text-anchor="end">0.2</text>
<text x="275.4" y="375.0" font-size="10.2" fill="#4a4a4a" text-anchor="end">0.1</text>
<text x="275.4" y="424.4" font-size="10.2" fill="#4a4a4a" text-anchor="end">0</text>
<text x="279.4" y="433.2" font-size="10.2" fill="#4a4a4a" text-anchor="middle">1.8</text>
<text x="321.3" y="433.2" font-size="10.2" fill="#4a4a4a" text-anchor="middle">2</text>
<text x="363.9" y="433.2" font-size="10.2" fill="#4a4a4a" text-anchor="middle">2.2</text>
<text transform="translate(27.3 344.6) rotate(-90)" font-size="14.5" fill="#333" text-anchor="middle" style="font-family:'Liberation Serif',serif">Γ<tspan font-size="9" dy="2.5">0</tspan><tspan dy="-2.5">/J</tspan></text>
<text x="209.3" y="455.0" font-size="14.5" fill="#333" text-anchor="middle" style="font-family:'Liberation Serif',serif">Ω/J</text>
<text transform="translate(23.8 30.9) scale(0.86 1)" font-size="24" fill="#000">a</text>
<text transform="translate(16.3 235.6) scale(1.00 1)" font-size="23" fill="#000">b</text>
<text transform="translate(430.9 30.4) scale(0.92 1)" font-size="20.5" fill="#000">c</text>
<text transform="translate(655.8 34.1) scale(0.95 1)" font-size="19.5" fill="#000">d</text>
<text transform="translate(655.8 250.6) scale(0.95 1)" font-size="19.5" fill="#000">e</text>
<defs><linearGradient id="gr" x1="0" y1="0" x2="0" y2="1"><stop offset="0" stop-color="#dd1a24"/><stop offset="0.08" stop-color="#e62c35"/><stop offset="0.4" stop-color="#ee5157"/><stop offset="0.62" stop-color="#f37b7f"/><stop offset="0.8" stop-color="#f9b9bb"/><stop offset="0.93" stop-color="#fdeaea"/><stop offset="1" stop-color="#fff"/></linearGradient><filter id="bl" x="-10%" y="-10%" width="120%" height="120%"><feGaussianBlur stdDeviation="0.6"/></filter><filter id="bl2" x="-10%" y="-10%" width="120%" height="120%"><feGaussianBlur stdDeviation="0.35"/></filter><linearGradient id="grn" x1="0" y1="0" x2="0" y2="1"><stop offset="0" stop-color="#df1c25"/><stop offset="0.35" stop-color="#ec4a50"/><stop offset="0.62" stop-color="#f8b0b2" stop-opacity="0.8"/><stop offset="0.7" stop-color="#fff" stop-opacity="0"/><stop offset="1" stop-color="#fff" stop-opacity="0"/></linearGradient><linearGradient id="gcb" x1="0" y1="0" x2="0" y2="1"><stop offset="0" stop-color="#e21e27"/><stop offset="0.3" stop-color="#ec4248"/><stop offset="0.7" stop-color="#f8a9ab"/><stop offset="1" stop-color="#fff"/></linearGradient></defs>
<defs><clipPath id="cc"><rect x="464.0" y="39.0" width="157.5" height="48.7"/></clipPath></defs>
<g clip-path="url(#cc)"><g filter="url(#bl)">
<path fill="#fce5e6" d="M524.9 38l33 0 -0.9 3 -0.1 0.5 -0.9 3 -0.4 1.5 -0.4 1 0 0.5 -1 3 -0.3 1.5 -0.4 1 -0.4 1.5 -0.4 1 -0.3 1.5 -0.4 1 -0.4 1.5 -0.4 1 -0.3 1.5 -0.4 1 -0.4 1.5 -0.4 1 0 0.5 -1 3 -1.8 5.5 0 0.5 -3.1 9.5 -1 2.7 -0.3 0.4 -0.3-0.1 -0.5-1 -1-3 -3.7-11 -2.6-7.5 -0.1-0.5 -0.4-1 -0.1-0.5 -0.4-1 -0.1-0.5 -0.5-1 0-0.5 -1.7-4.5 -0.1-0.5 -0.4-1 -0.8-2.5 -0.5-1 0-0.5 -0.5-1 -0.3-1 -0.4-1 -0.1-0.5 -1.2-3 0-0.5 -1.2-3 -0.1-0.5z"/>
<path fill="#fad2d4" d="M525 38l32.8 0 -5.3 18 -3.4 11 -3.1 9.8 -2 5.6 -0.8 1.6 -0.4 0.6 -0.6 0.2 -0.4-0.4 -1-2 -1.6-3.9 -8.1-23.5z"/>
<path fill="#f9c1c4" d="M525.1 38l32.5 0 -4.4 15 -3.7 12.1 -3.3 9.8 -2 4.9 -0.7 1.4 -0.7 0.7 -0.6 0.1 -0.7-0.5 -0.7-1.1 -0.8-1.5 -2-5z"/>
<path fill="#f7b1b4" d="M525.2 38l32.3 0 -4 13.5 -3.7 11.8 -3 8.6 -1.3 3.1 -1 2.1 -1 1.4 -0.7 0.6 -0.8 0 -0.8-0.5 -0.7-0.9 -1-1.8 -2.5-5.9z"/>
<path fill="#f5a2a5" d="M525.4 38l31.9 0 -3.8 12.5 -3.5 10.8 -3 8.2 -1.2 2.9 -1 1.8 -1 1.4 -1 0.7 -0.8 0.1 -1-0.6 -1-1.3 -1-1.7 -2.5-5.5 -3.3-8.3z"/>
<path fill="#f49497" d="M525.7 38l31.3 0 -3.8 12.1 -3.1 9.4 -3.1 8 -1.2 2.6 -1 1.6 -1 1.2 -1 0.6 -1 0 -1-0.6 -1-1.1 -1-1.6 -1.3-2.4 -1.5-3.2 -3.5-8.7z"/>
<path fill="#f3858a" d="M526 38l30.7 0 -3.7 11.5 -2.8 8 -3 7.2 -1.2 2.5 -1.2 1.9 -1.3 1.2 -1 0.5 -1-0.1 -1-0.6 -1-1.1 -1.3-1.8 -1.2-2.3 -1.5-3.2 -3.5-8.2z"/>
<path fill="#f1787d" d="M526.3 38l30 0 -3.3 10 -2.8 7.5 -2.7 6.4 -1.3 2.4 -1.2 1.8 -1.2 1.3 -1 0.5 -1 0.1 -1.3-0.6 -1.3-1.2 -1.2-1.7 -1.2-2.1 -1.6-3 -3.4-7.9z"/>
<path fill="#f06a70" d="M526.7 38l29.1 0 -3 8.9 -2.6 6.6 -1.4 3.5 -1.6 3 -1.2 2.1 -1.2 1.6 -1.3 1.1 -1 0.4 -1 0 -1.3-0.6 -1.2-1.1 -1.2-1.7 -1.3-1.9 -1.5-2.8 -3.5-7.6z"/>
<path fill="#ee5d63" d="M527.2 38l28.1 0 -2.8 7.7 -2.3 5.8 -2.7 5.6 -1.3 2.1 -1.2 1.5 -1.2 1.1 -1.3 0.6 -1 0 -1.3-0.5 -1.2-1 -1.2-1.4 -1.3-1.8 -1.5-2.6 -3.5-7.1z"/>
<path fill="#ed5057" d="M527.7 38l26.9 0 -2.6 7 -2.1 5 -1.4 2.8 -1.3 2.2 -1.2 1.9 -1.2 1.4 -1.3 0.9 -1 0.4 -1 0 -1.3-0.4 -1.2-0.8 -1.2-1.3 -1.3-1.7 -1.5-2.3 -3.2-6.2z"/>
<path fill="#ec444b" d="M528.4 38l25.5 0 -2.1 5.4 -2.1 4.6 -2.5 4.4 -1.2 1.8 -1.2 1.3 -1.3 0.9 -1 0.4 -1.3 0 -1.2-0.4 -1.2-0.8 -1.3-1.2 -1.3-1.6 -1.2-1.9 -3-5.3z"/>
<path fill="#eb383f" d="M529.1 38l24 0 -2.1 4.8 -1.8 3.6 -1.2 2.2 -1.2 1.9 -1.3 1.5 -1 0.9 -1.3 0.8 -1 0.3 -1 0.1 -1.2-0.4 -1-0.5 -1.2-1.1 -1.3-1.3 -1.3-1.7 -2.7-4.5z"/>
<path fill="#e92b33" d="M529.9 38l22.2 0 -1.6 3.5 -1.6 3 -1.1 1.9 -1.3 1.7 -1.2 1.4 -1.1 0.8 -1 0.6 -1 0.3 -1 0.1 -1.2-0.3 -1-0.5 -1.2-0.9 -2.3-2.4 -2.5-3.7z"/>
</g></g>
<path d="M522.5 44.7H563" stroke="#5b2f86" stroke-width="1.2" stroke-dasharray="4.6 3.4" opacity="0.8"/>
<path d="M522.5 66.6H563" stroke="#edb120" stroke-width="1.2" stroke-dasharray="4.6 3.4" opacity="0.8"/>
<path d="M522.5 72.2H563" stroke="#d95319" stroke-width="1.2" stroke-dasharray="4.6 3.4" opacity="0.8"/>
<path d="M522.5 78.4H563" stroke="#0b72b8" stroke-width="1.2" stroke-dasharray="4.6 3.4" opacity="0.8"/>
<rect x="604.3" y="45.2" width="12.4" height="36" fill="url(#gcb)" stroke="#3a3a3a" stroke-width="0.9"/>
<text x="602.6" y="52.0" font-size="10.3" fill="#808080" text-anchor="end">0.9</text>
<text x="602.6" y="67.0" font-size="10.3" fill="#808080" text-anchor="end">0.5</text>
<text x="599.6" y="84.3" font-size="10.3" fill="#808080" text-anchor="end">0</text>
<defs><clipPath id="cm"><rect x="464.0" y="87.7" width="157.5" height="329.4"/></clipPath></defs>
<g clip-path="url(#cm)">
<path d="M533.3 88.0V126.0M527.9 125.3V131.3M537.5 121.2V124.2M542.7 123.4V129.4M523.7 124.8V154.8M518.6 135.0V169.0M546.3 136.4V140.4M551.9 139.4V165.4M555.3 154.2V158.2M514.9 166.8V178.8M509.6 189.2V193.2M505.9 204.0V216.0M500.2 222.0V226.0M496.5 224.5V229.5M491.2 228.1V260.1M487.7 244.6V248.6M481.8 250.4V263.4M472.6 260.8V264.8M469.3 255.9V275.9M478.3 270.3V273.3M560.5 186.1V192.1M564.1 179.3V189.3M569.7 187.0V210.0M573.5 209.9V226.9M579.1 196.4V223.6M582.5 232.2V242.2M587.5 239.4V243.4M592.3 244.8V270.8M597.6 255.0V261.0M601.1 267.1V271.1M606.6 268.3V296.3M615.8 260.9V265.9" stroke="#7a2d8c" stroke-width="1.25" fill="none" opacity="0.9"/>
<g fill="#7a2d8c"><circle cx="533.3" cy="107.0" r="1.9"/><circle cx="527.9" cy="128.3" r="1.9"/><circle cx="537.5" cy="122.7" r="1.9"/><circle cx="542.7" cy="126.4" r="1.9"/><circle cx="523.7" cy="139.8" r="1.9"/><circle cx="518.6" cy="152.0" r="1.9"/><circle cx="546.3" cy="138.4" r="1.9"/><circle cx="551.9" cy="152.4" r="1.9"/><circle cx="555.3" cy="156.2" r="1.9"/><circle cx="514.9" cy="172.8" r="1.9"/><circle cx="509.6" cy="191.2" r="1.9"/><circle cx="505.9" cy="210.0" r="1.9"/><circle cx="500.2" cy="224.0" r="1.9"/><circle cx="496.5" cy="227.0" r="1.9"/><circle cx="491.2" cy="244.1" r="1.9"/><circle cx="487.7" cy="246.6" r="1.9"/><circle cx="481.8" cy="256.9" r="1.9"/><circle cx="472.6" cy="262.8" r="1.9"/><circle cx="469.3" cy="265.9" r="1.9"/><circle cx="478.3" cy="271.8" r="1.9"/><circle cx="560.5" cy="189.1" r="1.9"/><circle cx="564.1" cy="184.3" r="1.9"/><circle cx="569.7" cy="198.5" r="1.9"/><circle cx="573.5" cy="218.4" r="1.9"/><circle cx="579.1" cy="210.0" r="1.9"/><circle cx="582.5" cy="237.2" r="1.9"/><circle cx="587.5" cy="241.4" r="1.9"/><circle cx="592.3" cy="257.8" r="1.9"/><circle cx="597.6" cy="258.0" r="1.9"/><circle cx="601.1" cy="269.1" r="1.9"/><circle cx="606.6" cy="282.3" r="1.9"/><circle cx="615.8" cy="263.4" r="1.9"/></g>
<path d="M463.9 277.4C464.9 277.0 468.0 276.6 470.0 275.0C472.0 273.4 474.1 270.6 476.0 268.0C477.9 265.4 479.4 262.3 481.4 259.2C483.3 256.1 485.9 252.3 487.7 249.2C489.4 246.0 489.8 244.8 491.9 240.3C493.9 235.8 497.6 228.2 500.0 222.0C502.4 215.8 503.9 210.5 506.0 203.0C508.1 195.5 510.8 184.5 512.8 177.0C514.8 169.5 516.1 164.2 518.0 158.0C519.9 151.8 522.3 144.3 524.3 139.8C526.3 135.3 527.9 132.9 530.0 131.0C532.1 129.1 534.9 128.3 536.9 128.3C538.9 128.3 540.3 129.1 542.0 131.0C543.7 132.9 545.6 136.3 547.3 139.8C549.0 143.3 550.4 147.8 552.0 152.0C553.6 156.2 554.7 160.2 556.7 165.0C558.7 169.8 561.5 174.3 564.0 181.0C566.5 187.7 569.4 196.8 572.0 205.0C574.6 213.2 577.3 223.1 579.8 229.9C582.3 236.7 584.7 241.0 587.1 246.0C589.5 251.0 592.1 255.8 594.4 260.0C596.7 264.2 598.5 268.1 601.0 271.0C603.5 273.9 605.7 276.2 609.1 277.4C612.5 278.6 619.4 277.9 621.5 278.0" fill="none" stroke="#3c3c3c" stroke-width="1.20"/>
<path d="M539.0 222.2V232.2M549.4 222.0V237.0M542.1 239.3V242.3M546.3 233.1V237.1M534.3 241.5V247.5M553.2 241.1V247.1M532.7 246.8V254.8M530.6 251.7V259.7M533.7 245.1V251.1M552.6 243.0V249.0M477.8 305.0V319.0M487.7 310.5V313.5M496.5 318.8V322.8M501.9 318.9V326.9M506.5 313.2V321.2M514.9 284.8V309.8M512.8 293.4V303.4M519.1 281.9V291.9M522.2 273.5V283.5M524.3 256.7V266.7M527.0 261.0V271.0M558.8 260.9V270.9M562.6 266.0V293.0M564.7 272.4V280.4M569.7 290.2V300.2M571.4 294.4V302.4M578.1 313.2V321.2M587.7 303.9V317.9M597.6 308.1V322.1M556.0 254.0V262.0" stroke="#edb120" stroke-width="1.25" fill="none" opacity="0.9"/>
<g fill="#edb120"><circle cx="539.0" cy="227.2" r="1.9"/><circle cx="549.4" cy="232.0" r="1.9"/><circle cx="542.1" cy="240.8" r="1.9"/><circle cx="546.3" cy="235.1" r="1.9"/><circle cx="534.3" cy="244.5" r="1.9"/><circle cx="553.2" cy="244.1" r="1.9"/><circle cx="532.7" cy="250.8" r="1.9"/><circle cx="530.6" cy="255.7" r="1.9"/><circle cx="533.7" cy="248.1" r="1.9"/><circle cx="552.6" cy="246.0" r="1.9"/><circle cx="477.8" cy="312.0" r="1.9"/><circle cx="487.7" cy="312.0" r="1.9"/><circle cx="496.5" cy="320.8" r="1.9"/><circle cx="501.9" cy="322.9" r="1.9"/><circle cx="506.5" cy="317.2" r="1.9"/><circle cx="514.9" cy="297.3" r="1.9"/><circle cx="512.8" cy="298.4" r="1.9"/><circle cx="519.1" cy="286.9" r="1.9"/><circle cx="522.2" cy="278.5" r="1.9"/><circle cx="524.3" cy="261.7" r="1.9"/><circle cx="527.0" cy="266.0" r="1.9"/><circle cx="558.8" cy="265.9" r="1.9"/><circle cx="562.6" cy="279.5" r="1.9"/><circle cx="564.7" cy="276.4" r="1.9"/><circle cx="569.7" cy="295.2" r="1.9"/><circle cx="571.4" cy="298.4" r="1.9"/><circle cx="578.1" cy="317.2" r="1.9"/><circle cx="587.7" cy="310.9" r="1.9"/><circle cx="597.6" cy="315.1" r="1.9"/><circle cx="556.0" cy="258.0" r="1.9"/></g>
<path d="M463.9 313.6C465.4 313.4 470.3 312.4 473.0 312.4C475.7 312.4 477.5 312.6 480.0 313.5C482.5 314.4 485.3 316.6 488.0 318.0C490.7 319.4 493.8 321.4 496.0 322.0C498.2 322.6 499.3 322.5 501.0 321.5C502.7 320.5 504.0 320.0 506.0 316.0C508.0 312.0 510.5 303.3 512.8 297.3C515.1 291.3 517.2 287.2 520.0 280.0C522.8 272.8 527.0 260.7 529.5 254.0C532.0 247.3 533.4 243.5 535.0 240.0C536.6 236.5 537.8 234.5 539.0 233.0C540.2 231.5 541.1 231.0 542.1 231.0C543.1 231.0 543.9 231.5 545.0 233.0C546.1 234.5 547.4 236.5 549.0 240.0C550.6 243.5 552.8 249.0 554.6 254.0C556.4 259.0 557.9 263.8 560.0 270.0C562.1 276.2 565.0 285.0 567.2 291.0C569.4 297.0 570.9 301.4 573.0 306.0C575.1 310.6 577.4 315.5 579.8 318.3C582.1 321.1 585.1 322.4 587.1 322.9C589.1 323.4 590.4 322.3 592.0 321.5C593.6 320.7 595.8 318.8 596.5 318.3" fill="none" stroke="#3c3c3c" stroke-width="1.20"/>
<path d="M537.9 286.0V294.0M542.1 282.4V296.4M540.0 294.3V298.3M545.2 296.8V302.8M548.4 299.6V305.6M551.5 304.8V310.8M534.8 297.5V303.5M532.7 304.8V310.8M530.6 309.0V315.0M528.5 313.2V319.2M525.8 317.3V323.3M555.7 313.2V321.2M559.9 315.3V323.3M558.8 320.5V326.5M523.7 326.8V334.8M520.1 333.1V341.1M562.6 331.4V339.4M553.5 309.0V315.0M477.8 355.5V358.5M487.3 351.5V365.5M496.5 356.6V359.6M505.5 360.8V363.8M514.9 353.1V363.1M519.1 335.7V343.7M521.6 331.5V339.5M524.3 327.3V335.3M563.0 330.5V340.5M564.7 342.9V348.9M569.7 346.2V356.2M578.7 355.6V367.6M587.7 358.4V375.4M597.6 355.6V360.6M606.6 352.4V362.4" stroke="#d95319" stroke-width="1.25" fill="none" opacity="0.9"/>
<g fill="#d95319"><circle cx="537.9" cy="290.0" r="1.9"/><circle cx="542.1" cy="289.4" r="1.9"/><circle cx="540.0" cy="296.3" r="1.9"/><circle cx="545.2" cy="299.8" r="1.9"/><circle cx="548.4" cy="302.6" r="1.9"/><circle cx="551.5" cy="307.8" r="1.9"/><circle cx="534.8" cy="300.5" r="1.9"/><circle cx="532.7" cy="307.8" r="1.9"/><circle cx="530.6" cy="312.0" r="1.9"/><circle cx="528.5" cy="316.2" r="1.9"/><circle cx="525.8" cy="320.3" r="1.9"/><circle cx="555.7" cy="317.2" r="1.9"/><circle cx="559.9" cy="319.3" r="1.9"/><circle cx="558.8" cy="323.5" r="1.9"/><circle cx="523.7" cy="330.8" r="1.9"/><circle cx="520.1" cy="337.1" r="1.9"/><circle cx="562.6" cy="335.4" r="1.9"/><circle cx="553.5" cy="312.0" r="1.9"/><circle cx="477.8" cy="357.0" r="1.9"/><circle cx="487.3" cy="358.5" r="1.9"/><circle cx="496.5" cy="358.1" r="1.9"/><circle cx="505.5" cy="362.3" r="1.9"/><circle cx="514.9" cy="358.1" r="1.9"/><circle cx="519.1" cy="339.7" r="1.9"/><circle cx="521.6" cy="335.5" r="1.9"/><circle cx="524.3" cy="331.3" r="1.9"/><circle cx="563.0" cy="335.5" r="1.9"/><circle cx="564.7" cy="345.9" r="1.9"/><circle cx="569.7" cy="351.2" r="1.9"/><circle cx="578.7" cy="361.6" r="1.9"/><circle cx="587.7" cy="366.9" r="1.9"/><circle cx="597.6" cy="358.1" r="1.9"/><circle cx="606.6" cy="357.4" r="1.9"/></g>
<path d="M477.2 357.4C478.8 357.6 484.0 357.7 487.0 358.5C490.0 359.3 492.3 360.6 495.0 362.0C497.7 363.4 501.1 366.6 503.4 366.9C505.7 367.2 507.1 366.1 509.0 364.0C510.9 361.9 513.1 358.1 514.9 354.3C516.7 350.5 518.3 345.7 520.0 341.0C521.7 336.3 523.5 331.0 525.3 326.0C527.1 321.0 529.2 315.5 531.0 311.0C532.8 306.5 534.4 301.6 536.0 299.0C537.6 296.4 538.9 295.4 540.4 295.2C541.9 295.0 543.4 296.0 545.0 298.0C546.6 300.0 548.4 303.3 550.0 307.0C551.6 310.7 552.9 315.6 554.6 320.3C556.3 325.0 558.4 330.4 560.0 335.0C561.6 339.6 562.2 343.2 564.1 348.0C566.0 352.8 569.0 360.4 571.4 363.7C573.8 367.0 576.1 367.8 578.7 367.9C581.3 368.0 584.0 366.1 587.0 364.5C590.0 362.9 593.0 359.7 596.5 358.5C600.0 357.3 606.1 357.6 608.0 357.4" fill="none" stroke="#3c3c3c" stroke-width="1.20"/>
<path d="M535.8 350.9V365.4M541.5 351.3V359.3M534.8 360.7V366.7M537.9 359.7V365.7M543.1 357.6V363.6M545.2 360.7V366.7M548.4 363.9V369.9M532.7 368.0V374.0M530.6 374.3V380.3M528.5 380.6V386.6M526.4 386.9V392.9M550.5 370.1V376.1M552.6 376.4V382.4M554.6 383.7V389.7M557.8 393.2V399.2M517.0 397.8V400.8M522.2 395.7V401.7M523.3 398.4V404.4M520.1 402.6V408.6M519.1 405.7V411.7M514.9 408.8V412.8M505.5 399.0V405.0M496.5 399.4V403.4M487.3 405.1V408.1M560.9 403.6V409.6M563.0 401.5V407.5M566.2 401.1V407.1M568.3 409.2V413.2M570.3 404.6V408.6M560.9 407.8V413.8M579.1 398.4V406.4M588.1 402.2V408.2M597.6 411.8V414.8M539.8 356.0V362.0M529.5 377.0V383.0M551.6 373.0V379.0M556.0 388.0V394.0" stroke="#0b72b8" stroke-width="1.25" fill="none" opacity="0.9"/>
<g fill="#0b72b8"><circle cx="535.8" cy="356.4" r="1.9"/><circle cx="541.5" cy="355.3" r="1.9"/><circle cx="534.8" cy="363.7" r="1.9"/><circle cx="537.9" cy="362.7" r="1.9"/><circle cx="543.1" cy="360.6" r="1.9"/><circle cx="545.2" cy="363.7" r="1.9"/><circle cx="548.4" cy="366.9" r="1.9"/><circle cx="532.7" cy="371.0" r="1.9"/><circle cx="530.6" cy="377.3" r="1.9"/><circle cx="528.5" cy="383.6" r="1.9"/><circle cx="526.4" cy="389.9" r="1.9"/><circle cx="550.5" cy="373.1" r="1.9"/><circle cx="552.6" cy="379.4" r="1.9"/><circle cx="554.6" cy="386.7" r="1.9"/><circle cx="557.8" cy="396.2" r="1.9"/><circle cx="517.0" cy="399.3" r="1.9"/><circle cx="522.2" cy="398.7" r="1.9"/><circle cx="523.3" cy="401.4" r="1.9"/><circle cx="520.1" cy="405.6" r="1.9"/><circle cx="519.1" cy="408.7" r="1.9"/><circle cx="514.9" cy="410.8" r="1.9"/><circle cx="505.5" cy="402.0" r="1.9"/><circle cx="496.5" cy="401.4" r="1.9"/><circle cx="487.3" cy="406.6" r="1.9"/><circle cx="560.9" cy="406.6" r="1.9"/><circle cx="563.0" cy="404.5" r="1.9"/><circle cx="566.2" cy="404.1" r="1.9"/><circle cx="568.3" cy="411.2" r="1.9"/><circle cx="570.3" cy="406.6" r="1.9"/><circle cx="560.9" cy="410.8" r="1.9"/><circle cx="579.1" cy="402.4" r="1.9"/><circle cx="588.1" cy="405.2" r="1.9"/><circle cx="597.6" cy="413.3" r="1.9"/><circle cx="539.8" cy="359.0" r="1.9"/><circle cx="529.5" cy="380.0" r="1.9"/><circle cx="551.6" cy="376.0" r="1.9"/><circle cx="556.0" cy="391.0" r="1.9"/></g>
<path d="M487.3 406.2C488.1 405.8 490.5 404.2 492.0 403.5C493.5 402.8 494.8 402.0 496.5 402.0C498.2 402.0 500.1 402.5 502.0 403.5C503.9 404.5 506.2 406.8 508.0 408.0C509.8 409.2 511.3 410.6 512.8 410.8C514.3 411.0 515.6 410.5 517.0 409.0C518.4 407.5 519.6 404.8 521.0 402.0C522.4 399.2 523.8 396.0 525.3 392.0C526.8 388.0 528.4 382.6 530.0 378.0C531.6 373.4 533.5 367.8 535.0 364.5C536.5 361.2 537.7 359.1 539.0 358.5C540.3 357.9 541.5 359.1 543.0 361.0C544.5 362.9 546.1 365.5 548.0 370.0C549.9 374.5 552.5 382.1 554.6 387.8C556.8 393.5 559.0 400.2 560.9 404.0C562.8 407.8 564.4 409.2 566.0 410.5C567.6 411.8 568.6 412.1 570.3 411.9C572.0 411.7 574.0 410.6 576.0 409.5C578.0 408.4 580.0 406.0 582.0 405.0C584.0 404.0 586.3 403.5 588.1 403.5C589.9 403.5 591.6 404.4 593.0 405.0C594.4 405.6 595.9 406.7 596.5 407.0" fill="none" stroke="#3c3c3c" stroke-width="1.20"/>
</g>
<rect x="464.0" y="39.0" width="157.5" height="378.1" fill="none" stroke="#3a3a3a" stroke-width="1.5"/>
<path d="M464.0 87.7H621.5" stroke="#3a3a3a" stroke-width="1.5"/>
<path d="M502.8 417.1v-3M502.8 87.7v-2.6M542.4 417.1v-3M542.4 87.7v-2.6M582.0 417.1v-3M582.0 87.7v-2.6M464.0 384.5h2.6M464.0 340.2h2.6M464.0 296.0h2.6M464.0 251.7h2.6M464.0 207.5h2.6M464.0 163.2h2.6M464.0 118.9h2.6M464.0 49.8h2.6M621.5 49.8h-2.6M464.0 69.4h2.6M621.5 69.4h-2.6" stroke="#3a3a3a" stroke-width="0.9" fill="none"/>
<text transform="translate(458.0 389.2) scale(0.93 1)" font-size="13.4" fill="#6a6a6a" text-anchor="end">2</text>
<text transform="translate(458.0 344.9) scale(0.93 1)" font-size="13.4" fill="#6a6a6a" text-anchor="end">4</text>
<text transform="translate(458.0 300.7) scale(0.93 1)" font-size="13.4" fill="#6a6a6a" text-anchor="end">6</text>
<text transform="translate(458.0 256.4) scale(0.93 1)" font-size="13.4" fill="#6a6a6a" text-anchor="end">8</text>
<text transform="translate(458.0 212.2) scale(0.93 1)" font-size="13.4" fill="#6a6a6a" text-anchor="end">10</text>
<text transform="translate(458.0 167.9) scale(0.93 1)" font-size="13.4" fill="#6a6a6a" text-anchor="end">12</text>
<text transform="translate(458.0 123.6) scale(0.93 1)" font-size="13.4" fill="#6a6a6a" text-anchor="end">14</text>
<text transform="translate(458.0 54.3) scale(0.93 1)" font-size="13.4" fill="#6a6a6a" text-anchor="end">0.2</text>
<text transform="translate(458.0 73.9) scale(0.93 1)" font-size="13.4" fill="#6a6a6a" text-anchor="end">0.1</text>
<text transform="translate(462.9 437.0) scale(0.93 1)" font-size="13.2" fill="#6a6a6a" text-anchor="middle">1.6</text>
<text transform="translate(502.5 437.0) scale(0.93 1)" font-size="13.2" fill="#6a6a6a" text-anchor="middle">1.8</text>
<text transform="translate(542.1 437.0) scale(0.93 1)" font-size="13.2" fill="#6a6a6a" text-anchor="middle">2</text>
<text transform="translate(581.7 437.0) scale(0.93 1)" font-size="13.2" fill="#6a6a6a" text-anchor="middle">2.2</text>
<text x="542.3" y="455.0" font-size="13" fill="#6a6a6a" text-anchor="middle">Ω/J</text>
<text transform="translate(434.4 64.8) rotate(-90)" font-size="11.5" fill="#6a6a6a" text-anchor="middle">Γ/J</text>
<text transform="translate(434.0 252.0) rotate(-90)" font-size="12" fill="#6a6a6a" text-anchor="middle">n</text>
<text x="470.9" y="110.4" font-size="13.2" fill="#5a5a5a" text-anchor="start"><tspan font-style="italic">ϕ</tspan> = 90°</text>
<defs><clipPath id="cid38"><rect x="695.3" y="38.1" width="151.3" height="48.2"/></clipPath><clipPath id="cmd38"><rect x="695.3" y="86.3" width="151.3" height="109.0"/></clipPath></defs>
<g clip-path="url(#cid38)"><g filter="url(#bl2)">
<path fill="#fce5e6" d="M773 37.1l9.9 0 -0.1 2 -0.2 0.5 0 4.5 -0.2 1 -0.1 4 -0.2 1 0 3.5 -0.2 0.5 -0.1 3.5 -0.2 0.5 0 3 -0.2 0.5 -0.1 2.5 -0.2 1 -0.1 2 -0.4 2.5 -0.2 0.6 -0.2 0.3 -0.8 0.2 -0.8-0.1 -0.4-0.3 -0.3-0.5 -0.6-3.2 -0.1-1.5 -0.2-0.5 -0.1-1.5 -0.2-0.5 0-1 -0.2-1 -0.1-1 -0.2-0.5 0-1.5 -0.2-0.5 -0.1-1.5 -0.2-0.5 0-1 -0.2-0.5 -0.1-1.5 -0.2-0.5 0-1 -0.2-0.5 -0.1-1.5 -0.2-0.5 0-1 -0.2-0.5 -0.1-1.2 -0.2-0.8 0-1 -0.3-0.5 0-1 -0.2-0.5 0-1 -0.2-0.5 -0.1-1 -0.2-0.5 0-1.2z"/>
<path fill="#fad2d4" d="M773.2 37.1l9.6 0 -0.2 2.5 -0.1 4 -0.2 1.5 0 3.5 -0.2 1.5 -0.1 3 -0.2 1 0 2.5 -0.2 1.5 -0.1 2.5 -0.5 5 -0.4 1.9 -0.2 0.8 -0.2 0.4 -0.6 0.3 -0.7 0.1 -0.5-0.3 -0.5-0.8 -0.3-0.8 -1-6.6 -0.6-5 -0.2-0.5 -0.3-2 0-1 -0.2-0.5 -0.3-3 -0.2-0.5 -0.1-1 -0.4-2.5 -0.1-1 -0.2-0.5 0-1 -0.2-0.5z"/>
<path fill="#f9c1c4" d="M773.2 37.1l9.5 0 -0.8 15.5 -0.5 7.5 -0.4 4 -0.4 1.9 -0.2 0.7 -0.2 0.5 -0.6 0.4 -0.7 0.1 -0.5-0.3 -0.5-0.8 -0.3-0.7 -0.7-3.8 -1.9-13.5z"/>
<path fill="#f7b1b4" d="M773.3 37.1l9.4 0 -0.8 14.8 -0.5 7.4 -0.4 3.3 -0.4 2.1 -0.2 0.7 -0.2 0.5 -0.6 0.5 -0.4 0.1 -0.5-0.1 -0.5-0.6 -0.6-1 -0.7-3.2 -1.8-13z"/>
<path fill="#f5a2a5" d="M773.3 37.1l9.3 0 -0.7 13.5 -0.7 10.3 -0.2 1.2 -0.6 2.1 -0.5 0.8 -0.5 0.4 -0.5 0 -0.5-0.3 -0.5-0.8 -0.5-1.3 -0.5-2.1z"/>
<path fill="#f49497" d="M773.4 37.1l9.1 0 -0.6 11.9 -0.9 12.1 -0.6 2 -0.5 0.9 -0.5 0.3 -0.5 0.1 -0.5-0.3 -0.5-0.7 -0.5-1.2 -0.5-2.3z"/>
<path fill="#f3858a" d="M773.4 37.1l9 0 -0.7 13.8 -0.8 8.9 -0.2 1.3 -0.3 1 -0.5 0.9 -0.5 0.4 -0.5 0 -0.5-0.3 -0.5-0.6 -0.5-1.2z"/>
<path fill="#f1787d" d="M773.5 37.1l8.8 0 -0.7 11.6 -0.9 10.4 -0.3 2 -0.2 0.6 -0.6 0.6 -0.4 0.3 -0.6-0.2 -0.5-0.4 -0.5-0.9 -1-5.2z"/>
<path fill="#f06a70" d="M773.6 37.1l8.6 0 -0.8 12.6 -0.9 8.4 -0.4 2.5 -0.1 0.5 -0.4 0.4 -0.4 0.2 -0.6-0.1 -0.4-0.4 -0.3-0.6 -1.3-6z"/>
<path fill="#ee5d63" d="M773.8 37.1l8.3 0 -1 12.9 -0.8 7.1 -0.4 2 -0.6 1.5 -0.4 0.1 -0.2-0.1 -0.5-1.1 -0.8-2.8 -0.8-3.6z"/>
<path fill="#ed5057" d="M773.9 37.1l8 0 -0.7 10.2 -1 7.3 -0.6 2.7 -0.4 0.9 -0.3 0.1 -0.3-0.1 -0.7-1.6 -0.7-2.8 -0.8-3.5z"/>
<path fill="#ec444b" d="M774.1 37.1l7.6 0 -0.8 9.9 -0.7 5.4 -0.6 2.1 -0.4 1.1 -0.3 0.2 -0.2-0.1 -0.3-0.2 -0.5-1 -0.7-2.5 -0.8-3.2z"/>
<path fill="#eb383f" d="M774.3 37.1l7.2 0 -0.6 7 -0.9 6 -0.4 1.7 -0.5 1.1 -0.2 0.3 -0.3 0 -0.2-0.1 -0.5-0.8 -0.7-2.2 -0.8-2.9z"/>
<path fill="#e92b33" d="M774.6 37.1l6.7 0 -0.7 6.1 -0.7 4.7 -0.5 1.8 -0.5 0.9 -0.2 0.1 -0.3-0.1 -0.5-0.6 -0.7-1.9 -0.8-2.6z"/>
</g></g>
<path d="M761.8 65.6H797.5" stroke="#d95319" stroke-width="1" stroke-dasharray="4.2 2.6" opacity="0.85"/>
<path d="M761.8 74.0H797.5" stroke="#0b72b8" stroke-width="1" stroke-dasharray="4.2 2.6" opacity="0.85"/>
<path d="M778.8 70.4l3.6 3.6-3.6 3.6-3.6-3.6z" fill="#fff" stroke="#222" stroke-width="1.2"/>
<rect x="828.7" y="43.2" width="13.3" height="35.8" fill="url(#gcb)" stroke="#3a3a3a" stroke-width="0.9"/>
<text x="826.8" y="50.5" font-size="10.3" fill="#808080" text-anchor="end">0.9</text>
<text x="826.8" y="65.4" font-size="10.3" fill="#808080" text-anchor="end">0.5</text>
<text x="823.8" y="82.2" font-size="10.3" fill="#808080" text-anchor="end">0</text>
<g clip-path="url(#cmd38)">
<path d="M699.8 111.1V128.5M709.2 117.5V133.5M718.9 122.2V152.2M728.4 122.5V149.5M737.8 125.2V149.2M747.5 115.5V131.5M757.0 100.8V127.8M766.4 89.4V110.4M775.7 88.4V121.4M785.1 116.8V131.8M794.8 119.7V153.7M804.3 137.2V158.2M813.7 147.1V161.1M823.4 143.4V158.4M832.9 134.7V148.7M842.3 127.7V166.7" stroke="#d95319" stroke-width="1.30" fill="none" opacity="0.9"/>
<g fill="#d95319"><circle cx="699.8" cy="119.8" r="2.0"/><circle cx="709.2" cy="125.5" r="2.0"/><circle cx="718.9" cy="137.2" r="2.0"/><circle cx="728.4" cy="136.0" r="2.0"/><circle cx="737.8" cy="137.2" r="2.0"/><circle cx="747.5" cy="123.5" r="2.0"/><circle cx="757.0" cy="114.3" r="2.0"/><circle cx="766.4" cy="99.9" r="2.0"/><circle cx="775.7" cy="104.9" r="2.0"/><circle cx="785.1" cy="124.3" r="2.0"/><circle cx="794.8" cy="136.7" r="2.0"/><circle cx="804.3" cy="147.7" r="2.0"/><circle cx="813.7" cy="154.1" r="2.0"/><circle cx="823.4" cy="150.9" r="2.0"/><circle cx="832.9" cy="141.7" r="2.0"/><circle cx="842.3" cy="147.2" r="2.0"/></g>
<path d="M695.3 137.2C696.7 136.6 700.7 133.7 703.5 133.5C706.3 133.3 709.2 134.7 712.0 136.0C714.8 137.3 717.7 140.1 720.0 141.5C722.3 142.9 723.7 144.1 725.9 144.2C728.1 144.3 730.5 144.2 733.0 142.0C735.5 139.8 738.2 135.1 741.0 131.0C743.8 126.9 746.8 120.8 749.5 117.3C752.2 113.8 754.6 112.5 757.0 110.0C759.4 107.5 761.8 103.9 764.0 102.0C766.2 100.1 768.2 98.8 770.2 98.7C772.2 98.6 774.0 99.3 776.0 101.5C778.0 103.7 779.8 107.3 782.0 112.0C784.2 116.7 786.8 124.3 789.3 129.8C791.8 135.3 794.4 140.6 797.0 145.0C799.6 149.4 802.3 153.7 805.0 156.5C807.7 159.3 810.2 161.5 813.0 162.1C815.8 162.7 818.8 161.4 822.0 160.0C825.2 158.6 827.9 155.8 832.0 153.5C836.1 151.2 844.2 147.2 846.6 145.9" fill="none" stroke="#3c3c3c" stroke-width="1.20"/>
<path d="M706.7 168.3V179.3M716.4 154.6V174.6M725.9 160.1V188.1M735.3 155.8V180.8M744.6 167.3V196.3M754.0 150.9V165.9M758.7 145.9V161.9M763.7 130.7V157.7M768.2 121.8V142.8M773.2 129.0V148.0M777.6 127.5V149.5M781.9 134.7V149.7M786.8 153.4V169.4M791.3 156.6V176.6M801.0 176.3V180.3M810.5 167.8V178.8M819.9 167.1V182.1M829.1 157.3V174.3M838.4 159.1V174.1" stroke="#0b72b8" stroke-width="1.30" fill="none" opacity="0.9"/>
<g fill="#0b72b8"><circle cx="706.7" cy="173.8" r="2.0"/><circle cx="716.4" cy="164.6" r="2.0"/><circle cx="725.9" cy="174.1" r="2.0"/><circle cx="735.3" cy="168.3" r="2.0"/><circle cx="744.6" cy="180.3" r="2.0"/><circle cx="754.0" cy="158.4" r="2.0"/><circle cx="758.7" cy="153.9" r="2.0"/><circle cx="763.7" cy="144.2" r="2.0"/><circle cx="768.2" cy="132.3" r="2.0"/><circle cx="773.2" cy="138.5" r="2.0"/><circle cx="777.6" cy="138.5" r="2.0"/><circle cx="781.9" cy="142.2" r="2.0"/><circle cx="786.8" cy="161.4" r="2.0"/><circle cx="791.3" cy="166.6" r="2.0"/><circle cx="801.0" cy="178.3" r="2.0"/><circle cx="810.5" cy="173.3" r="2.0"/><circle cx="819.9" cy="174.6" r="2.0"/><circle cx="829.1" cy="165.8" r="2.0"/><circle cx="838.4" cy="166.6" r="2.0"/></g>
<path d="M706.7 168.3C707.6 167.5 709.8 164.6 712.0 163.5C714.2 162.4 717.0 161.4 719.7 161.6C722.4 161.8 725.1 163.0 728.0 164.5C730.9 166.0 734.2 169.2 737.0 170.5C739.8 171.8 742.3 173.3 744.6 172.6C746.9 171.8 748.5 169.4 751.0 166.0C753.5 162.6 757.0 156.2 759.5 152.2C762.0 148.2 763.7 144.6 766.0 142.0C768.3 139.4 771.0 136.7 773.2 136.7C775.4 136.7 776.7 138.2 779.0 142.0C781.3 145.8 784.3 154.3 786.8 159.6C789.3 164.8 791.8 169.9 794.0 173.5C796.2 177.1 798.2 179.5 800.0 181.0C801.8 182.5 803.2 182.8 805.0 182.3C806.8 181.8 808.8 180.1 811.0 178.0C813.2 175.9 815.5 172.1 818.0 170.0C820.5 167.9 823.3 165.8 826.0 165.3C828.7 164.8 830.6 165.5 834.0 167.0C837.4 168.5 844.5 172.9 846.6 174.1" fill="none" stroke="#3c3c3c" stroke-width="1.20"/>
</g>
<rect x="695.3" y="38.1" width="151.3" height="157.2" fill="none" stroke="#3a3a3a" stroke-width="1.5"/>
<path d="M695.3 86.3H846.6" stroke="#3a3a3a" stroke-width="1.5"/>
<text transform="translate(689.0 99.6) scale(0.94 1)" font-size="13.5" fill="#6a6a6a" text-anchor="end">1.8</text>
<text transform="translate(689.0 118.3) scale(0.94 1)" font-size="13.5" fill="#6a6a6a" text-anchor="end">1.6</text>
<text transform="translate(689.0 136.9) scale(0.94 1)" font-size="13.5" fill="#6a6a6a" text-anchor="end">1.4</text>
<text transform="translate(689.0 155.6) scale(0.94 1)" font-size="13.5" fill="#6a6a6a" text-anchor="end">1.2</text>
<text transform="translate(689.0 174.3) scale(0.94 1)" font-size="13.5" fill="#6a6a6a" text-anchor="end">1</text>
<text transform="translate(689.0 193.0) scale(0.94 1)" font-size="13.5" fill="#6a6a6a" text-anchor="end">0.8</text>
<text transform="translate(689.0 54.0) scale(0.94 1)" font-size="13.5" fill="#6a6a6a" text-anchor="end">0.2</text>
<text transform="translate(689.0 71.9) scale(0.94 1)" font-size="13.5" fill="#6a6a6a" text-anchor="end">0.1</text>
<path d="M745.9 195.3v-3M745.9 86.3v-2.6M796.5 195.3v-3M796.5 86.3v-2.6M695.3 94.9h2.6M695.3 113.6h2.6M695.3 132.2h2.6M695.3 150.9h2.6M695.3 169.6h2.6M695.3 188.3h2.6M695.3 49.3h2.6M846.6 49.3h-2.6M695.3 67.2h2.6M846.6 67.2h-2.6" stroke="#3a3a3a" stroke-width="0.9" fill="none"/>
<text transform="translate(662.2 64.0) rotate(-90)" font-size="12.5" fill="#6a6a6a" text-anchor="middle" style="font-family:'Liberation Serif',serif">Γ/J</text>
<text transform="translate(663.0 143.0) rotate(-90)" font-size="12" fill="#6a6a6a" text-anchor="middle">n</text>
<text transform="translate(745.4 214.2) scale(0.94 1)" font-size="13.3" fill="#6a6a6a" text-anchor="middle">0.6</text>
<text transform="translate(796.0 214.2) scale(0.94 1)" font-size="13.3" fill="#6a6a6a" text-anchor="middle">0.7</text>
<text x="770.0" y="232.6" font-size="11.5" fill="#7a7a7a" text-anchor="middle">Ω/J</text>
<text x="702.3" y="99.0" font-size="13" fill="#5a5a5a" text-anchor="start"><tspan font-style="italic">ϕ</tspan> = 45°</text>
<defs><clipPath id="cid261"><rect x="695.3" y="261.5" width="151.3" height="48.3"/></clipPath><clipPath id="cmd261"><rect x="695.3" y="309.8" width="151.3" height="109.1"/></clipPath></defs>
<g clip-path="url(#cid261)"><g filter="url(#bl2)">
<path fill="#fce5e6" d="M765.2 260.5l6.7 0 0 9 -0.2 2 -0.1 10.5 -0.2 1 0 5.5 -0.3 2 -0.1 2.5 -0.3 1.3 -0.3 0.2 -0.4 0.1 -0.6-0.2 -0.2-0.5 -0.3-1.4 -0.1-2 -0.3-1 0-1.5 -0.2-1 -0.1-1.5 -0.2-1 0-1.5 -0.2-0.5 -0.1-2 -0.2-0.5 0-2 -0.3-0.5 0-1.5 -0.2-0.5 0-1.5 -0.3-1 0-1.5 -0.2-0.5 0-1.5 -0.3-0.5 0-1.5 -0.2-0.5 0-1.5 -0.3-0.5 0-1.5 -0.2-0.5 0-1 -0.2-0.5z"/>
<path fill="#fad2d4" d="M765.3 260.5l6.5 0 -0.2 20 -0.3 7 -0.3 3.5 -0.3 1.3 -0.3 0.4 -0.4 0.2 -0.6-0.3 -0.4-1.5 -0.9-6.6 -0.3-4 -0.2-1 -0.1-1.5 -0.2-0.5 0-1.5 -0.5-3 0-1.5 -0.2-0.5 -0.1-1.5 -0.2-0.5 0-1.5 -0.2-0.5 -0.1-1.5 -0.2-0.5 0-1.5 -0.2-0.5z"/>
<path fill="#f9c1c4" d="M765.3 260.5l6.5 0 -0.3 19 -0.3 7 -0.2 3.1 -0.3 1.1 -0.3 0.5 -0.4 0.3 -0.6-0.3 -0.4-1.4 -0.9-5.8 -1.3-12.5z"/>
<path fill="#f7b1b4" d="M765.4 260.5l6.3 0 -0.2 18.5 -0.3 6.9 -0.3 2.6 -0.5 1.4 -0.2 0.3 -0.2 0.1 -0.3-0.1 -0.5-0.7 -0.5-1.9 -0.5-3.6 -1.4-12.5z"/>
<path fill="#f5a2a5" d="M765.4 260.5l6.2 0 -0.2 16.7 -0.2 7.4 -0.4 2.9 -0.4 1.2 -0.2 0.4 -0.2 0.1 -0.3-0.1 -0.5-0.7 -0.5-1.7 -0.5-3.4 -1.3-11.8z"/>
<path fill="#f49497" d="M765.4 260.5l6.2 0 -0.2 13.7 -0.3 10.3 -0.3 2 -0.4 1.1 -0.2 0.4 -0.2 0.1 -0.3 0 -0.5-0.6 -0.5-1.6 -0.3-1.3 -1.5-13.1z"/>
<path fill="#f3858a" d="M765.5 260.5l6 0 0 9.9 -0.3 8.9 -0.2 5.2 -0.2 1 -0.4 1.1 -0.2 0.4 -0.2 0.2 -0.3-0.1 -0.5-0.5 -0.5-1.5z"/>
<path fill="#f1787d" d="M765.6 260.5l5.9 0 -0.3 15.5 -0.4 8.5 -0.4 1.1 -0.2 0.5 -0.2 0.1 -0.3 0 -0.5-0.5 -0.4-1.2z"/>
<path fill="#f06a70" d="M765.7 260.5l5.7 0 -0.2 11.6 -0.2 6.3 -0.4 5.1 -0.2 1.1 -0.2 0.6 -0.2 0.2 -0.3 0 -0.3-0.2 -0.4-0.7z"/>
<path fill="#ee5d63" d="M765.7 260.5l5.6 0 -0.3 14.3 -0.3 4.3 -0.3 3.4 -0.4 1.9 -0.3 0.1 -0.3-0.4 -0.4-1.9 -1-6.2z"/>
<path fill="#ed5057" d="M765.9 260.5l5.3 0 -0.3 11 -0.2 4.1 -0.4 4.4 -0.3 1.6 -0.3 0.3 -0.3-0.1 -0.4-1.6 -1-5.5z"/>
<path fill="#ec444b" d="M766 260.5l5.1 0 -0.4 11.3 -0.5 5.6 -0.2 1.3 -0.3 0.6 -0.3 0 -0.2-0.4 -0.5-1.7 -1-5.5z"/>
<path fill="#eb383f" d="M766.1 260.5l4.8 0 -0.3 8.5 -0.5 6 -0.4 1.5 -0.3 0.3 -0.2-0.2 -0.5-1.4 -1-4.9z"/>
<path fill="#e92b33" d="M766.3 260.5l4.5 0 -0.4 7.2 -0.4 4.8 -0.3 1.2 -0.3 0.4 -0.2 0 -0.5-1 -1-4.3z"/>
</g></g>
<path d="M751.5 295.5H788.5" stroke="#d95319" stroke-width="1" stroke-dasharray="4.2 2.6" opacity="0.85"/>
<path d="M751.5 299.2H788.5" stroke="#0b72b8" stroke-width="1" stroke-dasharray="4.2 2.6" opacity="0.85"/>
<circle cx="770.2" cy="299.2" r="2.6" fill="#fff" stroke="#1c1cc8" stroke-width="1.2"/>
<rect x="828.3" y="268.3" width="13.0" height="36.2" fill="url(#gcb)" stroke="#3a3a3a" stroke-width="0.9"/>
<text x="826.8" y="276.0" font-size="10.3" fill="#808080" text-anchor="end">0.9</text>
<text x="826.8" y="291.0" font-size="10.3" fill="#808080" text-anchor="end">0.5</text>
<text x="823.8" y="307.6" font-size="10.3" fill="#808080" text-anchor="end">0</text>
<g clip-path="url(#cmd261)">
<path d="M703.0 327.8V362.8M712.2 330.5V360.5M720.9 331.3V368.3M729.6 361.7V373.7M738.8 342.4V384.4M747.5 378.1V382.1M751.5 346.0V375.0M756.2 319.8V349.8M765.2 313.4V332.4M773.7 313.6V343.6M782.6 310.9V339.9M791.8 324.8V369.8M800.5 354.1V401.1M809.2 358.7V375.7M818.4 337.2V378.2M827.2 347.5V374.5M835.9 334.9V391.9M844.8 356.6V391.6" stroke="#d95319" stroke-width="1.30" fill="none" opacity="0.9"/>
<g fill="#d95319"><circle cx="703.0" cy="345.3" r="2.0"/><circle cx="712.2" cy="345.5" r="2.0"/><circle cx="720.9" cy="349.8" r="2.0"/><circle cx="729.6" cy="367.7" r="2.0"/><circle cx="738.8" cy="363.4" r="2.0"/><circle cx="747.5" cy="380.1" r="2.0"/><circle cx="751.5" cy="360.5" r="2.0"/><circle cx="756.2" cy="334.8" r="2.0"/><circle cx="765.2" cy="322.9" r="2.0"/><circle cx="773.7" cy="328.6" r="2.0"/><circle cx="782.6" cy="325.4" r="2.0"/><circle cx="791.8" cy="347.3" r="2.0"/><circle cx="800.5" cy="377.6" r="2.0"/><circle cx="809.2" cy="367.2" r="2.0"/><circle cx="818.4" cy="357.7" r="2.0"/><circle cx="827.2" cy="361.0" r="2.0"/><circle cx="835.9" cy="363.4" r="2.0"/><circle cx="844.8" cy="374.1" r="2.0"/></g>
<path d="M695.3 368.4C695.9 369.0 697.6 371.1 699.0 372.0C700.4 372.9 701.7 374.1 703.5 373.9C705.3 373.6 707.9 371.9 710.0 370.5C712.1 369.1 714.2 366.4 716.0 365.2C717.8 364.0 719.1 363.3 720.9 363.4C722.7 363.5 725.0 364.6 727.0 366.0C729.0 367.4 731.1 370.1 733.0 371.5C734.9 372.9 736.5 374.7 738.3 374.6C740.1 374.5 742.0 373.3 744.0 371.0C746.0 368.7 747.8 364.9 750.0 361.0C752.2 357.1 754.7 351.8 757.0 347.3C759.3 342.8 761.8 337.2 764.0 334.0C766.2 330.8 768.0 327.8 770.2 328.1C772.4 328.4 774.6 331.1 777.0 336.0C779.4 340.9 782.1 351.0 784.4 357.2C786.7 363.4 789.1 369.0 791.0 373.0C792.9 377.0 794.4 379.1 796.0 381.0C797.6 382.9 798.8 384.4 800.5 384.6C802.2 384.8 804.1 383.7 806.0 382.0C807.9 380.3 809.8 376.6 812.0 374.5C814.2 372.4 816.7 370.3 819.2 369.7C821.7 369.1 824.2 369.9 827.0 371.0C829.8 372.1 832.7 375.1 836.0 376.5C839.3 377.9 844.8 379.1 846.6 379.6" fill="none" stroke="#3c3c3c" stroke-width="1.20"/>
<path d="M695.3 406.7V414.7M704.7 384.5V419.5M713.4 392.0V407.0M722.7 384.6V392.0M731.4 404.7V412.7M740.1 399.7V417.7M749.0 373.6V411.6M758.2 368.4V393.4M766.9 353.5V368.5M775.7 375.4V382.4M784.9 383.3V393.3M793.6 384.8V405.8M802.5 384.8V415.8M811.2 389.1V394.1M819.9 369.9V381.9M829.1 381.1V407.1M837.9 379.6V399.6" stroke="#0b72b8" stroke-width="1.30" fill="none" opacity="0.9"/>
<g fill="#0b72b8"><circle cx="695.3" cy="410.7" r="2.0"/><circle cx="704.7" cy="407.5" r="2.0"/><circle cx="713.4" cy="399.5" r="2.0"/><circle cx="722.7" cy="388.3" r="2.0"/><circle cx="731.4" cy="408.7" r="2.0"/><circle cx="740.1" cy="408.7" r="2.0"/><circle cx="749.0" cy="392.6" r="2.0"/><circle cx="758.2" cy="380.9" r="2.0"/><circle cx="766.9" cy="361.0" r="2.0"/><circle cx="775.7" cy="378.9" r="2.0"/><circle cx="784.9" cy="388.3" r="2.0"/><circle cx="793.6" cy="395.3" r="2.0"/><circle cx="802.5" cy="400.3" r="2.0"/><circle cx="811.2" cy="391.6" r="2.0"/><circle cx="819.9" cy="375.9" r="2.0"/><circle cx="829.1" cy="394.1" r="2.0"/><circle cx="837.9" cy="389.6" r="2.0"/></g>
<path d="M695.3 399.5C695.9 400.1 697.6 402.0 699.0 402.8C700.4 403.6 701.7 404.6 703.5 404.5C705.3 404.4 707.8 403.4 710.0 402.5C712.2 401.6 715.0 399.7 717.0 399.0C719.0 398.3 720.4 398.1 722.2 398.3C724.0 398.6 726.2 399.6 728.0 400.5C729.8 401.4 731.5 403.1 733.0 404.0C734.5 404.9 735.4 405.9 737.1 405.7C738.8 405.5 740.9 404.8 743.0 403.0C745.1 401.2 747.7 398.1 750.0 395.0C752.3 391.9 754.8 388.5 757.0 384.6C759.2 380.7 760.9 375.2 763.0 371.5C765.1 367.8 767.2 362.4 769.4 362.2C771.6 361.9 773.5 365.9 776.0 370.0C778.5 374.1 781.9 382.4 784.4 387.1C786.9 391.8 789.0 395.2 791.0 398.0C793.0 400.8 794.7 402.5 796.5 403.8C798.3 405.1 799.9 405.9 801.8 405.7C803.7 405.5 805.8 404.0 808.0 402.5C810.2 401.0 812.7 397.9 815.0 396.5C817.3 395.1 819.4 394.3 821.7 394.1C824.0 393.9 826.3 394.5 829.0 395.5C831.7 396.5 835.1 398.8 838.0 400.0C840.9 401.2 845.2 402.1 846.6 402.5" fill="none" stroke="#3c3c3c" stroke-width="1.20"/>
</g>
<rect x="695.3" y="261.5" width="151.3" height="157.4" fill="none" stroke="#3a3a3a" stroke-width="1.5"/>
<path d="M695.3 309.8H846.6" stroke="#3a3a3a" stroke-width="1.5"/>
<text transform="translate(689.0 323.4) scale(0.94 1)" font-size="13.5" fill="#6a6a6a" text-anchor="end">1.6</text>
<text transform="translate(689.0 350.3) scale(0.94 1)" font-size="13.5" fill="#6a6a6a" text-anchor="end">1.4</text>
<text transform="translate(689.0 377.3) scale(0.94 1)" font-size="13.5" fill="#6a6a6a" text-anchor="end">1.2</text>
<text transform="translate(689.0 404.2) scale(0.94 1)" font-size="13.5" fill="#6a6a6a" text-anchor="end">1</text>
<text transform="translate(689.0 277.5) scale(0.94 1)" font-size="13.5" fill="#6a6a6a" text-anchor="end">0.2</text>
<text transform="translate(689.0 295.7) scale(0.94 1)" font-size="13.5" fill="#6a6a6a" text-anchor="end">0.1</text>
<path d="M723.4 418.9v-3M723.4 309.8v-2.6M770.2 418.9v-3M770.2 309.8v-2.6M818.0 418.9v-3M818.0 309.8v-2.6M695.3 318.7h2.6M695.3 345.6h2.6M695.3 372.6h2.6M695.3 399.5h2.6M695.3 272.8h2.6M846.6 272.8h-2.6M695.3 291.0h2.6M846.6 291.0h-2.6" stroke="#3a3a3a" stroke-width="0.9" fill="none"/>
<text transform="translate(662.2 286.6) rotate(-90)" font-size="12.5" fill="#6a6a6a" text-anchor="middle" style="font-family:'Liberation Serif',serif">Γ/J</text>
<text transform="translate(663.0 366.5) rotate(-90)" font-size="12" fill="#6a6a6a" text-anchor="middle">n</text>
<text transform="translate(722.8 438.0) scale(0.94 1)" font-size="13.3" fill="#6a6a6a" text-anchor="middle">0.35</text>
<text transform="translate(770.0 438.0) scale(0.94 1)" font-size="13.3" fill="#6a6a6a" text-anchor="middle">0.4</text>
<text transform="translate(817.3 438.0) scale(0.94 1)" font-size="13.3" fill="#6a6a6a" text-anchor="middle">0.45</text>
<text x="770.0" y="455.2" font-size="11.5" fill="#7a7a7a" text-anchor="middle">Ω/J</text>
<text x="702.3" y="322.8" font-size="13" fill="#5a5a5a" text-anchor="start"><tspan font-style="italic">ϕ</tspan> = 18°</text>
</svg>
</body></html>
